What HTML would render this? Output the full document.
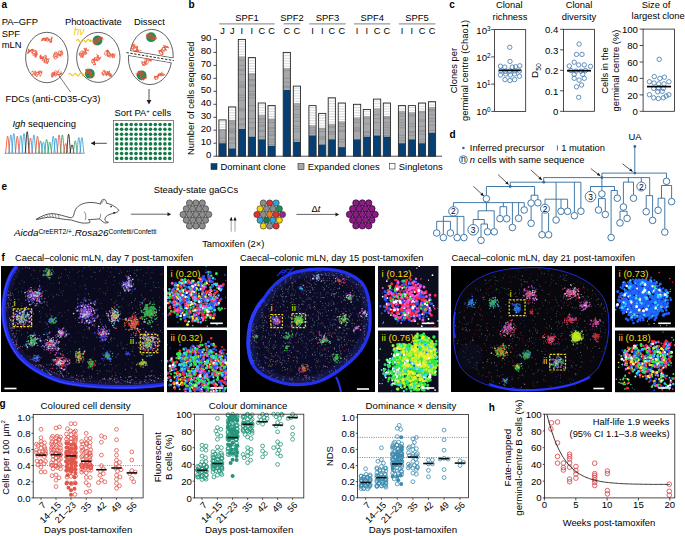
<!DOCTYPE html>
<html><head><meta charset="utf-8"><style>
html,body{margin:0;padding:0;background:#fff;}
svg{display:block;}
text{font-family:"Liberation Sans", sans-serif;}
</style></head><body>
<svg width="685" height="536" viewBox="0 0 685 536">
<text x="1.5" y="8" font-size="10" fill="#000" font-weight="bold">a</text>
<text x="1.7" y="25.2" font-size="9.4">PA–GFP</text>
<text x="1.7" y="36.6" font-size="9.4">SPF</text>
<text x="1.7" y="47.6" font-size="9.4">mLN</text>
<text x="64.9" y="25.4" font-size="9.4">Photoactivate</text>
<text x="134" y="25.4" font-size="9.4">Dissect</text>
<ellipse cx="46.8" cy="57.5" rx="21.2" ry="25.2" fill="none" stroke="#231f20" stroke-width="0.7"/>
<ellipse cx="98.3" cy="57.4" rx="21.7" ry="25" fill="none" stroke="#231f20" stroke-width="0.7"/>
<defs><clipPath id="cu"><polygon points="118,18 182,18 182,59.49 118,48.61"/></clipPath><clipPath id="cl"><polygon points="118,53.62 182,64.50 182,96 118,96"/></clipPath></defs>
<ellipse cx="151.6" cy="56.0" rx="21.6" ry="26.6" fill="none" stroke="#231f20" stroke-width="0.7" clip-path="url(#cu)"/>
<ellipse cx="150.0" cy="58.0" rx="21.6" ry="26.6" fill="none" stroke="#231f20" stroke-width="0.7" clip-path="url(#cl)"/>
<line x1="130.4" y1="50.7" x2="173.1" y2="58" stroke="#231f20" stroke-width="0.7"/>
<line x1="128.5" y1="55.4" x2="171.3" y2="62.7" stroke="#231f20" stroke-width="0.7"/>
<g transform="rotate(-9 47 40.3)" fill="none" stroke="#ea4a2c" stroke-width="0.65"><path d="M42.2 39.9 Q43.6 37 43.9 37.4 Q45.5 38 45.7 40.8 Q46.4 38.2 47.4 37.6 Q47.6 39.4 49.2 40.6 Q50.3 42.3 50.9 43.2 Q52 38.5 52.7 37.5"/><path d="M41.5 40.5 Q42.2 39.4 43.2 37.9 Q44.2 40.1 45 40.8 Q46 38 46.7 37.7 Q47.9 38 48.5 37.7 Q49.3 39.5 50.2 41.1 Q51 43.3 52 42.1"/><path d="M41.6 39.4 Q42.9 37.1 43.4 38.2 Q44.2 38 45.1 39 Q46.2 37.8 46.9 40 Q47.2 39.5 48.6 40.4 Q49.4 43.6 50.4 43.1 Q51.3 41.5 52.1 37.6"/><path d="M42.1 39.7 Q42.9 40.7 43.8 39.3 Q44 37.5 45.6 37.5 Q45.7 40.5 47.3 41.6 Q48.3 41 49.1 39.1 Q50.3 41.1 50.8 39.9 Q52.4 39 52.6 39.3"/></g>
<g transform="rotate(28 32.7 52.9)" fill="none" stroke="#ea4a2c" stroke-width="0.65"><path d="M27.1 51.2 Q27.3 51.9 28.8 54.6 Q30.3 51.7 30.6 52.2 Q31.5 53.9 32.3 52.6 Q33.8 52.9 34.1 55 Q34.7 55.2 35.8 52.3 Q36.1 52.8 37.6 55.9"/><path d="M27.2 51.9 Q28.2 51.4 28.9 52.8 Q29.7 50.7 30.7 49.7 Q32.3 52.3 32.4 53.3 Q33.5 53.9 34.2 53 Q35.7 52.6 35.9 50 Q37.3 52.2 37.7 55.3"/><path d="M27.3 51.4 Q27.5 50.9 29.1 53.8 Q29.4 51.8 30.8 51 Q30.9 49.1 32.6 50 Q33.3 48.3 34.3 50.3 Q35.4 51.4 36.1 55.3 Q36.7 52.8 37.8 51.3"/><path d="M27.1 54.2 Q27.9 55.1 28.8 56.1 Q29.1 52.5 30.6 50.2 Q32 49.4 32.3 51.4 Q33.9 50.7 34.1 49.8 Q35 48.3 35.8 50.6 Q37.5 53.3 37.6 53.1"/></g>
<g transform="rotate(39 44.5 58.7)" fill="none" stroke="#ea4a2c" stroke-width="0.65"><path d="M39.6 58.8 Q40.2 59 41.3 61.4 Q42.2 60.7 43.1 59 Q44.4 60.2 44.8 59.4 Q45.3 57.7 46.6 56.7 Q47 58.7 48.3 60.7 Q50 61.6 50.1 60.2"/><path d="M39.2 57.6 Q39.8 59.7 41 59.4 Q41.6 61.7 42.7 60.2 Q43 57.9 44.5 56 Q45.3 58.8 46.2 57.6 Q46.3 60.2 48 59.4 Q49.1 59.9 49.7 57.7"/><path d="M38.9 58.3 Q39.3 60.7 40.6 60.1 Q41.7 57.5 42.4 58.3 Q43.6 59.8 44.1 61.6 Q44.3 59.6 45.9 60.3 Q46 61.5 47.6 61.9 Q48.7 60.6 49.4 58.5"/><path d="M39.3 58.6 Q39.7 60.3 41.1 61.5 Q42.4 59.5 42.8 55.6 Q44.1 54.4 44.6 56.1 Q45 60.5 46.3 61.9 Q46.8 58.8 48.1 55.6 Q48.7 58.2 49.8 60.4"/></g>
<g transform="rotate(-34 57.9 54.5)" fill="none" stroke="#ea4a2c" stroke-width="0.65"><path d="M52.2 55.4 Q53.3 57.5 54 57.1 Q55.4 57.4 55.7 54.6 Q56 53.4 57.5 52.1 Q58.8 54.9 59.2 56.9 Q59.5 55.2 61 56.3 Q61.2 54 62.7 55.3"/><path d="M52.8 54.6 Q54.1 56 54.6 54.4 Q55 51.2 56.3 51.6 Q57.1 49.9 58.1 51.9 Q58.3 53.8 59.8 57.1 Q60.9 56.1 61.6 57.6 Q62.5 56.5 63.3 53.1"/><path d="M52.7 53.6 Q54.1 55.8 54.4 54.7 Q55.9 54.8 56.2 57.2 Q56.9 55.3 57.9 54.2 Q59.1 53.4 59.7 53.3 Q60.2 51.5 61.4 52.6 Q63 55 63.2 56.3"/><path d="M52.5 53.6 Q53.3 53.8 54.3 52.1 Q55.8 50.7 56 51.9 Q56.4 54.6 57.8 55.6 Q58.5 56.3 59.5 57.7 Q59.7 55.1 61.3 53.6 Q62.1 54.3 63 53.4"/></g>
<g transform="rotate(-1 36.9 73.8)" fill="none" stroke="#ea4a2c" stroke-width="0.65"><path d="M31.5 74.3 Q31.7 76 33.2 73.9 Q34.9 73.2 35 75.7 Q35.1 75.1 36.7 72.3 Q37 72 38.5 72.3 Q39.9 73.4 40.2 76.5 Q41.8 74.3 42 71.5"/><path d="M31.9 72.3 Q33 71.3 33.6 70.9 Q35.2 71.5 35.4 71 Q35.6 74.8 37.1 75.8 Q38.6 73.2 38.9 71 Q39.8 73.6 40.6 72.8 Q40.9 72.6 42.4 72.3"/><path d="M31.4 72.3 Q31.5 70.8 33.1 71.6 Q33.7 73.1 34.9 72.6 Q35.8 71.2 36.6 72.4 Q36.7 71.6 38.4 72.8 Q39.6 71.9 40.1 70.6 Q41 73 41.9 71.8"/><path d="M31.3 75 Q32.1 75.5 33 73.4 Q33.9 74 34.8 73.1 Q35.4 76.3 36.5 76.9 Q37.6 75.7 38.3 75.1 Q38.4 72.5 40 72.8 Q41.3 70.9 41.8 71"/></g>
<g transform="rotate(-30 56.2 73.8)" fill="none" stroke="#ea4a2c" stroke-width="0.65"><path d="M50.5 74.4 Q51.4 75.6 52.3 73 Q53.4 71.9 54 74.4 Q54.5 71.1 55.8 71.8 Q56.4 74.3 57.5 72.9 Q57.6 74.3 59.3 72.7 Q59.6 71.7 61 72"/><path d="M50.5 73 Q51 75 52.3 74.8 Q53.7 71.6 54 71.1 Q54.7 72 55.8 74.4 Q56 76.3 57.5 74.6 Q57.9 76.9 59.3 76.1 Q60.3 76.9 61 75.6"/><path d="M51.2 73.8 Q52.2 71.7 52.9 72.4 Q54.1 74.2 54.7 75.9 Q55.9 74.6 56.4 73.3 Q57.7 75.2 58.2 76.5 Q58.3 76.9 59.9 75.8 Q61.1 77.6 61.7 75.7"/><path d="M51.1 72.2 Q52.2 73.4 52.8 70.8 Q53.6 70.1 54.6 73 Q55.5 70.8 56.3 70.7 Q57.1 69.7 58.1 72.3 Q59.6 72.8 59.8 76.6 Q61.1 75.2 61.6 74"/></g>
<circle cx="97.5" cy="40.5" r="4.9" fill="#1e8c5a"/>
<circle cx="89.8" cy="73.7" r="4.9" fill="#1e8c5a"/>
<circle cx="151.1" cy="37.2" r="4.9" fill="#1e8c5a"/>
<circle cx="141.6" cy="75.3" r="4.9" fill="#1e8c5a"/>
<g transform="rotate(-41 97.7 40.3)" fill="none" stroke="#ea4a2c" stroke-width="0.65"><path d="M92.8 39.3 Q93.2 41.2 94.5 42 Q96 39.3 96.3 40 Q96.8 39.7 98 43 Q98.4 42.5 99.8 41.2 Q100.9 41 101.5 39.2 Q101.8 40.1 103.3 41.1"/><path d="M92.4 42.1 Q92.9 39.8 94.2 37.7 Q94.7 39.5 95.9 41.7 Q97.6 42 97.7 42 Q97.9 40.4 99.4 39.1 Q99.6 39 101.2 38.9 Q102.9 40.8 102.9 43.5"/><path d="M92.9 41.9 Q93.1 40.7 94.6 37.5 Q95.3 38.6 96.4 38.8 Q96.9 38.4 98.1 41.2 Q99 41.8 99.9 39.4 Q100.2 41.3 101.6 39.6 Q102.3 41.5 103.4 41.5"/><path d="M92.4 39.8 Q93 38.1 94.1 37.8 Q94.8 40.3 95.9 39.2 Q96 39.7 97.6 38.3 Q97.8 38.1 99.4 38.7 Q99.6 42.4 101.1 42.7 Q102.6 41.5 102.9 42"/></g>
<g transform="rotate(-44 83.7 52.6)" fill="none" stroke="#ea4a2c" stroke-width="0.65"><path d="M78.8 51.8 Q79.3 52.7 80.5 55.4 Q80.9 53.5 82.3 52.7 Q83.8 55.4 84 55.6 Q85.6 56.3 85.8 53.5 Q87 51.4 87.5 52.9 Q88.3 54.5 89.3 54.1"/><path d="M78.6 51.8 Q80.2 49.2 80.3 49.7 Q81 50.2 82.1 52.4 Q83.7 52.3 83.8 54.2 Q84.4 54.1 85.6 53.6 Q85.9 51.4 87.3 51.9 Q88.9 51.3 89.1 50.7"/><path d="M78.2 54.1 Q79 53.5 79.9 55.8 Q80.1 52.6 81.7 50.6 Q82.1 49.3 83.4 49.9 Q84.9 52.5 85.2 53.1 Q85.9 52.6 86.9 52 Q87.5 50.2 88.7 51.8"/><path d="M78.2 54.4 Q79.1 52.8 80 50.2 Q80.4 51.6 81.7 55 Q82.4 52.7 83.5 51 Q84.9 54.7 85.2 55.6 Q85.4 53.4 87 49.5 Q87.8 52.7 88.7 55.2"/></g>
<g transform="rotate(-50 95.9 59.6)" fill="none" stroke="#ea4a2c" stroke-width="0.65"><path d="M90.2 61.2 Q91.1 61.7 92 62.4 Q93.3 59.7 93.7 59.3 Q95.4 56.7 95.5 57.3 Q96.7 60.9 97.2 61.7 Q97.4 63 99 62.2 Q99.2 59.5 100.7 56.4"/><path d="M90.2 60.4 Q91.3 61.6 91.9 62.6 Q93.2 59.3 93.7 59.2 Q95.3 57.5 95.4 58.3 Q96.8 56.2 97.2 58 Q98.9 58.1 98.9 59.8 Q100.4 58.1 100.7 58.4"/><path d="M90.7 59.8 Q91.4 58.8 92.4 56.5 Q92.8 58.2 94.2 56.7 Q94.4 57.5 95.9 60.6 Q96.6 59.8 97.7 59.1 Q98.9 59.4 99.4 60.9 Q99.5 59.1 101.2 58.9"/><path d="M91 58 Q91.4 59.8 92.7 59.6 Q93.6 57.7 94.5 57.6 Q94.7 60.4 96.2 62.1 Q97.8 61.2 98 60.3 Q98.2 61.7 99.7 62.3 Q99.9 60.4 101.5 62.3"/></g>
<g transform="rotate(26 109.9 54.3)" fill="none" stroke="#ea4a2c" stroke-width="0.65"><path d="M104.3 52.6 Q105 53.6 106 51.4 Q107.3 56.1 107.8 56.8 Q108.4 55.7 109.5 57.1 Q110.8 55.2 111.3 57.1 Q112 55.7 113 55.4 Q113.4 52.3 114.8 53.2"/><path d="M104.4 53.7 Q104.7 57.4 106.2 57.3 Q106.8 56.1 107.9 52.4 Q108.7 52.6 109.7 56.4 Q110.4 56.9 111.4 54.1 Q112.1 54.8 113.2 52.3 Q113.9 53 114.9 51.2"/><path d="M104.9 52.6 Q105.1 53.6 106.7 51.3 Q107.9 53.6 108.4 52.7 Q108.9 54.8 110.2 53.3 Q110.7 55 111.9 55.1 Q112.4 52.1 113.7 53.1 Q115.2 55.1 115.4 56"/><path d="M105.1 52.5 Q105.9 54.4 106.8 52.6 Q107.5 53.9 108.6 57.3 Q109.5 57.3 110.3 53.8 Q111.7 54 112.1 52.2 Q113.4 54.7 113.8 56.4 Q114.4 54.2 115.6 53.2"/></g>
<g transform="rotate(50 88.9 73.6)" fill="none" stroke="#ea4a2c" stroke-width="0.65"><path d="M83.7 73.6 Q84.1 72.9 85.5 72.9 Q86.3 73.9 87.2 74.6 Q88 71.4 89 71.4 Q90.1 69.9 90.7 70.8 Q92.4 73.8 92.5 73.1 Q92.8 72.1 94.2 71.5"/><path d="M84 72.6 Q85.4 74.3 85.8 73.9 Q86.3 73.8 87.5 75.4 Q88 72.8 89.3 72.1 Q89.7 71.6 91 73.2 Q92.6 71.4 92.8 72.2 Q93.3 70.5 94.5 70.8"/><path d="M83.7 74.2 Q84.5 70.7 85.4 71 Q86.9 69.6 87.2 70.4 Q87.8 73.3 88.9 73.3 Q89.1 73 90.7 71.9 Q91.1 72.1 92.4 75.7 Q92.8 75.1 94.2 73.7"/><path d="M83.9 74.2 Q85 73.1 85.7 70.4 Q85.8 70.9 87.4 72.6 Q89.1 69.8 89.2 70.6 Q90.7 74.1 90.9 75.1 Q91.7 74.9 92.7 75.7 Q92.9 73.2 94.4 74.4"/></g>
<g transform="rotate(13 107.3 73.6)" fill="none" stroke="#ea4a2c" stroke-width="0.65"><path d="M102.1 72 Q102.8 71.7 103.8 71 Q104.1 71.4 105.6 74.5 Q106.3 73.8 107.3 74.9 Q108.9 72.9 109.1 72.3 Q109.7 72.9 110.8 74 Q112.5 74.5 112.6 76"/><path d="M101.7 74.5 Q101.8 74.7 103.5 71.7 Q104.9 72 105.2 73.1 Q106.1 73.2 107 76.1 Q108 73.8 108.7 70.4 Q109 73.8 110.5 76.3 Q111.4 73.1 112.2 72.8"/><path d="M101.8 73.7 Q102.1 75 103.6 76.4 Q105.2 74.8 105.3 75.6 Q106.9 75.3 107.1 71.2 Q107.2 74 108.8 73.5 Q110.4 73.7 110.6 72.9 Q110.9 75.4 112.3 75.7"/><path d="M101.8 73.2 Q103.2 73.3 103.5 75.9 Q104.2 73.9 105.3 71.8 Q105.5 71.3 107 72.8 Q108.5 72.1 108.8 75.1 Q110.1 72.7 110.5 74 Q110.8 75.3 112.3 75.8"/></g>
<g transform="rotate(20 151.1 36.8)" fill="none" stroke="#ea4a2c" stroke-width="0.65"><path d="M146.2 37.8 Q146.8 36.8 147.9 37.8 Q148.6 36.9 149.7 36.1 Q149.8 37.3 151.4 34.7 Q152.2 36.1 153.2 36.6 Q154.6 39 154.9 38.9 Q155.1 36.9 156.7 36.2"/><path d="M145.7 37.9 Q146.8 35.5 147.5 36.8 Q149 34.9 149.2 34.4 Q149.4 37.3 151 38.2 Q152.1 39.9 152.7 39.4 Q152.9 37 154.5 33.7 Q154.7 34.4 156.2 38.1"/><path d="M146.2 36 Q147.6 38.2 148 38.8 Q148.4 39.9 149.7 38.2 Q150.2 37.2 151.5 37.5 Q153 37.4 153.2 37.5 Q154.9 36.3 155 35.2 Q156 35.2 156.7 37.4"/><path d="M145.7 35.7 Q146.8 35 147.5 36.2 Q148.2 37.1 149.2 35.7 Q150.5 33.7 151 35.3 Q152.6 37 152.7 39.1 Q153.9 39.6 154.5 36.9 Q155.4 37.5 156.2 35.2"/></g>
<g transform="rotate(44 135.3 49.1)" fill="none" stroke="#ea4a2c" stroke-width="0.65"><path d="M130.3 48.2 Q131.3 49.7 132.1 52.3 Q132.9 50.3 133.8 50.8 Q134 52 135.6 50.7 Q136.7 51 137.3 47.5 Q138.5 47.8 139.1 49.7 Q139.2 46.4 140.8 45.9"/><path d="M130.2 48.8 Q131.7 47.5 131.9 49.2 Q133 46.3 133.7 47.3 Q134.3 45 135.4 45.9 Q135.8 47.4 137.2 48.2 Q137.6 49.4 138.9 49.7 Q139.2 51.1 140.7 48.9"/><path d="M129.8 47.8 Q130.9 48.6 131.5 46.5 Q132.3 47.8 133.3 50.9 Q134.4 48.7 135 45.9 Q136.2 46.8 136.8 48.1 Q138 49 138.5 51.9 Q138.7 52 140.3 51.7"/><path d="M130 48.1 Q131.3 45.2 131.7 46.2 Q133.3 46.4 133.5 49.4 Q134.5 48.3 135.2 47.1 Q136.6 47.3 137 50 Q137.5 47.1 138.7 47.9 Q140 50.6 140.5 51.6"/></g>
<g transform="rotate(-50 163.4 49.9)" fill="none" stroke="#ea4a2c" stroke-width="0.65"><path d="M158 49.7 Q158.2 51.7 159.8 52.6 Q161.4 49.2 161.5 47.8 Q161.8 50.9 163.3 50.8 Q164.9 50.8 165 52.7 Q166.1 50.5 166.8 47 Q168.3 50.9 168.5 51.1"/><path d="M157.9 51.5 Q158.2 52 159.7 52.5 Q161.2 51.5 161.4 47.8 Q161.8 49.5 163.2 48 Q163.9 48.3 164.9 47.9 Q166.4 50.2 166.7 49.1 Q168.1 51.2 168.4 53"/><path d="M158.1 50 Q158.2 50.2 159.9 46.7 Q161.4 48.6 161.6 48.2 Q162.6 48.9 163.4 49.2 Q163.5 46.9 165.1 47.8 Q165.5 51.1 166.9 50.7 Q167 49.5 168.6 51.2"/><path d="M158.3 48.2 Q158.4 49.1 160 47.1 Q160.4 51.2 161.8 51.6 Q162.9 52.4 163.5 50.1 Q164.8 50.4 165.3 51.6 Q165.7 48 167 48.3 Q168.6 51.6 168.8 52.8"/></g>
<g transform="rotate(-39 146.7 61.3)" fill="none" stroke="#ea4a2c" stroke-width="0.65"><path d="M141.8 61.8 Q142 59.2 143.5 59.9 Q143.9 60.7 145.3 63 Q145.4 60.9 147 60.8 Q148.2 59.8 148.8 59.9 Q150.4 60 150.5 60.1 Q151.6 60 152.3 63.6"/><path d="M141.4 61.1 Q142 62.9 143.1 63.1 Q143.5 63.8 144.9 61.5 Q146.2 58.8 146.6 58.6 Q147 59.4 148.4 58.1 Q148.4 61.2 150.1 64.4 Q151.5 61.6 151.9 61.2"/><path d="M141.4 60.7 Q141.9 63.9 143.2 63.5 Q143.6 62.5 144.9 59.9 Q145.2 61.1 146.7 61.3 Q148 60.7 148.4 58.6 Q149.5 60.3 150.2 63.2 Q150.9 63.5 151.9 60.7"/><path d="M141 62.8 Q141.4 59.5 142.8 58.2 Q143.7 60.6 144.5 63.9 Q145 63.7 146.3 63.8 Q147.6 63.7 148 61.5 Q148.7 61.2 149.8 62.3 Q151.2 61.3 151.5 59.1"/></g>
<g transform="rotate(44 141.5 75.3)" fill="none" stroke="#ea4a2c" stroke-width="0.65"><path d="M136.1 75.2 Q136.6 74.8 137.8 76.5 Q138.9 76.2 139.6 74.2 Q140.1 75.8 141.3 75.4 Q142.4 77.3 143.1 77.4 Q144.3 78.3 144.8 78.4 Q145.3 78.2 146.6 74.3"/><path d="M136 77 Q136.3 78.4 137.8 78.5 Q138.1 74.5 139.5 73.3 Q140.1 72.8 141.3 74 Q142.8 72.5 143 72.8 Q143.8 73.3 144.8 77.8 Q145.5 76.6 146.5 77.6"/><path d="M136.7 74.5 Q137.2 74.3 138.5 72.2 Q138.9 73.6 140.2 72.1 Q141.2 74.9 142 76.6 Q143.1 77.7 143.7 77.5 Q144.8 78 145.5 77.8 Q145.8 74.1 147.2 73.5"/><path d="M136.2 74.4 Q137.7 74.5 137.9 76.6 Q139.1 74.3 139.7 74.7 Q140.5 74.2 141.4 77.6 Q142.3 78.2 143.2 77.6 Q144.7 77 144.9 77.7 Q146.3 76.6 146.7 72.1"/></g>
<g transform="rotate(-37 159 75.3)" fill="none" stroke="#ea4a2c" stroke-width="0.65"><path d="M153.3 75.5 Q154.6 76 155 73.1 Q155.3 74.6 156.8 75.4 Q158 75.5 158.5 75.6 Q159.9 76 160.3 76.2 Q161.9 74.3 162 74.7 Q162.7 76.7 163.8 76.5"/><path d="M153.4 77.1 Q153.5 74.8 155.1 74.4 Q155.2 74.2 156.9 74.6 Q158.1 74.1 158.6 74.8 Q159.1 75.2 160.4 73.8 Q161.3 74.8 162.1 78.2 Q162.8 76.6 163.9 77.3"/><path d="M153.4 76.3 Q154.5 76.7 155.1 77.3 Q155.6 78.4 156.9 75.7 Q158 76.3 158.6 74.3 Q159.5 75 160.4 77.4 Q160.7 77.8 162.1 75.6 Q163.6 74.1 163.9 74.4"/><path d="M153.6 74.4 Q154 72.6 155.4 74.8 Q155.9 74.8 157.1 76.7 Q158 75.1 158.9 74 Q160 74.6 160.6 76.2 Q162.1 75.4 162.4 78.1 Q163.9 78.9 164.1 77.4"/></g>
<polygon points="130.63,51.21 172.94,58.40 171.06,62.19 128.70,54.99" fill="#fff"/>
<line x1="126.5" y1="52.6" x2="173.8" y2="60.6" stroke="#231f20" stroke-width="0.95" stroke-dasharray="2.4 1.5"/>
<text x="73.8" y="35.2" font-size="10" fill="#f5c800" font-style="italic" font-family=""Liberation Serif", serif">hν</text>
<path d="M76.5 40.8 Q77.8 38 79.1 40.8 Q80.4 43.6 81.7 40.8 Q83 38 84.3 40.8 Q85.6 43.6 86.9 40.8 Q88.2 38 89.5 40.8" fill="none" stroke="#f5c800" stroke-width="1.1"/>
<path d="M89.5 39 L92.5 40.8 L89.5 42.6 Z" fill="#f2c400"/>
<path d="M68.5 74.6 Q69.8 71.8 71.2 74.6 Q72.5 77.4 73.9 74.6 Q75.2 71.8 76.6 74.6 Q78 77.4 79.3 74.6 Q80.7 71.8 82 74.6" fill="none" stroke="#f5c800" stroke-width="1.1"/>
<path d="M82 72.8 L85 74.6 L82 76.4 Z" fill="#f2c400"/>
<line x1="58.5" y1="75" x2="70.5" y2="92" stroke="#231f20" stroke-width="0.6"/>
<text x="5.5" y="101.5" font-size="9.4">FDCs (anti-CD35-Cy3)</text>
<line x1="149" y1="89" x2="149" y2="101" stroke="#231f20" stroke-width="0.8"/>
<path d="M146.6 100 L149 104.5 L151.4 100 Z" fill="#231f20"/>
<text x="114.6" y="116" font-size="9.4">Sort PA<tspan font-size="6" dy="-3.5">+</tspan><tspan dy="3.5"> cells</tspan></text>
<rect x="113.6" y="120.4" width="60" height="42.2" fill="#fff" stroke="#555" stroke-width="0.7"/>
<circle cx="116.8" cy="124.5" r="1.8" fill="#137a45"/>
<circle cx="121.6" cy="124.5" r="1.8" fill="#137a45"/>
<circle cx="126.4" cy="124.5" r="1.8" fill="#137a45"/>
<circle cx="131.2" cy="124.5" r="1.8" fill="#137a45"/>
<circle cx="136" cy="124.5" r="1.8" fill="#137a45"/>
<circle cx="140.8" cy="124.5" r="1.8" fill="#137a45"/>
<circle cx="145.7" cy="124.5" r="1.8" fill="#137a45"/>
<circle cx="150.5" cy="124.5" r="1.8" fill="#137a45"/>
<circle cx="155.3" cy="124.5" r="1.8" fill="#137a45"/>
<circle cx="160.1" cy="124.5" r="1.8" fill="#137a45"/>
<circle cx="164.9" cy="124.5" r="1.8" fill="#137a45"/>
<circle cx="169.7" cy="124.5" r="1.8" fill="#137a45"/>
<circle cx="116.8" cy="129.3" r="1.8" fill="#137a45"/>
<circle cx="121.6" cy="129.3" r="1.8" fill="#137a45"/>
<circle cx="126.4" cy="129.3" r="1.8" fill="#137a45"/>
<circle cx="131.2" cy="129.3" r="1.8" fill="#137a45"/>
<circle cx="136" cy="129.3" r="1.8" fill="#137a45"/>
<circle cx="140.8" cy="129.3" r="1.8" fill="#137a45"/>
<circle cx="145.7" cy="129.3" r="1.8" fill="#137a45"/>
<circle cx="150.5" cy="129.3" r="1.8" fill="#137a45"/>
<circle cx="155.3" cy="129.3" r="1.8" fill="#137a45"/>
<circle cx="160.1" cy="129.3" r="1.8" fill="#137a45"/>
<circle cx="164.9" cy="129.3" r="1.8" fill="#137a45"/>
<circle cx="169.7" cy="129.3" r="1.8" fill="#137a45"/>
<circle cx="116.8" cy="134.2" r="1.8" fill="#137a45"/>
<circle cx="121.6" cy="134.2" r="1.8" fill="#137a45"/>
<circle cx="126.4" cy="134.2" r="1.8" fill="#137a45"/>
<circle cx="131.2" cy="134.2" r="1.8" fill="#137a45"/>
<circle cx="136" cy="134.2" r="1.8" fill="#137a45"/>
<circle cx="140.8" cy="134.2" r="1.8" fill="#137a45"/>
<circle cx="145.7" cy="134.2" r="1.8" fill="#137a45"/>
<circle cx="150.5" cy="134.2" r="1.8" fill="#137a45"/>
<circle cx="155.3" cy="134.2" r="1.8" fill="#137a45"/>
<circle cx="160.1" cy="134.2" r="1.8" fill="#137a45"/>
<circle cx="164.9" cy="134.2" r="1.8" fill="#137a45"/>
<circle cx="169.7" cy="134.2" r="1.8" fill="#137a45"/>
<circle cx="116.8" cy="139" r="1.8" fill="#137a45"/>
<circle cx="121.6" cy="139" r="1.8" fill="#137a45"/>
<circle cx="126.4" cy="139" r="1.8" fill="#137a45"/>
<circle cx="131.2" cy="139" r="1.8" fill="#137a45"/>
<circle cx="136" cy="139" r="1.8" fill="#137a45"/>
<circle cx="140.8" cy="139" r="1.8" fill="#137a45"/>
<circle cx="145.7" cy="139" r="1.8" fill="#137a45"/>
<circle cx="150.5" cy="139" r="1.8" fill="#137a45"/>
<circle cx="155.3" cy="139" r="1.8" fill="#137a45"/>
<circle cx="160.1" cy="139" r="1.8" fill="#137a45"/>
<circle cx="164.9" cy="139" r="1.8" fill="#137a45"/>
<circle cx="169.7" cy="139" r="1.8" fill="#137a45"/>
<circle cx="116.8" cy="143.9" r="1.8" fill="#137a45"/>
<circle cx="121.6" cy="143.9" r="1.8" fill="#137a45"/>
<circle cx="126.4" cy="143.9" r="1.8" fill="#137a45"/>
<circle cx="131.2" cy="143.9" r="1.8" fill="#137a45"/>
<circle cx="136" cy="143.9" r="1.8" fill="#137a45"/>
<circle cx="140.8" cy="143.9" r="1.8" fill="#137a45"/>
<circle cx="145.7" cy="143.9" r="1.8" fill="#137a45"/>
<circle cx="150.5" cy="143.9" r="1.8" fill="#137a45"/>
<circle cx="155.3" cy="143.9" r="1.8" fill="#137a45"/>
<circle cx="160.1" cy="143.9" r="1.8" fill="#137a45"/>
<circle cx="164.9" cy="143.9" r="1.8" fill="#137a45"/>
<circle cx="169.7" cy="143.9" r="1.8" fill="#137a45"/>
<circle cx="116.8" cy="148.7" r="1.8" fill="#137a45"/>
<circle cx="121.6" cy="148.7" r="1.8" fill="#137a45"/>
<circle cx="126.4" cy="148.7" r="1.8" fill="#137a45"/>
<circle cx="131.2" cy="148.7" r="1.8" fill="#137a45"/>
<circle cx="136" cy="148.7" r="1.8" fill="#137a45"/>
<circle cx="140.8" cy="148.7" r="1.8" fill="#137a45"/>
<circle cx="145.7" cy="148.7" r="1.8" fill="#137a45"/>
<circle cx="150.5" cy="148.7" r="1.8" fill="#137a45"/>
<circle cx="155.3" cy="148.7" r="1.8" fill="#137a45"/>
<circle cx="160.1" cy="148.7" r="1.8" fill="#137a45"/>
<circle cx="164.9" cy="148.7" r="1.8" fill="#137a45"/>
<circle cx="169.7" cy="148.7" r="1.8" fill="#137a45"/>
<circle cx="116.8" cy="153.5" r="1.8" fill="#137a45"/>
<circle cx="121.6" cy="153.5" r="1.8" fill="#137a45"/>
<circle cx="126.4" cy="153.5" r="1.8" fill="#137a45"/>
<circle cx="131.2" cy="153.5" r="1.8" fill="#137a45"/>
<circle cx="136" cy="153.5" r="1.8" fill="#137a45"/>
<circle cx="140.8" cy="153.5" r="1.8" fill="#137a45"/>
<circle cx="145.7" cy="153.5" r="1.8" fill="#137a45"/>
<circle cx="150.5" cy="153.5" r="1.8" fill="#137a45"/>
<circle cx="155.3" cy="153.5" r="1.8" fill="#137a45"/>
<circle cx="160.1" cy="153.5" r="1.8" fill="#137a45"/>
<circle cx="164.9" cy="153.5" r="1.8" fill="#137a45"/>
<circle cx="169.7" cy="153.5" r="1.8" fill="#137a45"/>
<circle cx="116.8" cy="158.4" r="1.8" fill="#137a45"/>
<circle cx="121.6" cy="158.4" r="1.8" fill="#137a45"/>
<circle cx="126.4" cy="158.4" r="1.8" fill="#137a45"/>
<circle cx="131.2" cy="158.4" r="1.8" fill="#137a45"/>
<circle cx="136" cy="158.4" r="1.8" fill="#137a45"/>
<circle cx="140.8" cy="158.4" r="1.8" fill="#137a45"/>
<circle cx="145.7" cy="158.4" r="1.8" fill="#137a45"/>
<circle cx="150.5" cy="158.4" r="1.8" fill="#137a45"/>
<circle cx="155.3" cy="158.4" r="1.8" fill="#137a45"/>
<circle cx="160.1" cy="158.4" r="1.8" fill="#137a45"/>
<circle cx="164.9" cy="158.4" r="1.8" fill="#137a45"/>
<circle cx="169.7" cy="158.4" r="1.8" fill="#137a45"/>
<line x1="106.8" y1="143.3" x2="94" y2="143.3" stroke="#231f20" stroke-width="0.8"/>
<path d="M95 141 L90.6 143.3 L95 145.6 Z" fill="#231f20"/>
<text x="12.4" y="126.6" font-size="9.4"><tspan font-style="italic">Igh</tspan> sequencing</text>
<path d="M5.4 153.3 C6.3 151.3 6.7 136.2 7.6 136.2 C8.5 136.2 8.9 151.3 9.8 153.3" fill="none" stroke="#e8472e" stroke-width="0.8"/>
<path d="M8.6 153.3 C9.5 151.3 9.9 134.9 10.8 134.9 C11.7 134.9 12.1 151.3 13 153.3" fill="none" stroke="#2a9ad6" stroke-width="0.8"/>
<path d="M11.6 153.3 C12.5 151.3 12.9 133.5 13.8 133.5 C14.7 133.5 15.1 151.3 16 153.3" fill="none" stroke="#2a9ad6" stroke-width="0.8"/>
<path d="M15.1 153.3 C16 151.3 16.4 136.2 17.3 136.2 C18.2 136.2 18.6 151.3 19.5 153.3" fill="none" stroke="#e8472e" stroke-width="0.8"/>
<path d="M18.6 153.3 C19.5 151.3 19.9 135.5 20.8 135.5 C21.7 135.5 22.1 151.3 23 153.3" fill="none" stroke="#2a9ad6" stroke-width="0.8"/>
<path d="M21.8 153.3 C22.7 151.3 23.1 133.5 24 133.5 C24.9 133.5 25.3 151.3 26.2 153.3" fill="none" stroke="#2a9ad6" stroke-width="0.8"/>
<path d="M25 153.3 C25.9 151.3 26.3 131.6 27.2 131.6 C28.1 131.6 28.5 151.3 29.4 153.3" fill="none" stroke="#111" stroke-width="0.8"/>
<path d="M28.3 153.3 C29.2 151.3 29.6 138.1 30.5 138.1 C31.4 138.1 31.8 151.3 32.7 153.3" fill="none" stroke="#e8472e" stroke-width="0.8"/>
<path d="M31.7 153.3 C32.6 151.3 33 134.9 33.9 134.9 C34.8 134.9 35.2 151.3 36.1 153.3" fill="none" stroke="#2a9ad6" stroke-width="0.8"/>
<path d="M35.3 153.3 C36.2 151.3 36.6 136.2 37.5 136.2 C38.4 136.2 38.8 151.3 39.7 153.3" fill="none" stroke="#e8472e" stroke-width="0.8"/>
<path d="M38.3 153.3 C39.2 151.3 39.6 140.8 40.5 140.8 C41.4 140.8 41.8 151.3 42.7 153.3" fill="none" stroke="#1a9a5a" stroke-width="0.8"/>
<path d="M41.2 153.3 C42.1 151.3 42.5 142.1 43.4 142.1 C44.3 142.1 44.7 151.3 45.6 153.3" fill="none" stroke="#2a9ad6" stroke-width="0.8"/>
<path d="M44.4 153.3 C45.3 151.3 45.7 139.5 46.6 139.5 C47.5 139.5 47.9 151.3 48.8 153.3" fill="none" stroke="#1a9a5a" stroke-width="0.8"/>
<path d="M47.5 153.3 C48.4 151.3 48.8 142.1 49.7 142.1 C50.6 142.1 51 151.3 51.9 153.3" fill="none" stroke="#1a9a5a" stroke-width="0.8"/>
<path d="M51 153.3 C51.9 151.3 52.3 136.2 53.2 136.2 C54.1 136.2 54.5 151.3 55.4 153.3" fill="none" stroke="#2a9ad6" stroke-width="0.8"/>
<path d="M53.6 153.3 C54.5 151.3 54.9 138.1 55.8 138.1 C56.7 138.1 57.1 151.3 58 153.3" fill="none" stroke="#2a9ad6" stroke-width="0.8"/>
<path d="M56.9 153.3 C57.8 151.3 58.2 134.9 59.1 134.9 C60 134.9 60.4 151.3 61.3 153.3" fill="none" stroke="#e8472e" stroke-width="0.8"/>
<path d="M60.2 153.3 C61.1 151.3 61.5 134.9 62.4 134.9 C63.3 134.9 63.7 151.3 64.6 153.3" fill="none" stroke="#1a9a5a" stroke-width="0.8"/>
<path d="M63.5 153.3 C64.4 151.3 64.8 143.4 65.7 143.4 C66.6 143.4 67 151.3 67.9 153.3" fill="none" stroke="#e8472e" stroke-width="0.8"/>
<path d="M66.4 153.3 C67.3 151.3 67.7 134.2 68.6 134.2 C69.5 134.2 69.9 151.3 70.8 153.3" fill="none" stroke="#111" stroke-width="0.8"/>
<path d="M69.8 153.3 C70.7 151.3 71.1 144.7 72 144.7 C72.9 144.7 73.3 151.3 74.2 153.3" fill="none" stroke="#111" stroke-width="0.8"/>
<path d="M73 153.3 C73.9 151.3 74.3 140.8 75.2 140.8 C76.1 140.8 76.5 151.3 77.4 153.3" fill="none" stroke="#1a9a5a" stroke-width="0.8"/>
<path d="M76.6 153.3 C77.5 151.3 77.9 137.5 78.8 137.5 C79.7 137.5 80.1 151.3 81 153.3" fill="none" stroke="#2a9ad6" stroke-width="0.8"/>
<path d="M79.7 153.3 C80.6 151.3 81 137.5 81.9 137.5 C82.8 137.5 83.2 151.3 84.1 153.3" fill="none" stroke="#2a9ad6" stroke-width="0.8"/>
<line x1="4.5" y1="153.3" x2="84.5" y2="153.3" stroke="#e8472e" stroke-width="0.7"/>
<text x="188.6" y="7.8" font-size="10" fill="#000" font-weight="bold">b</text>
<line x1="216.4" y1="39" x2="216.4" y2="156.2" stroke="#231f20" stroke-width="0.8"/>
<line x1="216" y1="156.2" x2="442" y2="156.2" stroke="#231f20" stroke-width="0.8"/>
<line x1="213.4" y1="156.2" x2="216.4" y2="156.2" stroke="#231f20" stroke-width="0.8"/>
<text x="211.4" y="158.1" font-size="9.6" text-anchor="end">0</text>
<line x1="213.4" y1="143.2" x2="216.4" y2="143.2" stroke="#231f20" stroke-width="0.8"/>
<text x="211.4" y="145.1" font-size="9.6" text-anchor="end">10</text>
<line x1="213.4" y1="130.2" x2="216.4" y2="130.2" stroke="#231f20" stroke-width="0.8"/>
<text x="211.4" y="132.2" font-size="9.6" text-anchor="end">20</text>
<line x1="213.4" y1="117.3" x2="216.4" y2="117.3" stroke="#231f20" stroke-width="0.8"/>
<text x="211.4" y="119.2" font-size="9.6" text-anchor="end">30</text>
<line x1="213.4" y1="104.3" x2="216.4" y2="104.3" stroke="#231f20" stroke-width="0.8"/>
<text x="211.4" y="106.2" font-size="9.6" text-anchor="end">40</text>
<line x1="213.4" y1="91.3" x2="216.4" y2="91.3" stroke="#231f20" stroke-width="0.8"/>
<text x="211.4" y="93.2" font-size="9.6" text-anchor="end">50</text>
<line x1="213.4" y1="78.3" x2="216.4" y2="78.3" stroke="#231f20" stroke-width="0.8"/>
<text x="211.4" y="80.2" font-size="9.6" text-anchor="end">60</text>
<line x1="213.4" y1="65.4" x2="216.4" y2="65.4" stroke="#231f20" stroke-width="0.8"/>
<text x="211.4" y="67.3" font-size="9.6" text-anchor="end">70</text>
<line x1="213.4" y1="52.4" x2="216.4" y2="52.4" stroke="#231f20" stroke-width="0.8"/>
<text x="211.4" y="54.3" font-size="9.6" text-anchor="end">80</text>
<line x1="213.4" y1="39.4" x2="216.4" y2="39.4" stroke="#231f20" stroke-width="0.8"/>
<text x="211.4" y="41.3" font-size="9.6" text-anchor="end">90</text>
<text x="193.8" y="98.2" font-size="9.4" text-anchor="middle" transform="rotate(-90 193.8 98.2)">Number of cells sequenced</text>
<rect x="218.9" y="127.7" width="7.2" height="1.3" fill="#ffffff"/>
<rect x="218.9" y="126.4" width="7.2" height="1.3" fill="#dcdcdd"/>
<rect x="218.9" y="125.1" width="7.2" height="1.3" fill="#ffffff"/>
<rect x="218.9" y="123.8" width="7.2" height="1.3" fill="#dcdcdd"/>
<rect x="218.9" y="122.5" width="7.2" height="1.3" fill="#ffffff"/>
<rect x="218.9" y="121.2" width="7.2" height="1.3" fill="#dcdcdd"/>
<rect x="218.9" y="119.9" width="7.2" height="1.3" fill="#ffffff"/>
<rect x="218.9" y="129" width="7.2" height="14.3" fill="#a7a8ab"/>
<line x1="218.9" y1="141.9" x2="226.1" y2="141.9" stroke="#838488" stroke-width="0.6"/>
<line x1="218.9" y1="138" x2="226.1" y2="138" stroke="#838488" stroke-width="0.6"/>
<line x1="218.9" y1="130.2" x2="226.1" y2="130.2" stroke="#838488" stroke-width="0.6"/>
<rect x="218.9" y="143.2" width="7.2" height="13" fill="#053f74"/>
<rect x="218.9" y="119.9" width="7.2" height="36.3" fill="none" stroke="#2b2b2b" stroke-width="0.9"/>
<rect x="228.6" y="118.6" width="7.2" height="1.3" fill="#ffffff"/>
<rect x="228.6" y="117.3" width="7.2" height="1.3" fill="#dcdcdd"/>
<rect x="228.6" y="116" width="7.2" height="1.3" fill="#ffffff"/>
<rect x="228.6" y="114.7" width="7.2" height="1.3" fill="#dcdcdd"/>
<rect x="228.6" y="113.4" width="7.2" height="1.3" fill="#ffffff"/>
<rect x="228.6" y="112.1" width="7.2" height="1.3" fill="#dcdcdd"/>
<rect x="228.6" y="110.8" width="7.2" height="1.3" fill="#ffffff"/>
<rect x="228.6" y="109.5" width="7.2" height="1.3" fill="#dcdcdd"/>
<rect x="228.6" y="108.2" width="7.2" height="1.3" fill="#ffffff"/>
<rect x="228.6" y="106.9" width="7.2" height="1.3" fill="#dcdcdd"/>
<rect x="228.6" y="119.9" width="7.2" height="28.5" fill="#a7a8ab"/>
<line x1="228.6" y1="143.2" x2="235.8" y2="143.2" stroke="#838488" stroke-width="0.6"/>
<line x1="228.6" y1="139.3" x2="235.8" y2="139.3" stroke="#838488" stroke-width="0.6"/>
<line x1="228.6" y1="138" x2="235.8" y2="138" stroke="#838488" stroke-width="0.6"/>
<line x1="228.6" y1="132.8" x2="235.8" y2="132.8" stroke="#838488" stroke-width="0.6"/>
<line x1="228.6" y1="131.5" x2="235.8" y2="131.5" stroke="#838488" stroke-width="0.6"/>
<line x1="228.6" y1="130.2" x2="235.8" y2="130.2" stroke="#838488" stroke-width="0.6"/>
<line x1="228.6" y1="129" x2="235.8" y2="129" stroke="#838488" stroke-width="0.6"/>
<line x1="228.6" y1="123.8" x2="235.8" y2="123.8" stroke="#838488" stroke-width="0.6"/>
<line x1="228.6" y1="121.2" x2="235.8" y2="121.2" stroke="#838488" stroke-width="0.6"/>
<rect x="228.6" y="148.4" width="7.2" height="7.8" fill="#053f74"/>
<rect x="228.6" y="106.9" width="7.2" height="49.3" fill="none" stroke="#2b2b2b" stroke-width="0.9"/>
<rect x="238.3" y="55" width="7.2" height="1.3" fill="#ffffff"/>
<rect x="238.3" y="53.7" width="7.2" height="1.3" fill="#dcdcdd"/>
<rect x="238.3" y="52.4" width="7.2" height="1.3" fill="#ffffff"/>
<rect x="238.3" y="51.1" width="7.2" height="1.3" fill="#dcdcdd"/>
<rect x="238.3" y="49.8" width="7.2" height="1.3" fill="#ffffff"/>
<rect x="238.3" y="48.5" width="7.2" height="1.3" fill="#dcdcdd"/>
<rect x="238.3" y="47.2" width="7.2" height="1.3" fill="#ffffff"/>
<rect x="238.3" y="45.9" width="7.2" height="1.3" fill="#dcdcdd"/>
<rect x="238.3" y="44.6" width="7.2" height="1.3" fill="#ffffff"/>
<rect x="238.3" y="43.3" width="7.2" height="1.3" fill="#dcdcdd"/>
<rect x="238.3" y="42" width="7.2" height="1.3" fill="#ffffff"/>
<rect x="238.3" y="40.7" width="7.2" height="1.3" fill="#dcdcdd"/>
<rect x="238.3" y="39.4" width="7.2" height="1.3" fill="#ffffff"/>
<rect x="238.3" y="56.3" width="7.2" height="72.7" fill="#a7a8ab"/>
<line x1="238.3" y1="125.1" x2="245.5" y2="125.1" stroke="#838488" stroke-width="0.6"/>
<line x1="238.3" y1="123.8" x2="245.5" y2="123.8" stroke="#838488" stroke-width="0.6"/>
<line x1="238.3" y1="119.9" x2="245.5" y2="119.9" stroke="#838488" stroke-width="0.6"/>
<line x1="238.3" y1="118.6" x2="245.5" y2="118.6" stroke="#838488" stroke-width="0.6"/>
<line x1="238.3" y1="110.8" x2="245.5" y2="110.8" stroke="#838488" stroke-width="0.6"/>
<line x1="238.3" y1="109.5" x2="245.5" y2="109.5" stroke="#838488" stroke-width="0.6"/>
<line x1="238.3" y1="108.2" x2="245.5" y2="108.2" stroke="#838488" stroke-width="0.6"/>
<line x1="238.3" y1="100.4" x2="245.5" y2="100.4" stroke="#838488" stroke-width="0.6"/>
<line x1="238.3" y1="97.8" x2="245.5" y2="97.8" stroke="#838488" stroke-width="0.6"/>
<line x1="238.3" y1="95.2" x2="245.5" y2="95.2" stroke="#838488" stroke-width="0.6"/>
<line x1="238.3" y1="87.4" x2="245.5" y2="87.4" stroke="#838488" stroke-width="0.6"/>
<line x1="238.3" y1="86.1" x2="245.5" y2="86.1" stroke="#838488" stroke-width="0.6"/>
<line x1="238.3" y1="84.8" x2="245.5" y2="84.8" stroke="#838488" stroke-width="0.6"/>
<line x1="238.3" y1="82.2" x2="245.5" y2="82.2" stroke="#838488" stroke-width="0.6"/>
<line x1="238.3" y1="74.5" x2="245.5" y2="74.5" stroke="#838488" stroke-width="0.6"/>
<line x1="238.3" y1="70.6" x2="245.5" y2="70.6" stroke="#838488" stroke-width="0.6"/>
<line x1="238.3" y1="69.3" x2="245.5" y2="69.3" stroke="#838488" stroke-width="0.6"/>
<line x1="238.3" y1="65.4" x2="245.5" y2="65.4" stroke="#838488" stroke-width="0.6"/>
<line x1="238.3" y1="60.2" x2="245.5" y2="60.2" stroke="#838488" stroke-width="0.6"/>
<rect x="238.3" y="129" width="7.2" height="27.2" fill="#053f74"/>
<rect x="238.3" y="39.4" width="7.2" height="116.8" fill="none" stroke="#2b2b2b" stroke-width="0.9"/>
<rect x="248.3" y="71.9" width="7.2" height="1.3" fill="#ffffff"/>
<rect x="248.3" y="70.6" width="7.2" height="1.3" fill="#dcdcdd"/>
<rect x="248.3" y="69.3" width="7.2" height="1.3" fill="#ffffff"/>
<rect x="248.3" y="68" width="7.2" height="1.3" fill="#dcdcdd"/>
<rect x="248.3" y="66.7" width="7.2" height="1.3" fill="#ffffff"/>
<rect x="248.3" y="65.4" width="7.2" height="1.3" fill="#dcdcdd"/>
<rect x="248.3" y="64.1" width="7.2" height="1.3" fill="#ffffff"/>
<rect x="248.3" y="62.8" width="7.2" height="1.3" fill="#dcdcdd"/>
<rect x="248.3" y="61.5" width="7.2" height="1.3" fill="#ffffff"/>
<rect x="248.3" y="60.2" width="7.2" height="1.3" fill="#dcdcdd"/>
<rect x="248.3" y="58.9" width="7.2" height="1.3" fill="#ffffff"/>
<rect x="248.3" y="57.6" width="7.2" height="1.3" fill="#dcdcdd"/>
<rect x="248.3" y="73.2" width="7.2" height="63.6" fill="#a7a8ab"/>
<line x1="248.3" y1="129" x2="255.5" y2="129" stroke="#838488" stroke-width="0.6"/>
<line x1="248.3" y1="127.7" x2="255.5" y2="127.7" stroke="#838488" stroke-width="0.6"/>
<line x1="248.3" y1="122.5" x2="255.5" y2="122.5" stroke="#838488" stroke-width="0.6"/>
<line x1="248.3" y1="118.6" x2="255.5" y2="118.6" stroke="#838488" stroke-width="0.6"/>
<line x1="248.3" y1="110.8" x2="255.5" y2="110.8" stroke="#838488" stroke-width="0.6"/>
<line x1="248.3" y1="105.6" x2="255.5" y2="105.6" stroke="#838488" stroke-width="0.6"/>
<line x1="248.3" y1="97.8" x2="255.5" y2="97.8" stroke="#838488" stroke-width="0.6"/>
<line x1="248.3" y1="95.2" x2="255.5" y2="95.2" stroke="#838488" stroke-width="0.6"/>
<line x1="248.3" y1="93.9" x2="255.5" y2="93.9" stroke="#838488" stroke-width="0.6"/>
<line x1="248.3" y1="91.3" x2="255.5" y2="91.3" stroke="#838488" stroke-width="0.6"/>
<line x1="248.3" y1="86.1" x2="255.5" y2="86.1" stroke="#838488" stroke-width="0.6"/>
<line x1="248.3" y1="84.8" x2="255.5" y2="84.8" stroke="#838488" stroke-width="0.6"/>
<line x1="248.3" y1="80.9" x2="255.5" y2="80.9" stroke="#838488" stroke-width="0.6"/>
<line x1="248.3" y1="79.6" x2="255.5" y2="79.6" stroke="#838488" stroke-width="0.6"/>
<line x1="248.3" y1="74.5" x2="255.5" y2="74.5" stroke="#838488" stroke-width="0.6"/>
<rect x="248.3" y="136.7" width="7.2" height="19.5" fill="#053f74"/>
<rect x="248.3" y="57.6" width="7.2" height="98.6" fill="none" stroke="#2b2b2b" stroke-width="0.9"/>
<rect x="258.2" y="113.4" width="7.2" height="1.3" fill="#ffffff"/>
<rect x="258.2" y="112.1" width="7.2" height="1.3" fill="#dcdcdd"/>
<rect x="258.2" y="110.8" width="7.2" height="1.3" fill="#ffffff"/>
<rect x="258.2" y="109.5" width="7.2" height="1.3" fill="#dcdcdd"/>
<rect x="258.2" y="108.2" width="7.2" height="1.3" fill="#ffffff"/>
<rect x="258.2" y="106.9" width="7.2" height="1.3" fill="#dcdcdd"/>
<rect x="258.2" y="105.6" width="7.2" height="1.3" fill="#ffffff"/>
<rect x="258.2" y="104.3" width="7.2" height="1.3" fill="#dcdcdd"/>
<rect x="258.2" y="103" width="7.2" height="1.3" fill="#ffffff"/>
<rect x="258.2" y="114.7" width="7.2" height="24.7" fill="#a7a8ab"/>
<line x1="258.2" y1="136.7" x2="265.4" y2="136.7" stroke="#838488" stroke-width="0.6"/>
<line x1="258.2" y1="131.5" x2="265.4" y2="131.5" stroke="#838488" stroke-width="0.6"/>
<line x1="258.2" y1="130.2" x2="265.4" y2="130.2" stroke="#838488" stroke-width="0.6"/>
<line x1="258.2" y1="126.4" x2="265.4" y2="126.4" stroke="#838488" stroke-width="0.6"/>
<line x1="258.2" y1="125.1" x2="265.4" y2="125.1" stroke="#838488" stroke-width="0.6"/>
<line x1="258.2" y1="122.5" x2="265.4" y2="122.5" stroke="#838488" stroke-width="0.6"/>
<line x1="258.2" y1="119.9" x2="265.4" y2="119.9" stroke="#838488" stroke-width="0.6"/>
<line x1="258.2" y1="118.6" x2="265.4" y2="118.6" stroke="#838488" stroke-width="0.6"/>
<rect x="258.2" y="139.3" width="7.2" height="16.9" fill="#053f74"/>
<rect x="258.2" y="103" width="7.2" height="53.2" fill="none" stroke="#2b2b2b" stroke-width="0.9"/>
<rect x="268" y="117.3" width="7.2" height="1.3" fill="#ffffff"/>
<rect x="268" y="116" width="7.2" height="1.3" fill="#dcdcdd"/>
<rect x="268" y="114.7" width="7.2" height="1.3" fill="#ffffff"/>
<rect x="268" y="113.4" width="7.2" height="1.3" fill="#dcdcdd"/>
<rect x="268" y="112.1" width="7.2" height="1.3" fill="#ffffff"/>
<rect x="268" y="110.8" width="7.2" height="1.3" fill="#dcdcdd"/>
<rect x="268" y="109.5" width="7.2" height="1.3" fill="#ffffff"/>
<rect x="268" y="108.2" width="7.2" height="1.3" fill="#dcdcdd"/>
<rect x="268" y="106.9" width="7.2" height="1.3" fill="#ffffff"/>
<rect x="268" y="105.6" width="7.2" height="1.3" fill="#dcdcdd"/>
<rect x="268" y="118.6" width="7.2" height="27.2" fill="#a7a8ab"/>
<line x1="268" y1="144.5" x2="275.2" y2="144.5" stroke="#838488" stroke-width="0.6"/>
<line x1="268" y1="141.9" x2="275.2" y2="141.9" stroke="#838488" stroke-width="0.6"/>
<line x1="268" y1="139.3" x2="275.2" y2="139.3" stroke="#838488" stroke-width="0.6"/>
<line x1="268" y1="135.4" x2="275.2" y2="135.4" stroke="#838488" stroke-width="0.6"/>
<line x1="268" y1="134.1" x2="275.2" y2="134.1" stroke="#838488" stroke-width="0.6"/>
<line x1="268" y1="131.5" x2="275.2" y2="131.5" stroke="#838488" stroke-width="0.6"/>
<line x1="268" y1="129" x2="275.2" y2="129" stroke="#838488" stroke-width="0.6"/>
<line x1="268" y1="127.7" x2="275.2" y2="127.7" stroke="#838488" stroke-width="0.6"/>
<line x1="268" y1="122.5" x2="275.2" y2="122.5" stroke="#838488" stroke-width="0.6"/>
<line x1="268" y1="119.9" x2="275.2" y2="119.9" stroke="#838488" stroke-width="0.6"/>
<rect x="268" y="145.8" width="7.2" height="10.4" fill="#053f74"/>
<rect x="268" y="105.6" width="7.2" height="50.6" fill="none" stroke="#2b2b2b" stroke-width="0.9"/>
<rect x="283.2" y="66.7" width="7.2" height="1.3" fill="#ffffff"/>
<rect x="283.2" y="65.4" width="7.2" height="1.3" fill="#dcdcdd"/>
<rect x="283.2" y="64.1" width="7.2" height="1.3" fill="#ffffff"/>
<rect x="283.2" y="62.8" width="7.2" height="1.3" fill="#dcdcdd"/>
<rect x="283.2" y="61.5" width="7.2" height="1.3" fill="#ffffff"/>
<rect x="283.2" y="60.2" width="7.2" height="1.3" fill="#dcdcdd"/>
<rect x="283.2" y="58.9" width="7.2" height="1.3" fill="#ffffff"/>
<rect x="283.2" y="57.6" width="7.2" height="1.3" fill="#dcdcdd"/>
<rect x="283.2" y="56.3" width="7.2" height="1.3" fill="#ffffff"/>
<rect x="283.2" y="55" width="7.2" height="1.3" fill="#dcdcdd"/>
<rect x="283.2" y="53.7" width="7.2" height="1.3" fill="#ffffff"/>
<rect x="283.2" y="52.4" width="7.2" height="1.3" fill="#dcdcdd"/>
<rect x="283.2" y="68" width="7.2" height="22.1" fill="#a7a8ab"/>
<line x1="283.2" y1="87.4" x2="290.4" y2="87.4" stroke="#838488" stroke-width="0.6"/>
<line x1="283.2" y1="86.1" x2="290.4" y2="86.1" stroke="#838488" stroke-width="0.6"/>
<line x1="283.2" y1="82.2" x2="290.4" y2="82.2" stroke="#838488" stroke-width="0.6"/>
<line x1="283.2" y1="78.3" x2="290.4" y2="78.3" stroke="#838488" stroke-width="0.6"/>
<line x1="283.2" y1="70.6" x2="290.4" y2="70.6" stroke="#838488" stroke-width="0.6"/>
<rect x="283.2" y="90" width="7.2" height="66.2" fill="#053f74"/>
<rect x="283.2" y="52.4" width="7.2" height="103.8" fill="none" stroke="#2b2b2b" stroke-width="0.9"/>
<rect x="293.3" y="101.7" width="7.2" height="1.3" fill="#ffffff"/>
<rect x="293.3" y="100.4" width="7.2" height="1.3" fill="#dcdcdd"/>
<rect x="293.3" y="99.1" width="7.2" height="1.3" fill="#ffffff"/>
<rect x="293.3" y="97.8" width="7.2" height="1.3" fill="#dcdcdd"/>
<rect x="293.3" y="96.5" width="7.2" height="1.3" fill="#ffffff"/>
<rect x="293.3" y="95.2" width="7.2" height="1.3" fill="#dcdcdd"/>
<rect x="293.3" y="93.9" width="7.2" height="1.3" fill="#ffffff"/>
<rect x="293.3" y="92.6" width="7.2" height="1.3" fill="#dcdcdd"/>
<rect x="293.3" y="91.3" width="7.2" height="1.3" fill="#ffffff"/>
<rect x="293.3" y="90" width="7.2" height="1.3" fill="#dcdcdd"/>
<rect x="293.3" y="88.7" width="7.2" height="1.3" fill="#ffffff"/>
<rect x="293.3" y="87.4" width="7.2" height="1.3" fill="#dcdcdd"/>
<rect x="293.3" y="86.1" width="7.2" height="1.3" fill="#ffffff"/>
<rect x="293.3" y="103" width="7.2" height="38.9" fill="#a7a8ab"/>
<line x1="293.3" y1="140.6" x2="300.5" y2="140.6" stroke="#838488" stroke-width="0.6"/>
<line x1="293.3" y1="139.3" x2="300.5" y2="139.3" stroke="#838488" stroke-width="0.6"/>
<line x1="293.3" y1="131.5" x2="300.5" y2="131.5" stroke="#838488" stroke-width="0.6"/>
<line x1="293.3" y1="129" x2="300.5" y2="129" stroke="#838488" stroke-width="0.6"/>
<line x1="293.3" y1="126.4" x2="300.5" y2="126.4" stroke="#838488" stroke-width="0.6"/>
<line x1="293.3" y1="121.2" x2="300.5" y2="121.2" stroke="#838488" stroke-width="0.6"/>
<line x1="293.3" y1="117.3" x2="300.5" y2="117.3" stroke="#838488" stroke-width="0.6"/>
<line x1="293.3" y1="114.7" x2="300.5" y2="114.7" stroke="#838488" stroke-width="0.6"/>
<line x1="293.3" y1="109.5" x2="300.5" y2="109.5" stroke="#838488" stroke-width="0.6"/>
<line x1="293.3" y1="106.9" x2="300.5" y2="106.9" stroke="#838488" stroke-width="0.6"/>
<rect x="293.3" y="141.9" width="7.2" height="14.3" fill="#053f74"/>
<rect x="293.3" y="86.1" width="7.2" height="70.1" fill="none" stroke="#2b2b2b" stroke-width="0.9"/>
<rect x="308.9" y="123.8" width="7.2" height="1.3" fill="#ffffff"/>
<rect x="308.9" y="122.5" width="7.2" height="1.3" fill="#dcdcdd"/>
<rect x="308.9" y="121.2" width="7.2" height="1.3" fill="#ffffff"/>
<rect x="308.9" y="119.9" width="7.2" height="1.3" fill="#dcdcdd"/>
<rect x="308.9" y="118.6" width="7.2" height="1.3" fill="#ffffff"/>
<rect x="308.9" y="117.3" width="7.2" height="1.3" fill="#dcdcdd"/>
<rect x="308.9" y="116" width="7.2" height="1.3" fill="#ffffff"/>
<rect x="308.9" y="114.7" width="7.2" height="1.3" fill="#dcdcdd"/>
<rect x="308.9" y="113.4" width="7.2" height="1.3" fill="#ffffff"/>
<rect x="308.9" y="112.1" width="7.2" height="1.3" fill="#dcdcdd"/>
<rect x="308.9" y="110.8" width="7.2" height="1.3" fill="#ffffff"/>
<rect x="308.9" y="109.5" width="7.2" height="1.3" fill="#dcdcdd"/>
<rect x="308.9" y="108.2" width="7.2" height="1.3" fill="#ffffff"/>
<rect x="308.9" y="106.9" width="7.2" height="1.3" fill="#dcdcdd"/>
<rect x="308.9" y="105.6" width="7.2" height="1.3" fill="#ffffff"/>
<rect x="308.9" y="125.1" width="7.2" height="10.4" fill="#a7a8ab"/>
<line x1="308.9" y1="132.8" x2="316.1" y2="132.8" stroke="#838488" stroke-width="0.6"/>
<line x1="308.9" y1="130.2" x2="316.1" y2="130.2" stroke="#838488" stroke-width="0.6"/>
<line x1="308.9" y1="127.7" x2="316.1" y2="127.7" stroke="#838488" stroke-width="0.6"/>
<rect x="308.9" y="135.4" width="7.2" height="20.8" fill="#053f74"/>
<rect x="308.9" y="105.6" width="7.2" height="50.6" fill="none" stroke="#2b2b2b" stroke-width="0.9"/>
<rect x="318.6" y="126.4" width="7.2" height="1.3" fill="#ffffff"/>
<rect x="318.6" y="125.1" width="7.2" height="1.3" fill="#dcdcdd"/>
<rect x="318.6" y="123.8" width="7.2" height="1.3" fill="#ffffff"/>
<rect x="318.6" y="122.5" width="7.2" height="1.3" fill="#dcdcdd"/>
<rect x="318.6" y="121.2" width="7.2" height="1.3" fill="#ffffff"/>
<rect x="318.6" y="119.9" width="7.2" height="1.3" fill="#dcdcdd"/>
<rect x="318.6" y="118.6" width="7.2" height="1.3" fill="#ffffff"/>
<rect x="318.6" y="117.3" width="7.2" height="1.3" fill="#dcdcdd"/>
<rect x="318.6" y="116" width="7.2" height="1.3" fill="#ffffff"/>
<rect x="318.6" y="114.7" width="7.2" height="1.3" fill="#dcdcdd"/>
<rect x="318.6" y="113.4" width="7.2" height="1.3" fill="#ffffff"/>
<rect x="318.6" y="127.7" width="7.2" height="16.9" fill="#a7a8ab"/>
<line x1="318.6" y1="139.3" x2="325.8" y2="139.3" stroke="#838488" stroke-width="0.6"/>
<line x1="318.6" y1="138" x2="325.8" y2="138" stroke="#838488" stroke-width="0.6"/>
<line x1="318.6" y1="136.7" x2="325.8" y2="136.7" stroke="#838488" stroke-width="0.6"/>
<line x1="318.6" y1="131.5" x2="325.8" y2="131.5" stroke="#838488" stroke-width="0.6"/>
<line x1="318.6" y1="129" x2="325.8" y2="129" stroke="#838488" stroke-width="0.6"/>
<rect x="318.6" y="144.5" width="7.2" height="11.7" fill="#053f74"/>
<rect x="318.6" y="113.4" width="7.2" height="42.8" fill="none" stroke="#2b2b2b" stroke-width="0.9"/>
<rect x="328.2" y="122.5" width="7.2" height="1.3" fill="#ffffff"/>
<rect x="328.2" y="121.2" width="7.2" height="1.3" fill="#dcdcdd"/>
<rect x="328.2" y="119.9" width="7.2" height="1.3" fill="#ffffff"/>
<rect x="328.2" y="118.6" width="7.2" height="1.3" fill="#dcdcdd"/>
<rect x="328.2" y="117.3" width="7.2" height="1.3" fill="#ffffff"/>
<rect x="328.2" y="116" width="7.2" height="1.3" fill="#dcdcdd"/>
<rect x="328.2" y="114.7" width="7.2" height="1.3" fill="#ffffff"/>
<rect x="328.2" y="113.4" width="7.2" height="1.3" fill="#dcdcdd"/>
<rect x="328.2" y="112.1" width="7.2" height="1.3" fill="#ffffff"/>
<rect x="328.2" y="110.8" width="7.2" height="1.3" fill="#dcdcdd"/>
<rect x="328.2" y="109.5" width="7.2" height="1.3" fill="#ffffff"/>
<rect x="328.2" y="108.2" width="7.2" height="1.3" fill="#dcdcdd"/>
<rect x="328.2" y="106.9" width="7.2" height="1.3" fill="#ffffff"/>
<rect x="328.2" y="105.6" width="7.2" height="1.3" fill="#dcdcdd"/>
<rect x="328.2" y="104.3" width="7.2" height="1.3" fill="#ffffff"/>
<rect x="328.2" y="103" width="7.2" height="1.3" fill="#dcdcdd"/>
<rect x="328.2" y="101.7" width="7.2" height="1.3" fill="#ffffff"/>
<rect x="328.2" y="100.4" width="7.2" height="1.3" fill="#dcdcdd"/>
<rect x="328.2" y="99.1" width="7.2" height="1.3" fill="#ffffff"/>
<rect x="328.2" y="97.8" width="7.2" height="1.3" fill="#dcdcdd"/>
<rect x="328.2" y="123.8" width="7.2" height="15.6" fill="#a7a8ab"/>
<line x1="328.2" y1="134.1" x2="335.4" y2="134.1" stroke="#838488" stroke-width="0.6"/>
<line x1="328.2" y1="132.8" x2="335.4" y2="132.8" stroke="#838488" stroke-width="0.6"/>
<line x1="328.2" y1="131.5" x2="335.4" y2="131.5" stroke="#838488" stroke-width="0.6"/>
<line x1="328.2" y1="127.7" x2="335.4" y2="127.7" stroke="#838488" stroke-width="0.6"/>
<line x1="328.2" y1="126.4" x2="335.4" y2="126.4" stroke="#838488" stroke-width="0.6"/>
<rect x="328.2" y="139.3" width="7.2" height="16.9" fill="#053f74"/>
<rect x="328.2" y="97.8" width="7.2" height="58.4" fill="none" stroke="#2b2b2b" stroke-width="0.9"/>
<rect x="338.2" y="119.9" width="7.2" height="1.3" fill="#ffffff"/>
<rect x="338.2" y="118.6" width="7.2" height="1.3" fill="#dcdcdd"/>
<rect x="338.2" y="117.3" width="7.2" height="1.3" fill="#ffffff"/>
<rect x="338.2" y="116" width="7.2" height="1.3" fill="#dcdcdd"/>
<rect x="338.2" y="114.7" width="7.2" height="1.3" fill="#ffffff"/>
<rect x="338.2" y="113.4" width="7.2" height="1.3" fill="#dcdcdd"/>
<rect x="338.2" y="112.1" width="7.2" height="1.3" fill="#ffffff"/>
<rect x="338.2" y="110.8" width="7.2" height="1.3" fill="#dcdcdd"/>
<rect x="338.2" y="109.5" width="7.2" height="1.3" fill="#ffffff"/>
<rect x="338.2" y="108.2" width="7.2" height="1.3" fill="#dcdcdd"/>
<rect x="338.2" y="106.9" width="7.2" height="1.3" fill="#ffffff"/>
<rect x="338.2" y="105.6" width="7.2" height="1.3" fill="#dcdcdd"/>
<rect x="338.2" y="104.3" width="7.2" height="1.3" fill="#ffffff"/>
<rect x="338.2" y="103" width="7.2" height="1.3" fill="#dcdcdd"/>
<rect x="338.2" y="121.2" width="7.2" height="25.9" fill="#a7a8ab"/>
<line x1="338.2" y1="141.9" x2="345.4" y2="141.9" stroke="#838488" stroke-width="0.6"/>
<line x1="338.2" y1="139.3" x2="345.4" y2="139.3" stroke="#838488" stroke-width="0.6"/>
<line x1="338.2" y1="131.5" x2="345.4" y2="131.5" stroke="#838488" stroke-width="0.6"/>
<line x1="338.2" y1="130.2" x2="345.4" y2="130.2" stroke="#838488" stroke-width="0.6"/>
<line x1="338.2" y1="126.4" x2="345.4" y2="126.4" stroke="#838488" stroke-width="0.6"/>
<line x1="338.2" y1="123.8" x2="345.4" y2="123.8" stroke="#838488" stroke-width="0.6"/>
<rect x="338.2" y="147.1" width="7.2" height="9.1" fill="#053f74"/>
<rect x="338.2" y="103" width="7.2" height="53.2" fill="none" stroke="#2b2b2b" stroke-width="0.9"/>
<rect x="353.5" y="116" width="7.2" height="1.3" fill="#ffffff"/>
<rect x="353.5" y="114.7" width="7.2" height="1.3" fill="#dcdcdd"/>
<rect x="353.5" y="113.4" width="7.2" height="1.3" fill="#ffffff"/>
<rect x="353.5" y="112.1" width="7.2" height="1.3" fill="#dcdcdd"/>
<rect x="353.5" y="110.8" width="7.2" height="1.3" fill="#ffffff"/>
<rect x="353.5" y="109.5" width="7.2" height="1.3" fill="#dcdcdd"/>
<rect x="353.5" y="108.2" width="7.2" height="1.3" fill="#ffffff"/>
<rect x="353.5" y="106.9" width="7.2" height="1.3" fill="#dcdcdd"/>
<rect x="353.5" y="105.6" width="7.2" height="1.3" fill="#ffffff"/>
<rect x="353.5" y="104.3" width="7.2" height="1.3" fill="#dcdcdd"/>
<rect x="353.5" y="117.3" width="7.2" height="22.1" fill="#a7a8ab"/>
<line x1="353.5" y1="131.5" x2="360.7" y2="131.5" stroke="#838488" stroke-width="0.6"/>
<line x1="353.5" y1="130.2" x2="360.7" y2="130.2" stroke="#838488" stroke-width="0.6"/>
<line x1="353.5" y1="129" x2="360.7" y2="129" stroke="#838488" stroke-width="0.6"/>
<line x1="353.5" y1="127.7" x2="360.7" y2="127.7" stroke="#838488" stroke-width="0.6"/>
<line x1="353.5" y1="122.5" x2="360.7" y2="122.5" stroke="#838488" stroke-width="0.6"/>
<line x1="353.5" y1="119.9" x2="360.7" y2="119.9" stroke="#838488" stroke-width="0.6"/>
<rect x="353.5" y="139.3" width="7.2" height="16.9" fill="#053f74"/>
<rect x="353.5" y="104.3" width="7.2" height="51.9" fill="none" stroke="#2b2b2b" stroke-width="0.9"/>
<rect x="363.3" y="114.7" width="7.2" height="1.3" fill="#ffffff"/>
<rect x="363.3" y="113.4" width="7.2" height="1.3" fill="#dcdcdd"/>
<rect x="363.3" y="112.1" width="7.2" height="1.3" fill="#ffffff"/>
<rect x="363.3" y="110.8" width="7.2" height="1.3" fill="#dcdcdd"/>
<rect x="363.3" y="109.5" width="7.2" height="1.3" fill="#ffffff"/>
<rect x="363.3" y="116" width="7.2" height="20.8" fill="#a7a8ab"/>
<line x1="363.3" y1="135.4" x2="370.5" y2="135.4" stroke="#838488" stroke-width="0.6"/>
<line x1="363.3" y1="132.8" x2="370.5" y2="132.8" stroke="#838488" stroke-width="0.6"/>
<line x1="363.3" y1="131.5" x2="370.5" y2="131.5" stroke="#838488" stroke-width="0.6"/>
<line x1="363.3" y1="123.8" x2="370.5" y2="123.8" stroke="#838488" stroke-width="0.6"/>
<line x1="363.3" y1="118.6" x2="370.5" y2="118.6" stroke="#838488" stroke-width="0.6"/>
<rect x="363.3" y="136.7" width="7.2" height="19.5" fill="#053f74"/>
<rect x="363.3" y="109.5" width="7.2" height="46.7" fill="none" stroke="#2b2b2b" stroke-width="0.9"/>
<rect x="373.5" y="106.9" width="7.2" height="1.3" fill="#ffffff"/>
<rect x="373.5" y="105.6" width="7.2" height="1.3" fill="#dcdcdd"/>
<rect x="373.5" y="104.3" width="7.2" height="1.3" fill="#ffffff"/>
<rect x="373.5" y="103" width="7.2" height="1.3" fill="#dcdcdd"/>
<rect x="373.5" y="101.7" width="7.2" height="1.3" fill="#ffffff"/>
<rect x="373.5" y="100.4" width="7.2" height="1.3" fill="#dcdcdd"/>
<rect x="373.5" y="99.1" width="7.2" height="1.3" fill="#ffffff"/>
<rect x="373.5" y="108.2" width="7.2" height="27.2" fill="#a7a8ab"/>
<line x1="373.5" y1="132.8" x2="380.7" y2="132.8" stroke="#838488" stroke-width="0.6"/>
<line x1="373.5" y1="130.2" x2="380.7" y2="130.2" stroke="#838488" stroke-width="0.6"/>
<line x1="373.5" y1="122.5" x2="380.7" y2="122.5" stroke="#838488" stroke-width="0.6"/>
<line x1="373.5" y1="118.6" x2="380.7" y2="118.6" stroke="#838488" stroke-width="0.6"/>
<line x1="373.5" y1="114.7" x2="380.7" y2="114.7" stroke="#838488" stroke-width="0.6"/>
<rect x="373.5" y="135.4" width="7.2" height="20.8" fill="#053f74"/>
<rect x="373.5" y="99.1" width="7.2" height="57.1" fill="none" stroke="#2b2b2b" stroke-width="0.9"/>
<rect x="383.3" y="114.7" width="7.2" height="1.3" fill="#ffffff"/>
<rect x="383.3" y="113.4" width="7.2" height="1.3" fill="#dcdcdd"/>
<rect x="383.3" y="112.1" width="7.2" height="1.3" fill="#ffffff"/>
<rect x="383.3" y="110.8" width="7.2" height="1.3" fill="#dcdcdd"/>
<rect x="383.3" y="109.5" width="7.2" height="1.3" fill="#ffffff"/>
<rect x="383.3" y="108.2" width="7.2" height="1.3" fill="#dcdcdd"/>
<rect x="383.3" y="106.9" width="7.2" height="1.3" fill="#ffffff"/>
<rect x="383.3" y="105.6" width="7.2" height="1.3" fill="#dcdcdd"/>
<rect x="383.3" y="104.3" width="7.2" height="1.3" fill="#ffffff"/>
<rect x="383.3" y="103" width="7.2" height="1.3" fill="#dcdcdd"/>
<rect x="383.3" y="116" width="7.2" height="20.8" fill="#a7a8ab"/>
<line x1="383.3" y1="135.4" x2="390.5" y2="135.4" stroke="#838488" stroke-width="0.6"/>
<line x1="383.3" y1="132.8" x2="390.5" y2="132.8" stroke="#838488" stroke-width="0.6"/>
<line x1="383.3" y1="130.2" x2="390.5" y2="130.2" stroke="#838488" stroke-width="0.6"/>
<line x1="383.3" y1="127.7" x2="390.5" y2="127.7" stroke="#838488" stroke-width="0.6"/>
<line x1="383.3" y1="125.1" x2="390.5" y2="125.1" stroke="#838488" stroke-width="0.6"/>
<line x1="383.3" y1="122.5" x2="390.5" y2="122.5" stroke="#838488" stroke-width="0.6"/>
<line x1="383.3" y1="118.6" x2="390.5" y2="118.6" stroke="#838488" stroke-width="0.6"/>
<line x1="383.3" y1="117.3" x2="390.5" y2="117.3" stroke="#838488" stroke-width="0.6"/>
<rect x="383.3" y="136.7" width="7.2" height="19.5" fill="#053f74"/>
<rect x="383.3" y="103" width="7.2" height="53.2" fill="none" stroke="#2b2b2b" stroke-width="0.9"/>
<rect x="398.4" y="109.5" width="7.2" height="1.3" fill="#ffffff"/>
<rect x="398.4" y="108.2" width="7.2" height="1.3" fill="#dcdcdd"/>
<rect x="398.4" y="106.9" width="7.2" height="1.3" fill="#ffffff"/>
<rect x="398.4" y="105.6" width="7.2" height="1.3" fill="#dcdcdd"/>
<rect x="398.4" y="110.8" width="7.2" height="32.4" fill="#a7a8ab"/>
<line x1="398.4" y1="140.6" x2="405.6" y2="140.6" stroke="#838488" stroke-width="0.6"/>
<line x1="398.4" y1="138" x2="405.6" y2="138" stroke="#838488" stroke-width="0.6"/>
<line x1="398.4" y1="135.4" x2="405.6" y2="135.4" stroke="#838488" stroke-width="0.6"/>
<line x1="398.4" y1="127.7" x2="405.6" y2="127.7" stroke="#838488" stroke-width="0.6"/>
<line x1="398.4" y1="125.1" x2="405.6" y2="125.1" stroke="#838488" stroke-width="0.6"/>
<line x1="398.4" y1="122.5" x2="405.6" y2="122.5" stroke="#838488" stroke-width="0.6"/>
<line x1="398.4" y1="119.9" x2="405.6" y2="119.9" stroke="#838488" stroke-width="0.6"/>
<line x1="398.4" y1="116" x2="405.6" y2="116" stroke="#838488" stroke-width="0.6"/>
<line x1="398.4" y1="113.4" x2="405.6" y2="113.4" stroke="#838488" stroke-width="0.6"/>
<rect x="398.4" y="143.2" width="7.2" height="13" fill="#053f74"/>
<rect x="398.4" y="105.6" width="7.2" height="50.6" fill="none" stroke="#2b2b2b" stroke-width="0.9"/>
<rect x="408.3" y="110.8" width="7.2" height="1.3" fill="#ffffff"/>
<rect x="408.3" y="109.5" width="7.2" height="1.3" fill="#dcdcdd"/>
<rect x="408.3" y="108.2" width="7.2" height="1.3" fill="#ffffff"/>
<rect x="408.3" y="106.9" width="7.2" height="1.3" fill="#dcdcdd"/>
<rect x="408.3" y="105.6" width="7.2" height="1.3" fill="#ffffff"/>
<rect x="408.3" y="112.1" width="7.2" height="27.2" fill="#a7a8ab"/>
<line x1="408.3" y1="135.4" x2="415.5" y2="135.4" stroke="#838488" stroke-width="0.6"/>
<line x1="408.3" y1="132.8" x2="415.5" y2="132.8" stroke="#838488" stroke-width="0.6"/>
<line x1="408.3" y1="131.5" x2="415.5" y2="131.5" stroke="#838488" stroke-width="0.6"/>
<line x1="408.3" y1="126.4" x2="415.5" y2="126.4" stroke="#838488" stroke-width="0.6"/>
<line x1="408.3" y1="123.8" x2="415.5" y2="123.8" stroke="#838488" stroke-width="0.6"/>
<line x1="408.3" y1="116" x2="415.5" y2="116" stroke="#838488" stroke-width="0.6"/>
<line x1="408.3" y1="114.7" x2="415.5" y2="114.7" stroke="#838488" stroke-width="0.6"/>
<rect x="408.3" y="139.3" width="7.2" height="16.9" fill="#053f74"/>
<rect x="408.3" y="105.6" width="7.2" height="50.6" fill="none" stroke="#2b2b2b" stroke-width="0.9"/>
<rect x="418.4" y="109.5" width="7.2" height="1.3" fill="#ffffff"/>
<rect x="418.4" y="108.2" width="7.2" height="1.3" fill="#dcdcdd"/>
<rect x="418.4" y="106.9" width="7.2" height="1.3" fill="#ffffff"/>
<rect x="418.4" y="105.6" width="7.2" height="1.3" fill="#dcdcdd"/>
<rect x="418.4" y="104.3" width="7.2" height="1.3" fill="#ffffff"/>
<rect x="418.4" y="103" width="7.2" height="1.3" fill="#dcdcdd"/>
<rect x="418.4" y="110.8" width="7.2" height="32.4" fill="#a7a8ab"/>
<line x1="418.4" y1="141.9" x2="425.6" y2="141.9" stroke="#838488" stroke-width="0.6"/>
<line x1="418.4" y1="139.3" x2="425.6" y2="139.3" stroke="#838488" stroke-width="0.6"/>
<line x1="418.4" y1="134.1" x2="425.6" y2="134.1" stroke="#838488" stroke-width="0.6"/>
<line x1="418.4" y1="131.5" x2="425.6" y2="131.5" stroke="#838488" stroke-width="0.6"/>
<line x1="418.4" y1="130.2" x2="425.6" y2="130.2" stroke="#838488" stroke-width="0.6"/>
<line x1="418.4" y1="126.4" x2="425.6" y2="126.4" stroke="#838488" stroke-width="0.6"/>
<line x1="418.4" y1="121.2" x2="425.6" y2="121.2" stroke="#838488" stroke-width="0.6"/>
<line x1="418.4" y1="119.9" x2="425.6" y2="119.9" stroke="#838488" stroke-width="0.6"/>
<line x1="418.4" y1="112.1" x2="425.6" y2="112.1" stroke="#838488" stroke-width="0.6"/>
<rect x="418.4" y="143.2" width="7.2" height="13" fill="#053f74"/>
<rect x="418.4" y="103" width="7.2" height="53.2" fill="none" stroke="#2b2b2b" stroke-width="0.9"/>
<rect x="428.4" y="105.6" width="7.2" height="1.3" fill="#ffffff"/>
<rect x="428.4" y="104.3" width="7.2" height="1.3" fill="#dcdcdd"/>
<rect x="428.4" y="103" width="7.2" height="1.3" fill="#ffffff"/>
<rect x="428.4" y="101.7" width="7.2" height="1.3" fill="#dcdcdd"/>
<rect x="428.4" y="106.9" width="7.2" height="26" fill="#a7a8ab"/>
<line x1="428.4" y1="130.2" x2="435.6" y2="130.2" stroke="#838488" stroke-width="0.6"/>
<line x1="428.4" y1="125.1" x2="435.6" y2="125.1" stroke="#838488" stroke-width="0.6"/>
<line x1="428.4" y1="121.2" x2="435.6" y2="121.2" stroke="#838488" stroke-width="0.6"/>
<line x1="428.4" y1="118.6" x2="435.6" y2="118.6" stroke="#838488" stroke-width="0.6"/>
<line x1="428.4" y1="114.7" x2="435.6" y2="114.7" stroke="#838488" stroke-width="0.6"/>
<line x1="428.4" y1="110.8" x2="435.6" y2="110.8" stroke="#838488" stroke-width="0.6"/>
<line x1="428.4" y1="109.5" x2="435.6" y2="109.5" stroke="#838488" stroke-width="0.6"/>
<rect x="428.4" y="132.8" width="7.2" height="23.4" fill="#053f74"/>
<rect x="428.4" y="101.7" width="7.2" height="54.5" fill="none" stroke="#2b2b2b" stroke-width="0.9"/>
<line x1="219.2" y1="23.8" x2="274.6" y2="23.8" stroke="#9a9a9a" stroke-width="1.3"/>
<text x="246.9" y="21.3" font-size="9.4" text-anchor="middle">SPF1</text>
<text x="222.5" y="33.6" font-size="9.2" text-anchor="middle">J</text>
<text x="232.2" y="33.6" font-size="9.2" text-anchor="middle">J</text>
<text x="241.9" y="33.6" font-size="9.2" text-anchor="middle">I</text>
<text x="251.9" y="33.6" font-size="9.2" text-anchor="middle">I</text>
<text x="261.8" y="33.6" font-size="9.2" text-anchor="middle">C</text>
<text x="271.6" y="33.6" font-size="9.2" text-anchor="middle">C</text>
<line x1="283.6" y1="23.8" x2="300.4" y2="23.8" stroke="#9a9a9a" stroke-width="1.3"/>
<text x="292" y="21.3" font-size="9.4" text-anchor="middle">SPF2</text>
<text x="286.8" y="33.6" font-size="9.2" text-anchor="middle">C</text>
<text x="296.9" y="33.6" font-size="9.2" text-anchor="middle">C</text>
<line x1="309.2" y1="23.8" x2="345.6" y2="23.8" stroke="#9a9a9a" stroke-width="1.3"/>
<text x="327.4" y="21.3" font-size="9.4" text-anchor="middle">SPF3</text>
<text x="312.5" y="33.6" font-size="9.2" text-anchor="middle">I</text>
<text x="322.2" y="33.6" font-size="9.2" text-anchor="middle">I</text>
<text x="331.8" y="33.6" font-size="9.2" text-anchor="middle">C</text>
<text x="341.8" y="33.6" font-size="9.2" text-anchor="middle">C</text>
<line x1="354" y1="23.8" x2="390.4" y2="23.8" stroke="#9a9a9a" stroke-width="1.3"/>
<text x="372.2" y="21.3" font-size="9.4" text-anchor="middle">SPF4</text>
<text x="357.1" y="33.6" font-size="9.2" text-anchor="middle">I</text>
<text x="366.9" y="33.6" font-size="9.2" text-anchor="middle">I</text>
<text x="377.1" y="33.6" font-size="9.2" text-anchor="middle">C</text>
<text x="386.9" y="33.6" font-size="9.2" text-anchor="middle">C</text>
<line x1="398.8" y1="23.8" x2="435.4" y2="23.8" stroke="#9a9a9a" stroke-width="1.3"/>
<text x="417.1" y="21.3" font-size="9.4" text-anchor="middle">SPF5</text>
<text x="402" y="33.6" font-size="9.2" text-anchor="middle">I</text>
<text x="411.9" y="33.6" font-size="9.2" text-anchor="middle">I</text>
<text x="422" y="33.6" font-size="9.2" text-anchor="middle">C</text>
<text x="432" y="33.6" font-size="9.2" text-anchor="middle">C</text>
<rect x="211" y="163.6" width="6" height="6" fill="#053f74" stroke="#2b2b2b" stroke-width="0.6"/>
<text x="220.6" y="170.3" font-size="9.4">Dominant clone</text>
<rect x="298" y="163.6" width="6" height="6" fill="#a7a8ab" stroke="#2b2b2b" stroke-width="0.6"/>
<text x="307.8" y="170.3" font-size="9.4">Expanded clones</text>
<rect x="389.6" y="163.6" width="5.4" height="5.4" fill="#fff" stroke="#2b2b2b" stroke-width="0.6"/>
<text x="398.8" y="170.3" font-size="9.4">Singletons</text>
<text x="449.2" y="8" font-size="10" fill="#000" font-weight="bold">c</text>
<rect x="494.6" y="29.6" width="31.1" height="81.8" fill="none" stroke="#231f20" stroke-width="0.8"/>
<line x1="491.2" y1="111.4" x2="494.6" y2="111.4" stroke="#231f20" stroke-width="0.8"/>
<text x="487" y="115.4" font-size="9.6" text-anchor="end">10</text>
<text x="487.1" y="112.4" font-size="6.4">0</text>
<line x1="491.2" y1="84.1" x2="494.6" y2="84.1" stroke="#231f20" stroke-width="0.8"/>
<text x="487" y="88.1" font-size="9.6" text-anchor="end">10</text>
<text x="487.1" y="85.1" font-size="6.4">1</text>
<line x1="491.2" y1="56.9" x2="494.6" y2="56.9" stroke="#231f20" stroke-width="0.8"/>
<text x="487" y="60.9" font-size="9.6" text-anchor="end">10</text>
<text x="487.1" y="57.9" font-size="6.4">2</text>
<line x1="491.2" y1="29.6" x2="494.6" y2="29.6" stroke="#231f20" stroke-width="0.8"/>
<text x="487" y="33.6" font-size="9.6" text-anchor="end">10</text>
<text x="487.1" y="30.6" font-size="6.4">3</text>
<text x="509.2" y="7.6" font-size="9.4" text-anchor="middle">Clonal</text>
<text x="510" y="19.5" font-size="9.4" text-anchor="middle">richness</text>
<text x="456.9" y="70.5" font-size="9.4" text-anchor="middle" transform="rotate(-90 456.9 70.5)">Clones per</text>
<text x="468.3" y="70.5" font-size="9.4" text-anchor="middle" transform="rotate(-90 468.3 70.5)">germinal centre (Chao1)</text>
<circle cx="510" cy="61.4" r="2.2" fill="none" stroke="#3b76ad" stroke-width="0.8"/>
<circle cx="500.4" cy="66.2" r="2.2" fill="none" stroke="#3b76ad" stroke-width="0.8"/>
<circle cx="504.8" cy="67.1" r="2.2" fill="none" stroke="#3b76ad" stroke-width="0.8"/>
<circle cx="512.3" cy="67.1" r="2.2" fill="none" stroke="#3b76ad" stroke-width="0.8"/>
<circle cx="515.6" cy="66.8" r="2.2" fill="none" stroke="#3b76ad" stroke-width="0.8"/>
<circle cx="519.8" cy="65.8" r="2.2" fill="none" stroke="#3b76ad" stroke-width="0.8"/>
<circle cx="500.7" cy="70.8" r="2.2" fill="none" stroke="#3b76ad" stroke-width="0.8"/>
<circle cx="505.3" cy="71.4" r="2.2" fill="none" stroke="#3b76ad" stroke-width="0.8"/>
<circle cx="509.6" cy="71" r="2.2" fill="none" stroke="#3b76ad" stroke-width="0.8"/>
<circle cx="514.6" cy="71" r="2.2" fill="none" stroke="#3b76ad" stroke-width="0.8"/>
<circle cx="519.5" cy="71" r="2.2" fill="none" stroke="#3b76ad" stroke-width="0.8"/>
<circle cx="500.4" cy="75" r="2.2" fill="none" stroke="#3b76ad" stroke-width="0.8"/>
<circle cx="505.7" cy="74" r="2.2" fill="none" stroke="#3b76ad" stroke-width="0.8"/>
<circle cx="510.3" cy="75" r="2.2" fill="none" stroke="#3b76ad" stroke-width="0.8"/>
<circle cx="514.6" cy="74" r="2.2" fill="none" stroke="#3b76ad" stroke-width="0.8"/>
<circle cx="519.5" cy="76.3" r="2.2" fill="none" stroke="#3b76ad" stroke-width="0.8"/>
<circle cx="505" cy="79.6" r="2.2" fill="none" stroke="#3b76ad" stroke-width="0.8"/>
<circle cx="510" cy="80.5" r="2.2" fill="none" stroke="#3b76ad" stroke-width="0.8"/>
<circle cx="514.6" cy="79.6" r="2.2" fill="none" stroke="#3b76ad" stroke-width="0.8"/>
<circle cx="509.8" cy="47.3" r="2.2" fill="none" stroke="#3b76ad" stroke-width="0.8"/>
<line x1="498.9" y1="70.4" x2="520.8" y2="70.4" stroke="#000" stroke-width="1.7"/>
<rect x="563.5" y="29.3" width="30.9" height="82" fill="none" stroke="#231f20" stroke-width="0.8"/>
<line x1="560.1" y1="111.3" x2="563.5" y2="111.3" stroke="#231f20" stroke-width="0.8"/>
<text x="558.3" y="115" font-size="9.6" text-anchor="end">0</text>
<line x1="560.1" y1="90.8" x2="563.5" y2="90.8" stroke="#231f20" stroke-width="0.8"/>
<text x="558.3" y="94.5" font-size="9.6" text-anchor="end">0.1</text>
<line x1="560.1" y1="70.3" x2="563.5" y2="70.3" stroke="#231f20" stroke-width="0.8"/>
<text x="558.3" y="74" font-size="9.6" text-anchor="end">0.2</text>
<line x1="560.1" y1="49.8" x2="563.5" y2="49.8" stroke="#231f20" stroke-width="0.8"/>
<text x="558.3" y="53.5" font-size="9.6" text-anchor="end">0.3</text>
<line x1="560.1" y1="29.3" x2="563.5" y2="29.3" stroke="#231f20" stroke-width="0.8"/>
<text x="558.3" y="33" font-size="9.6" text-anchor="end">0.4</text>
<text x="579" y="7.6" font-size="9.4" text-anchor="middle">Clonal</text>
<text x="579" y="19.5" font-size="9.4" text-anchor="middle">diversity</text>
<text x="538.2" y="70.6" font-size="9.8" text-anchor="middle" transform="rotate(-90 538.2 70.6)">D<tspan font-size="6.8" dy="2.4">50</tspan></text>
<circle cx="579.1" cy="44.1" r="2.2" fill="none" stroke="#3b76ad" stroke-width="0.8"/>
<circle cx="576.5" cy="54.4" r="2.2" fill="none" stroke="#3b76ad" stroke-width="0.8"/>
<circle cx="582" cy="54.4" r="2.2" fill="none" stroke="#3b76ad" stroke-width="0.8"/>
<circle cx="574.2" cy="62.2" r="2.2" fill="none" stroke="#3b76ad" stroke-width="0.8"/>
<circle cx="569.3" cy="66" r="2.2" fill="none" stroke="#3b76ad" stroke-width="0.8"/>
<circle cx="578.7" cy="64.9" r="2.2" fill="none" stroke="#3b76ad" stroke-width="0.8"/>
<circle cx="584.3" cy="64.9" r="2.2" fill="none" stroke="#3b76ad" stroke-width="0.8"/>
<circle cx="590.5" cy="66.4" r="2.2" fill="none" stroke="#3b76ad" stroke-width="0.8"/>
<circle cx="570.9" cy="70.5" r="2.2" fill="none" stroke="#3b76ad" stroke-width="0.8"/>
<circle cx="576" cy="71.1" r="2.2" fill="none" stroke="#3b76ad" stroke-width="0.8"/>
<circle cx="580.9" cy="71.1" r="2.2" fill="none" stroke="#3b76ad" stroke-width="0.8"/>
<circle cx="585.5" cy="70.5" r="2.2" fill="none" stroke="#3b76ad" stroke-width="0.8"/>
<circle cx="574.2" cy="74.3" r="2.2" fill="none" stroke="#3b76ad" stroke-width="0.8"/>
<circle cx="582.7" cy="74.3" r="2.2" fill="none" stroke="#3b76ad" stroke-width="0.8"/>
<circle cx="574.2" cy="78.3" r="2.2" fill="none" stroke="#3b76ad" stroke-width="0.8"/>
<circle cx="579.1" cy="80.1" r="2.2" fill="none" stroke="#3b76ad" stroke-width="0.8"/>
<circle cx="584.3" cy="78.3" r="2.2" fill="none" stroke="#3b76ad" stroke-width="0.8"/>
<circle cx="581.6" cy="85" r="2.2" fill="none" stroke="#3b76ad" stroke-width="0.8"/>
<circle cx="576.5" cy="86.8" r="2.2" fill="none" stroke="#3b76ad" stroke-width="0.8"/>
<circle cx="578.7" cy="97.3" r="2.2" fill="none" stroke="#3b76ad" stroke-width="0.8"/>
<line x1="567" y1="70.7" x2="591" y2="70.7" stroke="#000" stroke-width="1.7"/>
<rect x="643.1" y="29.1" width="31.4" height="82.2" fill="none" stroke="#231f20" stroke-width="0.8"/>
<line x1="639.7" y1="111.3" x2="643.1" y2="111.3" stroke="#231f20" stroke-width="0.8"/>
<text x="637.9" y="115" font-size="9.6" text-anchor="end">0</text>
<line x1="639.7" y1="94.9" x2="643.1" y2="94.9" stroke="#231f20" stroke-width="0.8"/>
<text x="637.9" y="98.6" font-size="9.6" text-anchor="end">20</text>
<line x1="639.7" y1="78.4" x2="643.1" y2="78.4" stroke="#231f20" stroke-width="0.8"/>
<text x="637.9" y="82.1" font-size="9.6" text-anchor="end">40</text>
<line x1="639.7" y1="62" x2="643.1" y2="62" stroke="#231f20" stroke-width="0.8"/>
<text x="637.9" y="65.7" font-size="9.6" text-anchor="end">60</text>
<line x1="639.7" y1="45.5" x2="643.1" y2="45.5" stroke="#231f20" stroke-width="0.8"/>
<text x="637.9" y="49.2" font-size="9.6" text-anchor="end">80</text>
<line x1="639.7" y1="29.1" x2="643.1" y2="29.1" stroke="#231f20" stroke-width="0.8"/>
<text x="637.9" y="32.8" font-size="9.6" text-anchor="end">100</text>
<text x="656" y="7.6" font-size="9.4" text-anchor="middle">Size of</text>
<text x="658.2" y="19.3" font-size="9.4" text-anchor="middle">largest clone</text>
<text x="607.6" y="70.5" font-size="9.4" text-anchor="middle" transform="rotate(-90 607.6 70.5)">Cells in the</text>
<text x="619.2" y="70.5" font-size="9.4" text-anchor="middle" transform="rotate(-90 619.2 70.5)">germinal centre (%)</text>
<circle cx="659.2" cy="59.3" r="2.2" fill="none" stroke="#3b76ad" stroke-width="0.8"/>
<circle cx="654.3" cy="76.6" r="2.2" fill="none" stroke="#3b76ad" stroke-width="0.8"/>
<circle cx="659.9" cy="78.4" r="2.2" fill="none" stroke="#3b76ad" stroke-width="0.8"/>
<circle cx="664.4" cy="77.2" r="2.2" fill="none" stroke="#3b76ad" stroke-width="0.8"/>
<circle cx="649.4" cy="81.7" r="2.2" fill="none" stroke="#3b76ad" stroke-width="0.8"/>
<circle cx="654" cy="83" r="2.2" fill="none" stroke="#3b76ad" stroke-width="0.8"/>
<circle cx="658.8" cy="83.9" r="2.2" fill="none" stroke="#3b76ad" stroke-width="0.8"/>
<circle cx="664" cy="83.9" r="2.2" fill="none" stroke="#3b76ad" stroke-width="0.8"/>
<circle cx="668.9" cy="81.7" r="2.2" fill="none" stroke="#3b76ad" stroke-width="0.8"/>
<circle cx="653.7" cy="88.4" r="2.2" fill="none" stroke="#3b76ad" stroke-width="0.8"/>
<circle cx="658.4" cy="88" r="2.2" fill="none" stroke="#3b76ad" stroke-width="0.8"/>
<circle cx="663.3" cy="88.4" r="2.2" fill="none" stroke="#3b76ad" stroke-width="0.8"/>
<circle cx="657.7" cy="91.8" r="2.2" fill="none" stroke="#3b76ad" stroke-width="0.8"/>
<circle cx="662.2" cy="91.3" r="2.2" fill="none" stroke="#3b76ad" stroke-width="0.8"/>
<circle cx="649.4" cy="94.7" r="2.2" fill="none" stroke="#3b76ad" stroke-width="0.8"/>
<circle cx="668.9" cy="94.7" r="2.2" fill="none" stroke="#3b76ad" stroke-width="0.8"/>
<circle cx="653.7" cy="97.8" r="2.2" fill="none" stroke="#3b76ad" stroke-width="0.8"/>
<circle cx="658.4" cy="98.5" r="2.2" fill="none" stroke="#3b76ad" stroke-width="0.8"/>
<circle cx="663.3" cy="97.8" r="2.2" fill="none" stroke="#3b76ad" stroke-width="0.8"/>
<circle cx="666.2" cy="96" r="2.2" fill="none" stroke="#3b76ad" stroke-width="0.8"/>
<line x1="647" y1="86.6" x2="671" y2="86.6" stroke="#000" stroke-width="1.7"/>
<text x="449.6" y="137.8" font-size="10" fill="#000" font-weight="bold">d</text>
<circle cx="463.4" cy="148" r="1.3" fill="#2f6b9f"/>
<text x="469.8" y="150.8" font-size="9.4">Inferred precursor</text>
<line x1="557.4" y1="145.3" x2="557.4" y2="150.5" stroke="#2f6b9f" stroke-width="0.9"/>
<text x="561.2" y="150.8" font-size="9.4">1 mutation</text>
<circle cx="463.4" cy="159.7" r="4" fill="#fff" stroke="#2f6b9f" stroke-width="0.9"/>
<text x="463.4" y="162.2" font-size="8.6" text-anchor="middle">n</text>
<text x="469.8" y="162.6" font-size="9.4"><tspan font-style="italic">n</tspan> cells with same sequence</text>
<text x="635" y="139.8" font-size="9.4" text-anchor="middle">UA</text>
<line x1="634.8" y1="146.5" x2="634.8" y2="173.1" stroke="#2f6b9f" stroke-width="0.9"/>
<circle cx="634.8" cy="146.5" r="1.4" fill="#2f6b9f"/>
<line x1="601.9" y1="173.1" x2="666.5" y2="173.1" stroke="#2f6b9f" stroke-width="0.9"/>
<circle cx="634.8" cy="173.1" r="1.4" fill="#2f6b9f"/>
<line x1="666.5" y1="173.1" x2="666.5" y2="178" stroke="#2f6b9f" stroke-width="0.9"/>
<circle cx="666.5" cy="181.3" r="3.3" fill="#fff" stroke="#2f6b9f" stroke-width="0.9"/>
<line x1="666.5" y1="184.6" x2="666.5" y2="185.5" stroke="#2f6b9f" stroke-width="0.9"/>
<line x1="661.5" y1="185.5" x2="671.6" y2="185.5" stroke="#2f6b9f" stroke-width="0.9"/>
<line x1="671.6" y1="185.5" x2="671.6" y2="198.3" stroke="#2f6b9f" stroke-width="0.9"/>
<circle cx="671.6" cy="201.6" r="3.3" fill="#fff" stroke="#2f6b9f" stroke-width="0.9"/>
<line x1="661.5" y1="185.5" x2="661.5" y2="198.2" stroke="#2f6b9f" stroke-width="0.9"/>
<line x1="658.1" y1="198.2" x2="664.8" y2="198.2" stroke="#2f6b9f" stroke-width="0.9"/>
<line x1="658.1" y1="198.2" x2="658.1" y2="207" stroke="#2f6b9f" stroke-width="0.9"/>
<circle cx="658.1" cy="210.3" r="3.3" fill="#fff" stroke="#2f6b9f" stroke-width="0.9"/>
<line x1="664.8" y1="198.2" x2="664.8" y2="228.8" stroke="#2f6b9f" stroke-width="0.9"/>
<circle cx="664.8" cy="232.1" r="3.3" fill="#fff" stroke="#2f6b9f" stroke-width="0.9"/>
<line x1="601.9" y1="173.1" x2="601.9" y2="177.6" stroke="#2f6b9f" stroke-width="0.9"/>
<circle cx="601.9" cy="177.6" r="1.4" fill="#2f6b9f"/>
<line x1="543.7" y1="177.6" x2="649.7" y2="177.6" stroke="#2f6b9f" stroke-width="0.9"/>
<line x1="601.9" y1="177.6" x2="601.9" y2="186.5" stroke="#2f6b9f" stroke-width="0.9"/>
<line x1="590.5" y1="186.5" x2="614.5" y2="186.5" stroke="#2f6b9f" stroke-width="0.9"/>
<line x1="590.5" y1="186.5" x2="590.5" y2="191" stroke="#2f6b9f" stroke-width="0.9"/>
<circle cx="590.5" cy="196.6" r="5.3" fill="#fff" stroke="#2f6b9f" stroke-width="0.9"/>
<text x="590.5" y="199.6" font-size="8.4" text-anchor="middle">3</text>
<line x1="601.9" y1="186.5" x2="601.9" y2="190.6" stroke="#2f6b9f" stroke-width="0.9"/>
<circle cx="601.9" cy="193.9" r="3.3" fill="#fff" stroke="#2f6b9f" stroke-width="0.9"/>
<line x1="601.9" y1="197.2" x2="601.9" y2="198.6" stroke="#2f6b9f" stroke-width="0.9"/>
<line x1="598.5" y1="198.6" x2="605.3" y2="198.6" stroke="#2f6b9f" stroke-width="0.9"/>
<line x1="598.5" y1="198.6" x2="598.5" y2="206.7" stroke="#2f6b9f" stroke-width="0.9"/>
<circle cx="598.5" cy="210" r="3.3" fill="#fff" stroke="#2f6b9f" stroke-width="0.9"/>
<line x1="605.3" y1="198.6" x2="605.3" y2="211.2" stroke="#2f6b9f" stroke-width="0.9"/>
<circle cx="605.3" cy="214.5" r="3.3" fill="#fff" stroke="#2f6b9f" stroke-width="0.9"/>
<line x1="614.5" y1="186.5" x2="614.5" y2="190.5" stroke="#2f6b9f" stroke-width="0.9"/>
<line x1="611.1" y1="190.5" x2="617.3" y2="190.5" stroke="#2f6b9f" stroke-width="0.9"/>
<line x1="611.1" y1="190.5" x2="611.1" y2="234.2" stroke="#2f6b9f" stroke-width="0.9"/>
<circle cx="611.1" cy="237.5" r="3.3" fill="#fff" stroke="#2f6b9f" stroke-width="0.9"/>
<line x1="617.3" y1="190.5" x2="617.3" y2="194.9" stroke="#2f6b9f" stroke-width="0.9"/>
<circle cx="617.3" cy="198.2" r="3.3" fill="#fff" stroke="#2f6b9f" stroke-width="0.9"/>
<line x1="628.4" y1="177.6" x2="628.4" y2="182.1" stroke="#2f6b9f" stroke-width="0.9"/>
<line x1="623.4" y1="182.1" x2="633.5" y2="182.1" stroke="#2f6b9f" stroke-width="0.9"/>
<line x1="623.4" y1="182.1" x2="623.4" y2="203.7" stroke="#2f6b9f" stroke-width="0.9"/>
<circle cx="623.4" cy="207" r="3.3" fill="#fff" stroke="#2f6b9f" stroke-width="0.9"/>
<line x1="623.4" y1="210.3" x2="623.4" y2="211.2" stroke="#2f6b9f" stroke-width="0.9"/>
<line x1="620" y1="211.2" x2="627.1" y2="211.2" stroke="#2f6b9f" stroke-width="0.9"/>
<line x1="620" y1="211.2" x2="620" y2="219.6" stroke="#2f6b9f" stroke-width="0.9"/>
<circle cx="620" cy="222.9" r="3.3" fill="#fff" stroke="#2f6b9f" stroke-width="0.9"/>
<line x1="627.1" y1="211.2" x2="627.1" y2="215.1" stroke="#2f6b9f" stroke-width="0.9"/>
<circle cx="627.1" cy="218.4" r="3.3" fill="#fff" stroke="#2f6b9f" stroke-width="0.9"/>
<line x1="633.5" y1="182.1" x2="633.5" y2="194.9" stroke="#2f6b9f" stroke-width="0.9"/>
<circle cx="633.5" cy="198.2" r="3.3" fill="#fff" stroke="#2f6b9f" stroke-width="0.9"/>
<line x1="641.3" y1="177.6" x2="641.3" y2="182" stroke="#2f6b9f" stroke-width="0.9"/>
<circle cx="641.3" cy="186.5" r="4.5" fill="#fff" stroke="#2f6b9f" stroke-width="0.9"/>
<text x="641.3" y="189.5" font-size="8.4" text-anchor="middle">2</text>
<line x1="649.7" y1="177.6" x2="649.7" y2="195.6" stroke="#2f6b9f" stroke-width="0.9"/>
<line x1="646.2" y1="195.6" x2="652.6" y2="195.6" stroke="#2f6b9f" stroke-width="0.9"/>
<line x1="646.2" y1="195.6" x2="646.2" y2="208.4" stroke="#2f6b9f" stroke-width="0.9"/>
<circle cx="646.2" cy="211.7" r="3.3" fill="#fff" stroke="#2f6b9f" stroke-width="0.9"/>
<line x1="652.6" y1="195.6" x2="652.6" y2="217.1" stroke="#2f6b9f" stroke-width="0.9"/>
<circle cx="652.6" cy="220.4" r="3.3" fill="#fff" stroke="#2f6b9f" stroke-width="0.9"/>
<line x1="543.7" y1="177.6" x2="543.7" y2="182.2" stroke="#2f6b9f" stroke-width="0.9"/>
<circle cx="543.7" cy="182.2" r="1.4" fill="#2f6b9f"/>
<line x1="510.2" y1="182.2" x2="580.9" y2="182.2" stroke="#2f6b9f" stroke-width="0.9"/>
<line x1="556.1" y1="182.2" x2="556.1" y2="199.2" stroke="#2f6b9f" stroke-width="0.9"/>
<line x1="545" y1="199.2" x2="567.6" y2="199.2" stroke="#2f6b9f" stroke-width="0.9"/>
<line x1="545" y1="199.2" x2="545" y2="204.2" stroke="#2f6b9f" stroke-width="0.9"/>
<circle cx="545" cy="208.7" r="4.5" fill="#fff" stroke="#2f6b9f" stroke-width="0.9"/>
<text x="545" y="211.7" font-size="8.4" text-anchor="middle">2</text>
<line x1="542" y1="213" x2="542" y2="231.5" stroke="#2f6b9f" stroke-width="0.9"/>
<line x1="548.6" y1="213" x2="548.6" y2="231.5" stroke="#2f6b9f" stroke-width="0.9"/>
<circle cx="542" cy="234.8" r="3.3" fill="#fff" stroke="#2f6b9f" stroke-width="0.9"/>
<circle cx="548.6" cy="234.8" r="3.3" fill="#fff" stroke="#2f6b9f" stroke-width="0.9"/>
<line x1="556.1" y1="199.2" x2="556.1" y2="216.7" stroke="#2f6b9f" stroke-width="0.9"/>
<circle cx="556.1" cy="220" r="3.3" fill="#fff" stroke="#2f6b9f" stroke-width="0.9"/>
<line x1="561" y1="199.2" x2="561" y2="208" stroke="#2f6b9f" stroke-width="0.9"/>
<circle cx="561" cy="211.3" r="3.3" fill="#fff" stroke="#2f6b9f" stroke-width="0.9"/>
<line x1="567.6" y1="199.2" x2="567.6" y2="208" stroke="#2f6b9f" stroke-width="0.9"/>
<circle cx="567.6" cy="211.3" r="3.3" fill="#fff" stroke="#2f6b9f" stroke-width="0.9"/>
<line x1="574.4" y1="182.2" x2="574.4" y2="212.4" stroke="#2f6b9f" stroke-width="0.9"/>
<circle cx="574.4" cy="215.7" r="3.3" fill="#fff" stroke="#2f6b9f" stroke-width="0.9"/>
<line x1="580.9" y1="182.2" x2="580.9" y2="207.9" stroke="#2f6b9f" stroke-width="0.9"/>
<circle cx="580.9" cy="211.2" r="3.3" fill="#fff" stroke="#2f6b9f" stroke-width="0.9"/>
<line x1="510.2" y1="182.2" x2="510.2" y2="186.5" stroke="#2f6b9f" stroke-width="0.9"/>
<circle cx="510.2" cy="186.5" r="1.4" fill="#2f6b9f"/>
<line x1="486.4" y1="186.5" x2="534.6" y2="186.5" stroke="#2f6b9f" stroke-width="0.9"/>
<line x1="534.6" y1="186.5" x2="534.6" y2="195.2" stroke="#2f6b9f" stroke-width="0.9"/>
<line x1="531.1" y1="195.2" x2="537.9" y2="195.2" stroke="#2f6b9f" stroke-width="0.9"/>
<line x1="531.1" y1="195.2" x2="531.1" y2="199.8" stroke="#2f6b9f" stroke-width="0.9"/>
<circle cx="531.1" cy="203.1" r="3.3" fill="#fff" stroke="#2f6b9f" stroke-width="0.9"/>
<line x1="537.9" y1="195.2" x2="537.9" y2="199.5" stroke="#2f6b9f" stroke-width="0.9"/>
<circle cx="537.9" cy="202.8" r="3.3" fill="#fff" stroke="#2f6b9f" stroke-width="0.9"/>
<line x1="531.1" y1="206.4" x2="531.1" y2="220" stroke="#2f6b9f" stroke-width="0.9"/>
<circle cx="531.1" cy="223.3" r="3.3" fill="#fff" stroke="#2f6b9f" stroke-width="0.9"/>
<line x1="486.4" y1="186.5" x2="486.4" y2="195.4" stroke="#2f6b9f" stroke-width="0.9"/>
<circle cx="486.4" cy="198.7" r="3.3" fill="#fff" stroke="#2f6b9f" stroke-width="0.9"/>
<line x1="486.4" y1="202" x2="486.4" y2="202.6" stroke="#2f6b9f" stroke-width="0.9"/>
<line x1="453.4" y1="202.6" x2="524.2" y2="202.6" stroke="#2f6b9f" stroke-width="0.9"/>
<line x1="453.4" y1="202.6" x2="453.4" y2="206.7" stroke="#2f6b9f" stroke-width="0.9"/>
<circle cx="453.4" cy="211.4" r="4.7" fill="#fff" stroke="#2f6b9f" stroke-width="0.9"/>
<text x="453.4" y="214.4" font-size="8.4" text-anchor="middle">2</text>
<line x1="443.4" y1="216.4" x2="463.9" y2="216.4" stroke="#2f6b9f" stroke-width="0.9"/>
<line x1="453.4" y1="216.1" x2="453.4" y2="216.4" stroke="#2f6b9f" stroke-width="0.9"/>
<line x1="443.4" y1="216.4" x2="443.4" y2="234.3" stroke="#2f6b9f" stroke-width="0.9"/>
<circle cx="443.4" cy="237.6" r="3.3" fill="#fff" stroke="#2f6b9f" stroke-width="0.9"/>
<line x1="436.7" y1="221.3" x2="450.4" y2="221.3" stroke="#2f6b9f" stroke-width="0.9"/>
<line x1="436.7" y1="221.3" x2="436.7" y2="229.7" stroke="#2f6b9f" stroke-width="0.9"/>
<circle cx="436.7" cy="233" r="3.3" fill="#fff" stroke="#2f6b9f" stroke-width="0.9"/>
<line x1="450.4" y1="221.3" x2="450.4" y2="229.7" stroke="#2f6b9f" stroke-width="0.9"/>
<circle cx="450.4" cy="233" r="3.3" fill="#fff" stroke="#2f6b9f" stroke-width="0.9"/>
<line x1="457.2" y1="216.4" x2="457.2" y2="234.3" stroke="#2f6b9f" stroke-width="0.9"/>
<circle cx="457.2" cy="237.6" r="3.3" fill="#fff" stroke="#2f6b9f" stroke-width="0.9"/>
<line x1="463.9" y1="216.4" x2="463.9" y2="234.3" stroke="#2f6b9f" stroke-width="0.9"/>
<circle cx="463.9" cy="237.6" r="3.3" fill="#fff" stroke="#2f6b9f" stroke-width="0.9"/>
<line x1="486.4" y1="202.6" x2="486.4" y2="210.8" stroke="#2f6b9f" stroke-width="0.9"/>
<line x1="478.1" y1="210.8" x2="494.2" y2="210.8" stroke="#2f6b9f" stroke-width="0.9"/>
<line x1="478.1" y1="210.8" x2="478.1" y2="219.5" stroke="#2f6b9f" stroke-width="0.9"/>
<line x1="473.2" y1="219.5" x2="484.3" y2="219.5" stroke="#2f6b9f" stroke-width="0.9"/>
<line x1="473.2" y1="219.5" x2="473.2" y2="224.3" stroke="#2f6b9f" stroke-width="0.9"/>
<circle cx="473.2" cy="229.8" r="5.3" fill="#fff" stroke="#2f6b9f" stroke-width="0.9"/>
<text x="473.2" y="232.8" font-size="8.4" text-anchor="middle">3</text>
<line x1="484.3" y1="219.5" x2="484.3" y2="224" stroke="#2f6b9f" stroke-width="0.9"/>
<line x1="481" y1="224" x2="487.5" y2="224" stroke="#2f6b9f" stroke-width="0.9"/>
<line x1="481" y1="224" x2="481" y2="237" stroke="#2f6b9f" stroke-width="0.9"/>
<circle cx="481" cy="240.3" r="3.3" fill="#fff" stroke="#2f6b9f" stroke-width="0.9"/>
<line x1="487.5" y1="224" x2="487.5" y2="228.5" stroke="#2f6b9f" stroke-width="0.9"/>
<circle cx="487.5" cy="231.8" r="3.3" fill="#fff" stroke="#2f6b9f" stroke-width="0.9"/>
<line x1="494.2" y1="210.8" x2="494.2" y2="228.5" stroke="#2f6b9f" stroke-width="0.9"/>
<circle cx="494.2" cy="231.8" r="3.3" fill="#fff" stroke="#2f6b9f" stroke-width="0.9"/>
<line x1="503.3" y1="202.6" x2="503.3" y2="206.7" stroke="#2f6b9f" stroke-width="0.9"/>
<line x1="500" y1="206.7" x2="506.7" y2="206.7" stroke="#2f6b9f" stroke-width="0.9"/>
<line x1="500" y1="206.7" x2="500" y2="215.4" stroke="#2f6b9f" stroke-width="0.9"/>
<circle cx="500" cy="218.7" r="3.3" fill="#fff" stroke="#2f6b9f" stroke-width="0.9"/>
<line x1="506.7" y1="206.7" x2="506.7" y2="215.4" stroke="#2f6b9f" stroke-width="0.9"/>
<circle cx="506.7" cy="218.7" r="3.3" fill="#fff" stroke="#2f6b9f" stroke-width="0.9"/>
<line x1="512.4" y1="202.6" x2="512.4" y2="224.2" stroke="#2f6b9f" stroke-width="0.9"/>
<circle cx="512.4" cy="227.5" r="3.3" fill="#fff" stroke="#2f6b9f" stroke-width="0.9"/>
<line x1="518.6" y1="202.6" x2="518.6" y2="215" stroke="#2f6b9f" stroke-width="0.9"/>
<circle cx="518.6" cy="218.3" r="3.3" fill="#fff" stroke="#2f6b9f" stroke-width="0.9"/>
<line x1="524.2" y1="202.6" x2="524.2" y2="206.7" stroke="#2f6b9f" stroke-width="0.9"/>
<circle cx="524.2" cy="210" r="3.3" fill="#fff" stroke="#2f6b9f" stroke-width="0.9"/>
<line x1="622.5" y1="163.8" x2="632.6" y2="171.6" stroke="#111" stroke-width="0.7"/>
<path d="M632.6 171.6 L629.2 170.8 L631 168.5 Z" fill="#111"/>
<line x1="590.8" y1="168.6" x2="600.3" y2="175.9" stroke="#111" stroke-width="0.7"/>
<path d="M600.3 175.9 L596.8 175.1 L598.7 172.8 Z" fill="#111"/>
<line x1="530.8" y1="169.9" x2="541.9" y2="179.9" stroke="#111" stroke-width="0.7"/>
<path d="M541.9 179.9 L538.5 178.9 L540.5 176.6 Z" fill="#111"/>
<line x1="498.1" y1="174.6" x2="508.6" y2="184.5" stroke="#111" stroke-width="0.7"/>
<path d="M508.6 184.5 L505.2 183.4 L507.3 181.2 Z" fill="#111"/>
<line x1="473.5" y1="186.5" x2="483.8" y2="195.9" stroke="#111" stroke-width="0.7"/>
<path d="M483.8 195.9 L480.4 194.9 L482.4 192.6 Z" fill="#111"/>
<text x="1.5" y="190.3" font-size="10" fill="#000" font-weight="bold">e</text>
<path d="M36.2 219.2 C42 216 47 213.5 52 213.6 C58 213.8 65 216.5 70 217.6 C72.5 218 73.5 217 74.4 212.4 C75.5 208 79 204.5 85.5 203 C90 202 96 202.5 100.7 204.1 C100.5 201.5 101.8 199.5 103.5 199.4 C105.5 199.4 106.6 201 106.3 203.2 C109 203.8 111.5 204.5 113.2 205.6 C115.5 207 117.5 208.5 118.8 210.3 C118.5 211.5 116.5 212.5 114.6 213.1 C111.5 213.8 109 214.4 107.7 215.4 C105.5 216.5 104.6 218.5 105 220.5 C105.6 221.5 107.5 221.8 108.4 222.3 C107 223.3 104.5 223.2 103.2 222 C101.5 220.6 100.5 219.6 99.3 218.9 C95 219.4 91 219.5 88.5 219.6 C89.5 220.5 90.5 221.5 89.8 222.6 C87 223.3 82 223.4 79 222.3 C76 221.6 73.5 220.6 71.6 220.1 C65 219.5 58 218.5 52.2 217.2 C46 216.8 40 219 36.2 219.6 Z" fill="#fff" stroke="#231f20" stroke-width="0.75"/>
<path d="M84.2 211.5 C86 214 86.4 217.5 85.2 220 M100.5 213.8 C100.8 216 100.3 217.8 99.3 218.9 M101.8 203.6 C102 201.5 103 200.6 104.2 200.8" fill="none" stroke="#231f20" stroke-width="0.5"/>
<path d="M39 217.6 L40.5 219 M41.5 216.6 L43 218.3 M44 215.6 L45.5 217.6 M46.5 214.8 L48 217.1 M49 214.2 L50.5 216.9 M52 213.9 L53 216.9 M55 214.2 L56 217.3 M58.5 214.6 L59 217.8" fill="none" stroke="#231f20" stroke-width="0.45"/>
<circle cx="111.1" cy="206.6" r="0.8" fill="#000"/>
<ellipse cx="114.1" cy="212.7" rx="1.0" ry="0.7" fill="#000"/>
<text x="14" y="236.2" font-size="9.8"><tspan font-style="italic">Aicda</tspan><tspan font-size="6.7" dy="-2.2">CreERT2/+</tspan><tspan dy="2.2" font-style="italic">.Rosa26</tspan><tspan font-size="6.7" dy="-2.2">Confetti/Confetti</tspan></text>
<line x1="130.9" y1="214.2" x2="168" y2="214.2" stroke="#231f20" stroke-width="0.7"/>
<path d="M167.5 212.2 L171.2 214.2 L167.5 216.2 Z" fill="#231f20"/>
<text x="195.9" y="192.8" font-size="9.4" text-anchor="middle">Steady-state gaGCs</text>
<circle cx="189.5" cy="203" r="3.1" fill="#8d8d8d" stroke="#333" stroke-width="0.65"/>
<circle cx="195.9" cy="203" r="3.1" fill="#8d8d8d" stroke="#333" stroke-width="0.65"/>
<circle cx="202.3" cy="203" r="3.1" fill="#8d8d8d" stroke="#333" stroke-width="0.65"/>
<circle cx="186.3" cy="208.8" r="3.1" fill="#8d8d8d" stroke="#333" stroke-width="0.65"/>
<circle cx="192.7" cy="208.8" r="3.1" fill="#8d8d8d" stroke="#333" stroke-width="0.65"/>
<circle cx="199.1" cy="208.8" r="3.1" fill="#8d8d8d" stroke="#333" stroke-width="0.65"/>
<circle cx="205.5" cy="208.8" r="3.1" fill="#8d8d8d" stroke="#333" stroke-width="0.65"/>
<circle cx="183.1" cy="214.5" r="3.1" fill="#8d8d8d" stroke="#333" stroke-width="0.65"/>
<circle cx="189.5" cy="214.5" r="3.1" fill="#8d8d8d" stroke="#333" stroke-width="0.65"/>
<circle cx="195.9" cy="214.5" r="3.1" fill="#8d8d8d" stroke="#333" stroke-width="0.65"/>
<circle cx="202.3" cy="214.5" r="3.1" fill="#8d8d8d" stroke="#333" stroke-width="0.65"/>
<circle cx="208.7" cy="214.5" r="3.1" fill="#8d8d8d" stroke="#333" stroke-width="0.65"/>
<circle cx="186.3" cy="220.2" r="3.1" fill="#8d8d8d" stroke="#333" stroke-width="0.65"/>
<circle cx="192.7" cy="220.2" r="3.1" fill="#8d8d8d" stroke="#333" stroke-width="0.65"/>
<circle cx="199.1" cy="220.2" r="3.1" fill="#8d8d8d" stroke="#333" stroke-width="0.65"/>
<circle cx="205.5" cy="220.2" r="3.1" fill="#8d8d8d" stroke="#333" stroke-width="0.65"/>
<circle cx="189.5" cy="226" r="3.1" fill="#8d8d8d" stroke="#333" stroke-width="0.65"/>
<circle cx="195.9" cy="226" r="3.1" fill="#8d8d8d" stroke="#333" stroke-width="0.65"/>
<circle cx="202.3" cy="226" r="3.1" fill="#8d8d8d" stroke="#333" stroke-width="0.65"/>
<line x1="231.2" y1="231.7" x2="231.2" y2="219.5" stroke="#8a8a8a" stroke-width="0.8"/>
<path d="M229.6 220.5 L231.2 216.8 L232.8 220.5 Z" fill="#111"/>
<line x1="235" y1="231.7" x2="235" y2="219.5" stroke="#8a8a8a" stroke-width="0.8"/>
<path d="M233.4 220.5 L235 216.8 L236.6 220.5 Z" fill="#111"/>
<text x="233.3" y="246.6" font-size="9.4" text-anchor="middle">Tamoxifen (2×)</text>
<circle cx="263.3" cy="203" r="3.1" fill="#8d8d8d" stroke="#333" stroke-width="0.65"/>
<circle cx="269.7" cy="203" r="3.1" fill="#e53030" stroke="#333" stroke-width="0.65"/>
<circle cx="276.1" cy="203" r="3.1" fill="#29a8e0" stroke="#333" stroke-width="0.65"/>
<circle cx="260.1" cy="208.8" r="3.1" fill="#f5d400" stroke="#333" stroke-width="0.65"/>
<circle cx="266.5" cy="208.8" r="3.1" fill="#8d8d8d" stroke="#333" stroke-width="0.65"/>
<circle cx="272.9" cy="208.8" r="3.1" fill="#8d8d8d" stroke="#333" stroke-width="0.65"/>
<circle cx="279.3" cy="208.8" r="3.1" fill="#17944b" stroke="#333" stroke-width="0.65"/>
<circle cx="256.9" cy="214.5" r="3.1" fill="#e53030" stroke="#333" stroke-width="0.65"/>
<circle cx="263.3" cy="214.5" r="3.1" fill="#8d8d8d" stroke="#333" stroke-width="0.65"/>
<circle cx="269.7" cy="214.5" r="3.1" fill="#f07f12" stroke="#333" stroke-width="0.65"/>
<circle cx="276.1" cy="214.5" r="3.1" fill="#e53030" stroke="#333" stroke-width="0.65"/>
<circle cx="282.5" cy="214.5" r="3.1" fill="#8e2b8e" stroke="#333" stroke-width="0.65"/>
<circle cx="260.1" cy="220.2" r="3.1" fill="#29a8e0" stroke="#333" stroke-width="0.65"/>
<circle cx="266.5" cy="220.2" r="3.1" fill="#167a4a" stroke="#333" stroke-width="0.65"/>
<circle cx="272.9" cy="220.2" r="3.1" fill="#29a8e0" stroke="#333" stroke-width="0.65"/>
<circle cx="279.3" cy="220.2" r="3.1" fill="#f5d400" stroke="#333" stroke-width="0.65"/>
<circle cx="263.3" cy="226" r="3.1" fill="#f5d400" stroke="#333" stroke-width="0.65"/>
<circle cx="269.7" cy="226" r="3.1" fill="#8d8d8d" stroke="#333" stroke-width="0.65"/>
<circle cx="276.1" cy="226" r="3.1" fill="#e53030" stroke="#333" stroke-width="0.65"/>
<line x1="296.4" y1="214.4" x2="336" y2="214.4" stroke="#231f20" stroke-width="0.7"/>
<path d="M335.5 212.4 L339.2 214.4 L335.5 216.4 Z" fill="#231f20"/>
<text x="316" y="212" font-size="9.4" text-anchor="middle" font-family=""Liberation Serif", serif">Δ<tspan font-style="italic">t</tspan></text>
<circle cx="355.9" cy="203" r="3.2" fill="#8c1a87" stroke="#1a0518" stroke-width="0.65"/>
<circle cx="362.3" cy="203" r="3.2" fill="#8c1a87" stroke="#1a0518" stroke-width="0.65"/>
<circle cx="368.7" cy="203" r="3.2" fill="#8c1a87" stroke="#1a0518" stroke-width="0.65"/>
<circle cx="352.7" cy="208.7" r="3.2" fill="#8c1a87" stroke="#1a0518" stroke-width="0.65"/>
<circle cx="359.1" cy="208.7" r="3.2" fill="#8c1a87" stroke="#1a0518" stroke-width="0.65"/>
<circle cx="365.5" cy="208.7" r="3.2" fill="#8c1a87" stroke="#1a0518" stroke-width="0.65"/>
<circle cx="371.9" cy="208.7" r="3.2" fill="#8c1a87" stroke="#1a0518" stroke-width="0.65"/>
<circle cx="349.5" cy="214.4" r="3.2" fill="#8c1a87" stroke="#1a0518" stroke-width="0.65"/>
<circle cx="355.9" cy="214.4" r="3.2" fill="#8c1a87" stroke="#1a0518" stroke-width="0.65"/>
<circle cx="362.3" cy="214.4" r="3.2" fill="#8c1a87" stroke="#1a0518" stroke-width="0.65"/>
<circle cx="368.7" cy="214.4" r="3.2" fill="#8c1a87" stroke="#1a0518" stroke-width="0.65"/>
<circle cx="375.1" cy="214.4" r="3.2" fill="#8c1a87" stroke="#1a0518" stroke-width="0.65"/>
<circle cx="352.7" cy="220.1" r="3.2" fill="#8c1a87" stroke="#1a0518" stroke-width="0.65"/>
<circle cx="359.1" cy="220.1" r="3.2" fill="#8c1a87" stroke="#1a0518" stroke-width="0.65"/>
<circle cx="365.5" cy="220.1" r="3.2" fill="#8c1a87" stroke="#1a0518" stroke-width="0.65"/>
<circle cx="371.9" cy="220.1" r="3.2" fill="#8c1a87" stroke="#1a0518" stroke-width="0.65"/>
<circle cx="355.9" cy="225.8" r="3.2" fill="#8c1a87" stroke="#1a0518" stroke-width="0.65"/>
<circle cx="362.3" cy="225.8" r="3.2" fill="#8c1a87" stroke="#1a0518" stroke-width="0.65"/>
<circle cx="368.7" cy="225.8" r="3.2" fill="#8c1a87" stroke="#1a0518" stroke-width="0.65"/>
<text x="1.6" y="261" font-size="10" fill="#000" font-weight="bold">f</text>
<text x="15" y="260.8" font-size="9.4">Caecal–colonic mLN, day 7 post-tamoxifen</text>
<text x="240" y="260.8" font-size="9.4">Caecal–colonic mLN, day 15 post-tamoxifen</text>
<text x="451.5" y="260.8" font-size="9.4">Caecal–colonic mLN, day 21 post-tamoxifen</text>
<defs><filter id="bl" x="-5%" y="-5%" width="110%" height="110%"><feGaussianBlur stdDeviation="0.45"/></filter><filter id="bl4" x="-5%" y="-5%" width="110%" height="110%"><feGaussianBlur stdDeviation="0.55"/></filter><filter id="bl3" x="-5%" y="-5%" width="110%" height="110%"><feGaussianBlur stdDeviation="0.6"/></filter><filter id="bl2" x="-20%" y="-20%" width="140%" height="140%"><feGaussianBlur stdDeviation="1.2"/></filter></defs>
<rect x="1" y="266" width="163" height="126" fill="#000"/>
<defs><clipPath id="ci1"><rect x="1" y="266" width="163" height="126"/></clipPath><clipPath id="ci2"><rect x="240" y="266" width="135" height="126"/></clipPath><clipPath id="ci3"><rect x="451" y="266" width="161" height="126"/></clipPath></defs>
<g clip-path="url(#ci1)"><path d="M17 266 C9 275 4 290 3.5 310 C3.5 328 8 342 19 356 C28 366 42 375 60 381 C80 386 110 387.5 135 387 C150 386.5 160 385.5 166 384 L166 266 Z" fill="#0a0a1e"/>
<defs><clipPath id="cin1"><path d="M17 266 C9 275 4 290 3.5 310 C3.5 328 8 342 19 356 C28 366 42 375 60 381 C80 386 110 387.5 135 387 C150 386.5 160 385.5 166 384 L166 266 Z"/></clipPath></defs>
<g clip-path="url(#cin1)"><path d="M17 266 C9 275 4 290 3.5 310 C3.5 328 8 342 19 356 C28 366 42 375 60 381 C80 386 110 387.5 135 387 C150 386.5 160 385.5 166 384" fill="none" stroke="#5040b0" stroke-width="12" opacity="0.18" filter="url(#bl2)"/></g>
<g opacity="0.55"><path d="M52.7 266.8h0m84.7 3.5h0m-27 1.8h0m-7.1-4.2h0m-3.8 3.4h0m-30.2 .9h0m-4-2.8h0m-11.8 2h0m-13.6-.7h0m-17.5-2.1h0m8.8 6.2h0m17.1 2.1h0m12.5 .6h0m21.9-1.4h0m8.9 .7h0m59.2 1.1h0m2.9 4.4h0m-15.1-2.3h0m-114.5 2h0m21.7 8.6h0m17.2 .4h0m36.9-2.7h0m51.2 2.1h0m-9.5 4.7h0m-22.7 .4h0m-13.3-2.2h0m-46.8 2h0m-2.5-.8h0m-2.6 1.8h0m-32.4-4.8h0m-2.8 7.9h0m13.8 3.6h0m79-3.4h0m4.9 1.5h0m6.3-1.8h0m12.3 1.3h0m10.5-2.1h0m8.7 3.4h0m-14.1 3h0m-92.6 .8h0m-.8-1.5h0m-14.9-.1h0m-.1 8.1h0m18.9-2.3h0m7.6 5.1h0m10.2-4.7h0m17.9 .5h0m34.1 1h0m.1 2.9h0m16 0h0m26.5-.9h0m-77.6 2h0m-23.2 .4h0m-14.8 0h0m-31.6 8.1h0m30-1.8h0m112 2.4h0m-13.9 3.8h0m-5.9-.2h0m-78.6 3.9h0m-31.6 .1h0m-8.2-1.7h0m-9.3-3.2h0m29 7.9h0m24.6-2.3h0m3.6 .6h0m15.9 3.4h0m22.5-2.2h0m.3 1.9h0m25.4-2.3h0m-4.4 9.8h0m-6-1.5h0m-71.8-1.1h0m-21.4 7.2h0m25.9 1.3h0m69.2-1.5h0m11.4 7h0m-15.8-2h0m-1.4 1.1h0m-10.9-.2h0m-30.6-2.5h0m-5.2-.5h0m-8.1-.4h0m-21.2 6.2h0m74.9-.4h0m-56.4 13.6h0m24.3 1h0m13.2-1h0m10 .1h0m58.6 8.1h0m-53.3-2.9h0m-28.5 8.9h0m6.2-3.5h0m44.2 1.9h0m5.5-.3h0m7.1 .2h0m1.5-.6h0" stroke="#d8d8e8" stroke-width="0.8" stroke-linecap="round" fill="none"/><path d="M152.4 266.3h0m-73.3 5h0m-28.7-.1h0m-5.6-2.6h0m-32.9 6.4h0m101.9 2.2h0m48.3-4.2h0m-111.4 10.2h0m-26.5-.5h0m-2.4-1.9h0m.7 7.2h0m84.9-.1h0m25.1 3.6h0m-.3 .1h0m-6.7 1.4h0m-62.8 .4h0m-23.4 2.3h0m84.4 2.2h0m6 5.8h0m-11.1 14.3h0m-19 1.1h0m-4.2-3.1h0m-78 7.6h0m137.5 5.7h0m-123.3 .4h0m10.1 7h0m102.1 7.4h0m-58.3 5.9h0m17.1-3.7h0m2.1-.9h0m45.9 11.5h0m-1-.3h0m-98.4-3.9h0m-12.5 2.2h0m89.7 4.4h0m-40.2 9.3h0m13 14.2h0m21.1 4.1h0m2.8-5.2h0" stroke="#4048f0" stroke-width="1.0" stroke-linecap="round" fill="none"/><path d="M129.6 271.4h0m-34.2 1.3h0m-46.8-2.7h0m-5.8 1h0m52.7 8h0m13.5-2.6h0m53.7-2.2h0m-109.4 9.5h0m109.8 5h0m-133.8 12.8h0m36.4-.4h0m48 1.4h0m45.7-5.1h0m-57.2 11.1h0m-80.2-5.1h0m39.1 9.6h0m67.9-.1h0m28.1 6.8h0m-116.3 2.2h0m55.1 1.3h0m37.8 3.6h0m-63.4 .3h0m-41.5 1.5h0m63.3 4.4h0m15.8 8.4h0m-4.8-.2h0m-55.6 1.7h0m-25.1 7.6h0m7.2-4.1h0m53.6 .2h0m16.6-.6h0m-70.5 10.1h0m63.2 12.3h0m-18.7-4.8h0m-15.4 7.7h0" stroke="#d8303a" stroke-width="1.0" stroke-linecap="round" fill="none"/><path d="M152 272.4h0m-10.9-2.9h0m-4.5 .3h0m-2 .6h0m-23.2-3h0m-3.3 .4h0m-59.1-.6h0m-15.5 11.3h0m4-.2h0m30.9-.3h0m57.4-2.3h0m35.1-1h0m-2.3 8h0m-29.9-2.3h0m-23.2 2.9h0m-87 8.6h0m-5.2 3h0m.8 7.2h0m39-4.2h0m89.7-.5h0m10.1 .7h0m-15.1 10.8h0m-55.9-2.7h0m-39.2 1.6h0m-20.4 .6h0m-1.2-2.9h0m-6.4-1.5h0m-8.3 6.1h0m43.7 3.6h0m9-1.2h0m22.9-1.7h0m56.5 3h0m11.5-.3h0m-30.3 5.1h0m-22.6-2.4h0m-73.4 5.7h0m64.9 2.2h0m5.6 1.9h0m68 6.6h0m-74.2-4.4h0m-25.5 2.2h0m-6.5-2.6h0m-21.3 4.5h0m-21.1 1.1h0m25.8 2.3h0m47.6 2.1h0m44.1-2.6h0m9.7 6.4h0m-91.4-1.5h0m-5.5 .1h0m21.6 4.8h0m86.5 3.3h0m.1-2.3h0m1.8 2.4h0m-47.2 8.1h0m-65.7 1.8h0m10.9 1.9h0m25.8-3.1h0m4.8 5.6h0m49.8 .1h0m-32 .7h0m-19.1 2.8h0m-13.6-2h0m-8.1 3.2h0m1.9 5.9h0m54.2-.5h0m-1.1 5.9h0m22.2 4.7h0" stroke="#d8d8e8" stroke-width="0.6" stroke-linecap="round" fill="none"/><path d="M72.2 269.6h0m-59.2 14.1h0m62.1 6.4h0m45.4 5.5h0m-17.6 19.9h0m-36.1 4.2h0m-48.2-3.7h0m93.5 5.9h0m-14.7 7.9h0m46.5 3.4h0m-118.3 11h0m135.6 6h0m-9.3 5.4h0m-3.5-.7h0m3.6 9.3h0" stroke="#3cc050" stroke-width="0.6" stroke-linecap="round" fill="none"/><path d="M107.1 271.2h0m-10.6-3.3h0m-49.9 3.7h0m-28.1-.7h0m123.4 9.9h0m-35.9-.4h0m12.1 12.2h0m-32.3 1.1h0m-37.4 2.8h0m100.2 4h0m-47.2 3.1h0m-46.5 3.3h0m9.8 5.4h0m75.3 4.3h0m-21.6 3.4h0m-1.8 .8h0m-101.4-2h0m7.8 7.7h0m52.3-.6h0m87.6-1.9h0m-68.9 4.3h0m15.2 22.1h0m48.4-1.9h0m-6.4 6.1h0m-38.6 1.7h0m-76.7-4.7h0m-7.9 4.5h0m97.3 7.7h0m-21.1 1.4h0m-47.7 2.5h0m20.6 6.8h0m34.4-2.5h0m40.6 2.8h0m-7 .5h0m-47.9 2.8h0m20.5 4.5h0m25.1 1.5h0" stroke="#d058c8" stroke-width="0.6" stroke-linecap="round" fill="none"/><path d="M89.1 266.3h0m5 5.9h0m-60.2-2h0m-4.5-1.9h0m-3.7-.7h0m32.9 10.4h0m56-1h0m4.5-3.4h0m15.7-.1h0m1.6 2.2h0m29.1 8.7h0m-20.2-.6h0m-86-1.1h0m-.1 .4h0m25.7 2.1h0m.9 3.7h0m41.5-1.5h0m28.5 .1h0m8.4 3.1h0m-43.8 2.4h0m-31.9 1.1h0m-45.9-.9h0m-15.5-.2h0m-1.3 2.7h0m10.7 4.5h0m10.6 1.9h0m84.5 .3h0m3.7-3.7h0m4.7 3.5h0m-7.4 6.2h0m-17.7 .2h0m-3.3-.9h0m-22.5-1.4h0m-82.9 1.5h0m17.1 4.2h0m16.1-.6h0m58.2-2.3h0m66.7 3.3h0m-151 4.1h0m9.9 10.3h0m25.1 .2h0m52.2-4.7h0m35-.4h0m24.8 8.8h0m-126.3 2.9h0m62.9 3.7h0m56.8-1.2h0m.9 1.5h0m-44.1 1.8h0m-7.6 1.5h0m-48.1 1.6h0m-7.7 6.3h0m8.9-1.9h0m47.3 1.7h0m14-2.9h0m25.3 9.3h0m-10.3-3.4h0m-110.8 3.9h0m73.7 5h0m66.2 .3h0m-29.7 7.5h0m-20.6-3.8h0m-6.7 .5h0m-47.8 3.6h0m-15-2.4h0m9.7 8.4h0m11.4-4.5h0m35.1 3.6h0m2.1-2.6h0m25.7-1.7h0m10.4 0h0m.3 2.2h0m15.7-.9h0m-21 6.1h0m-15.1-1.4h0m-7.9 4.5h0m-5.5-.9h0m32.6 6.2h0" stroke="#d8d8e8" stroke-width="1.0" stroke-linecap="round" fill="none"/><path d="M82.8 271.3h0m-47 .5h0m51.2 7.1h0m41.3-1.9h0m-85.6 10h0m4.5 3.9h0m24.1-5.1h0m14.8 2.5h0m35.5-2.7h0m43.2 3.2h0m-47.5 7.5h0m-20.8 5.9h0m46 2.2h0m-7.2 2.5h0m-29.7 4.9h0m47.6 9.1h0m-57.7 5.8h0m61.6-5.2h0m-23.9 11.3h0m11.4 3.5h0m-53.4 13.8h0m15.5 .3h0m35.9-4.8h0m-2.3 16.7h0m-51.7 4.3h0m-30.9 2.2h0m-11.2-.2h0m66.5 .7h0m51.3 3.8h0" stroke="#4048f0" stroke-width="0.8" stroke-linecap="round" fill="none"/><path d="M74.4 283.1h0m-58.5 6.1h0m112.9 1.7h0m28.5 26.8h0m-56.8 2h0m-1.6 7h0m-14.2 2.8h0m-38.4 3.2h0m-24.8 2h0m92.7 3.8h0m-5.8 4.1h0m-70.8 3h0m85.6 2.4h0m.1 .5h0m-87.4 7h0m-18.3-2h0m92 17.7h0m41.6 .4h0" stroke="#40b8e0" stroke-width="1.0" stroke-linecap="round" fill="none"/><path d="M114.8 280.8h0m-100.3-1.3h0m65.6 6.8h0m-19.5 5.9h0m-48.7 3.1h0m30.3 2.5h0m-7.9 5.9h0m44.6 10.7h0m-71.6 7.6h0m137.7-.1h0m13.8 5.9h0m-87.1 9.4h0m-13.9 2.7h0m-2 .6h0m-27.9-.5h0m8.6 17.5h0m53.3 10.9h0m30.2 5.2h0" stroke="#40b8e0" stroke-width="0.6" stroke-linecap="round" fill="none"/><path d="M121.4 272.6h0m-20.9-2.7h0m42.8 5.9h0m-103.9 5h0m-10.4 8.2h0m30.4 .2h0m44.3 3.7h0m-14.1 3.8h0m-27.3-1.4h0m-19.8 .2h0m34.9 4.4h0m44.4 6.5h0m-42.1 1.6h0m-33.5 6.1h0m-5.7 3.2h0m-16.6 8.9h0m116.5 16.5h0m-70.8-2.5h0m-43.4 9.5h0m94.8-4.6h0m-53.6 8.4h0m13.9 7.4h0m61.3 1.1h0m23 .6h0m-103.8 1.4h0m103.6 16.6h0m-53.9-4.3h0m-11.2 6.3h0m5.2 .6h0" stroke="#d058c8" stroke-width="0.8" stroke-linecap="round" fill="none"/><path d="M127.4 271.3h0m-42.9-3.6h0m-57 .1h0m39.9 7.7h0m30.1 23.9h0m22.4 7.4h0m-5.5-3.7h0m-76 2.8h0m115.1 4.7h0m-1.5 6.3h0m-15 12.3h0m-22 48.3h0m-48.7-2.2h0m15.3 7.4h0" stroke="#3cc050" stroke-width="1.0" stroke-linecap="round" fill="none"/><path d="M148.1 272.1h0m-14.3 .6h0m-13.7-3h0m-40.9 1.3h0m-62.4 5.7h0m43.4-.3h0m9.6 .2h0m42.1-1.3h0m35.4 8h0m-20.4 1h0m-19.8 6h0m24.5-5.2h0m34 2.1h0m-114 7.2h0m-29.7-1h0m77.8 10h0m-86 7.4h0m26.2 2.4h0m71.1-1.8h0m8.3 0h0m41.8 7.2h0m-3.1-2h0m-22.4 .5h0m-58.2 3.3h0m-24.3-4.5h0m-1.2 4.2h0m-21.8 .2h0m5.8 6.4h0m58.4 .1h0m64.1-2.2h0m4.7 2.3h0m-20.8 1.3h0m-54.5 .9h0m-9.1 3.8h0m50.7 10.3h0m-66.6 1.5h0m-5.1 1.6h0m3.4 2.1h0m80.9-.9h0m-88 7.2h0m58.5 13.3h0m-3.4-3.8h0m-75.6 1.6h0" stroke="#d8303a" stroke-width="0.8" stroke-linecap="round" fill="none"/><path d="M153.8 270h0m-32.9 1.3h0m-15.7 9.6h0m-91 8.5h0m10.8 .5h0m73.8 .7h0m-42.3 5.4h0m5.1 9.9h0m-7.5 4h0m32.9 2.8h0m35.9-2.8h0m42.8 7.8h0m-18.3 7.4h0m-3.2 5.6h0m-42.2-2.6h0m-79.7 .5h0m5.1 9.1h0m37.6 11.8h0m1-3.9h0m-26 10.6h0m52.5 2.3h0m26.2 6.5h0m-51 7.5h0m93.3 .9h0m-26.8 2.2h0m-45.1-.3h0m27.7 9.5h0" stroke="#d8303a" stroke-width="0.6" stroke-linecap="round" fill="none"/><path d="M161.8 267.1h0m-30.4 2.8h0m-40.4-.2h0m-.9-.3h0m-6.7-1.2h0m-1 1.7h0m-3.9 6.8h0m48.5-1.4h0m-79.6 9.9h0m86-.1h0m-27.8 10.4h0m-87.4-.4h0m141.1 6.3h0m-75.8 3.4h0m-42.4 9.1h0m56.5-4.1h0m-39.9 15.4h0m31.5 1.4h0m4.7-3.6h0m12.3 6.9h0m-96.7 4.5h0m144.4-.1h0m-71.1 6.1h0m-23.1 8.6h0m82.2-.1h0m-79.5 12.2h0m44.2 3.6h0m-40.8 2.8h0m63.7 6.2h0m25.8-2h0m7.5 2.4h0m-39.3 2h0" stroke="#4048f0" stroke-width="0.6" stroke-linecap="round" fill="none"/><path d="M25.4 267.1h0m23.2 6.1h0m.7 4.6h0m4.8-4.8h0m92.1 0h0m-126.6 10.5h0m58.6 11.4h0m-67.1 5.1h0m34.3-1.6h0m61 13.5h0m49.5 1.5h0m-44.7 27.6h0m-83.8 3.1h0m-13.7 1.8h0m80.8 3.7h0m31.6-.9h0m-27.7 15.3h0m-49.3 1.4h0m115.3 6.3h0m-50.6 8.2h0m-9.2-.7h0m-6.2 3.9h0m47-.7h0" stroke="#d058c8" stroke-width="1.0" stroke-linecap="round" fill="none"/><path d="M77.4 272.6h0m-61.7 .1h0m115.7 4.6h0m-12 6.2h0m-53.4 1h0m-30.8 3.5h0m94.1 2.5h0m15.8-4h0m13.8 1h0m-121.4 9.6h0m46.9 .5h0m44.4 7.8h0m-39.2 3.4h0m-4.2 .1h0m-61.5 2.6h0m5.9-2.4h0m68 7.3h0m-78.6 6.3h0m20.2-.9h0m6.4 6.8h0m-3.8 14.2h0m-28.9-1.9h0m81.4 6.9h0m36.6 19.5h0m-21.1 12.4h0m30.6 4.3h0" stroke="#3cc050" stroke-width="0.8" stroke-linecap="round" fill="none"/><path d="M148.3 267.8h0m-31.9 .8h0m-54.9 5.2h0m52.2 11.1h0m-19.7 3.3h0m59.7-2.4h0m-64.6 28.5h0m6.7-5.2h0m-7.5 9.8h0m21 12.8h0m-91.6 6.3h0m15.3-1.2h0m107.6-1.9h0m-65.3 7.3h0m-22.1-2.7h0m-6.4 5.2h0m11.6 .8h0m74.2 3.8h0m.6-2.3h0m-29.9 13.7h0m12.5 5.4h0m14.3 16.8h0" stroke="#40b8e0" stroke-width="0.8" stroke-linecap="round" fill="none"/></g>
<g opacity="0.7"><path d="M9.3 299.5h0m4.1 3.1h0m.2-5.2h0m-5.4 10.6h0m4.9 4h0m.5 3.6h0m-2.5 1.6h0m-1.5 .3h0m4.1 5.3h0m-3.4 5.7h0m2.7 5.3h0m2.7 6.6h0m-1.8 3.9h0m19.8 11.6h0m-.4-.8h0m-2.6 1.7h0m20.3 7.2h0m-1.4 .3h0m-12.9 0h0m-4.3 .3h0m9 5h0m12.8 3.2h0m3.1 1.4h0m93.6 1.8h0m-21.1 4.9h0m-12.6-2.5h0m-39.4 .7h0m-8.4-.5h0m-17.8-2.5h0m66.7 5h0m17.5 .7h0" stroke="#d058c8" stroke-width="0.7" stroke-linecap="round" fill="none"/><path d="M10.4 293.1h0m-2.4 1.8h0m.4 2.7h0m5.4 8.5h0m-5.4-.9h0m-.5-1.5h0m1.7 14.9h0m1.7 3.1h0m1.6 3.7h0m3.7 16.7h0m-.2 2h0m-2.7-1.4h0m1.2 5.5h0m7.6-1.5h0m3.9-1.2h0m7.6 14.9h0m3-2.8h0m14.5 6.7h0m-4.7 .5h0m-14 2.7h0m16.6 6.2h0m2.1-1.9h0m4.7 1.8h0m4.8-.5h0m94.4 4.7h0m-1.5 2.7h0m-4-3.9h0m-1-1.1h0m-18 5.3h0m-.7-4.3h0m-18.5 2.3h0m-1.9-.7h0m-26.5 .8h0m-2.4 1.3h0m-4.2-4.6h0m-3.7 1.6h0m67.1 5.8h0" stroke="#d8d8e8" stroke-width="0.9" stroke-linecap="round" fill="none"/><path d="M8.6 302.9h0m151.7 75.8h0m-34.4 2.2h0m-22.7-1.3h0m-16.4-1.2h0m-9.5 3h0m67.5 .1h0" stroke="#3cc050" stroke-width="0.7" stroke-linecap="round" fill="none"/><path d="M7.8 302.9h0m1.6-5h0m73.2 80.4h0m-23.7-2.3h0m50.6 6.9h0" stroke="#d8303a" stroke-width="0.7" stroke-linecap="round" fill="none"/><path d="M11.7 307h0m4.5 26.1h0m-.2 8.1h0m20.8 18.2h0m1 1.1h0m21.3 16.7h0" stroke="#d8303a" stroke-width="0.9" stroke-linecap="round" fill="none"/><path d="M10.4 295.3h0m.5 4.9h0m-.4 3.6h0m-1.4 3.3h0m5.9 6.3h0m-2.8 2.5h0m-2.5 7.6h0m2.5 1.4h0m0-1.1h0m4.7 6.7h0m-2.1-3.2h0m-2.9 3.2h0m-.7-2.3h0m1.7 5.6h0m3.3 .1h0m11.7 9.8h0m-7.4 2.7h0m16.1 10.4h0m-14.5-.6h0m-1.2 .3h0m12 3.3h0m5.5 6h0m-1.7 4.3h0m10.6 1.3h0m6.8 1.1h0m3.6-1.1h0m1.5 3.5h0m1-1.8h0m97.7 4.9h0m-4.1-1.9h0m-18 1.3h0m-2.8 2.5h0m-4.1-3.2h0m-1.4 3h0m-27.5 .9h0m-8.1-3.2h0m-.6-1.3h0m-1.3 2.3h0m-6.2 .3h0m-1.5-3h0m-1.1 .3h0m-9.4 1.5h0m-18.5-1.1h0m29.8 4.9h0m33.5 1.5h0m13.9 0h0m14.2-1.3h0" stroke="#d8d8e8" stroke-width="0.7" stroke-linecap="round" fill="none"/><path d="M8 295.8h0m2.7 11.8h0m.8 1.4h0m2.4 5.6h0m-2.3 5.6h0m-.1-3.4h0m12.3 28h0m24 28.1h0m6.7 .5h0m64.2 7.5h0" stroke="#4048f0" stroke-width="0.9" stroke-linecap="round" fill="none"/><path d="M11 295.2h0m-2.3-4h0m0 3.9h0m-.7-.1h0m3.4 25h0m3.6 24.6h0m-1 .3h0m36.9 23.6h0m-1.5 6h0m114.3 6h0m-31.9-1.1h0m-6-1.8h0m-4.8 1.7h0m-31.6-2.5h0m-11 3.9h0m6.1 .3h0m32.7 .3h0m10.8 1.2h0" stroke="#d058c8" stroke-width="1.1" stroke-linecap="round" fill="none"/><path d="M12.6 293.4h0m1.8 44h0m2.4 2.4h0m-2.9 6.5h0m2.4 .3h0m5.2 10.2h0m1.9 3.4h0m7.4-.8h0m9.3 5.2h0m76.9 13.8h0m-53.9-2.7h0m57.9 7.5h0" stroke="#d8303a" stroke-width="1.1" stroke-linecap="round" fill="none"/><path d="M9.6 294.7h0m4.6 23.9h0m-4.7 7h0m3 9.4h0m4.7 5.1h0m-5.5 4.3h0m.1 .7h0m3.5 .9h0m18.2 13.9h0m3.3-.4h0m5.3 5.6h0m-2.8-.4h0m-.9 3.3h0m28.4 3.7h0m93.5 3.8h0m-5.9 .3h0m-18.4 1.6h0m-15.1 .1h0m-42.1-1.2h0m-3 2.6h0m4.7 3h0m34-.5h0m1.3 1.2h0m2.8-.8h0" stroke="#d058c8" stroke-width="0.9" stroke-linecap="round" fill="none"/><path d="M12.3 306.4h0m1.8 21.8h0m-1.8-.3h0m2.7 8.3h0m1.8 8.6h0m-3.8-2.6h0m-.9-2.6h0m1.2 6.8h0m.2-.3h0m4.1 2.5h0m1.3-1h0m7.7-1.7h0m7.7 9.9h0m-14.8-.2h0m-.9-.3h0m5.9 4.2h0m12.8 1.2h0m6.4 6.1h0m-3.3-1.1h0m-4.5 0h0m6.6 4.4h0m5.9 2.6h0m1.3-2.4h0m.7 4.1h0m10.1-2.8h0m2.1 3.4h0m6.2-1.5h0m89.5 4.9h0m-6.9 2.1h0m-.2-5h0m-1.2 3.8h0m-3.9-2.3h0m-.1-.4h0m0 3.4h0m-17-2.9h0m-8.4-.1h0m-6 2.3h0m-4.4-.4h0m-.3-.1h0m-5.7-.4h0m-27.3 1.1h0m-13.6-2.7h0m8.6 4.9h0m1.6-.1h0m54 .2h0m2.4 .5h0m11-.8h0m13.9-.3h0" stroke="#d8d8e8" stroke-width="1.1" stroke-linecap="round" fill="none"/><path d="M11.2 311.9h0m1.7 2.9h0m-2.2 9.9h0m3 2.5h0m-1.8 2.7h0m-.3 1.2h0m.8 8.8h0m36.4 28.2h0m-10.1 2.3h0m23.2 2.3h0m102.3 6.3h0m-10.5 1.6h0m-4.1-4.5h0m-9.9 3.8h0m-67-.2h0m37 2h0m5.8-.4h0m4 1h0" stroke="#4048f0" stroke-width="0.7" stroke-linecap="round" fill="none"/><path d="M14.7 335.6h0m17.8 22.2h0m2.5 .2h0m10.7 10.2h0m98.9 11.7h0m-28.3-.1h0m-45-3.7h0" stroke="#4048f0" stroke-width="1.1" stroke-linecap="round" fill="none"/><path d="M13.4 342.5h0m17.6 16.6h0m81.5 21.6h0" stroke="#3cc050" stroke-width="0.9" stroke-linecap="round" fill="none"/><path d="M46.1 370.4h0m77.1 9.9h0m-18.1-.7h0m20 1.6h0" stroke="#3cc050" stroke-width="1.1" stroke-linecap="round" fill="none"/></g>
<g filter="url(#bl4)" opacity="0.9"><path d="M43.8 275h0m1.1-.3h0m2.6 .8h0m.4-.6h0m.8 .1h0m1.8-.1h0m79.2 2.9h0m.3 6.1h0m-.2 0h0m-.3 .7h0m-.1-2.7h0m-.5 2.3h0m-.1 .3h0m-.2 .1h0m-.3-.6h0m-.2-.1h0m-.6-1.8h0m-.4 .9h0m0 1h0m-.3-1.9h0m-1 .6h0m-1.2-.2h0m-84.2 6.8h0m84.5-3h0m2.2 3.8h0m.4-3.3h0m.1-.7h0m.3-.4h0m.2-.1h0m1.6-.5h0m0 1.8h0m.6 2.7h0m4.8-.9h0m-98.1 4.5h0m-.8 2.1h0m-.6 .3h0m-.3-.1h0m-.7-1.9h0m-.2-.1h0m-.9-.2h0m-.4 3.6h0m-.1-1.4h0m-2-.1h0m-5.4 4.8h0m2.1-1.3h0m.9 2.6h0m2.4-1.4h0m8 .2h0m38.7-1.3h0m6.3 .8h0m7.3 7.8h0m-.6 1.3h0m-2.4-2.2h0m-.1 .4h0m0 .8h0m-2.6-.5h0m-4.3 1.1h0m-.7-2.8h0m-1.9 .5h0m-36.9-3h0m-24.6 11.6h0m2.1-2h0m1.1 1.1h0m1.2-2.5h0m0 1h0m1.1 1.3h0m54.2-2.7h0m1.2-.3h0m3.6 2.5h0m.6 1.4h0m1.4-1.8h0m1.2 .9h0m0-.4h0m.3-3.3h0m.1 .6h0m.4 4.3h0m0-1.9h0m.2-.4h0m0-.4h0m0 .4h0m.1-.5h0m0-.6h0m.1 1.6h0m.1-.8h0m.9-1h0m1.2 .8h0m.3-.1h0m.1-2.8h0m1.1 5.3h0m1-1.9h0m.8 1h0m4.5-3.3h0m-2.9 7.6h0m-.3 .7h0m-2.2-3.3h0m-.8 .3h0m-4.4 3.1h0m-.2-2.8h0m-.2 2.1h0m-1-2.1h0m-.1 .3h0m-.4 .3h0m-.2 .3h0m-2.4 .3h0m-1.3 .8h0m-24 2.9h0m-3.9-.2h0m0-.5h0m0-3.6h0m-.4 1.9h0m-.3-.1h0m-.9 2h0m-1.1 0h0m-21.6 .1h0m-3.6-3.7h0m-.3 .2h0m-1.3 .5h0m-.5-.6h0m-1 1.3h0m-.5 .3h0m-1.5 1.7h0m-5 2.7h0m3.8 1.3h0m4.9-2.6h0m24.7 2.5h0m4.9-3h0m.4 .2h0m1.4 2.1h0m33.4-1.3h0m1.8 1.2h0m1.4-.9h0m.9 .4h0m14.2 3.8h0m.4 4.7h0m-.5 .2h0m-1.7 1.1h0m-.1-1.1h0m-2.5 1.3h0m-.6-.1h0m-1.9-.1h0m-3.9 0h0m-31-.9h0m-1.1 .3h0m-3.9-2.9h0m-18.6 9.4h0m7-4h0m1.8-1.1h0m7.3 4.1h0m5.4-3.2h0m.2-.7h0m0-.2h0m.2-.1h0m3.9 .7h0m2.9 0h0m31.4 3.4h0m.7-.4h0m1-3.4h0m.2 4.9h0m.7-5h0m.2-.2h0m.1 .8h0m0-.6h0m.1 1.8h0m1.1 2.3h0m1.8 1.3h0m.5-5.6h0m39 3h0m1.9-2h0m11.1 4h0m.6 2.4h0m-6.9 2.4h0m-3-3.2h0m-1.2 5h0m-.1-2.1h0m-2.1-2.7h0m-1.4 1h0m-.9-1.5h0m-2.1 2.6h0m-85.7 1.6h0m-.6-.6h0m-4.1 .8h0m-.1 .5h0m-.1-.3h0m-.1-.2h0m-.1 0h0m-.4-2h0m-.1 1.8h0m-.1-2.3h0m-.3-.8h0m0-.7h0m-.3 4.3h0m-.3 .3h0m-1.5-1.8h0m-15.2-2.4h0m-1.2 .1h0m-6.1 5.1h0m16.3 1.1h0m2.5-.2h0m7.2-.8h0m4 3.8h0m92.2-3.8h0m.1-.1h0m2.8 3.3h0m1-.1h0m-21.8 5.7h0m-1.3-1.2h0m-.3 .6h0m-.4-.1h0m-1.5 0h0m-16.8 .5h0m-1 1.6h0m-.1-.2h0m0 .6h0m-.3-.6h0m-.1-.1h0m-.2 .2h0m0-3.3h0m-70.1 4.2h0m-.6-.5h0m-1.9-.3h0m-1.1 2.4h0m1.8-.1h0m.4 2.9h0m.1-3h0m.5-.6h0m2.1 3.5h0m.3-3.7h0m21 5.7h0m42-4.2h0m7.6 .8h0m.6 1.5h0m-44.1 3.1h0m-7.2 .6h0m-1.9 .8h0m-3.5-.3h0" stroke="#4048f0" stroke-width="1.7" stroke-linecap="round" fill="none"/><path d="M126.9 276.8h0m6.7 7.1h0m-2-.8h0m-.4-2.7h0m-1.4 4.2h0m-.8-.5h0m-.2 .6h0m-.2-.9h0m-2.5 .9h0m-2.5-1.9h0m-.2 1.5h0m-94.6 6.3h0m9.7-1.7h0m1.2-2.4h0m87.4 1.3h0m.7-2h0m.2 3.5h0m.1-2.3h0m.1-1.3h0m.6-.5h0m.9 4.5h0m1.7-3h0m0-1.4h0m-94.3 10.8h0m-.5 .5h0m-.8-2.5h0m-.4 2.1h0m-.6 0h0m0-1.1h0m-1.2 .4h0m-1.2-3h0m-2.7 2h0m-2.5-3h0m1.1 5.9h0m.9 3.8h0m3-1.3h0m.2-1.6h0m5.7 3h0m55.3 7.3h0m-1-.6h0m-3.9-3.7h0m-1.5 1.8h0m-1.5-1.4h0m-1.5 .9h0m-5.6 4.5h0m2.3 3.7h0m.6-3.4h0m1.8 1.9h0m1.6 2.1h0m.3-5.1h0m.1 4.5h0m.1 1.1h0m.1-2.4h0m.5-2.5h0m.1 1.6h0m0 3.4h0m.2-2.2h0m.2 .5h0m.2-.8h0m2.3-1.2h0m0-1.2h0m.8 1.7h0m2-2.3h0m17.8 2h0m.4-.8h0m2.9 3.3h0m.1 .9h0m.2-3.3h0m19.1 6.5h0m-1.2 .1h0m-16.3 .8h0m-.6-2.5h0m-.3 .9h0m-.2-.2h0m0-.9h0m-.3 .7h0m-3.5 3.2h0m-1-2h0m-11.4-.7h0m-4.4 1h0m-1-2.9h0m-2.8 .8h0m-1.1 .1h0m-3.1 .6h0m-2 2.8h0m-1.2-3h0m-51.3-.1h0m-7.4 1h0m-.2-.2h0m0 .3h0m-.1 .2h0m-.4-2.6h0m-1.3 4.4h0m-4-4.2h0m1.8 8.1h0m4.9 1.3h0m4.2 0h0m60.6-2h0m4.7-1.8h0m10.3 5.7h0m28.8-6h0m.4 3.7h0m.9 .2h0m3.4-3.3h0m-3.4 11.3h0m-7.7-3.5h0m-19.8 1.7h0m-3 1.4h0m-3.4 .2h0m-.9-4.2h0m-35.2 4.4h0m-1.6-.2h0m-.3-.8h0m-3.8 2.7h0m3.5-1.3h0m0 1.8h0m.5-1.9h0m.3-.2h0m1.2 .3h0m1.9 2.5h0m36.6 .8h0m1.1 0h0m.1-2.1h0m.1-1.1h0m0-.2h0m0 3.5h0m.6-3.6h0m1.8 2.7h0m37.8 .7h0m.7 2.4h0m3-.3h0m.5-.7h0m.4-3h0m.1 2.5h0m0-4.2h0m4.1 5.2h0m.6-.6h0m0-.9h0m-2.3 5.4h0m-.1 2.2h0m-.2-3.9h0m-1.3 2.3h0m-.7-.2h0m-.2-.4h0m-.5-1.5h0m-8.3 2.5h0m-33.8-3.2h0m-51.8 2.3h0m-1.1 1.4h0m-.6-1.1h0m-.7 2.1h0m-.3-.1h0m0-4.8h0m-.8 4.4h0m-.3-1.5h0m-.1 1.1h0m-.4-.8h0m-.9-.6h0m-1.5 1.7h0m-.7 .2h0m.7 5.3h0m1.7 .3h0m2.2 .5h0m2.3-4.2h0m6.5 2.3h0m88.4-1.6h0m0 2.6h0m2.5-3.5h0m-96.3 14.1h0m2.6-2.8h0m.7 0h0m1.1 5.4h0m.1-5h0m.2 3.2h0m.6-1.9h0m.2 3.4h0m.8 0h0m.2-.2h0m1.7 .2h0m0-.9h0m.5 .5h0m1-2.2h0m.2-2.8h0m.7 3.8h0m2.8 3.8h0m-3.9-.1h0m-1.4 4.1h0m-2.1-4.5h0m-.6-1h0m-.9 2.3h0m-1.9-1.2h0" stroke="#d058c8" stroke-width="1.4" stroke-linecap="round" fill="none"/><path d="M131.6 281.5h0m-2 3.1h0m-.9-1.7h0m-.1 1.9h0m-2.3-3.5h0m-88.3 8.2h0m83.9-2.7h0m4.9 .1h0m1.3 2.5h0m.4 2.1h0m-85.7-.1h0m-3.7 3.5h0m-1.5 2h0m-1.5-1.8h0m-.1 .5h0m-.9 .1h0m-.1-1.3h0m-.2-2.3h0m-.3 3.4h0m-1 .4h0m-.6-2.3h0m-.3-1.2h0m-.2 .8h0m-.9 1.4h0m-1.8-2.6h0m-.3 5.7h0m.3-.2h0m1.3 1.8h0m.8-1.3h0m1.1 2.6h0m.1-3.4h0m1.2 1.8h0m1-1.5h0m3.4-.2h0m1 .6h0m.5 3.7h0m4.3-2.8h0m45.7 10h0m-1.4-4.2h0m-.2 3.5h0m-3.3-2.7h0m-1.5 3.1h0m-.1-.7h0m-7.7 .8h0m4 2.8h0m.2-.7h0m1.2 .3h0m.7 3.5h0m.6-4.1h0m1.5 2.6h0m.5 1h0m.2-2h0m.1-1.7h0m.2 2.3h0m0 .3h0m.9-.2h0m.2-.3h0m0-.1h0m.1 .6h0m.2 .1h0m.2-1.1h0m1.2 1.7h0m0 .5h0m25.6-4.7h0m.3 4.1h0m.6-2.5h0m1.5 4h0m14.2 2.4h0m-5.3 2.2h0m-8.6-4.3h0m-.2 5h0m-1.1-1.4h0m-.8-2.6h0m-.1 .1h0m0-1.2h0m-1.7 2.8h0m-16.4 .4h0m-4-2.7h0m-.8 2.2h0m-4.4-.7h0m-1.6 1.1h0m-3.2-1.2h0m-55.4 3.6h0m-2.5-5.6h0m-.4 2h0m-1 .1h0m-.1 3.2h0m-.6-3.1h0m-.2-1.4h0m-2 2.7h0m-3.5 3.8h0m5 .5h0m1.3-1.7h0m59.9 .2h0m.2 .6h0m12 3h0m17-1.5h0m3.5-2h0m18.6 3.1h0m.7-.2h0m0 1h0m1.2-1.7h0m-4.9 5.2h0m-24.2-1.1h0m-7.7 3.4h0m-.8-.6h0m-32.8 2.2h0m-2.7 0h0m-1.8-1h0m-1.7-.4h0m-7.5 7.4h0m3.9-3.1h0m1.6-1.1h0m4-1.6h0m.2 .1h0m.2 1.9h0m.2-2h0m.2 4.8h0m0-1.7h0m.1-2.5h0m1.2 1.3h0m.2-1.4h0m2.8 3.3h0m31.4-3.5h0m2.9 .1h0m2.3 .4h0m.1-.8h0m2.1 .3h0m.8 .9h0m.6 2.3h0m1.4 .3h0m.4-2.5h0m3.2 3.6h0m25.7-2.9h0m5.2 1.8h0m1 1h0m10 4.6h0m-1.7 2.2h0m-1.8-.2h0m-.9-3.3h0m-.1 .4h0m-1.8 2.1h0m-.5-2.2h0m-4.8 2.9h0m-1.4-2.1h0m-82-.4h0m-.8-2.2h0m-2.6 4.2h0m-1.4-2.2h0m-1.4 2.5h0m-.4-3h0m-.4 2.9h0m0-.7h0m-.1 .6h0m0-.7h0m-.1 1.3h0m-1.6-.5h0m-.6-1.3h0m-.6 0h0m-1.4-3.2h0m-.4 3.3h0m-.8-3.2h0m1.1 10h0m1.1-2.6h0m.9-1.8h0m2.2-.2h0m.4 4.2h0m.5-1.8h0m95.9-1.2h0m4 1.7h0m3.1 .5h0m-97.7 9.7h0m2.1 1.2h0m.6 .7h0m.2 2.4h0m.1-.9h0m.4 .7h0m.1 .1h0m1.4 .1h0m.3-1.2h0m.6-3.4h0m1.1 4.8h0m0-2.7h0m3.8 1.9h0m1.5 1h0m.7-.7h0m-1.3 1.9h0m-6.5-.5h0m-3.1 2.6h0m-1-.8h0m-1.3-.7h0m-1.2-.7h0" stroke="#d058c8" stroke-width="1.1" stroke-linecap="round" fill="none"/><path d="M36.8 294.7h0m-8.6 4.4h0m6.9-.4h0m1.6-.6h0m.8 .4h0m.9-.4h0m109.6 9.9h0m-7.4-3.2h0m-126.8 7.5h0m98.6-.8h0m1.2 1.9h0m4.8 .1h0m2.3-.1h0m11.9 1.5h0m17.2-2.6h0m-10.3 6.2h0m-3.3 .3h0m-2.3 1.2h0m-.6 .7h0m-.1-2h0m-.4-3h0m-.3 4.5h0m-.6 .4h0m-1.5-.9h0m-.2 1.1h0m-16.1-4.2h0m-3.1-1h0m-86.9 .1h0m-1.9 2h0m0 2.6h0m-.2-4.8h0m-2.2 .9h0m90.3 4.9h0m2.9-.2h0m11.1 5.5h0m5.4-.7h0m.2-.3h0m.7 1.3h0m1-4.8h0m.7 4.7h0m.3-2.7h0m.1 .4h0m.2-2.5h0m.8 1.5h0m.1 0h0m.6-.3h0m.1-1.9h0m.5 2.2h0m.2-2.4h0m.5 2.2h0m.2 2.1h0m.6-2h0m.5-1.6h0m4.8 1.9h0m-5 4.7h0m-1.1 1.3h0m0-1.8h0m-1.2-.2h0m-1.3-.5h0m-1.6 0h0m-21.9 3.9h0m-7.5 .8h0m-1.8 .4h0m-.4 .4h0m4.5 3.3h0m.5-1.6h0m1.2 1.4h0m.1-1.6h0m1.4-.9h0m42.6 3.5h0m1 .3h0m3.5 1.6h0m.6-1.9h0m3.5 7.1h0m-9.1-.9h0m-.4-3.2h0m-.8 3.7h0m-.3-.2h0m-.1 .3h0m-1.6-1.5h0m-1.3 .3h0m-.3-1.9h0m-93.4 3.8h0m-.3-.3h0m-2.3 .1h0m4.9 5.7h0m84.6-2.4h0m1 .3h0m4.9 3.2h0m8.3-2.8h0m-72 8.1h0m-.7-1.8h0m-.6 2.2h0m-.2-1.3h0m-.2 .7h0m-.4-2.2h0m-.3-1.1h0m-1.2 2.8h0m-22.3 7.2h0m2.5-.5h0m.9 0h0m.8-2.8h0m.3 2.3h0m0 1.3h0m.1-1.4h0m.3-.5h0m.6 .8h0m1.6 0h0m.5-4.4h0m1.7 2.1h0m4.5-.8h0m8.1-1.2h0m2.3 .5h0m2.5 1.1h0m.2-2.1h0m1.3 4.3h0m.9-3h0m6 3.6h0m2.2 .7h0m1.4-1.3h0m-1.7 2.3h0m-.8-.3h0m-.6 1.1h0m-1.3-.9h0m-10.8-.5h0m-18.7 .2h0m-1.5 .9h0" stroke="#d8303a" stroke-width="1.1" stroke-linecap="round" fill="none"/><path d="M39 292.3h0m-3.4 1.3h0m-.5 3h0m-.1 .1h0m4.2 4.1h0m103 2h0m11.1 4h0m-36.6 5.5h0m30.8 .6h0m1.2 .1h0m1.3-.7h0m1.7-1.5h0m.2 3.5h0m1.2 .7h0m1-1.9h0m-37.3 4.2h0m-2.2 .8h0m-.3 2h0m-.9-3.6h0m-1.6 .9h0m-2.5 2.6h0m-53.5-2.1h0m-1.7 1.4h0m-1.7 1.5h0m-29.9-1.8h0m-.3-1.4h0m-.2-2.2h0m-.7 1.8h0m-1.2 1h0m-3.1 1.4h0m3.5 1.7h0m1.9-.1h0m1.6 3.1h0m5.3 1.6h0m84.9-2.5h0m4.3-2.2h0m29.1 2h0m-117.3 12.2h0m4.7-.3h0m.3 2.5h0m0 1.3h0m4.8 1.8h0m-3.5 2.5h0m-2-1.5h0m-.1-2h0m-1.1 2h0m-.8-.7h0m-.2 .3h0m-1.1 2.9h0m-1.6-.4h0m79.3 11.6h0m-.9 .2h0m-.2-1.4h0m-.5 .1h0m-.1 .9h0m-.2 1.4h0m-.8-.1h0m-.3-3.5h0m-.4 2.4h0m-68.8 2.4h0m.6 .9h0m71.8-.2h0m1.3 .2h0" stroke="#40b8e0" stroke-width="1.7" stroke-linecap="round" fill="none"/><path d="M43.6 274.2h0m5.2-.8h0m0 1.4h0m2.1-1.7h0m76.8 5.8h0m.8-1.7h0m2.2 7.1h0m-.3-4h0m-1.5 4.6h0m-.2-.9h0m0 .6h0m-.7-.1h0m-.9-1h0m-.1-2h0m-4.4 0h0m-82.7 6.6h0m85.6 1.1h0m1.2-2.7h0m1.8 4.4h0m1-4.7h0m.6-1.1h0m.4 .2h0m.7 1.4h0m1.6-1.3h0m-94.6 10.9h0m-1.8-2.9h0m-.1 .7h0m-.9 1.9h0m-.6-.2h0m-.5 .3h0m-4.1-1h0m-.9 1.1h0m-.2-1h0m-.4-1.2h0m-.4-.3h0m3 5h0m2.7-1.3h0m.6 3h0m3-3.2h0m.7 .9h0m.2-.7h0m1.4 5.6h0m43.3 0h0m1.6-4.9h0m1.2 1.6h0m2.9 0h0m5.7 3h0m-4 5h0m-3.7-2.7h0m-.2 .3h0m-1.6 .8h0m-7.2-2.8h0m-42.9 2.5h0m-18.4 8.2h0m.7 .9h0m62.5-1.1h0m2.7 .1h0m.4-4.5h0m.1 3h0m.7-.9h0m.1 1h0m1.2-2.6h0m.1 1.2h0m.2 .6h0m.3-1.4h0m.1 2.5h0m.4-2h0m.1 1.7h0m.1 .5h0m.2-.7h0m0 2.6h0m.1-5.2h0m.6-.7h0m.2 3.2h0m3.8 2h0m2.5-3.3h0m.4-.1h0m-5.8 6.9h0m-5-2.2h0m-.1 .1h0m-.2 3h0m-1.4-2.2h0m-28.7 2.3h0m-1.7-2.9h0m-1.5 5.1h0m-.7-1.1h0m-24.5 .8h0m-.2-2.8h0m-.3 .3h0m-.8 1.6h0m-.1-.5h0m-.9-.6h0m-.8 2h0m-.5-4.7h0m-2.3-.1h0m.5 5.2h0m2.2 5h0m4.3-2.2h0m1.7-2.6h0m3.7 1.1h0m21.3-1.3h0m.1 .1h0m49.4 3.2h0m51.4 8.1h0m-43.8-2.6h0m-2 .8h0m-2.9 2.1h0m-.4-3.3h0m-1.1 3h0m-.1 .1h0m-.3 .3h0m-.1-1.6h0m-2-.2h0m-11-1.3h0m-27.3 3.1h0m-1.2 0h0m-11.8 5.8h0m8-4.2h0m4.6 0h0m36.5-.7h0m1.7 4.1h0m1.5-4.5h0m.5 1.3h0m.2 1.8h0m.4-2.8h0m1.6 2.8h0m.7-1.3h0m.2-1.1h0m2.4-.3h0m.8-.2h0m36.6 1.1h0m4.6 3.4h0m5.3-4.3h0m-1.9 11.1h0m-3.2-2.7h0m-1 2.2h0m-.1-1.3h0m-.1 0h0m-.3 .1h0m-.1-.2h0m-.3 .2h0m-6.5 .9h0m-34.8-4.8h0m-3 .4h0m-.6-.2h0m-2.6 1.6h0m-44.5 3.8h0m-1.8-4.3h0m-.9 3.4h0m-.1 .5h0m-.8-3.3h0m0 2.1h0m-.5-2h0m-.4 3h0m-.1-.6h0m-.3-.2h0m0 .7h0m-.3-.3h0m-5.6-.4h0m-10.1-.9h0m-2.5 .7h0m-6.4 .5h0m18.8 3.9h0m1.7-.4h0m2.9-1.6h0m2.8 1.7h0m94.7 0h0m3.1 2.1h0m5.9-1.8h0m-6.9 7.9h0m-.1-2.6h0m-1.5-.3h0m-5.6 0h0m-13.6 .4h0m-.9 1h0m-.4-.7h0m-.6-1.5h0m-.6 2.4h0m-15.2-2.7h0m-1.4 3.6h0m-.7 .1h0m-.2 .5h0m-.6-2h0m-.6 1.8h0m-4.3-1.6h0m-43.9-1h0m-24.7 4.5h0m.8 1.6h0m.1 1.9h0m1-2.9h0m2-.1h0m21.1-.1h0m1.4 4.7h0m2.1-.2h0m41.5-3.4h0m2.6-1.6h0m.5 1.7h0m1-.9h0m.8-.9h0m1.6 4.1h0m.5-2.1h0m-53.4 4h0" stroke="#4048f0" stroke-width="1.4" stroke-linecap="round" fill="none"/><path d="M38.3 292.7h0m-1.9 2.8h0m-.3-3.4h0m-3 10.2h0m111.8 6.3h0m-27.9-3.7h0m-96.7 7.7h0m2.8 2.3h0m1.2-2.4h0m1.6-2.9h0m0 5.4h0m86.3-4.9h0m2.1 4.7h0m.3-4.3h0m1.4 3.8h0m.5-5h0m1.7 2.7h0m26.3-2.6h0m4.4 2.7h0m1.1-.7h0m.1 3.1h0m-.8 6.1h0m-4-4.4h0m-25.4 2.7h0m-5 1.2h0m-.3-4h0m-.3 2.6h0m-1.4-2.7h0m-.4 .7h0m-5.2-.9h0m-54.4 4.8h0m-1.5 .2h0m-24.6-4.6h0m-3.5 3.6h0m-.5-1.9h0m-.1-1.4h0m-.5 1.4h0m-.2-2.8h0m-.2 2.7h0m-4-.2h0m-.5-.1h0m4.8 4.4h0m27.2-.5h0m2.8-.3h0m59 0h0m1.5 4.3h0m1.8-2.7h0m-82.8 14.7h0m2.5 1.2h0m.6 3.5h0m-.1 1.3h0m-.9-2.6h0m-.5-.3h0m-.4 .8h0m-.1-.1h0m0 .6h0m-.1 .7h0m-.7-2.7h0m-.2 1.6h0m-.1 .6h0m-4.7-.6h0m-.7 3.1h0m6.7 .7h0m79.6 8.3h0m-3.9 2.4h0m-.2-.5h0m-.4 .4h0m-.8-2.5h0m-.4 1.1h0m-71.9 4.1h0m2.8-1.2h0m69.4 .4h0" stroke="#40b8e0" stroke-width="1.4" stroke-linecap="round" fill="none"/><path d="M127.9 278.9h0m2.6-3.4h0m-.4 4.6h0m-.5 .1h0m-.5 2.8h0m-.6 1.6h0m-89.1 5.6h0m1.5 2.6h0m-2.7 1.9h0m-1.3 .8h0m-.8-.5h0m-.6-3.5h0m-1 2.2h0m-.2-1.8h0m-2.5 4h0m-1-3.9h0m-2.5 3.5h0m-.5 .9h0m11.5 2.9h0m4.8 2.6h0m74.7 5.1h0m-37.2-1.2h0m-.7 3.9h0m1.4 4.6h0m.9-1h0m1.5 .5h0m.6 1.2h0m.3-3.9h0m.8 1.2h0m.2-2.7h0m.1 1.7h0m.8 2.4h0m.9-.5h0m.5-4h0m5.7 2.8h0m18.1 2.8h0m1-2.8h0m4.2-1.8h0m25.7-.4h0m2.7 2h0m1.9-.5h0m1.9 .9h0m.1 2.1h0m.2-2.8h0m1.6 2.2h0m2.4-2.4h0m-3.6 4.3h0m-.1 1.6h0m-1.7 3.5h0m-30.4-5.6h0m-2.1 1.5h0m-1-1h0m-1.4 1.2h0m0-.6h0m-.6 .4h0m-5-1.4h0m-.2 .9h0m-20.1-.9h0m-1.9 1.2h0m-.8 .7h0m-3 .4h0m-.1 0h0m-54.4-1.9h0m-4.2-.5h0m-1 1.6h0m-.1 1.1h0m-.4-.2h0m0 .2h0m-.1 .7h0m-.1-1h0m-.8 1.8h0m-1.3-2.7h0m-2.4 .9h0m-4.9 6.3h0m.1-2.7h0m4.6 2.1h0m2.3-1.9h0m1.1 1.1h0m58.2 .2h0m15.6-1.4h0m37 .4h0m1.7 3.1h0m.1-.9h0m.6 1h0m.6 1.9h0m1.8-2.2h0m1.2-1.6h0m.5-1.5h0m2.1 8h0m-8.2-2.1h0m-16.6 .9h0m-7.9 2.7h0m-.8 .8h0m-2.4-3h0m-.7 4.1h0m-.2-1h0m-.2-2.5h0m-.1 1.9h0m-37-.2h0m-4.8-.6h0m-1.5 1.9h0m-.2-2h0m-38.1-2.6h0m17.2 11h0m12.7-.2h0m8.3-.9h0m2-3.1h0m.4-.4h0m2.6 2.6h0m35.2-1.9h0m1-.1h0m.1-.9h0m2.3-.6h0m.6 .2h0m40 2.6h0m.2-2h0m.3 1.7h0m2 .3h0m.7 1.8h0m.9-1h0m6.7 .8h0m.2 6.6h0m-1.9-2.6h0m-1.6 2.6h0m-1.9-.3h0m-.7-3.9h0m-.1 3.1h0m-.2 .8h0m-1-1.9h0m-.9 .7h0m-.2-.4h0m-.6 1.9h0m-7-1.5h0m-85.5-2.8h0m-.6 4.7h0m-.1-3.5h0m-1.7 2.4h0m-.3 1h0m-.1-.7h0m-3.5-1.1h0m-11.6-3.5h0m-1 3.1h0m-1-1.1h0m-.1 .3h0m-.2-2h0m-.3 1.7h0m0 .1h0m-2.4 1.2h0m-.7 1.5h0m1.1 1.8h0m1.5 .1h0m11.8 3.9h0m.5-3h0m5.3 1.4h0m.9-3.1h0m.6 .1h0m.1 1.1h0m.2-.4h0m3.2 .5h0m2.2 1.9h0m83.1-3h0m6.7 2.6h0m.5-2h0m2.1-.8h0m1.5 1.7h0m.1 .7h0m-1.2 7.7h0m-8.3-1.2h0m-61.2 .7h0m-19.9-.8h0m-1.6 7.6h0m.4-3h0m.8 3.5h0m1 .3h0m1.5-5h0m1.3 4.1h0m3.5 0h0m13.5-2.2h0m.3-.9h0m-21.5 5.4h0m-.7 1.4h0" stroke="#d8d8e8" stroke-width="1.1" stroke-linecap="round" fill="none"/><path d="M128.4 276.9h0m.5 .5h0m.7 4.6h0m-.7 1.8h0m-.2-1h0m-.1-1.4h0m-2.4 2.2h0m-94.8 6.5h0m7.1 .9h0m84-5.7h0m1 2.3h0m4.6 1h0m.6-3.2h0m2.2 .1h0m-90.1 8.4h0m-2.7 2h0m-.4 .2h0m-1-1.7h0m-.3 1h0m-1.4 .5h0m-.1-.2h0m-.1-1.2h0m-.3 .3h0m-.9 1.1h0m-1.6-1.8h0m-.2-2.8h0m-.9 3.7h0m-3 .4h0m1.1 6h0m.4-3.7h0m4.7 1.5h0m3.9 1.1h0m47.7 .7h0m9.5 .4h0m-13.7 7.5h0m-45.6-3.5h0m-13.1 6.7h0m1.1 1.2h0m3.6-.7h0m4.4-1.7h0m50.9 3.4h0m.4-.5h0m.3-3.4h0m1.9 0h0m1 3.3h0m.6-2.2h0m.2 1.3h0m.3 .9h0m.6-.7h0m.1-.1h0m1.5 .2h0m.4-.4h0m.4-3h0m.9 1h0m1.5 3.9h0m1.9-1.4h0m16-.5h0m3.3 .6h0m.4 .3h0m2.8 0h0m.2-3.6h0m.4 5.8h0m-1.4 1.4h0m-.5 .9h0m-1.4-.1h0m-.4-1h0m-.2-.8h0m-1.3 2.7h0m-23.4 1.2h0m-3.8-4.4h0m-2.6 .5h0m-2.3 .6h0m-58.3 .9h0m0 .3h0m-.1-.6h0m-.3-.9h0m-.8 3.5h0m-1-1.8h0m-3-1.5h0m-2.8-.6h0m6.6 7.9h0m2.3 1.1h0m7.3-3.5h0m51.2 .7h0m10.9 2.8h0m38.9-2.3h0m1.8 2.2h0m1.3 .7h0m.6-.9h0m-31.5 7.9h0m-.4-1.6h0m-.4 1.7h0m-.1-3.4h0m-2.9 3.2h0m-10.7-4.7h0m-25.6 .1h0m-.9 .8h0m-.7 2.4h0m0 1.2h0m-.3 .4h0m-.1-.1h0m-.2-.2h0m-.3-1.7h0m-1.9 1.6h0m-9.5-.1h0m10.2 2.8h0m.1-.7h0m.1 1.1h0m1.3-.4h0m.5-1.9h0m.3 0h0m.3 1.2h0m1-1.4h0m36.1 .2h0m2.2 .8h0m1.1-.7h0m.3 .9h0m.5-1h0m31.6 2.1h0m9.9 2.8h0m7.6-1.1h0m3.2 4.6h0m-.7 1.7h0m-5.2-3.7h0m-.3 .7h0m-.6 2.9h0m-.6 .1h0m-.1-.8h0m-1.1-2.7h0m-.8 .5h0m-41.5-.6h0m-2.8 .2h0m-46 .8h0m-4.3 2h0m-.6 .6h0m-.1 .3h0m-.1 .4h0m-.1 .1h0m0-.8h0m-.4 1.4h0m-.3-1.1h0m-2.4 .7h0m-1.2-1.2h0m-4 2.4h0m5.1 1.9h0m1.9-1.7h0m1.1 2.6h0m.9-2.2h0m.7-.8h0m2.7 2.9h0m1.9 1.9h0m.6 .2h0m85.4-2.7h0m.7 .9h0m1.8-1.7h0m2.4 4.1h0m1.2-4.6h0m1.7-.9h0m1.8 4.7h0m-96.3 2.7h0m-1.1 2h0m-2.1 4.8h0m.4 1.4h0m2.3 .1h0m1.4 .1h0m0-1.4h0m1.8 .2h0m1.5 .6h0m.1 1.7h0m.2-4.1h0m.4 3.4h0m.3-3.7h0m.1 5h0m.2-1.4h0m.4-.5h0m1.8 .3h0m1.8-2.5h0m1.4 1.8h0m2.2-.4h0m0 3.1h0m-4.2 2.7h0m-3.6-2.2h0m-.4 1.8h0m-.1-2h0m-1.3-.3h0m-.1 .7h0m-.4 1.1h0m-.3 .2h0m5.9 3.8h0" stroke="#d058c8" stroke-width="1.7" stroke-linecap="round" fill="none"/><path d="M52.2 269.6h0m-2 1.5h0m-1.2 1.3h0m-.3 .2h0m-4.6 .1h0m4.4 1h0m1.6 .5h0m78.9 .7h0m1.9 9.5h0m-2.1 .1h0m-.1 0h0m0-2.5h0m0 2.6h0m-.1 0h0m-.5-1.7h0m-.1 1.4h0m-6-.9h0m-72.6-4.1h0m-15.5 10.1h0m92-3h0m1.3 .7h0m.2 .3h0m.4 .9h0m4.5 1.6h0m2.4-.3h0m-3.5 4h0m-93.3 1.5h0m-.7-1.9h0m0 2.3h0m-1.1-3.5h0m0 1.2h0m-.4 2.1h0m-.1 .9h0m-.7-2.2h0m-.1 1.7h0m-.4-1.1h0m-.6 .4h0m-1.2 1.5h0m-.5-5.2h0m-1.7 1.8h0m-1.7-.7h0m3 9.2h0m.7-4.3h0m.7 3.4h0m.4-1.8h0m1.2-1h0m3.1 2.4h0m1.9-2.3h0m53.3 3.7h0m2.7 1.9h0m-5 2.5h0m-4.7 1h0m-.4-2.1h0m-1.6 3.5h0m-2.9-4.4h0m-3.6 2.3h0m-36.8-3h0m-6 .4h0m-14.6 11.2h0m6.9-1.9h0m53.7 1.8h0m1-2.7h0m1.2-.8h0m1.1 .5h0m.2 .8h0m.2 .2h0m.5-.1h0m.2-.4h0m.4-1.4h0m.5 1.8h0m.9-1h0m.1 .3h0m0-2.5h0m.3 2.4h0m0-1.1h0m1.6 2.7h0m.2-1.9h0m5.8 5.3h0m-.2 1.5h0m-2.6 1.1h0m-2.2-3.7h0m-1 1.2h0m-1.2-1h0m-.1 .3h0m-2.7 2.1h0m-.2-3.1h0m-.9 2.2h0m-3.6-.4h0m-4.7 1.3h0m-23.7 1.3h0m-26.1-3h0m-2.3 2.2h0m-.7-1.9h0m-1.9 2.8h0m-.4-1.1h0m-1.2-3.1h0m-2.2 .1h0m3.6 7.7h0m3.6-2h0m27.4 2.2h0m34.5-2h0m.4 1.4h0m.3 3.1h0m.4-3.7h0m3.2-.3h0m1-1h0m.7-.1h0m10.3 5.4h0m47.7 5.7h0m-42.1-1.7h0m-.4 .1h0m0 .6h0m-.8-.5h0m-1.4-.7h0m-1.1 1.2h0m-1 .8h0m-.2-2.2h0m-.2 3.1h0m-1.4-4.6h0m-3.1 2.1h0m-38.2-.8h0m-32.7 8.4h0m9.6 .7h0m12-1.8h0m11.9-3.7h0m.2 .3h0m1.2-.2h0m2.9 2.9h0m29.7-2.2h0m6.8 2.3h0m0 .3h0m.8-1.2h0m1-2.3h0m0 3h0m.3-1.7h0m.1-.8h0m.4-.5h0m.8 5.5h0m.1-5.3h0m.3 5.3h0m.1-1.8h0m.1-2.2h0m2.4-.8h0m31.5 2.9h0m12.7-.9h0m-3.1 6.9h0m-.1 .1h0m-.4-1h0m-.4-.1h0m-.6 1.8h0m-4-.5h0m-1.2 .7h0m-41-3.5h0m-45.4 3.5h0m-3-.5h0m-.4-2.6h0m-.1 1.8h0m-1.7 .6h0m0 1.4h0m-.3 .4h0m-.3 0h0m-.7-2.8h0m-.4 1.3h0m-4.3-3.3h0m-.2 1.3h0m-11.2-1h0m-1.1 .9h0m-.7 4.5h0m15 .1h0m3-.3h0m1.1 .3h0m.5 1.6h0m.3-2.1h0m.2 1.7h0m2.8-2h0m2.4 2.9h0m1.6 .4h0m87.1 0h0m5.1-1.3h0m.1 2.7h0m-1 3.5h0m-21.8-.8h0m-.4 1.2h0m-.3 .8h0m-.2 .7h0m-17.3 .4h0m0 0h0m-.1 1.4h0m-.6-1h0m-1.3-.1h0m-.1-1.1h0m-2.5 2h0m0 0h0m-52.7-5.6h0m-17.9 4.5h0m-2.4 3.8h0m.9-.6h0m2.6-.6h0m.1-1h0m.1 1.2h0m.2 0h0m.3 1.6h0m1.3-1.1h0m1.4 .6h0m17.7 0h0m.8 2.4h0m.5-3h0m8.5 .1h0m37.8-1.7h0m-38.1 10.4h0m-6.8-3.5h0m-.3-.7h0m-.2 .6h0m-2 4h0" stroke="#4048f0" stroke-width="1.1" stroke-linecap="round" fill="none"/><path d="M30.5 290.1h0m11.3 5.6h0m-8.6-.6h0m81.4 11.7h0m-97.3 4.8h0m6.7-1h0m87.8-.2h0m2.2 3.6h0m1.2 .6h0m18.6-1.3h0m14.1-1.5h0m5.1 3.8h0m-3 1.6h0m-12.2 2.5h0m-1.4-2h0m-1.2 .9h0m0-3.1h0m-.6 2h0m-.4 1.9h0m-1.1 .7h0m-1 .4h0m-.1-3.9h0m-.3 3.9h0m-2.2-2h0m-.6 .2h0m-13.5 2h0m-.9-1.8h0m-.4 .4h0m0-3.2h0m-.4-1h0m-.6 5.6h0m-.6-.7h0m-.9-4h0m-88.3 1h0m-.4 .6h0m-.4 .1h0m0-.3h0m-.8-.5h0m-2.2 6.1h0m9.5-.4h0m95.9 1.3h0m3.7 .7h0m1.1-.3h0m.5 .8h0m1.3-1.6h0m.3 2.1h0m.5-1h0m0 .5h0m.5 .3h0m0 1.1h0m.4 .5h0m0-2.9h0m.2-.6h0m0-1.5h0m0 3.8h0m.1-2.3h0m.1 1.9h0m0-.6h0m.1 1.7h0m.2-1.9h0m.3 2.3h0m.2-1.8h0m.4 1.8h0m.1-3h0m.1 1.1h0m.3-.8h0m0-2.7h0m2.2 2.3h0m1.1 .5h0m.2-2.2h0m-.1 8.5h0m-3.9-2h0m-32.8 4.3h0m-.9-3.5h0m-.3 3.6h0m41.5 5.1h0m6.5-.8h0m10 3.4h0m-7.7 .3h0m-.6 0h0m-1-.3h0m-1.4 1.5h0m-.5-.6h0m-.5 1.5h0m-.6-1.6h0m-93.8 3.2h0m-1.5-2.3h0m-.3 1.7h0m-1-4.9h0m-1 3.1h0m2.8 3h0m92.1 4.2h0m1.6 0h0m.2 1h0m10.5 .8h0m-72.1 1.3h0m-.5 1.6h0m-3.6 1.3h0m-.7-.7h0m-.9 .4h0m-15.1 0h0m-5.1 5.4h0m.8 2.2h0m.3-4.5h0m1 4.5h0m1-5.4h0m1.1 5.5h0m17.7-3.3h0m3.5 .2h0m6.6 3.2h0m1.5-.9h0m.1-.2h0m2.2 1h0m1.1 2.3h0m-1-.5h0m-1.4 1.4h0m-.9-1.9h0m-1.1-.5h0m-26.6 1.1h0m-.9 .3h0m-.4 1.3h0m-1-2.5h0m-9 4.4h0" stroke="#d8303a" stroke-width="1.7" stroke-linecap="round" fill="none"/><path d="M128.7 281.1h0m0 3.6h0m-97.7 2.9h0m93 1.4h0m1.9-3.4h0m.7 2.3h0m2.1 2.8h0m1.4-4.1h0m-89.1 10h0m-1.6-3.4h0m0 1.7h0m-1.5-1.2h0m-1.1-1.6h0m-.8 .3h0m-.5 3.2h0m-.3 0h0m-2-2.5h0m-2.2 1h0m-1.1-2.6h0m.4 5.8h0m3.1 1.5h0m3.3 1.9h0m.6-1.7h0m2.5 2.7h0m112.3 6.9h0m-57.4-3.8h0m-4.5 1.8h0m-2.6-.4h0m-10.3 .9h0m-40.3-3.3h0m-10.6 3.4h0m-11.2 7.2h0m4.2-1.1h0m4.3-2.1h0m56.9 3h0m.3-.9h0m.9-2.2h0m1.3 2.8h0m0 .3h0m.6-2h0m0-.1h0m.3 2h0m.8-.8h0m.3-2.2h0m.3 1.9h0m.1-.9h0m.5 .7h0m.1-.8h0m.1 .6h0m0-.2h0m.7 2.4h0m.4-3h0m.5 1.6h0m1.2-2h0m2.4 0h0m15.4 2.1h0m1.5 .6h0m4.3-1.1h0m.4-2.4h0m.2 2.5h0m.5 .8h0m1.5 1h0m.6-3.5h0m1.9 1.1h0m1.2 1.9h0m22.6-2.5h0m3.6 1.8h0m1.9-4.4h0m1.1 3.5h0m1.9-.8h0m-5.4 7.8h0m-26.9 .4h0m-1.3-4.4h0m-1.7 4.7h0m-.3-5h0m-.5 2.1h0m-2-2.3h0m-24.1 1.4h0m-.5-.6h0m0 4.3h0m-.8 .1h0m-.6-2.6h0m-3.2-1.6h0m-2.4-.2h0m-50.2 1.6h0m-1.8-.8h0m-2.5 .3h0m0-.7h0m-1.3 3.3h0m-.6-1.6h0m-1.3-.7h0m-.5 .2h0m-2.7-1.5h0m-1.6-1h0m-7.3 4.8h0m4.7 5.5h0m4.4-3.2h0m3.8 .4h0m2.3-.6h0m59 1h0m28.3 2.6h0m20.4-3.8h0m2.5 .1h0m-32.8 10.8h0m-.6-.5h0m-40.3-.1h0m-1.6-.6h0m-29.9 6.5h0m1.2-2.8h0m1.4 .3h0m1.4 3.1h0m2.7-.3h0m6.6-4h0m3.9 2.5h0m5.2 .9h0m6.3-4.8h0m.3 0h0m1 3.7h0m1.3-3.3h0m41 1h0m2.6-1.4h0m1 1.3h0m36.1 4.1h0m.5-3.4h0m3.4 3.4h0m.6-3.4h0m.9 2.4h0m3.7-1h0m5.6-1h0m-4.5 5.1h0m0 0h0m-1 1h0m-.2 .6h0m-.9 2.1h0m-.3-.6h0m-1.5-3.5h0m-.7 4.7h0m-.2-1.2h0m-.5-1.6h0m-.5-1.9h0m0 3.3h0m-.3 .2h0m-1 .7h0m-.5-3.2h0m-9 1.8h0m-78.1 .2h0m-1.5-1.2h0m-1.3 1.2h0m-.7 .3h0m-.2 1.5h0m-1.4-3.8h0m-2 .2h0m-.6 2.7h0m-1 .7h0m-2-4.3h0m-10.8-1h0m-1.8 3.9h0m-.4 1.4h0m-.5-.4h0m-1.1-3.5h0m0 .1h0m13.1 4.3h0m2.4 3.2h0m.8-.3h0m1-1.8h0m3.7-.8h0m4.3 2.4h0m.4 1.3h0m82.8-2.3h0m.4-.3h0m.4 2.5h0m1.4-3.8h0m.4 .9h0m1.6-.7h0m1.8-.4h0m.9 1.7h0m0-.4h0m-68.4 7.6h0m-1.6-1.3h0m-2.7 1.2h0m-18.7 8.3h0m.8-.3h0m.9-.5h0m.4 .5h0m.9-2.4h0m.6 .9h0m.9 1.7h0m2.3-.4h0m-2.4 1.5h0m-.2 .6h0m-.8 .4h0m-.4-.9h0m-1.6 .7h0m-1.1-.8h0" stroke="#d8d8e8" stroke-width="1.4" stroke-linecap="round" fill="none"/><path d="M39.6 285.2h0m-3.2 9h0m-1 1.6h0m-.2-.2h0m-.4-.4h0m-2.5-1.5h0m-.7 2.7h0m-6.2 .3h0m16.4 2.1h0m104.8 6.7h0m-34.7 3.1h0m-92.7 3.1h0m4.1-.7h0m1.1 3.1h0m.6-4.7h0m4.3 5h0m86.2-.3h0m30.2-1.5h0m.8-.7h0m.2-2.2h0m1.5 4.5h0m1.1-1.7h0m.7-.5h0m.4-2.5h0m.4 3.9h0m.4-1h0m-33.6 6.5h0m-1.8-2.5h0m-.1 .3h0m-1.4 .6h0m-.3-1.3h0m-.1 1h0m0-1h0m-.2 4.2h0m-1.8-3.3h0m-1.7-.6h0m-56.5 3.6h0m-27.7-4.3h0m-2.8 .2h0m-.6 1.8h0m-5.6-1h0m-4.9 .2h0m8.3 6.4h0m28.5-1.6h0m2.6-.1h0m1-.1h0m.2-.3h0m.6 .1h0m58.9 .2h0m1.9 3.2h0m-82.7 14.3h0m.5-.9h0m2.4-2.9h0m1.4 4.5h0m-.8 .9h0m-.1 1h0m-1.1-.7h0m-.3 1.2h0m-.6-.8h0m-.1 2.7h0m-.4-2.2h0m77.5 14.2h0m-1.4-.1h0m-.4 .2h0m-.1-.3h0m-.7-3.9h0m-.3 4.4h0m-3.2-.8h0m-65.5 .1h0m-2.3 5.9h0m0-3.2h0m71.2-.2h0m.4-.4h0m.5 1.3h0" stroke="#40b8e0" stroke-width="1.1" stroke-linecap="round" fill="none"/><path d="M128.8 278.4h0m4 .9h0m-4.7 3.7h0m-3.1 1h0m-1.3 .8h0m1.2 5.9h0m1.6-3.6h0m1.7-2.1h0m.8 .4h0m2.8 .9h0m-94.4 9.6h0m-.2-3.4h0m-.4 3.7h0m-1.7-.5h0m-1.2-.6h0m0 .4h0m-2.5 .6h0m-6.4-3.5h0m65.9 10.5h0m-6 4.6h0m-.4-.6h0m-2.5-.9h0m-52.1-1.6h0m-5.4 4.1h0m-8 2.4h0m3.3 2.3h0m2.8-1.5h0m2-1.5h0m2.8 4.2h0m.2-.4h0m.1 .6h0m1 .1h0m1.7-3.3h0m43.2 1.9h0m3.6-2.9h0m6.3 3.9h0m.8-.8h0m.6-2.2h0m.6-2.1h0m.1 5.4h0m0-1.1h0m0-2.2h0m.1 .9h0m.2 .4h0m.5 1.4h0m.1-.9h0m0 .4h0m.1-.9h0m0 1h0m0-1.8h0m.6 .8h0m1.3-.3h0m.6 1.7h0m4.7-3.8h0m20.9 1.6h0m.6-.3h0m31.9 1.2h0m.4-1.4h0m3.5-1.1h0m.1 2.4h0m.8 1.1h0m.3 .4h0m3.9-2.2h0m-21.3 7.9h0m-6 .2h0m-2.9-1.7h0m-.1 1.3h0m-8-3.1h0m-1.6 1.4h0m-.3-.5h0m-1-2.3h0m-.1 2.3h0m0-.5h0m-.5-1.1h0m-.1 1h0m0-1.1h0m-.1 .1h0m-.2 .3h0m-.5-.2h0m-.4 4.3h0m-1.2-1.6h0m-17.3 1.5h0m-10.5-4.9h0m-.3 1.1h0m-54.6 2h0m-3.2 1.7h0m-3.5-3.5h0m-.7 2h0m0-.3h0m-.1-1.2h0m-.2-.7h0m-.2 .9h0m-3 1.4h0m-.4-2.2h0m-.6 .1h0m-.5 2.3h0m-.4-2.3h0m6.7 5.2h0m8.5 2.4h0m54.9-3.1h0m2.9 1.2h0m9.4 3.9h0m13.1-4.7h0m32.3 .3h0m1.7 10h0m-8.5-3.2h0m-33.5 2.6h0m-45.1 0h0m-.3 .7h0m0-.4h0m-25.5 4.6h0m25.1-.2h0m2.8-2.6h0m.8-.4h0m4.7 1.8h0m35 .1h0m2.3-1.8h0m5.1 .5h0m31.7 3.9h0m3.4 .9h0m1.5-3.2h0m3.1 2.4h0m1.5-.3h0m1.7 .3h0m1.2 1.2h0m.4-.8h0m1 4.1h0m-4.3 1.2h0m-.9-3.5h0m-.2 3.4h0m-.3 .5h0m-.3-.8h0m-.2-1h0m-.7 .7h0m-.8-3h0m-.3 4.6h0m-.1 .5h0m-.6-.7h0m-1.8-1h0m-1.3-.2h0m-83.5-1h0m-5.8 3.1h0m-1.1-2.3h0m-.6-2.1h0m-.2-.2h0m-.5 4h0m-.1-.1h0m-.1-.6h0m-.5 .9h0m-.2-3.3h0m-.2 2.8h0m-9-3.3h0m-7.3 .8h0m-.6-.3h0m-.1 .1h0m-.2-.4h0m-.8-.5h0m-.3 2.5h0m-.3-2.2h0m-1.7 3.3h0m-1.9 3.1h0m21-.7h0m4 2.1h0m102.9-3h0m-70.9 5.8h0m-8.4 4.3h0m-20.9 4h0m3.6 1.9h0m.7-.1h0m.9 1h0m.3-1.8h0m0 1.8h0m.8-1.3h0m.7 .9h0m1.7 .8h0m1.1-1.9h0m12.8-3.5h0m.8 2.8h0m-15.3 2.9h0m-1.6 .2h0m-.4 4.9h0m-2.5-5.1h0m-2.3 .9h0m7.5 5.7h0" stroke="#d8d8e8" stroke-width="1.7" stroke-linecap="round" fill="none"/><path d="M39.7 296h0m-4.6-3.1h0m.6 5.6h0m1.3 2.4h0m106.8-.1h0m1.1-1.3h0m.5 7.7h0m-31.7 7.4h0m35.5-1.8h0m.3 .3h0m-.7 2.7h0m-7 3.1h0m-6.4-3h0m-.1 .3h0m-3 1.4h0m-9.4 1.9h0m-8-3h0m-.9 0h0m-.1-.2h0m-91.4 2.4h0m-.2-.9h0m-.3 .2h0m0-.1h0m-7.5 1h0m5.5 4.7h0m4.7 .4h0m.5-2.5h0m80.4 3.6h0m7.8-3.5h0m15.1 2.1h0m.5-.6h0m.4 .3h0m1.8-.3h0m.9 .1h0m.1 .5h0m.1 1.4h0m.2-4h0m.6 2.1h0m.2 .9h0m.1-1.7h0m.1 2h0m.2-1h0m.4-2.3h0m0 2.3h0m.2-.8h0m.4 3.7h0m0-3.8h0m.7 .9h0m.5 .3h0m2.4-2.6h0m.9 8.9h0m-9.9-.3h0m-13-1.5h0m-9.6 2.8h0m-2.6 1.5h0m-5.6 2h0m37.7-1.1h0m13.3 3.7h0m2.1-2.6h0m7.8 5.7h0m-5.8 2.4h0m-2.2 .3h0m-.9 .9h0m-.7 .4h0m-1.2-.9h0m-.3-.2h0m-.2 .1h0m-1.8-.2h0m-.1-1.8h0m-91.4 1.9h0m-2.6 0h0m-.6 0h0m-1.1 .2h0m-1.3 .2h0m-2-4h0m-1.7 3.9h0m1.7 2.4h0m3.7-.7h0m2.7 3.1h0m89.4-1.7h0m7-.6h0m6.7 .7h0m.1 3.5h0m-75.9 4.8h0m-1 1.4h0m-.2-5h0m-.6 .9h0m0 3.7h0m-.1-.9h0m-.5 1.4h0m0-2.7h0m-.3 .2h0m-.7-.7h0m-1 2.8h0m-14.4-1.7h0m-11.8-1.3h0m6.6 7.7h0m0 1.3h0m1.7-3.2h0m2.3 2.8h0m.3 .4h0m.3 .3h0m.5-4.1h0m.8 4.2h0m1.3-1.3h0m1.2-2.7h0m1 1.3h0m2.1 1.9h0m10.4-3.4h0m.2-1.2h0m1.3 .2h0m.1 2.9h0m9-.6h0m.7 2.6h0m2.5 3.7h0m-.1 1h0m-.8-2.8h0m0-.4h0m-.2-.1h0m-.3 0h0m-.1 2.2h0m-.2 1.6h0m-.9-1.7h0m-.5 1.3h0m-1-3.1h0m-.4 3.9h0m-25.7-2.9h0m-2.7 3.2h0" stroke="#d8303a" stroke-width="1.4" stroke-linecap="round" fill="none"/><path d="M51.8 272.6h0m-2-1.6h0m-.1-1.4h0m-1.9-.7h0m-4 2.1h0m.2 3.9h0m3.4-.9h0m.8 3.8h0m0-3.9h0m0 .8h0m.2-.2h0m.1 .3h0m0-1.1h0m.9 .3h0m.5 .9h0m1.5-1.1h0m99.2 28.1h0m9 5.4h0m-5.5-.4h0m-.2-2.7h0m-.2 4.5h0m-1.3-4.2h0m-.6 2.2h0m-.5-.2h0m-1.8-2.8h0m-2.1 1.7h0m-.1 3.2h0m-.6-1h0m-.1 1h0m-2-1.3h0m-126.9 3.9h0m8.8-1.6h0m114.6 .8h0m2 2.3h0m1.1-.5h0m.4 2.7h0m.5 0h0m.1-.8h0m.4-2.8h0m.4 .2h0m0-1.8h0m1.2 .6h0m.1 .5h0m.2 3.9h0m.1-1.6h0m.3-2.4h0m.2 1.4h0m0 .2h0m.2-1.7h0m.2 1.6h0m.2-.2h0m0-3h0m.2 2.4h0m.1 1.7h0m.1-.2h0m0-.4h0m0 1.4h0m.2-1.4h0m0-.2h0m0 .2h0m0 0h0m0-.6h0m.1 .1h0m0-.3h0m.3 1.8h0m0-3.5h0m.6 4.4h0m.1-3.1h0m.1 1.7h0m0-.1h0m.8-2.1h0m.2-1h0m.1 2.4h0m.4-.1h0m.7 1.9h0m.1-2.6h0m1.1 .7h0m.4-2.9h0m2 .7h0m2.9 .3h0m-2.7 8h0m-1-3h0m0 4h0m-1.2-3.1h0m-1.7-.8h0m-.8 2.1h0m-.1 .9h0m-.3 1.9h0m0-2.5h0m-2-2.3h0m-.3 5.5h0m-1.2-5.4h0m-.5 .3h0m-4.9 3.4h0m-88.1-.5h0m-1.1 2.1h0m-1.3 0h0m-.7-1.2h0m-27.2-1.5h0m-.9 .2h0m-.4-.5h0m-.4 .3h0m-.1-.5h0m27.7 4.6h0m0 0h0m.5 .1h0m2.8 .1h0m1.9-.3h0m93.5 2h0m-1.9 13.8h0m.9 .5h0m7.7 5.2h0m-5.1 .7h0m-1.8-1.5h0m0 .9h0m-.2-2.2h0m-.5 1.7h0m-.6-2.6h0m-.6 3.3h0m-.7-1.5h0m-3 2.1h0m-108.3-5.2h0m-1.3 1.3h0m-.6 1.6h0m-.3-.6h0m-1.9-.1h0m0-1.4h0m.9 4.9h0m6.4 .4h0m108.6 1.9h0m.8-1h0m.7 2.5h0m.3-2.8h0m-39.6 10.4h0m-1.6-.1h0m-26.9-2.6h0m-1.1 1.4h0m-.1-2.7h0m0 3.3h0m-.1-.1h0m-.1 0h0m-.3-.3h0m-.1 0h0m-.1-3.1h0m-2 9.7h0m3.1-4.5h0m.5 .5h0m3.1-.9h0m4.9 4.7h0m.5 .5h0m1.2-.8h0m.4 .9h0m5.9-1.2h0m46.1 1.3h0m.6-.7h0m4.6 3.5h0m-1.9 .3h0m-1.1-1.7h0m-.6 .6h0m-.1-.4h0m-.2 .1h0m-2 1.7h0m-48.8-1.6h0m0 1.4h0m-.6 .3h0m-.8-2.3h0m-.1 .1h0m-1.5 1.1h0m-.7-1.4h0m3.7 5.7h0" stroke="#3cc050" stroke-width="1.4" stroke-linecap="round" fill="none"/><path d="M48.8 272.7h0m-.6-2.5h0m-1.8-1.4h0m-.8 2.1h0m-2.5 4.4h0m3.2-.2h0m.7 .5h0m.4-.7h0m.5-1.8h0m.1 .9h0m.3-.5h0m.2 .3h0m0 0h0m.6 .3h0m.7 3.6h0m1.6-3.3h0m.3-.2h0m103.5 34.5h0m-2.3-.6h0m-1.2-.8h0m-1.3 .7h0m-.2 .2h0m-2.9-1.2h0m-.6-2.2h0m-.4 1.4h0m0 2.5h0m-.2 0h0m-.5-3.7h0m-.7 2.9h0m-119.8-.1h0m116.7 3.2h0m2.9 3.8h0m.3-1h0m.8-4.5h0m.1 4.2h0m.3 1.2h0m.1-1.4h0m.1-.1h0m.1 .6h0m.3-.1h0m.2-3.2h0m1.5 0h0m.1 1.9h0m.3-.8h0m0 2.4h0m.2-1.1h0m.1-.8h0m.1 .4h0m0 .1h0m.2-.4h0m.1-1.2h0m.1 3.3h0m.1-1.6h0m0 1.9h0m.1-.7h0m.2-2.5h0m0 1.7h0m.3 .6h0m.1-3h0m0 .4h0m.2 1.3h0m1.5 1.9h0m.6 .5h0m.1-.1h0m.3-4.8h0m1.1 3h0m.2-.5h0m.6 0h0m.8 2.7h0m-3.2 .1h0m-2.4 .7h0m-.8-.7h0m-3.1 3.4h0m-2.2-1.9h0m-1.7 1.6h0m-.7-1.4h0m-89.1 2.7h0m-.5 .7h0m-.2-.8h0m-.9-.9h0m-1.1 .4h0m-28.8-1.6h0m-1.5 2.7h0m32.8 1.4h0m2.4 1.2h0m1.5-1.4h0m89 .5h0m4.2 .4h0m.7 .4h0m1.3 4h0m1-4.9h0m-122 15.5h0m113.4 1.2h0m5.4 .4h0m1.3 3.2h0m-2 1.6h0m0-.3h0m-113.5-2.8h0m-.9 1.4h0m-.1-2h0m-1.3 2.3h0m0-.9h0m-.7 .1h0m-3 2.1h0m-.8-2.4h0m123.1 4.7h0m-4.5 10.4h0m-38.7-.5h0m-1.3 .3h0m-1.2 .4h0m-23.7-2.4h0m-3.2 1.7h0m-2.1-2.1h0m-.4-2.1h0m1.9 6.1h0m.3 .3h0m4.3-.9h0m7.7 2.4h0m.4 1.8h0m1.4 .5h0m.1-.4h0m47.6 1.2h0m1.5-.7h0m1-.1h0m1 .6h0m2.4 1.4h0m-2.9 .9h0m-.4-.9h0m-.4 .5h0m-.7-.6h0m-49.3-.4h0m0 .7h0m-.8 0h0m-.8 2.5h0m0-2.6h0m0 0h0m0 .6h0" stroke="#3cc050" stroke-width="1.7" stroke-linecap="round" fill="none"/><path d="M49.1 270.9h0m-1.8 1.7h0m1.1 1.4h0m64.5 39.3h0m1.9 1.5h0m1.1 .5h0m-1.7 1.2h0m-.1 .5h0m0-.8h0m-91.3 1.3h0m-1.2 3.2h0m-.5-2.4h0m106.7 2.8h0m3.1 4.6h0m1-2.2h0m1.5-.1h0m-1.2 5.9h0m-18.2-1.7h0m30 9.9h0m5.3 6.7h0m-.9-4.4h0m-1.3 2.7h0m-67.5 6.4h0m64-.6h0m6.9-.7h0m8.4-2.3h0m-78.7 10.6h0m-1.8 .6h0m-2.5 .5h0m.8 2.9h0m3.9-1.5h0m60 4.6h0m3.4-1.6h0m2.3 2.2h0m-2.9 .1h0m-.3 .3h0m-.2 .4h0m-.3-.3h0m-.2 .2h0m-.4-1h0m-.2 .6h0m-5 .8h0" stroke="#d8d040" stroke-width="1.4" stroke-linecap="round" fill="none"/><path d="M49.8 273.1h0m0-.1h0m62.6 35.6h0m0 6.3h0m4.7-.5h0m.4 5.9h0m-2.1-.6h0m-.8-1.9h0m-.8-1.7h0m0-1h0m-.7 3.2h0m-1.3 1.2h0m-.5-3.6h0m-92 4.6h0m-1.1-4h0m106.3 6.3h0m.5 2.8h0m6.4 .4h0m5.4-3.7h0m-2.4 6.5h0m-3.2 .7h0m13.8 8.8h0m5.4 3.1h0m-3.4 1.8h0m-2.3 2h0m2.9 2.2h0m.9 2.5h0m5.2-1.5h0m-2.4 7h0m-72.1-.2h0m62.7 7.6h0m.9-2.4h0m1.4 1.1h0m1.8 .1h0m-.2 3.5h0m-2.7 2h0m-.1-3.2h0m0 .8h0m-.3-.6h0m-.9-.4h0m-.5 .7h0m-1 1.7h0" stroke="#d8d040" stroke-width="1.1" stroke-linecap="round" fill="none"/><path d="M52.1 269.9h0m-3.2 2.6h0m-.5 0h0m-1.2-.5h0m-.5-2.2h0m-1.6 .9h0m1.7 2.6h0m1.7 .4h0m.1 .2h0m.2-.5h0m.2 .6h0m.3-.9h0m0 1.6h0m2.8-.1h0m97.7 28.4h0m5.4 5.7h0m-.6-4.5h0m-.3 3.7h0m-.7-.1h0m-.8 .9h0m-2.5-4.8h0m-.3 2.7h0m-.6 1.2h0m-1.2-.4h0m-.1-2.8h0m-.7 .1h0m-.4 3.2h0m-.3-2.6h0m-.4 3.6h0m-4.1-5.3h0m-1.7 4.3h0m-117 6.4h0m10-.4h0m110.5-1.1h0m.7 1.1h0m.8 .8h0m1-1.4h0m.6-1.4h0m.3 2.4h0m.3-.4h0m.1-3.9h0m.1 4.9h0m.4-1.4h0m1-1.9h0m.1 2h0m0-.7h0m.5 2h0m.5-4.3h0m.2-.5h0m.6 4.6h0m0-2.1h0m.2-.9h0m1-.9h0m.1 3.1h0m.2-1.5h0m1.3-3.4h0m.3 3.2h0m1.5 .9h0m-1.3 6h0m-3-4h0m-1.5 1h0m-.3 .8h0m-.2-.2h0m-.4-1.2h0m-2.2 .2h0m0 2.5h0m-1-2.7h0m-.6-.2h0m-.5-.1h0m-92.1 5.3h0m-3.3-.8h0m-20.7-4.3h0m-2.1 3.3h0m-4-1.6h0m-.9 .8h0m-3.5 3h0m5.7 1.1h0m26.3 .9h0m.1-.5h0m1.5 .2h0m.5-1.4h0m.8 2h0m97.1 .7h0m-122 12.5h0m4.5 2.6h0m.9-2.5h0m1 2.4h0m3-.1h0m111 5h0m-.3-.8h0m-2 .2h0m-.4 0h0m-.5 1.2h0m-.5-2h0m-110.7 .6h0m-.6 .9h0m-.5-1.5h0m0 2.5h0m-.2-3.3h0m-.2 .2h0m-.2-.7h0m-.5-.3h0m-3.4-.3h0m-.4 2.3h0m50.5 6.4h0m62.3-.3h0m11.6 5.8h0m-3.9-2h0m-5.7 1.9h0m-30.3 1.7h0m-5-2.6h0m0 2.3h0m-2.9-1.3h0m-25.7 1.4h0m-.6 0h0m.1 1h0m.8 1.4h0m9 4.2h0m20-5.3h0m29.3 5.6h0m3.7-1.5h0m2.1 3.3h0m-.3-.3h0m-.2 2.7h0m-.3-3.1h0m-.5-.4h0m-1.3 .3h0m-49.7 1h0m-2.7 1.7h0" stroke="#3cc050" stroke-width="1.1" stroke-linecap="round" fill="none"/><path d="M48.4 271.9h0m-.2 2.7h0m-28.4 35.7h0m3.2 4h0m91-.4h0m22.8 5.7h0m-5.8 .8h0m-12.4-5.1h0m-1.7 .6h0m-95.3 1.6h0m-.5 1.7h0m-3.9 .3h0m12.1 2.1h0m104.4 2h0m17.9 13.2h0m4.3 1h0m3.7 3.5h0m-6.1-2h0m-3.1 .7h0m-.9 3.3h0m-.4 .1h0m-2.7 2.2h0m3 .6h0m6.8 4.8h0m-72.9 2.5h0m-3.6-1.6h0m-1 4.7h0m-.1 .1h0m-.3-4.2h0m.2 5.2h0m.7 4.3h0m63.4-2.4h0m1.1 3.4h0m.6-.8h0m1.6 .6h0m-3.6 1.3h0m-.2-.1h0m-.9-.1h0m-1.8 0h0" stroke="#d8d040" stroke-width="1.7" stroke-linecap="round" fill="none"/><path d="M81.1 302.4h0m9-2.5h0m-5.4 8.8h0m-2.2-3.1h0m-1.8 9.2h0m1.8-.9h0m2.4-3.6h0m.2 3.2h0m.2-1.9h0m.2-1.6h0m.3 2.4h0m.3-3.3h0m2.1 1.6h0m-2.8 6.9h0m-5.4-.5h0" stroke="#9050e0" stroke-width="1.4" stroke-linecap="round" fill="none"/><path d="M93.4 303.5h0m-10.8 1.5h0m-.3 5.2h0m1.2 2.1h0m1.5-.1h0m.4-.4h0m3-.8h0m.4 1.6h0m1.7 .7h0m7.3 2h0m-.4 1.2h0m-9.6 .9h0m-2-.7h0m-3.6 3.1h0m-3.3-2h0m11.5 3.2h0" stroke="#9050e0" stroke-width="1.7" stroke-linecap="round" fill="none"/><path d="M89.2 306.5h0m-.9 .4h0m-4.7-2.7h0m-.7 8h0m2.7 .8h0m1.6 .2h0m11.3 2.8h0m-12.3 .7h0m-.6 .3h0" stroke="#9050e0" stroke-width="1.1" stroke-linecap="round" fill="none"/><path d="M135.3 318.6h0m-8.8 3.6h0m2.5 .4h0m2 4.4h0m.1-5.4h0m2.3 1.9h0m.1-1.9h0m0 1.6h0m1 .7h0m1.1-1.8h0m.1 2h0m.4-.3h0m.6-.6h0m.3-.4h0m-.6 8.9h0m-.5 1.9h0" stroke="#e07830" stroke-width="1.1" stroke-linecap="round" fill="none"/><path d="M140.5 318.1h0m-7.8-1.2h0m-6.2 3.2h0m6.4 4.7h0m.4-2.8h0m3.1 1.4h0m3 8.7h0m-.1-.3h0m-1.6-1.9h0m-3-2h0m-.7-.3h0m-2.3 .1h0m-2.8 2.3h0" stroke="#e07830" stroke-width="1.7" stroke-linecap="round" fill="none"/><path d="M135.5 312.4h0m-4.1 12.9h0m.4-2.4h0m1.6 2.9h0m.1-2.4h0m.2 1h0m1.2 1h0m.6 1.3h0m.9-1.9h0" stroke="#e07830" stroke-width="1.4" stroke-linecap="round" fill="none"/></g>
<path d="M17 266 C9 275 4 290 3.5 310 C3.5 328 8 342 19 356 C28 366 42 375 60 381 C80 386 110 387.5 135 387 C150 386.5 160 385.5 166 384" fill="none" stroke="#1f2de6" stroke-width="4.2" stroke-linejoin="round"/>
<path d="M17 266 C9 275 4 290 3.5 310 C3.5 328 8 342 19 356 C28 366 42 375 60 381 C80 386 110 387.5 135 387 C150 386.5 160 385.5 166 384" fill="none" stroke="#3a48ff" stroke-width="1.4" stroke-linejoin="round" transform="translate(-0.8,0.6)"/>
</g>
<rect x="13.3" y="308.9" width="18.3" height="17.7" fill="none" stroke="#f2d21a" stroke-width="1.2" stroke-dasharray="2.2 1.3"/>
<rect x="140.3" y="334.4" width="17.5" height="18.2" fill="none" stroke="#f2d21a" stroke-width="1.2" stroke-dasharray="2.2 1.3"/>
<text x="13.6" y="306" font-size="9.6" fill="#f7de00">i</text>
<text x="129.8" y="344" font-size="9.6" fill="#f7de00">ii</text>
<rect x="4.4" y="387.7" width="12.1" height="1.6" fill="#fff"/>
<rect x="240" y="266" width="135" height="126" fill="#000"/>
<g clip-path="url(#ci2)"><path d="M318 269.2 C336 268.5 352 273 362 283 C370 293 370.5 310 370 325 C369.5 338 362 352 349 362.5 C338 372 325 381 311 383.5 C300 385 292 385 286.5 383.8 C270 380 257 374 252.5 364 C247 352 247.5 338 250 325 C253 313 257 306 263.5 299 C270 288 278 280 290 274 C299 270.5 309 269.5 318 269.2 Z" fill="#0b0b27"/>
<defs><clipPath id="cin2"><path d="M318 269.2 C336 268.5 352 273 362 283 C370 293 370.5 310 370 325 C369.5 338 362 352 349 362.5 C338 372 325 381 311 383.5 C300 385 292 385 286.5 383.8 C270 380 257 374 252.5 364 C247 352 247.5 338 250 325 C253 313 257 306 263.5 299 C270 288 278 280 290 274 C299 270.5 309 269.5 318 269.2 Z"/></clipPath></defs>
<g clip-path="url(#cin2)"><path d="M318 269.2 C336 268.5 352 273 362 283 C370 293 370.5 310 370 325 C369.5 338 362 352 349 362.5 C338 372 325 381 311 383.5 C300 385 292 385 286.5 383.8 C270 380 257 374 252.5 364 C247 352 247.5 338 250 325 C253 313 257 306 263.5 299 C270 288 278 280 290 274 C299 270.5 309 269.5 318 269.2 Z" fill="none" stroke="#3a40c0" stroke-width="14" opacity="0.22" filter="url(#bl2)"/></g>
<g opacity="0.6"><path d="M320.1 270.9h0m-29.5 7.4h0m22.9-2.7h0m1.2 1h0m10.8-2.8h0m.8 1.3h0m7.1 .1h0m2.8-1.7h0m5 1h0m7.6 2.8h0m7.3 7.4h0m-10.6-2.5h0m-7.7-3.1h0m-3.7 3.8h0m-7.1-2.3h0m-3.8-.2h0m-7.4 4h0m-5.4-4.4h0m-.5 3.4h0m-17.1-.4h0m-.7-.5h0m-7-2.4h0m-5.5 1.6h0m-7.2 8.7h0m9-1.1h0m23.8 .9h0m4.8-3.6h0m1.4-1.6h0m.7 2.5h0m12.2 1.5h0m13.7-.4h0m1.4-.2h0m3-2.6h0m10 4.6h0m12.6-.3h0m-5.5 6.5h0m-2.8-.2h0m-17.9 0h0m-2.3-3.7h0m-.9 1h0m-1.2 .4h0m-.3 2h0m-.1-2h0m-.4-.2h0m-2.3 .9h0m-20.9-2.4h0m-1-.2h0m-2.7 2.3h0m-14.6 .5h0m-9.1 1.8h0m-.6-5.5h0m-5.2 4.8h0m-2.6-2.1h0m-1.5 3.7h0m10.6 4.3h0m19.5-.5h0m6.6-3.3h0m4.3 4.2h0m6.9-4.7h0m1.8-.2h0m1.3 .2h0m19.9 2.3h0m.6-.6h0m5.2-.4h0m2.1-1.1h0m11.1-.2h0m.7 4.6h0m.7-4.3h0m4.7 4.6h0m-35.3 1.8h0m-19.5 2.1h0m-5.4-2.1h0m-6.7-.6h0m-2.1 4.9h0m-1.7-1.6h0m-2.7 1.8h0m-8-1.4h0m-4.6-2.8h0m-14.4 4.2h0m-2.7-3.5h0m-4.1 9.5h0m39-.7h0m1 0h0m6.3 .8h0m9.5-3.3h0m2.9 2.1h0m8-3.1h0m2.8-.2h0m14.6 1h0m4.9 2.2h0m11.8 3.6h0m-17.6 1.2h0m-1.1 1.3h0m-1.6-3.5h0m-3 2.3h0m-12.4-3h0m-8.6 1.5h0m-12.1-1.3h0m-2.3 2h0m-9.6-2.3h0m-24.7 3h0m-3.9-1.7h0m-1.1 3.6h0m-11.9-1.4h0m-.1 7.6h0m19.1-1.8h0m1.5 .9h0m40.4-.7h0m.7-2.9h0m10.4 4.3h0m7.4-1.3h0m1.8-1.2h0m5.3-1.9h0m6.6-.7h0m.6 1.1h0m8 1.3h0m8.8 2.6h0m5.6-5.1h0m-.1 6.3h0m-4.2 3.8h0m-.6-2.7h0m-8.4 .5h0m-11.7 1.1h0m-7.8 .1h0m-10.9-2.8h0m-5.9 3.9h0m-7.5 .5h0m-20.1-.4h0m-.4-4.3h0m-2.7 5.5h0m-3 .2h0m-6.2-.2h0m-16.2-4.4h0m-10.5 2.1h0m-2.8 6h0m4.8-1.4h0m3.2 .5h0m5.1 .7h0m2.5 1.1h0m5.1 1.1h0m4.9-2.7h0m6-.1h0m3.6 2.3h0m11.3-4h0m3 1.1h0m1.4 4h0m1.3-4.9h0m13.3 4.5h0m1-1.1h0m3-3.9h0m15.6-.4h0m7.8 .1h0m4.1 .7h0m17.4 4.8h0m.3-3.9h0m-20 4.5h0m-5.8 1h0m-13.6 4.3h0m-4.1-3h0m-2.1 .8h0m-29.7-.4h0m-14-.6h0m-12.1 .9h0m-6.3 .3h0m-2.3-2.7h0m-3.8 .7h0m22.6 8h0m.7-3.7h0m1 2.4h0m7.1-1.5h0m7.7 4.8h0m3.5-3.4h0m14.3 2.4h0m16.6-.8h0m10.2 .1h0m21.4 4.6h0m-14.9 0h0m-.6-1.8h0m-.6 4.2h0m-2.2-1.3h0m-.9-3.3h0m-6.7 4.8h0m-4.8-2h0m-10 .8h0m-.3-2.9h0m-2.4 2.2h0m-.2 .5h0m-6.4-2.4h0m-14.3 .2h0m-3.5 2.6h0m-11.5-2.6h0m-2.8 4.2h0m-1.8-.9h0m-.8-2.4h0m-13.8 0h0m-7.2-1.5h0m21.6 7.4h0m1.3 2h0m2.5 .2h0m2-.9h0m5.4-.5h0m1.9 .8h0m3.5-2.6h0m5.1 2.3h0m.5-3.5h0m2.7-.1h0m.5 4.3h0m.5-3.2h0m29.3 .5h0m7.1-1.2h0m10.4 .9h0m.2 .5h0m2.1 2.3h0m6.2-2.8h0m-10.7 8.4h0m-8.1-.3h0m-6.6 .6h0m-1.8-.5h0m-.7 0h0m-18.3 .2h0m-6.8 1.5h0m-17.8-5.1h0m-.5 1.7h0m-9.4-.2h0m-3 .2h0m-6.2 5.6h0m5.1 .6h0m41.4-.9h0m19.8 1.5h0m4 .6h0m2.3-2.3h0m-21.8 10.4h0m-1-3h0m-3.2-.5h0m-1 1.4h0m-2.8-.5h0m-13.7 .3h0m-1.1 1.5h0m-8 .6h0m-13-3.8h0m25.2 7.8h0" stroke="#d8d8e8" stroke-width="1.0" stroke-linecap="round" fill="none"/><path d="M322.1 280.5h0m-2.6-1.4h0m-25.7 .4h0m57.3 5.9h0m-55.7 7.2h0m-6.8 1h0m52.4 5.4h0m-3.1 4.4h0m-54.7 12.5h0m-30.6 10.9h0m35-1.2h0m3.3-.6h0m37.7 7.6h0m-10.6-1h0m-11.9-2.4h0m1.9 4.9h0m8.1 2.8h0m-35.5 11.2h0m39.5 1.7h0m6.6 .7h0m21.5-1.8h0m-4 2.6h0m-4.2 4.9h0m-59.9-4.2h0m-20.5 8.9h0m17.2-.1h0m74.2-3h0m-15.6 5.5h0m-44.5 5.4h0m-3.2 4.9h0m13.9-4.6h0" stroke="#d8303a" stroke-width="0.8" stroke-linecap="round" fill="none"/><path d="M320.3 273.9h0m26.5 1.6h0m-59.7 3.8h0m76.1 11.8h0m-77.8 5.3h0m-1.6 14.9h0m14.6-1h0m3.9 3.3h0m50-1.1h0m-34.8 7.9h0m-1.2-5.3h0m-10.7 4.3h0m-46.8 7.3h0m23.6 6.1h0m-30 4.9h0m38.5 5h0m-9.8 7.9h0m1.1-5.4h0m1.4 .5h0m11.6 4.7h0m58.8 3.8h0m-93.3 .9h0m-4.1 4.9h0m45.8-2.9h0m22.5 3.8h0m10.9-3.9h0m-70.7 11.9h0m37.9 .5h0m19.1 6.1h0m-1.8 1.5h0m-11-.6h0m-21.2-.5h0" stroke="#4048f0" stroke-width="0.8" stroke-linecap="round" fill="none"/><path d="M317.4 270.6h0m32.4 9.6h0m-3.8-.8h0m-8.4 .2h0m-32.6 1.2h0m-31 5.3h0m1.7 4.2h0m58.6-.9h0m18-2.4h0m-7.1 7.1h0m-36.7 1.6h0m-33.8 5h0m30.1 0h0m57 3.8h0m-16.8 .7h0m-63.7-1.5h0m24.5 10.3h0m-8.9 3.7h0m-45.1 4h0m108.1 9.2h0m-20.8-3h0m-29.4 2.2h0m-32.4-2.3h0m-12.1 2.6h0m56.9 10.4h0m-20 3h0m9.8 5h0m3.3 6.2h0m-40.9-.8h0m-5.1-1.4h0m12.2 9.4h0m52.7 1.2h0m-50.1 3.9h0m33.9 6.1h0m-1.8 4h0" stroke="#d8303a" stroke-width="0.6" stroke-linecap="round" fill="none"/><path d="M325 270.8h0m19.9 24.2h0m-45.2 .9h0m-8.6-1.6h0m37.6 8.6h0m2.6-1.5h0m12.1-1.7h0m-75.8 4.8h0m49.3 12h0m-33.8-1.1h0m-19.2 .3h0m-4.4 10h0m4.7-.3h0m39.1 6.3h0m-45-3.6h0m55.2 10.4h0m14.1-2.9h0m-55.4 12.3h0m8.6 .5h0m53.7 .6h0m-6.7 7.4h0m-10.3-4.6h0m-52.5 10.6h0m51.2-.1h0m17.2-3.7h0m-9.6 8h0m-50.2 3.6h0m14.5 1.6h0m39.9 5.3h0m-8.7 .1h0m-1.7 .7h0m-25.6 1.7h0m-8.3-3.1h0m-6.1 3.9h0m13.2 2.7h0" stroke="#d058c8" stroke-width="0.6" stroke-linecap="round" fill="none"/><path d="M332.6 271.8h0m-33 5.4h0m2.6-4.1h0m4.3 4h0m14.9-2.5h0m7.8-1.4h0m.6 5.2h0m3.9-.2h0m.6-2.7h0m11.9 .6h0m2.1 .6h0m2.1-.1h0m-18.5 4.2h0m-7 2.8h0m-.1-1.3h0m-.8-1.7h0m-23.1 3.6h0m-5.2-3h0m-9.8 .6h0m-7.2 2.4h0m1.6 1.6h0m8.4 3.3h0m.8-2.7h0m3.7 3.3h0m13.9-2.4h0m5.8 2.4h0m15.9-2.5h0m2 2.4h0m30.7-4.2h0m-7.3 6.7h0m-8 1.2h0m-2.6-1.5h0m-15.5 1h0m-7.4 0h0m-5.8 .3h0m-11.1 .6h0m-17.4 2.8h0m-2.5-3.4h0m-1.4 .9h0m-1.7 .9h0m-16.6 7h0m8.3-1.6h0m4.7 2.2h0m5.5-2.6h0m1.3 1.3h0m6.8 1.5h0m.7-4.1h0m.4 3.4h0m2-2.5h0m12.9-.2h0m10.2-2.1h0m3.4 4.3h0m13 1.2h0m12.1-2.2h0m11.8-.7h0m9.5 .6h0m.8-2.5h0m-12.6 10h0m-7.6-4.4h0m-19.2 2.2h0m-2.9 1.7h0m-.1-4.1h0m-2.3 2.5h0m-12.8 1.7h0m0 1h0m-.2-2.5h0m-6.8-1.3h0m-4.4-.1h0m-2.4 2.3h0m-15.8 .1h0m-13.6-2.9h0m-6.8 2.3h0m-1.1 .4h0m2.9 5.7h0m7.9-.7h0m5.7-1.5h0m10.8 .6h0m26.7 3.4h0m13.1-2.3h0m33.1 8h0m-.5-3.1h0m-.4-1.7h0m-8.3 .4h0m-11 1.3h0m-4.5 2.8h0m-.4-3.4h0m-15.2 2.5h0m-6.3 1.3h0m-4.2-4.4h0m-14.1 0h0m-.3 1.6h0m-5.4-1.1h0m-15.1 1.4h0m-10.3 .1h0m-.7-1.7h0m-9.2 8.4h0m3.4 2.1h0m6.3-.4h0m.3-.6h0m3-3.7h0m5.4 4.9h0m.6-4.8h0m2 4h0m21.9 .6h0m5.2-4.9h0m3.3 3.9h0m6.8 1.4h0m11.3-3.7h0m7.9 1.6h0m4.5 0h0m2.6 2.1h0m1.6-4.3h0m12.5 .8h0m.3-.3h0m2.1 8.7h0m-6.4-3.1h0m-1.5 0h0m-1.6 1.6h0m-.9-2.7h0m-5.1 .2h0m-19 4.9h0m-22.8-.3h0m-13.1-2.1h0m-4.7 .6h0m-2.1-2.6h0m-6.1 2.6h0m-7.5-.5h0m-11.7 .6h0m-1.7-1.8h0m18.6 4h0m5.8 1.4h0m9.4 3.2h0m1.4 .6h0m2.8-4.9h0m4.4 1h0m0 .1h0m2.9 .2h0m17.8-1.8h0m3.3 6h0m1.5-1.4h0m3.8-2.7h0m.5 3.3h0m3.4-4.6h0m6 2.8h0m.4 .7h0m5.9 1h0m2-1.3h0m1.2 1.2h0m.6 .1h0m2.4-1.1h0m9.9-4h0m2 9.4h0m-2.5-1.8h0m-3 .4h0m-6.1 3.8h0m-3.2 0h0m-2.3-5.4h0m-1.6 .2h0m-26.4 .6h0m-12.7 1h0m-7.6 2h0m-2-.2h0m-25.3 1.2h0m-7.5-2.8h0m-1.4-.4h0m-3.2 2.6h0m2.7 3.5h0m15.3-2.1h0m48.1 3.8h0m10.6-1h0m6.2 .1h0m5.3-.1h0m.2-2.5h0m2.6 1.5h0m11.9-1.2h0m4.2 5.2h0m3.4-4.6h0m-8.4 10.6h0m-1.7-1.7h0m-5.3 1.5h0m-13.9 .2h0m-4.1-5.4h0m-5.8 3.5h0m-.6 1.1h0m-.6-1.1h0m-1.7-1.3h0m-22.5-2.5h0m-21.4 4h0m-10.9 1.7h0m-13.6-4.5h0m.9 10h0m4.7-4.3h0m8.5-1h0m.8 .7h0m4.4 4.1h0m9.5 .7h0m8-1.5h0m.8-2.5h0m16.7-.8h0m11.3 3h0m.9 1.3h0m11.3 .5h0m4.4-2.8h0m1.5 2.1h0m4.7 .8h0m-5.1 3.9h0m-10.9-1h0m-8.1 .2h0m-4.4 1.6h0m-5.9-2.9h0m-19-.8h0m-1.8 3.8h0m-1.7 .2h0m-14.3-1.4h0m-3.2-3h0m-1.7 5.1h0m-2.2-.9h0m-1.2-.2h0m-1.7-2.6h0m-4.3-1.4h0m17.2 7.6h0m14.3-1.3h0m1.8-.5h0m9.4 5.3h0m4-2.8h0m7.1-2.2h0m22.2 4.6h0m1.6-3.1h0m7.1-.8h0m-13.8 7.7h0m-15.3 1.9h0m-3.1-1.5h0m-1.7-2.5h0m-5.6-.3h0m-1.4 2.3h0m-8.3 1.4h0m-6.4-.1h0m-7.3-.1h0m-4.3-3.2h0m30.3 7.9h0" stroke="#d8d8e8" stroke-width="0.8" stroke-linecap="round" fill="none"/><path d="M316.3 272.3h0m12.3 2.8h0m4.1 9.3h0m-54.6 1.8h0m22.8 1.4h0m26.7 9.2h0m-1-3.7h0m-8.8-.4h0m-11.2 2.8h0m25.9 5.3h0m16.7-2.6h0m-22.4 6.9h0m-11.1 2.6h0m53.6 9.2h0m-4.9 .2h0m-47.9 3.4h0m-55.8 5.5h0m.3-1.2h0m34.9-1.9h0m31.5 3.5h0m33.6-2.2h0m-22.4 3.9h0m-25.7 1.6h0m-.5-2.6h0m-50 5.4h0m5.4 5.9h0m79.6 3.9h0m-71.7 .1h0m-9.5 5.6h0m64.6-1h0m-10.7 5.2h0m-40.7 8.8h0m37.7 1.2h0m-13.5 3.3h0m-.1-.7h0m-12.9 5.1h0" stroke="#3cc050" stroke-width="0.6" stroke-linecap="round" fill="none"/><path d="M304.8 272.9h0m-17.7 3.1h0m23.1 1.8h0m2.6-3.3h0m6.8 3.9h0m17.9-1.5h0m4.7-1.8h0m5.8 1.5h0m7.8 1.8h0m2.7 6.2h0m-2.1-.5h0m-3.4-1.7h0m-6.2 2.5h0m-.4-5.5h0m-6.7 5.1h0m-10-.3h0m-.2-3.6h0m-13 .9h0m-2.2 1.5h0m-5.7-.2h0m-4-3.6h0m-12.8 4.9h0m-6.1-1.2h0m-5.4 0h0m7.5 6.4h0m20.7 1.2h0m2-.1h0m2.1-1.6h0m.6 .6h0m1.1-1.7h0m9.1 0h0m.8 1.8h0m2.2-3.1h0m8.5 .8h0m21.2 .7h0m2.3 3.1h0m2.1 3.4h0m-5.9 1.1h0m-16.1-2.7h0m-5.5-1.6h0m-.5 2.8h0m-.9 1.5h0m-.4-1.7h0m-27.4-2.6h0m-16.1 .2h0m-5 5.2h0m-7.5-4.9h0m-5.3 1.1h0m17 8.7h0m6.5 .6h0m7.3-3.8h0m1.5 1.9h0m2.7 1.7h0m3-4.5h0m3.3 2.2h0m3.6 2.2h0m19.4-4.8h0m7.5 5.6h0m0-1.1h0m17-.8h0m-22.7 8.1h0m-.1-.5h0m-2.1-4.8h0m-11.3-.1h0m-6.6 .7h0m-1.3 2.3h0m-1 1.1h0m-6-.9h0m-8-1.7h0m-8.3 2h0m-11.1-.6h0m-17.5 6.1h0m35.5-.1h0m1.6-.3h0m18.7 .8h0m.6-2.9h0m.8 2.9h0m5-3.3h0m6.5 .9h0m4.3-.3h0m2.7 1.5h0m24.1 2.9h0m5.5 4.7h0m-.3 .3h0m-2.7-.4h0m-24.6-.2h0m-4.2 1.8h0m-.3-.9h0m-3.1-.6h0m-20-.3h0m-2.5-1.1h0m-11.8-.7h0m-1.4-1.3h0m-31.9 2.1h0m-2.8 2.2h0m-1.1-3h0m1.3 5.6h0m1.7 .1h0m2.7-.2h0m10.7 1.7h0m.4 .6h0m10 2.1h0m5.6-.7h0m1.5 .5h0m1.2-4.1h0m11.4-.5h0m10.4 .9h0m1.9 1h0m1.4-1.2h0m11.3 2.9h0m19.9 .1h0m11.1 .2h0m1.1 .7h0m1.6-2.3h0m-2.5 8.4h0m-10.4-3.1h0m-47.4-2.7h0m-29.3 2.7h0m-1.5 3.1h0m-3-5.1h0m-4.8-.2h0m-1.2 2.8h0m-4.8-2.9h0m-4.7 1h0m-.1 .5h0m-.9-1.5h0m-1.8 4.3h0m-4.3-1.2h0m.7 6.4h0m2.5-.8h0m3.3 2.4h0m.4-3.2h0m8.8 1.2h0m3.7-1.4h0m13.9-2h0m2.8 3.3h0m15.6-1.9h0m.2 2.8h0m2.6-1.1h0m3.2 2.4h0m4.5 .1h0m1.5-4.6h0m8.2 1.2h0m3.8 3.6h0m3.4-3.7h0m.1-1.5h0m.8 1.3h0m1.6 .1h0m5.5 .9h0m.2 .4h0m20.9 3.4h0m-.3 2.3h0m-9-2h0m-1.7 4.4h0m-.4-.7h0m-2.6-3.7h0m-2.5 1.9h0m-2.4-2.1h0m-9.1 1.5h0m-3.4 .4h0m-15.1 1.5h0m-5.2 .4h0m-3.6-2.6h0m-19 .3h0m-14.6-.9h0m-7.1-1.5h0m-4.1 8.3h0m1.7 1.2h0m5.3-1.1h0m1.4-.9h0m.7 3.6h0m.4-2.6h0m1.5 1.1h0m24.1-.7h0m20.5-2.2h0m6.4 .6h0m4.3 3.6h0m1.2-1.2h0m19.5-3.5h0m3.7 4.1h0m11.5-2h0m-11.6 3.8h0m-7.4 3.4h0m-5 0h0m-10.4 1.9h0m-5.5-.6h0m-19.6-2.8h0m-2.1-1.7h0m-20.3 5.4h0m-.2-1.4h0m-14-1h0m-4.6 6.7h0m20.5-3.6h0m.4 1.6h0m.4 3.3h0m2.7-5.2h0m13.5 5.8h0m17.8-3.6h0m4 .6h0m12.5 .9h0m6 2.1h0m3-1.5h0m4.9 1.6h0m-3.7 3h0m-25 1.6h0m-8.1-2h0m-5.4-1.9h0m-.7 .9h0m-3.2 4h0m-11.3 .1h0m-16.3-2.6h0m-14.8 2.9h0m28.4 1h0m12.1 3.6h0m22.1 1.3h0m2.4-3.9h0m.2 3.8h0m5.5 1.4h0m-9 2.4h0m-4.3-.9h0m-1.5 2.6h0m-5.4-5.3h0m-.6 5.6h0m-2-4.8h0m-1 3.4h0m-.7 .7h0m-13.4-2h0m-11.9-.4h0m-7.6 .4h0m-.2-.5h0m11.8 4h0m12.2 .8h0m17.6 .6h0" stroke="#d8d8e8" stroke-width="0.6" stroke-linecap="round" fill="none"/><path d="M317.2 271.6h0m-14.8 .6h0m29.9 3.5h0m-36.4 7.2h0m-20.6 5.6h0m20.2 2.3h0m38.2-1.5h0m-7 2.6h0m-52.4-.4h0m-4.2 .3h0m84.6 10.3h0m-76.9 5.7h0m5.5 3.3h0m81.6 3.6h0m-86.3 9.5h0m19.4-.3h0m18.2 7h0m-65.1-1.9h0m20.2 6.1h0m59.5-1.2h0m5.6 10.9h0m-41.4-2.5h0m11.6 5.6h0m.6-2.5h0m43 5.1h0m-34.8 4.9h0m-18.5-4h0m-7.2 3.9h0m-32.9 5.6h0m7.5-.2h0m43.8 .5h0m22.4-2.1h0m14.2 2.8h0m-72 8.4h0m37.3 .7h0m.2 1.2h0m-38.9 3.4h0" stroke="#4048f0" stroke-width="1.0" stroke-linecap="round" fill="none"/><path d="M318.5 271.3h0m-27.7 5.7h0m2.1 9.3h0m46.5 1.5h0m13.5 .5h0m-83.6 4.9h0m83.5 11.7h0m-30.3 7.9h0m39.5 7.6h0m-110.6 8.8h0m36.2 13.4h0m-18.1 17.5h0m1.1-.2h0m52.3 7.8h0m-3.7-1.2h0m-10.6 1.7h0m-26 2.3h0" stroke="#d8d040" stroke-width="0.6" stroke-linecap="round" fill="none"/><path d="M324.9 275.2h0m2.2 3.7h0m-19.9 3.7h0m-12.5-1.5h0m56.6 5h0m-45 5.3h0m43.9 6.4h0m-86.8 16h0m88 1.1h0m-73.1 2.9h0m7 8.7h0m44.7 5.9h0m-11.6 .1h0m9.4 .9h0m-10.3 10.1h0m-42.5 3.3h0m29.1 .2h0m1.6 0h0m16.3-2h0m17 1.5h0m7.7 3.4h0m8.2-2.3h0m-15.2 8.6h0m-32.9-.7h0m13.4 5.8h0m4.5 5h0m-1.7 3.8h0m8.8 3.3h0" stroke="#d058c8" stroke-width="0.8" stroke-linecap="round" fill="none"/><path d="M340.4 271.6h0m-25.7 3.8h0m14.3 .4h0m14.4 20.1h0m-61.9 .3h0m4.2 .8h0m10.4 1.7h0m18.8 10.5h0m22.1 0h0m30.4 7.5h0m-15.1 3.3h0m-9.2 .4h0m-74.6-4.5h0m41.5 16.3h0m-57.6 4.1h0m43.5-.3h0m36.9-2.8h0m-20 6.6h0m-3.5 1h0m-19.2-.9h0m44.4 8.3h0m-64.1 17.9h0m-6.8 1.4h0m36.3 4.1h0m-7.3 12.5h0" stroke="#d8d040" stroke-width="1.0" stroke-linecap="round" fill="none"/><path d="M286.6 277.3h0m4.6-.6h0m27 .1h0m17.4 2h0m-28.7 2.4h0m-21.1 8.5h0m.2-.7h0m38 1.4h0m30 4h0m-.3 1h0m-59.3-.4h0m14.4 4.6h0m2.1-1.7h0m46.1 .8h0m-25.2 7h0m-3-1.8h0m-36.9 .4h0m-7.8 1.8h0m-22.2 3.5h0m36-.1h0m71.2 .1h0m-7.1 6.9h0m-33.8 2.5h0m-9.6 .4h0m-30.1-1.7h0m26.1 7.4h0m25.1 1.4h0m13.8 2.4h0m-56.2 .5h0m-43.4 .5h0m27 7.9h0m8.2-.9h0m63.6 4.4h0m-.8 3.6h0m-13.2-4.6h0m-40.3 2.2h0m-25.5 3.9h0m20.2-.3h0m66.7 4.8h0m-107.4 3.8h0m2.2 5.8h0m21.6 2.5h0m-6.8 9.8h0m12.8 6.7h0" stroke="#3cc050" stroke-width="1.0" stroke-linecap="round" fill="none"/><path d="M310.9 271h0m-25 7.7h0m46.2-4.4h0m-18 5.2h0m-21.7 6.1h0m28.4 9.2h0m-19.1-2.7h0m-.2 12.4h0m5.1 5.2h0m35.1 2h0m-6.2 7.8h0m-61.7 4.2h0m17-.4h0m3.3 2.4h0m-41.6 7.6h0m37.6 5.4h0m8.8-.3h0m20.9 .3h0m1.7-2.2h0m25.1-3.1h0m-76.9 8.5h0m13.4 9.8h0m-.8 1.3h0m-28.9 7.6h0m13.8-2.2h0m79.2 1.3h0m-50.7 7.1h0m-22.7 7.9h0m19.1 5.6h0m-15.6-2.5h0" stroke="#d058c8" stroke-width="1.0" stroke-linecap="round" fill="none"/><path d="M317.3 272.6h0m-34.9 7.5h0m24 11.7h0m-38 8.5h0m61.8 3.7h0m-24.6 8.4h0m43.6 3.4h0m7 11.5h0m-27.2-.1h0m-.8 3.4h0m-60.2 12.5h0m81.7 10.4h0m-61.9-1.3h0m52 16.6h0" stroke="#40b8e0" stroke-width="0.8" stroke-linecap="round" fill="none"/><path d="M309.9 270.1h0m50.9 13.4h0m-68.5-.4h0m20.8 13.3h0m-22.2-.6h0m-20.6 14.7h0m87 10h0m-35.1-4.5h0m-25.2 2.8h0m-24-1.1h0m88.3 6.5h0m-32.7 5.5h0m-3.3 4.2h0m-3.9 9.4h0m-52.6 7.6h0m77.6 9.1h0m-42.9 6.4h0m-8.7 10.1h0m-10.8 .5h0" stroke="#d8d040" stroke-width="0.8" stroke-linecap="round" fill="none"/><path d="M315 277.4h0m16.4 6.3h0m-27 3.9h0m1.9-.7h0m41.9 .2h0m12.3-.4h0m-34.8 7.8h0m-33.7-.8h0m31.7 3.6h0m20.5 2.3h0m12.9 .8h0m-21.7 8.4h0m-17 6.2h0m6.3-5.5h0m20.1 .3h0m4.6 1.2h0m0-1.1h0m8.7 4.4h0m-9.3 .8h0m-85.3 7.8h0m32.2 .8h0m21.9 2.2h0m22.3 6.2h0m-5.3 .2h0m-8.8-4.1h0m-14.5 1.2h0m-21.4 1.5h0m-27.9 7.3h0m11.8-3.5h0m45-.3h0m-22.2 8.3h0m-19.8 2.6h0m45.5 4.7h0m22 .5h0m2.6 5.6h0m-56.6 .5h0m-23.3 5.9h0m3-2.2h0m26.4 .4h0m38-3.4h0m6.7 4.2h0m-68.4 3.3h0m25.4 15.3h0m-29.3-2.4h0m28.8 6.6h0" stroke="#d8303a" stroke-width="1.0" stroke-linecap="round" fill="none"/><path d="M282.7 278.6h0m53.2-.2h0m.1 2.9h0m-2.9 1h0m-44 5.2h0m3.3 .6h0m5.7-.4h0m-10 4.1h0m-14.8 4.5h0m84.6 2.9h0m8.2 5.5h0m-22.7 4h0m-67.3-2.5h0m25.9 6.1h0m33.3-.2h0m21.6 1.7h0m12.4 4.7h0m-5.2-.3h0m-78.4 .3h0m-1.3-1.8h0m-23.9 .2h0m28.7 9.7h0m33.8-1.1h0m6.9-3h0m36.1 2.9h0m-33.6 2.7h0m-10.2 10.1h0m15.9-5.2h0m6.9 8.4h0m-39 1.7h0m-4.3-2.6h0m-38.5 2.6h0m24.4 3.3h0m24.4 1.7h0m-9.2 7.1h0m-45.4-.2h0m-5.8 .3h0m38.7 11.4h0m-14.9-1.6h0m16.5 5.7h0m25.7 .5h0" stroke="#3cc050" stroke-width="0.8" stroke-linecap="round" fill="none"/><path d="M317.5 274.6h0m-.8 6h0m-23.5 .3h0m-9.6 7.4h0m22.1 1.5h0m-4.5 2.1h0m-26.1 3.5h0m-5.5-3.6h0m16.4 8.5h0m-7.4 3.1h0m-11.8-.3h0m5.3 6.1h0m31.9 .7h0m45.3 5.3h0m-15.5 5.6h0m-15.3-1.4h0m-6.7-1.3h0m-36.1 .9h0m-16.7 .8h0m13 5.9h0m46-1.5h0m12.4-1.9h0m17.3 8.7h0m-42.8 6h0m14.7 1.1h0m25.7-4h0m-41.7 9h0m-12.7 .1h0m-2 7.6h0m39.8-.5h0m30-2.2h0m-78 4.6h0m21.2 13.4h0m-25.4 7.4h0m34.5-2.8h0m15.2-.5h0" stroke="#4048f0" stroke-width="0.6" stroke-linecap="round" fill="none"/><path d="M277.4 288.4h0m45.2-1.5h0m18.5 10.5h0m11.2 1.5h0m-6.9 9.1h0m-72.5-3.9h0m-16.9 8.2h0m65.7-3.3h0m9.4 11.1h0m-54.1 4.8h0m79.8 .3h0m8.3 3.4h0m-39.6 3.5h0m-69 15.4h0m7.8-1.3h0m4 11.7h0m48.1 .7h0" stroke="#40b8e0" stroke-width="0.6" stroke-linecap="round" fill="none"/><path d="M282.4 287.9h0m44.3-2h0m-32.4 9.3h0m5.5 2.3h0m54.1 11.4h0m-4.7 20h0m-13.7 .5h0m-43.7 1.2h0m-.2-2.7h0m23.2 8.3h0m47.2 8.3h0m-22.6 5.8h0m-7.7 4.9h0m-22.6 22.4h0" stroke="#40b8e0" stroke-width="1.0" stroke-linecap="round" fill="none"/></g>
<ellipse cx="298.6" cy="320.4" rx="4.6" ry="4.2" fill="#58e040" opacity="0.75" filter="url(#bl4)"/>
<ellipse cx="276.3" cy="320.8" rx="3.6" ry="3.8" fill="#c060c0" opacity="0.5" filter="url(#bl4)"/>
<g filter="url(#bl4)" opacity="0.9"><path d="M316.3 278.4h0m1.7-1.1h0m5.4 1.2h0m-23.6 8.7h0m1.2 1.1h0m0 .3h0m1.3 1h0m.2 .1h0m-26 30.5h0m-.1 .4h0m-.9 .3h0m-.3-1.9h0m-2.5-2.5h0m-1.5 8.6h0" stroke="#4048f0" stroke-width="1.7" stroke-linecap="round" fill="none"/><path d="M344.1 282.9h0m-5.5-1.4h0m-1.1-1.6h0m12.2 18.5h0m-70.7 21.8h0m-3.4-.5h0m-.2 7.1h0m.2-3.2h0m2.4-1.8h0m1.5 1h0m44.8 16.1h0m1.8 1.8h0m-1.8 .9h0m-6.5 1.3h0m-18.3 25h0m2.8 1.8h0m.3 .1h0m.2 .2h0m.6 1.8h0m.5-2.4h0m2.3 6.5h0" stroke="#d8303a" stroke-width="1.7" stroke-linecap="round" fill="none"/><path d="M336.6 277.4h0m7.7 3.1h0m-3.5 1.1h0m-.9 2.6h0m-.5-4.7h0m12.2 15.8h0m-7 2.5h0m3.3 1.9h0m2-1.6h0m-69.1 18.7h0m-.8 3.2h0m-2.5-.3h0m-.2 .4h0m-.7-3h0m0 2.7h0m-.4 1.1h0m0-.7h0m-1 .9h0m.9-.1h0m.3 1.9h0m1.7-.6h0m46.7 17.7h0m-1 .5h0m-4-.9h0m-14.7 29.3h0m0-1.8h0m-2.1 1.1h0m-3.3 .2h0m3.1 1.6h0m.7-.4h0" stroke="#d8303a" stroke-width="1.1" stroke-linecap="round" fill="none"/><path d="M337.9 278.9h0m5.5 3.2h0m-3.5 1.8h0m13.3 12.8h0m-3.3-.4h0m13.2 16.7h0m.9 1.7h0m.2-3.7h0m-87.9 9.7h0m0 .1h0m-.5-.5h0m-.3-2.4h0m-2.1 4.7h0m1.2-1.4h0m1.7 0h0m.6 .9h0m3.8-1h0m78.1 7.6h0m-.9-1.3h0m-.1 1.2h0m-1.1-.1h0m-36.2 11.1h0m-17.7 27.9h0m-.5 1.3h0m-.9 3.2h0" stroke="#d058c8" stroke-width="1.1" stroke-linecap="round" fill="none"/><path d="M343.8 278.8h0m-4.2 2.7h0m20.2 31.4h0m.2-.3h0m2-1.5h0m.7 2.4h0m1.4 0h0m.8-2h0m.5 1.8h0m-4.6 2.5h0m-83 4.9h0m-.8-1.7h0m-.6 0h0m-.1 1.8h0m0 0h0m-.2 .1h0m-2.1-1.6h0m-.7-4h0m2.3 8.4h0m1.2-2.4h0m1 2.4h0m1.7-1.8h0m76.6 5.1h0m4.5 2.8h0m-3-1.7h0m-.4-1h0m-.7 1.5h0m-.6-.4h0m-.9 1.1h0m-35 6h0m4.5 3.7h0m-1.6 2.2h0m-3.4-1.3h0m-20.6 30.1h0m3.9-.6h0m1.1 .8h0m.3-1.1h0m.9 1.6h0" stroke="#d058c8" stroke-width="1.7" stroke-linecap="round" fill="none"/><path d="M342.6 279.1h0m-2.8 1.7h0m-.1-.3h0m-.1 .9h0m-.9-.1h0m11.8 13.1h0m-.2-1.7h0m.1 4.6h0m0 2.5h0m.4-.8h0m13.5 13.5h0m.5-.8h0m.5-1h0m2.6 1.5h0m-87.9 4.5h0m-3.6 4.1h0m-.1 0h0m-.1 .2h0m.4 .3h0m.6-.2h0m1.6 0h0m79.3 5.6h0m-1 1.6h0m-.2-.1h0m-1.9-.5h0m-30.2 12.2h0m-.1 .5h0m-21.4 29.2h0" stroke="#d058c8" stroke-width="1.4" stroke-linecap="round" fill="none"/><path d="M321.9 274.7h0m13.6 3.8h0m4.3 1.5h0m-1.5 .2h0m-17.1 1.2h0m-3-1h0m34 15.6h0m-3.2-1.6h0m-2.5 1.7h0m2.6 2.7h0m.3-1.5h0m.1 .6h0m.7 0h0m11.2 18.7h0m-15.2 2.1h0m-.9-.2h0m-1.7 1.8h0m-2.9-3.8h0m-1.7 3.2h0m-1.5-2.8h0m-36.9 1.1h0m-2.2 2.6h0m-1.1-1h0m-21.1 1.2h0m-1.2-1.9h0m-2.6 0h0m25 4h0m1.4-1.6h0m48.1 1h0m9.7 5.7h0m-33.3 10.3h0m.6-1.2h0m2.7 2.5h0m-.3 .2h0m-.5 .6h0m-1.5-.3h0m-3.4 .9h0m16.1 13.9h0m-1.6 3.6h0m1.2-.6h0" stroke="#d8d8e8" stroke-width="1.1" stroke-linecap="round" fill="none"/><path d="M315.9 277h0m1.6-.1h0m1.1 1h0m-17.8 11.5h0m.3-.8h0m.1-.2h0m.1-.4h0m.2 .5h0m.1-.1h0m1 1h0m-26.7 30.2h0m-.2-3.8h0m.3 5.5h0m.9 2h0" stroke="#4048f0" stroke-width="1.1" stroke-linecap="round" fill="none"/><path d="M341.7 282.5h0m-.6-1.9h0m-.5 .8h0m-.7-1.2h0m-.6-.7h0m-.8 .8h0m13.3 15.7h0m-2.2 2.7h0m.2-.7h0m-72.2 19.6h0m-1.4 2.2h0m.2 1.7h0m27.6 46h0m-4.4 5.2h0m2.4-2.9h0m.5 1.8h0m1.7-1.8h0m.6 1.1h0" stroke="#d8303a" stroke-width="1.4" stroke-linecap="round" fill="none"/><path d="M312.8 278.7h0m4.1-1h0m.2-2.4h0m0 3.6h0m1.1-2.3h0m31.9 19.1h0m-2.7-.3h0m.8 2.5h0m.4 .7h0m1.4-.9h0m.6-.2h0m-4.7 17.3h0m18.3-2.3h0m.7-.5h0m1.9 2.2h0m-.6 1.7h0m-20.6 2.1h0m-1.1-.9h0m-42.9-.7h0m-2.8 4.2h0m-.3-2.2h0m-2-1.7h0m-18.9 3.1h0m-1.1-3.4h0m-.2 4.4h0m-1.9-1.3h0m25.5 2.3h0m53.8 8.9h0m-13.8-3.2h0m-15.8 9.3h0m3.3 3.7h0m-3.3-.4h0m-1.2 .1h0m-.1 2h0m14.4 15.7h0" stroke="#d8d8e8" stroke-width="1.7" stroke-linecap="round" fill="none"/><path d="M313.6 278.2h0m3.1-1.6h0m.3 .4h0m1.7-2.2h0m16.9 6.3h0m14.3 15.7h0m-3.5 .7h0m3.9 0h0m11.7 11.2h0m1.9 3.7h0m.3 .1h0m.2-.3h0m-19 6h0m-48 1.2h0m-20.2 1.2h0m2.5 1.5h0m16.7-.6h0m2.1 .1h0m0-.5h0m.4 5.5h0m60-.3h0m-34.5 9h0m2.4 3.7h0m3.4 4h0m-.4-1.5h0m-5.9-1.5h0m0 1h0m0-1.5h0m-.7 1.5h0m-.3 1.6h0m14.1 14.1h0m-.5 .7h0" stroke="#d8d8e8" stroke-width="1.4" stroke-linecap="round" fill="none"/><path d="M316.2 276.5h0m1.1-.1h0m1.3 2.2h0m-19.2 10.2h0m1.3-1.2h0m.4 .7h0m.3-1.3h0m.6 2.9h0m.4-.5h0m-25.7 31.1h0m-1.1-4.7h0m-.5 1.8h0m-.1 1h0m16.5 18.4h0" stroke="#4048f0" stroke-width="1.4" stroke-linecap="round" fill="none"/><path d="M317.8 277.3h0m.6 .2h0m30.8 18.2h0m.8 2.7h0m1.1 3.8h0m.2-.7h0m-8.2 12h0m.5 .1h0m4.4 5.8h0m-2.4-2.3h0m-.9 2.3h0m0-1h0m-.9 1.9h0m-.5 .3h0m-.5-2.1h0m-.8-.1h0m-2.2 .1h0m-37.2-2.5h0m-1.4 1.2h0m-.1 2h0m-1.1-.7h0m-1.6 2.1h0m0-.1h0m-.3 0h0m-1.5-3.2h0m-.6 3.6h0m-.8-.6h0m2.3 1.5h0m.2-.2h0m.2 3.2h0m2.4-.2h0m3.7-2.5h0m40.1-.3h0m1.5 3.7h0m-59.1 7.2h0m-32.1 5h0m1.8-2.4h0m.3 1.2h0m.9 .3h0m26.2 .2h0m3.2 .7h0m.6 .9h0m.1 0h0m.3-1.9h0m.7-2.9h0m.8 1.9h0m3.2-1h0m35.3 6h0m-1.8-1h0m-1.8 .3h0m-1.2 .3h0m-.1 .3h0m-1.5 2.2h0m-.7-.8h0m-34.7 5.5h0m0 0h0m.5-1.2h0m49.7 10.4h0m-.1-2.2h0m-2.5-.5h0m-.7 .7h0m1.1 4.4h0m1.5-1.4h0m.1 .7h0m1.1 1h0m.3 2.7h0m4-3.9h0" stroke="#3cc050" stroke-width="1.7" stroke-linecap="round" fill="none"/><path d="M318.8 277.1h0m.9 1.8h0m29.6 19.4h0m1.2-.8h0m.9 1.8h0m-2 17.4h0m-1.6 2.1h0m-3.6 1.3h0m-.7-.6h0m0-3.5h0m-.4 4.4h0m-.1 0h0m-.4-.3h0m-.4-.1h0m-39-.4h0m-4-4.1h0m-.2 2.5h0m-1-.4h0m0 2.3h0m-.1 1h0m-1.1-.8h0m0-1.5h0m-.5-.7h0m-1.3 .7h0m.1 2.8h0m.6-.3h0m1.1 .8h0m1.3-.6h0m1.2 4.3h0m1.5-4.5h0m.8 .8h0m4.7-.3h0m35.7 .4h0m3.8-.8h0m.2 3.3h0m.2-.6h0m-90.5 12.5h0m.3 .4h0m.4 .3h0m.8-.7h0m27.4 .7h0m1.4-1.4h0m.1 0h0m.6-2.4h0m.4 3.7h0m.7-.4h0m.3 .5h0m0 .1h0m.7-2.6h0m.2 2.5h0m1.9-1.2h0m35.2 1.4h0m.2 3.2h0m-.7-1.2h0m-3.6 1.5h0m-.4-.5h0m-36.3 3h0m-.7 7.2h0m1-3.4h0m.2 1.2h0m.5 .3h0m.2-.9h0m.4-1.7h0m.4 2.3h0m.7-2.1h0m1.1 0h0m48.2 9.4h0m-.1-.8h0m-.1 .4h0m-.2-.2h0m-.6-.1h0m-.8 1.7h0m-1.1 4.1h0m.8-3.1h0m.2 3.1h0m.7-3.2h0m.2-.2h0m.9 .2h0m1-.3h0m0 .7h0m2.2 .3h0" stroke="#3cc050" stroke-width="1.4" stroke-linecap="round" fill="none"/><path d="M317.5 277.1h0m2-.1h0m2.1 3.4h0m28.9 16.4h0m-.9 1.3h0m-48.5 16.5h0m39.8 0h0m8.3 6.3h0m-5.4-1.1h0m-.9-.4h0m-.5-1.6h0m-.1 .4h0m-.3 1.1h0m-.8 0h0m-4.4-2h0m-31.8-.8h0m-2.9 3.2h0m-.6 1h0m-3-.6h0m0-.8h0m0 1.4h0m-.1-.1h0m-.1-1.9h0m-.5 1.8h0m0-2.3h0m-.1 1.3h0m-.3 .9h0m-.1-1.3h0m-.1 1.2h0m-.8-.5h0m-.3-1.5h0m-.3 1h0m-1.9-.6h0m-3.2-.9h0m-.3-.3h0m4.8 4.7h0m1-.3h0m.2 3.2h0m.9-3.7h0m.6-.3h0m.4 2.6h0m.5-.9h0m.1-1.7h0m.2 .8h0m5.6-.5h0m36.1 1.9h0m3.1-1.4h0m-90.4 14.7h0m1.9-.3h0m.7 .4h0m.1-1.4h0m29.3 3.3h0m1.3-1.8h0m.2 .3h0m.1-.5h0m.1-.5h0m.8 .9h0m0-.3h0m1.4-1.2h0m3.1-2.1h0m.2 3.7h0m30.7 1.1h0m5.3 4h0m-2-1.6h0m-.8 1.2h0m-.5-1.1h0m-1.1-.3h0m-.9-.1h0m-1.5 3.9h0m-38.6 2h0m2.7 4.5h0m.3-3.6h0m.9 3h0m.1-2.1h0m50.8 6.4h0m-1 2.2h0m-1.5 3h0m.4-1.9h0m.3 1.4h0m.1-1.5h0m0-.4h0m1.1 2.1h0m1 1.2h0" stroke="#3cc050" stroke-width="1.1" stroke-linecap="round" fill="none"/><path d="M345.5 319.6h0m-.8-4.1h0m-5.3 1.1h0m-40.6 3.9h0m-1.2-.4h0m-.9 2.1h0m0 .1h0m.1-.2h0m.1 2.1h0m5.2-1.8h0m38-1.4h0m1.4 2.4h0m.2-1.2h0" stroke="#d8d040" stroke-width="1.7" stroke-linecap="round" fill="none"/><path d="M341.5 318.8h0m-40 2h0m0-5.5h0m-.9 3.3h0m-1.4 1.6h0m-.5 .1h0m-.8 .5h0m-.5-.6h0m-1.7-1.4h0m-2.1 3h0" stroke="#d8d040" stroke-width="1.1" stroke-linecap="round" fill="none"/><path d="M344.9 315.9h0m-.9 3.5h0m0 1h0m-43.1-.4h0m-2.9 .8h0m-3.3-4.7h0m5.3 5.7h0m47.5 .8h0" stroke="#d8d040" stroke-width="1.4" stroke-linecap="round" fill="none"/><path d="M307.6 366.3h0m-2.8 2.1h0m-.9-1.3h0m-1.2 .5h0m-.8-1.9h0" stroke="#e07830" stroke-width="1.7" stroke-linecap="round" fill="none"/><path d="M307.1 364.7h0m-4.1 3.8h0m1.9 2h0m2.6-1.2h0" stroke="#e07830" stroke-width="1.4" stroke-linecap="round" fill="none"/><path d="M306 368h0m-4-1.2h0m4 3.9h0" stroke="#e07830" stroke-width="1.1" stroke-linecap="round" fill="none"/><path d="M300.2 288.4h0m.9 .4h0m.7-.4h0" stroke="#40b8e0" stroke-width="1.4" stroke-linecap="round" fill="none"/><path d="M302.1 288.6h0m1.3-3.3h0" stroke="#40b8e0" stroke-width="1.7" stroke-linecap="round" fill="none"/><path d="M300.9 286.9h0" stroke="#40b8e0" stroke-width="1.1" stroke-linecap="round" fill="none"/></g>
<path d="M318 269.2 C336 268.5 352 273 362 283 C370 293 370.5 310 370 325 C369.5 338 362 352 349 362.5 C338 372 325 381 311 383.5 C300 385 292 385 286.5 383.8 C270 380 257 374 252.5 364 C247 352 247.5 338 250 325 C253 313 257 306 263.5 299 C270 288 278 280 290 274 C299 270.5 309 269.5 318 269.2 Z" fill="none" stroke="#2232ee" stroke-width="3.2"/>
<path d="M252.5 364 C247 352 247.5 338 250 325 C253 313 257 306 263.5 299" fill="none" stroke="#2a3aff" stroke-width="3.8"/>
<path d="M336 377 C339 382 340 387 341 392" fill="none" stroke="#2232ee" stroke-width="2.2"/>
<path d="M277 276 L281 272 L284 273 L287 269 L291 270 L294 267.5 M282 275 L285 271.5 L289 272.5 L292 269.5 M279 273.5 L283 270 L286 270.5" fill="none" stroke="#2433ff" stroke-width="1.1" opacity="0.85"/>
</g>
<rect x="270.8" y="314.5" width="11.6" height="13.1" fill="none" stroke="#f2d21a" stroke-width="1.2" stroke-dasharray="2.2 1.3"/>
<rect x="291.9" y="313.7" width="13.6" height="13.9" fill="none" stroke="#f2d21a" stroke-width="1.2" stroke-dasharray="2.2 1.3"/>
<text x="270.6" y="311.4" font-size="9.6" fill="#f7de00">i</text>
<text x="291.6" y="311.4" font-size="9.6" fill="#f7de00">ii</text>
<rect x="356.9" y="388.2" width="12.1" height="1.6" fill="#fff"/>
<rect x="451" y="266" width="161" height="126" fill="#000"/>
<g clip-path="url(#ci3)"><path d="M531.5 267.6 C560 267 590 277 603 297 C612 312 611 345 598 368 C585 385 555 391 522 390.5 C495 390 470 382 460 366 C452 352 452.5 325 455 310 C458 292 470 281 488 274 C502 269 516 267.8 531.5 267.6 Z" fill="#07070d"/>
<ellipse cx="470" cy="356" rx="12" ry="14" fill="#141a50" opacity="0.22" filter="url(#bl2)"/>
<g opacity="0.6"><path d="M521.7 268.6h0m15.9 5.3h0m3.4 1.3h0m37.6 6.1h0m-20-1h0m-19.3 4h0m-6.3 0h0m-9.7 1h0m55.4 11h0m-31.3-2.8h0m-63 2.9h0m-2.3-1.9h0m11 7.2h0m40.7-1.8h0m-48.3 4.1h0m17.6 6.1h0m70.7-1h0m26.2 11.3h0m-25.8-4.4h0m-7.8 1.4h0m-101 3.4h0m-1.1 3.5h0m60.7 .1h0m72.9 3.5h0m-33.1 3.7h0m-78.3 6.2h0m66.2-.7h0m16.8 2.9h0m-12.9 4.3h0m-69.6-5.1h0m43.9 9.7h0m13.1-.8h0m14.4 .2h0m16.7 1.2h0m.2-4h0m-1.3 10.1h0m-104.6 4.3h0m54.1 2.2h0m-37.6 6h0m-11.7-3.2h0m82.4 15.6h0m-2.8-3.6h0m-30.1-.1h0" stroke="#4048f0" stroke-width="0.6" stroke-linecap="round" fill="none"/><path d="M541.3 271.9h0m-15.4-2.1h0m-6 2.1h0m31.4 10.3h0m-.4 2.6h0m-52.5-3h0m-9.4 6.8h0m17 .8h0m15.2-2.9h0m20.2 3.3h0m50.7 5.3h0m-27.2-.7h0m-14.5-1.9h0m-14.3 4h0m-7.5-1.5h0m-1.3 3.8h0m39.4 4h0m-5.3 4.6h0m-18.3-1.8h0m-10.5 2.6h0m-37.3-1.1h0m-14.7 1.9h0m72.5 1.3h0m34.9 6h0m-7.7 2.4h0m-1.1-.6h0m-64.7-1.7h0m-12.7 .3h0m-19.5-1.4h0m-19.9 8.2h0m13.9 2.4h0m25.2 .3h0m45.2-2.5h0m29.5 1.2h0m-46.8 5.8h0m-41.7-.1h0m84.4 3.5h0m9.8 3.4h0m-53.7 4.2h0m-3.3 2.2h0m-14-3.8h0m-36.9 .9h0m-3.6 0h0m-3.5 6.9h0m19.7 2.4h0m3.6-5.3h0m6.9 .1h0m36.5 3.1h0m29.7 1.7h0m23.6-3.4h0m14.9 5h0m-48.7 4.4h0m-36.9-4.6h0m-36.6 .9h0m74.4 9.5h0m13.6 6.2h0m-3.2-3.8h0m-38.7-.6h0m-11.4 .9h0m-38.4 1.3h0m14 8.1h0m46-.6h0m14.3-1h0m9-2.3h0m3.6 1.1h0m8.8 7.9h0m-37.9 3.6h0m22 .4h0" stroke="#d8303a" stroke-width="0.8" stroke-linecap="round" fill="none"/><path d="M503.7 277.2h0m11.9-.9h0m57.3 11.7h0m23 6.4h0m-65.8-1.5h0m-38 6.9h0m71.1 3h0m2.5-3.1h0m-42.9 10.5h0m57.3 3.2h0m-59 4.5h0m36.8 11h0m-64.4-1.4h0m-21 10.3h0m63.9-4.3h0m-2.4 9.5h0m-2.4-1.9h0m-4.6-.7h0m-3.9 1h0m-30.8 7.2h0m79.6 .6h0m4.4-.3h0m15.3 2.8h0m-45.4-.6h0m-82.5 .1h0m107.4 16h0m-20.7-3.8h0m-77.4 4.2h0m83.6 9h0m-45 3h0m-.4 6.3h0" stroke="#4048f0" stroke-width="1.0" stroke-linecap="round" fill="none"/><path d="M495.1 277.2h0m78.8 6.4h0m-7.8-3.2h0m-33.3 .6h0m-8.5 .6h0m-2.7 2.5h0m-.6-4.1h0m-12.2 8.6h0m31.3-2.1h0m52.3 4.1h0m-28.2 5.4h0m-15.3-1.5h0m-33 2.1h0m-.3-3.7h0m-1.3 8.6h0m15.7 1.4h0m15.2-2.8h0m43-3.1h0m8.7 2.9h0m-38.1 5.8h0m-24.4-2.3h0m-28.6 1.1h0m-25.9 9.6h0m20.5-2.4h0m7.8 1.3h0m97.3-1.8h0m-61.2 8.2h0m-9.5-2.7h0m-22.2 3.1h0m43.5 2.4h0m2.4-.7h0m.6 1.7h0m3.2-.3h0m38.4 8.9h0m-14.6-1.5h0m-34.6-1.7h0m-64.1 1.7h0m-20.2 .7h0m-.7-1.5h0m-11.6 5.2h0m30.4 .9h0m16.4 1.3h0m11 1.9h0m2-1.9h0m14.9 2h0m26.1-2.3h0m19.2 2h0m17.4-2.4h0m15.5 5.6h0m-27 1.4h0m-27.4 .7h0m-9.6-.2h0m-71-3.4h0m-15.5 3.1h0m24.4 6.9h0m10.5-2.8h0m19.6-.8h0m55.8 .4h0m19.9 1.1h0m-115.4 9.2h0m34.8 .2h0m86.4-.5h0m-12.4 9.8h0m-31.1-1.2h0m-13.7-1.7h0m-47.1 8.3h0m49.3-2.5h0m3.9 1.2h0m9.9 1.3h0m23.9 2h0m-53.1 1h0m-4.7 2.8h0m-5.8 .9h0m-14.7-3.1h0m-4.6 5.9h0" stroke="#d8d8e8" stroke-width="0.8" stroke-linecap="round" fill="none"/><path d="M517.2 270.1h0m-4.3 7h0m16.5 1.2h0m51.7 5.1h0m-27.5-2.7h0m-56.6 7.8h0m1.4 1.1h0m23-4.5h0m39.7 .4h0m22.4-.1h0m3.8 3.7h0m-26.7 6.9h0m-78.4 1.2h0m13 .6h0m61.2 2.8h0m-29.7 3.6h0m-6.3 2.4h0m-33.5 6.5h0m38.6-3.9h0m21.4 3.8h0m0-3.1h0m17.8 3.5h0m15.9 .5h0m-36.6 5h0m-44.3 3.5h0m73.1 4.3h0m24 1.4h0m-24 3.9h0m-3.3-3.7h0m-40.2 1.9h0m-24.1-1.5h0m-25.1 .9h0m-4.1 .5h0m45.1 4.7h0m49.8-.2h0m8.3 2.8h0m18.5 3.2h0m-12.9 4h0m-35.6-3.4h0m-13.4-1.9h0m-16.3 .9h0m73 8.2h0m-78.3 7.6h0m-49.1-3.4h0m24.3 6.6h0m12.5 1.2h0m71.4 1.5h0m7.6-4.1h0m1.9 4.3h0m-61.3 2.1h0m9.7 5.6h0m-30.5 5.6h0m22.7 8.1h0m36.4-1.3h0m.6-.2h0m2.5 1.2h0" stroke="#3cc050" stroke-width="0.6" stroke-linecap="round" fill="none"/><path d="M560.6 276.2h0m-26.2 11.9h0m50.7 10.9h0m-45.3 9.7h0m16.5 4.9h0m-97 8.1h0m21.5 4.6h0m104.2 1.4h0m-22.2 31.6h0m-66.4 6.1h0m36.9 8.1h0m21.3-4.1h0" stroke="#40b8e0" stroke-width="1.0" stroke-linecap="round" fill="none"/><path d="M493 276h0m52.5 6.3h0m-11.6 .4h0m-10.5-3h0m-37.3 3.9h0m-10.7 5.5h0m97.1-.8h0m8.9 8.6h0m-81.6-4.1h0m-27.9 1.2h0m-1.2 5.7h0m56.3 .2h0m6.3-.9h0m71.3 8.6h0m-49.6-.8h0m-22-.5h0m-22.4-2.6h0m-30.9 2.2h0m35.9 8.8h0m13.6-3.7h0m28.1 .4h0m-5.7 8.1h0m-18.5 .9h0m24.2 5.6h0m10.1-2.3h0m16.9-2.4h0m16.2 6.9h0m-22-.6h0m-23.9 6.2h0m7 1.8h0m-21.5 3.8h0m-10.4 1.8h0m74.7 7.5h0m-68.7 10.7h0m7.4 2.1h0m17.3-.3h0m6-.9h0m-9 3.9h0m-28.9 2.6h0m-5.8-1.3h0m-45.7 2.7h0m38.1 1.5h0m6.8 5.3h0m-14.2 2.6h0m-8.1-.9h0m5.1 6.6h0m65.8-1h0" stroke="#3cc050" stroke-width="0.8" stroke-linecap="round" fill="none"/><path d="M564.7 280.3h0m-67.7 .2h0m-6.3-.6h0m5.9 10.1h0m7.6-1.4h0m70.1 3h0m-39 4h0m-11.5-3.6h0m-35 3h0m-16.6 1.4h0m114.9 4.4h0m-66.2 4.5h0m-3.5 1.3h0m-57.8 6.1h0m39.7-2.8h0m10.7 .1h0m19.8 3.1h0m42.1 2.1h0m-70.8 2.1h0m-35 7h0m95.1 2.3h0m15.3-.3h0m14.9-4.4h0m-55.7 8.8h0m-42.5 4.8h0m38.5 2h0m18.9-1.8h0m36.4-.8h0m7-.1h0m-83.2 8.7h0m-20 3.9h0m33.6 2.6h0m1.1-4.5h0m28.3 3.3h0m11.3 .4h0m12.1-1.6h0m-24.9 7.1h0m-28.4-3.6h0m-6.8 4.5h0m-40.1 7.1h0m-.1 .4h0m20.3 7.5h0m63.4 7.1h0m-68.9-.7h0m-9-1.3h0m51.3 10.4h0m-13.8 2.8h0" stroke="#3cc050" stroke-width="1.0" stroke-linecap="round" fill="none"/><path d="M509.2 276.8h0m34.8-3h0m19.5 5.2h0m.1-4.7h0m-53.2 7.6h0m-14.7-1.1h0m-.3 3.2h0m-17.8 6.4h0m24.4-3h0m6 1.5h0m54.5 .1h0m24.9 7.2h0m-24-2.1h0m-44-1.9h0m-2.4 4.5h0m-32.5 0h0m-12.7-.5h0m89.4 4.7h0m8.8 1.4h0m6.1-3.6h0m19.5 7.5h0m-11.2-1.7h0m-3.7-1.2h0m-11.8 1.7h0m-1.3 .7h0m-6.2 2.2h0m-32.5-3.3h0m-38.7-.1h0m-25.6 6.4h0m11.5 1.1h0m4.9-2h0m79.1 4.4h0m-79.5 1.3h0m-8.6 4.1h0m-3.4 3.4h0m42 .5h0m5.7 2.8h0m19-2.4h0m66.3 1.3h0m-9.1 3.7h0m-45.3-.3h0m-11.7 .2h0m-29-1.3h0m-19.8 .4h0m-7.7 2h0m-16.4-1.9h0m11.8 6h0m5.2 2.6h0m8 .3h0m34.9 1.5h0m38.1-2.2h0m36.6 2.7h0m-53.8 2.3h0m-10.8 2h0m-70.8 1.2h0m16.2 1.4h0m2.9 2.2h0m31.4 .4h0m69.2 6.9h0m-3.8-2.4h0m-100.3-1.6h0m71.7 6.8h0m17.5-.5h0m24 3.1h0m-37.5 6.5h0m-16.7-3.8h0m-31.9 0h0m28.6 11.2h0m5.8-4.6h0m6.1 10.6h0m-40.4 4.9h0m45.2 .1h0m1.4 .6h0" stroke="#d8303a" stroke-width="1.0" stroke-linecap="round" fill="none"/><path d="M518.5 278.7h0m29.7-4.5h0m3.8 1.9h0m10.3 3.3h0m-85.2 8.6h0m13.9-1.5h0m1.4 5.8h0m55.2 9.6h0m16.1 3.7h0m-63.6 1.2h0m-2.7-2.1h0m-26.7 2.3h0m47.7 4h0m49.9 6.9h0m-17.9-.6h0m-34.6-1.3h0m46.6 9.1h0m25.1-1.2h0m-12.9 3.4h0m-76.1 2.9h0m-33.3 8.2h0m97.5 1.8h0m-50.4 1.2h0m-41.6 1.3h0m55.2 13.1h0m-27.8 7.2h0m3.3-3.2h0m7.5 1.7h0m3.6-1.4h0m12.4 2h0m-30 3.6h0m27.3 7.6h0m36.7 1.7h0m9.8-3.8h0m-56.8 5.5h0" stroke="#d058c8" stroke-width="0.6" stroke-linecap="round" fill="none"/><path d="M551.7 279h0m12.3-2.9h0m-44.7 17.6h0m56 14.3h0m-23.4 .1h0m-80.1 14.1h0m48.4 1.2h0m-.7 15h0m28.6-2.8h0m-46 31.5h0m5.8 14h0" stroke="#40b8e0" stroke-width="0.8" stroke-linecap="round" fill="none"/><path d="M566.2 275.1h0m-10.1 8.5h0m-19.1-3.6h0m-9.9 2h0m-41.7-1.8h0m-4.8 9.8h0m56.4-.8h0m46.8-1.9h0m-50.3 7.9h0m-6.7-.1h0m-17.8-.2h0m-25.8 2.6h0m.7 2.1h0m61.5 .8h0m36.1 1.9h0m8.6 .3h0m8.4-3.7h0m5.3 9.8h0m-2.6-4h0m-3.1-.3h0m-25.5 2.9h0m-11.2 .7h0m-86.8 6.3h0m63.1-1.1h0m43.7-2.7h0m-54.8 5.7h0m-32.2 .1h0m-30.4 .9h0m-8.4 8.5h0m49.4 .1h0m6.2-.1h0m.1-4.7h0m3.7 4.4h0m34.4 .7h0m17.2-1.4h0m10.6-1.7h0m7.7-2h0m8.2 2.3h0m4.1 .8h0m6.1-1.4h0m-20.6 7.8h0m-9.8-1.5h0m-66.5 .8h0m-36.7 .3h0m-6.8-.7h0m18.8 4.6h0m19.3 1h0m16.3 2.4h0m44.8-3.9h0m28.4 6.1h0m-9.4 3.4h0m-21.9 1h0m-6.4-4.8h0m-36.7 5.7h0m-43.6-4.8h0m-6.5 4.2h0m38.6 5h0m33.1 1.1h0m61.6-2.1h0m-18.6 4.1h0m-35.7 2.1h0m-3.1-3h0m-59 11.2h0m4.1-1h0m.7-1.9h0m6.9 2.8h0m55.5-4.9h0m26 7.6h0m-4.4 .3h0m-80.2-2.5h0m-8.4 4.7h0m92.1 5.8h0m-75.9 9.7h0m5.7 1.9h0m19.4-.7h0m12.8-2.4h0m-15.9 5.2h0m-8.1 .4h0" stroke="#d8d8e8" stroke-width="1.0" stroke-linecap="round" fill="none"/><path d="M504.1 274.7h0m55 2.9h0m-72.5 11.8h0m9 1.2h0m29.2 .1h0m2.6-2.4h0m22.3-2.4h0m15.4 .8h0m1.4 2.6h0m15.9-.8h0m2.4 .3h0m3.2 2h0m-46 5h0m-63.6-4.4h0m15.1 11.3h0m58.8-2.9h0m19 3.1h0m.5 5.1h0m-.1-4.2h0m-28.4 2.1h0m-83.3 5.9h0m58.1-1.8h0m6.5 2.4h0m12.9 1.4h0m18.8 2.2h0m-73.5 .1h0m-15.3 7.9h0m18.9 2.8h0m12.8-.9h0m69.6-.3h0m35 .5h0m-50.4 3.3h0m-44.7-2.3h0m-11.7 5.2h0m-33.2-4.2h0m40 7.5h0m14.7-1.7h0m3.8 1.8h0m62.5 4.1h0m-29.5 3.8h0m-63.9-2.4h0m-6.8 2.9h0m-1.4-3.9h0m-9.5-.8h0m12 6.4h0m59.4 3.3h0m6.8-4h0m41.4 2.2h0m-50.6 6.1h0m-72.6 8.3h0m19.8 .7h0m80.9-2.1h0m9 7.3h0m-4.2 .8h0m-2.6-5.1h0m-1.2 2.7h0m-67-2.1h0m59.4 10.6h0m14.8-3.9h0m-46.8 13.5h0" stroke="#d8303a" stroke-width="0.6" stroke-linecap="round" fill="none"/><path d="M531.2 274.1h0m6.9 1.9h0m-37.1 4.2h0m28.6 11.2h0m-7 .4h0m-7.4 10.1h0m14.2 7h0m77.1 11.1h0m-38.3-1.7h0m-44.7 2.4h0m-65.7 6.3h0m9.2-3h0m57.3 2.5h0m47-.9h0m-68.7 3.4h0m-1.5 6.5h0m57.7-.6h0m17.5 2.9h0m-66.8 1.6h0m-46.7 5.8h0m47.1 5.5h0m16.4 .3h0m8.9-5.2h0m-64.8 7.9h0m-7.3-2.5h0m53.5 6.3h0m53 2.9h0m-93.3 5.4h0m79.1 5.8h0m6.7-1.3h0" stroke="#4048f0" stroke-width="0.8" stroke-linecap="round" fill="none"/><path d="M548.5 270.7h0m-26.2 4.7h0m19.1-2.2h0m3 .4h0m20.4 4.6h0m-39.1 3.7h0m-36.6-1h0m7.1 8.1h0m23.4 .6h0m15.8 .2h0m37.8-.8h0m1.5 1.3h0m9.9 2.2h0m-54.4 .5h0m-15.6 1h0m-28.5-1h0m-17.9 6.2h0m15.5-1.4h0m39.7 2h0m26.1 2.6h0m6.2-2.8h0m11.4 .4h0m22.3-.1h0m10.7 6.4h0m-23.3 1.4h0m-67.6-.9h0m-8 1.4h0m-10 3.7h0m34.5 1.6h0m12.6-.1h0m63.6 .7h0m-23.6 6.1h0m-22-4h0m-74.5 3.5h0m-4.5 5.3h0m1.6-.1h0m8.1-1.4h0m114.8-2h0m4.1 8.2h0m-.9 2.9h0m-14.8-2.9h0m-19.4 1.9h0m-3.4-4.4h0m-21.4 .4h0m-8.5 3h0m-.5 2.1h0m-3.2-5h0m-31.2 2.6h0m-37.4 .3h0m38.1 2.5h0m26.3 5.3h0m36.3 .5h0m29.7-2.5h0m-137.4 4.2h0m36.2 5.8h0m34.7 5.2h0m-2.8 2.4h0m-1.6-.4h0m-22.9-1h0m-32.6 9.6h0m35.3-2.4h0m41.3-1.7h0m15.2 3.9h0m20.7-.1h0m-39.1 1.2h0m-66.7 6h0m27 5.5h0m22.6-3.3h0m18.1 8.6h0m-35.8-1.2h0m-16.6 1.5h0" stroke="#d8d8e8" stroke-width="0.6" stroke-linecap="round" fill="none"/><path d="M539.5 269.1h0m-17.3 7.3h0m34.9 26h0m44.5 1h0m-85.3 5.6h0m-44 9.2h0m57.5 13.1h0m-9 1.3h0m-55.2-5.1h0m23.8 7.1h0m111.7 2.2h0m-46.5 7.9h0m-68.1-4.7h0m42.2 6.4h0m66.4 .1h0m-101.5 8h0m19.4 7.6h0m-34.1 11.8h0m66.2 1.6h0m-42.4 5.1h0m-16.4-4h0" stroke="#d058c8" stroke-width="1.0" stroke-linecap="round" fill="none"/><path d="M503.2 278.5h0m48.6-3.7h0m-26.9 6.7h0m17.9 9h0m-35.6 3.4h0m-5 4.8h0m39.8 4h0m13.7-5.7h0m22.6 4.2h0m11.6 1.8h0m1.5-4.3h0m-113 8.9h0m35.1 2h0m21.9-.2h0m-70.7 9.4h0m129.8 11.3h0m-57.2 2.4h0m-33.8-.1h0m28.9 1.4h0m15.4 1.4h0m-50.6 9.9h0m28.9-.1h0m79.5 1.9h0m-141.6 10.1h0m3.9 2.6h0m77.9-.6h0m26.6 8h0m-94.4 3.5h0m59.4 1.2h0m36 8.5h0m-4.4-1.2h0m-8.5-3.9h0m-40.6 .6h0m5.3 8.5h0" stroke="#d058c8" stroke-width="0.8" stroke-linecap="round" fill="none"/><path d="M518.5 298.3h0m46.2 4.7h0m9.7 5.1h0m26.2 22h0m-49.2-2.2h0m-66.8 15.6h0m11.3 5.2h0m79.9 26.4h0" stroke="#40b8e0" stroke-width="0.6" stroke-linecap="round" fill="none"/></g>
<g filter="url(#bl4)" opacity="0.9"><path d="M534.7 294.5h0m-.5 1h0m-1.8-.7h0m-1.7-.2h0m-.6-.6h0m-.5-1.3h0m-1.3 3.5h0m-58.8 4.9h0m.5 1.5h0m.2-.9h0m.5 1.2h0m1.8-3h0m.5 2.5h0m18.4 .3h0m1.9-.3h0m.6-.1h0m1.5-2.9h0m.7 1.6h0m38.8-3h0m-16.5 10.1h0m-1.1-.2h0m-.2-.4h0m0 .2h0m-1.8 1.2h0m0-.8h0m-.4-3.7h0m-20.9-1h0m-2.5 .7h0m-20.7-1h0m-.7 .6h0m-2 1.9h0m48.2 5.8h0m1.7-1h0m1.6 0h0m.5-.7h0m-11.7 17h0m2.6-3.3h0m-1.2 5.4h0m-2.5 2.6h0m-.9-2.5h0m51.7 24.9h0m-31 .1h0m-.3 1.8h0m-.4-.7h0m-.4-.4h0m-6.5 0h0m4.3 3.1h0m32.8 5.1h0m4.9-3.9h0m.4 2.6h0m-5.3 4.7h0m-51.8 14.7h0m1.5 .2h0m.4 1.7h0" stroke="#4048f0" stroke-width="1.7" stroke-linecap="round" fill="none"/><path d="M470 301.5h0m.3 1.1h0m.4 0h0m1.8-3.6h0m.1 2.5h0m47.4 6h0m-.2 .9h0m-.2-.4h0m-.6-3.1h0m-1.1 3.6h0m-1-.8h0m0 0h0m-.1 0h0m-.4-1.2h0m-.2 .2h0m-.2 1.6h0m-.3-.6h0m-1.8-2.5h0m-39.2 2.2h0m-2.6-4h0m-1.4 .9h0m44.3 5.1h0m.9 .2h0m1.1 .5h0m1 1.9h0m0-2.5h0m.1 .2h0m1.2-.7h0" stroke="#2a6af0" stroke-width="1.4" stroke-linecap="round" fill="none"/><path d="M523.6 289.1h0m1.9 1.7h0m5.8 3.8h0m-.9-.4h0m-.3 .1h0m-.3-1.4h0m-.2 2.1h0m-59 8h0m.9-1.1h0m.1 .3h0m17.9-3.5h0m4.4 3.8h0m28.5-4.9h0m-4.6 6.1h0m-.9 4.2h0m-.1 .1h0m-.4-.3h0m-.3 .3h0m-1.3-1h0m-17.3-2.9h0m-5.2 .6h0m-21.3-1h0m-.3-.5h0m-.5 1.4h0m-.5 1.9h0m-1.2-3.1h0m44.5 6.2h0m-7.5 13.5h0m5.2 4.1h0m-5.7 .1h0m-2.3 1.6h0m26.3 24.1h0m-1.4 1.9h0m-1.4-2.2h0m25.7 7.6h0m1.7-2h0m2.9 3.4h0m1.2 .3h0m0 .1h0m.2-1.3h0m.1 .9h0m1.2 .6h0m.1 .1h0m2.7 2.9h0m-.3-1.8h0m-.9 3.2h0m-56.2 14h0m-2.2-2.2h0m-.6 3.1h0m3.5 .3h0m1.3 1.2h0" stroke="#4048f0" stroke-width="1.1" stroke-linecap="round" fill="none"/><path d="M465.2 302.9h0m5.7-3.4h0m1.6 1.7h0m3 1.6h0m1.1-2.7h0m43.9 7.9h0m-.8-.4h0m-1.3 1.2h0m-.5-1.1h0m-.1-4.1h0m-.7 4.6h0m0-1.8h0m-.1 2.5h0m-.1-1.3h0m-.4-3.8h0m-.4 2.3h0m0 1.6h0m-45.4-4h0m-.6 .9h0m44.8 4.8h0m1.5 1.8h0m1.5 1.5h0m1-.6h0m.6-2h0" stroke="#2a6af0" stroke-width="1.1" stroke-linecap="round" fill="none"/><path d="M470.6 302.7h0m.1 .3h0m0-2.3h0m.3 .1h0m.8 .4h0m.3 1.4h0m.6 .1h0m47.1 1.7h0m-.8 3.5h0m-.9-.8h0m-.6-.6h0m0 .1h0m-.1 2.2h0m0-.5h0m0-.6h0m-.1-.1h0m0 .5h0m-.1-1.1h0m-.2 .7h0m0-.2h0m-.1 1.1h0m-.2-.5h0m0-1.1h0m-.1 1.8h0m-.2-2.9h0m-.7-.3h0m-.1 1.9h0m-.1 .6h0m-.3-2.9h0m-.2 2.6h0m-2.6-3.9h0m-40.9 2h0m-.6-1.6h0m-2.5 .1h0m46.8 4.8h0m.4-.2h0m.8 1.2h0m.2-.9h0m.8 1.2h0m.9-.8h0" stroke="#2a6af0" stroke-width="1.7" stroke-linecap="round" fill="none"/><path d="M470.1 302.5h0m1.3-.1h0m.8-2.2h0m17.6 2.6h0m2.6-.7h0m.5-.9h0m.2-3.4h0m1.1 3h0m0 1.2h0m1.1-4.4h0m22.8 10.5h0m-3.2 .4h0m-16.5-2.3h0m-.8-1.8h0m-4.3 2h0m-1.1-1h0m-1.7 1.1h0m-16.6-2.1h0m-.3 .2h0m-2.2-1.3h0m44.8 9.1h0m13.9 39.9h0m-.4 2.3h0m-1.5 .6h0m-.5 1h0m-.1-.8h0m-1-.1h0m27.9 7.2h0m2.1-1.7h0m.2 1.2h0m2.4-1.2h0m.1-.3h0m.3-.4h0m1.9 1.6h0m-6.3 4h0m-1.9-1.4h0" stroke="#40b8e0" stroke-width="1.7" stroke-linecap="round" fill="none"/><path d="M534.1 287.9h0m-3.4 6.6h0m-.1-1h0m-2.6 2.2h0m-55.6 .8h0m-3.3 4.7h0m.2 1.6h0m1.1 .2h0m.3-.4h0m.2-.6h0m1.2 .4h0m.1-.4h0m.8 .6h0m19.9 0h0m1.9-2.7h0m23.3 4.4h0m-.2 3h0m-.9 .4h0m0 0h0m-.1-4.1h0m0 4.1h0m-.1-.2h0m-.8-.6h0m-3.1-1.9h0m-16.1-1.8h0m-2.4 1.4h0m-.7-1.1h0m-.1 2.3h0m-1.5-.5h0m-2.9 .1h0m-16.9-2.1h0m-.6 2.2h0m0-.4h0m-.5-1.9h0m-.5 0h0m0 0h0m-3.4 4.4h0m-2.4-3.6h0m49.7 5.4h0m.5-.2h0m4.2 2h0m-13.5 13.1h0m2.9-.6h0m2.4 6.5h0m0-2.8h0m-.6 2.8h0m-.6-1.7h0m-.8-.5h0m-5.3 3.5h0m23.2 23.6h0m0 .1h0m5 2.3h0m23.4 2.7h0m2.6 .8h0m.8-2.1h0m1 1h0m-53.6 18.7h0m-3 .3h0m1.1 2.5h0m.9-.1h0m.2 .7h0" stroke="#4048f0" stroke-width="1.4" stroke-linecap="round" fill="none"/><path d="M489.9 299.2h0m1.1-.1h0m.3 1.4h0m.7 1.7h0m.1-.2h0m.6 .7h0m0 .1h0m.2 0h0m.1-.8h0m.1 .8h0m23.6 4.2h0m-.3-2.5h0m-20.9 .7h0m-.4 1.3h0m-1-3.1h0m-3.5 .3h0m-.3 1.8h0m-.7 3h0m-16.8-1.6h0m-3.2-3h0m-.8 .6h0m45.8 5.8h0m15.5 43.3h0m-.9 .8h0m-.5-1.7h0m-1.4 .4h0m-1.1 2.5h0m-.2 .4h0m0 .2h0m-.1-1.4h0m-.3 1h0m-.3 1.1h0m-.4-4.9h0m-.3 3h0m3 3.8h0m23.6 .5h0m5.8 3.7h0m.4-1h0m6.6 1h0" stroke="#40b8e0" stroke-width="1.1" stroke-linecap="round" fill="none"/><path d="M468.8 302.3h0m2.8 .5h0m.4-.1h0m3.4-.1h0m16.9-1.8h0m.5 1.2h0m2.6-4.6h0m-1.8 10.6h0m-2.5-4.2h0m24.1 6.8h0m14.6 45.4h0m-1.7-2.3h0m-1.4-1.8h0m-1.5 3.9h0m-1.2 .1h0m-.9-3.1h0m27.6 6.3h0m4.5 2.6h0m.7-.7h0m.9 1.9h0m.3-1.9h0m.2 2h0m1-.6h0m4.9-1.4h0m-5.5 6.5h0m-.8-2.2h0m-1.4-.9h0m-.7 3.3h0m-1.8-2.7h0" stroke="#40b8e0" stroke-width="1.4" stroke-linecap="round" fill="none"/><path d="M568.9 290h0m4.5 .8h0m.5-.4h0m.6-.2h0m3.5 4.1h0m-2.4 .7h0m-2.2-.8h0m-1.1-3.1h0m-.1 1.5h0m-.3 .3h0m0 .7h0m-.1-.5h0m-1.9 3h0m-.6-2.1h0m-.4-2h0m-3.7 1.8h0m-30-2.5h0m-.7 1.2h0m-2.3 1.1h0m-.8 .2h0m-.9 .8h0m-.2-.3h0m-.1 .1h0m-.3 .1h0m-.3 .2h0m-.4 .9h0m-1.3-1.9h0m-.7 3.2h0m-.1-3.9h0m.1 5.1h0m2.3-.1h0m3.7 .3h0m3.6 1.1h0m42.6-1.7h0m6.9 7.9h0m-1.7-.4h0m-79.4 22.2h0m38.9 10.1h0m8.5 3.3h0m-.3-1.4h0m-.4 2.1h0m-1.1-1.7h0m-.8 2.7h0m6.7 18.2h0m.9 1.7h0m.1-.9h0m3.1-2.3h0m-4.2 4.6h0m-4.8 .6h0m-1.7 .6h0" stroke="#d8d8e8" stroke-width="1.7" stroke-linecap="round" fill="none"/><path d="M563 289h0m3.7 1.6h0m7.5-.6h0m4.5 6.3h0m-.5-4.9h0m-5 1.6h0m-.7 .8h0m-.6-1.7h0m0 1.1h0m-.8-.5h0m-2.4 3.8h0m-5.1-.4h0m-30.1-.6h0m-1.6-1.1h0m-.2-.4h0m-.1-.7h0m-.1-.2h0m-.6 1.2h0m0 1.4h0m-2.2 .2h0m-.6-3.5h0m.8 8.2h0m.8-2.3h0m3.4-.4h0m40-.6h0m-42 15.3h0m.3 .8h0m.1-.9h0m.1-.5h0m.5-2.2h0m62.4 10.1h0m-17.9 .2h0m-4.5 0h0m-1.2-2h0m-1.2 2.1h0m-.3-2.9h0m-.4-.7h0m-2.1 4.1h0m-.1-2.1h0m-56.6 1.9h0m-3.1 4h0m1.6 2.3h0m.6-.8h0m1.5-3.1h0m.3 2.5h0m53.6-2.9h0m1.8-.8h0m.3-.6h0m4.1 1.2h0m.7-.4h0m.2-.9h0m.7 2h0m20.6 1.4h0m2.6-1.5h0m.2-1.1h0m2.2 .5h0m-82.2 6.5h0m-1.4 3.2h0m-4.6-4.6h0m-.5 1.6h0m-.1 2.4h0m-.1-2h0m-.3-1h0m-.2 0h0m-.2-.1h0m-.4 3.7h0m-.1-4.4h0m-2.6 5h0m-2.6-2.5h0m7.1 3.5h0m34.7 .8h0m3.8 3.7h0m2-.9h0m.5 1.4h0m.1 .3h0m.2-5.1h0m1.6 2.9h0m.8-2.1h0m.1 3.2h0m39.4-1.8h0m.2 1.2h0m.3-.6h0m.1-2.7h0m.7 1.9h0m.1 1.8h0m1-2.8h0m.3 1.8h0m.1 0h0m0 .2h0m.3 .2h0m1-1.4h0m.7 2.7h0m.7-3.3h0m.5-.6h0m.1 1.8h0m-1 5.6h0m-1.9-.3h0m-37.7-2.4h0m-4.1 .7h0m-1.2-.1h0m-.2 1.3h0m-.6-1.3h0m-1.1 3.5h0m-.3 1.3h0m-.5-5h0m-1.1 .8h0m-.9-1h0m-.5 .8h0m-.2 .8h0m-1.2 1.7h0m-1.3-1.5h0" stroke="#d8303a" stroke-width="1.4" stroke-linecap="round" fill="none"/><path d="M532.2 287.8h0m36.3 1.5h0m12.7 5.2h0m-3.5-.7h0m-2 2.1h0m-2.2-4.3h0m-.2 .3h0m-.4 1.3h0m-.7-1h0m-1-.5h0m-1 2.4h0m-.8-.1h0m-.7-2h0m-.7 .7h0m-.6 1h0m-33.8 1.1h0m-2.8 1h0m-.3-.4h0m-.2-1.1h0m0-2.8h0m-.1 2.8h0m-1.1 .6h0m-.5 .3h0m-.2-2.6h0m-1.3 3.1h0m8.3 1.5h0m52 5.1h0m-2.5 2.8h0m-.7-1.2h0m-79.2 21.8h0m2.1 .9h0m5.8 6h0m-3.2-4.7h0m-5.5 4h0m-3.8-.5h0m7.1 2.8h0m6.4 .6h0m36.3 4.2h0m1.7-1.5h0m-1.5 2.2h0m-.3 0h0m8.3 16.1h0m-.5 1.1h0m-2.6 5.6h0m.3-1.4h0m.8 1.5h0m.2 .3h0m.1-4.9h0m.7 3.9h0m.1 .1h0m0 .2h0m.1-.8h0m0 1h0m.4-.3h0m.4-.2h0m.9-1h0m0-.2h0m3.6 1.5h0m1.1 4.5h0m-5.8-3.3h0m-.3 1.1h0m-1.5-.5h0m-1-.5h0m-.2 2h0m-.2-1.5h0" stroke="#d8d8e8" stroke-width="1.1" stroke-linecap="round" fill="none"/><path d="M567.7 290.5h0m2.9 0h0m.4 .2h0m.3-5.2h0m7.2 3.4h0m4.5 7.8h0m-4.3-2.2h0m-5.2-2.4h0m-.5 1.1h0m-.9-1.2h0m-.4 .7h0m-.1 .3h0m-.6-.2h0m-.2-.6h0m-.2 .9h0m-.1 1.1h0m-.1-1.7h0m-.2-.6h0m-.3 2.9h0m-.4-3.4h0m-.3 1.3h0m-.1 1.4h0m-.3-.1h0m-.2-.8h0m-1.4-1.4h0m-.8 1.4h0m-32.9-.4h0m-2.1 1.5h0m-.2 .5h0m-.1 .7h0m-.3-.5h0m-.1-1h0m-.1 .3h0m0 .1h0m-.3 .5h0m-.7-3.6h0m0 3.9h0m-2.3-4.1h0m-.7 2.9h0m-2.7 1.1h0m-.7 .5h0m10.9 3.6h0m33.8 .1h0m.8-.2h0m16.6 3.6h0m3.9 3.9h0m-1-.8h0m-1.4-2.5h0m-.7 2.8h0m-.1-1.2h0m0-1h0m-.2 1.7h0m-.4-.1h0m-.5-.1h0m-.1-1.1h0m-.1 4.6h0m-.3-4.1h0m-.8 .5h0m-.1 .9h0m-.2-.2h0m-1.9-.3h0m-.4 .5h0m-9.6 12.5h0m-.2 1.4h0m-.7-2.5h0m-.7 1.6h0m-.4 .4h0m-.4 .4h0m-4.4 .4h0m-52.8-.2h0m-3 5.1h0m1.5 .9h0m57.1-3.6h0m4.3-.5h0m18.5 2.2h0m5.7-1.7h0m.3 1.8h0m.4-2h0m.3 .1h0m0 .6h0m.6-1h0m.2 .6h0m-83.6 6.9h0m-3.3 1h0m0 1.5h0m-1.4-4h0m-.9-.6h0m-.2 .2h0m-.2 .5h0m-.8-.4h0m-3.2 3.1h0m-.4-3.6h0m-.7 5.3h0m46.5 5.2h0m2.5 4.3h0m-1-2.9h0m-3.8 .3h0m6.1 20.4h0m4.2 2.1h0m.3-1h0m.2-1.3h0m5.3 3.7h0" stroke="#d058c8" stroke-width="1.4" stroke-linecap="round" fill="none"/><path d="M534.5 291h0m32.4-.2h0m11.2-.6h0m.3 4.9h0m-5.8-1.5h0m-.2-1.4h0m-1.2 .8h0m-.6 .8h0m-1.4-1.4h0m-1.8-.6h0m-31.2 3.9h0m-3.6-.6h0m-1-1.1h0m-.4-1.4h0m-.1 2.7h0m-.2-.6h0m-2.4-.2h0m-.2-1.4h0m-1.4-.8h0m.4 4.8h0m.9 5.9h0m2.4 8.4h0m.3 1.9h0m.6-.8h0m.2-.4h0m.3 0h0m.7-.8h0m0 2.5h0m36.8 .3h0m25.9 4.1h0m-19.4 1h0m-3.5-1h0m-.4 2.3h0m-.1-1.7h0m-1.1 .9h0m-.1 .5h0m-.3-.5h0m-.3 .3h0m-.2-2.2h0m-1 2.8h0m-.2-4.1h0m-.1 4.1h0m-.7-3.7h0m-3.2 2.1h0m-51 4.8h0m57.4-1.7h0m24.2 2h0m.7-1.7h0m-82.2 8h0m-1.3-1.1h0m-2.9-1.9h0m-1 .7h0m-.2 .2h0m-.4 .2h0m-.3 3.8h0m-.2-1.7h0m0 1.1h0m-.5-.1h0m-1.5-3.6h0m-3.7 2.4h0m-1.7 3.5h0m5.2 2h0m2.6-2.3h0m3.5 1.2h0m31.1 2.4h0m.7-1.3h0m5.6 2.2h0m.9-.1h0m2.3 1h0m.3-.5h0m.3-1.1h0m1.5-.2h0m.9-1h0m39.8 .3h0m.2-3h0m.5 4.3h0m0-1.7h0m.4 .8h0m0-.2h0m.1-2.1h0m.1 .9h0m0-.1h0m.2 1.1h0m.1-.4h0m.3 .4h0m.9-2h0m.6 2.4h0m-1.4 4.6h0m-1-1.8h0m-.2 .1h0m-.1-.7h0m-42.2 1.2h0m-.9-1.2h0m-.4 1.2h0m-.1 .1h0m-1.8-1.2h0m-.4 .5h0m-.5 1.9h0m-.4 .8h0m-1.1-3.1h0" stroke="#d8303a" stroke-width="1.7" stroke-linecap="round" fill="none"/><path d="M526 290.2h0m1.8 .7h0m4.7-.6h0m.9 .5h0m34.4-1.9h0m2.3 0h0m3.6 .7h0m1.7 2.9h0m-.2-.8h0m-1.5 2.1h0m0-1.4h0m-.5 .2h0m-.8 1.1h0m-.3 .7h0m0-1.3h0m-.3-.4h0m-.4 .5h0m0 .3h0m-.6 .1h0m-.8-2.2h0m-.3 .5h0m-1.4 2.6h0m-34-1.3h0m-3.4 .9h0m0 1.6h0m-.4-1.3h0m-.2-1.3h0m-.1 1.7h0m-.5-1.4h0m-1.1 .1h0m-.4 .1h0m-2.8 8.6h0m7.1 .4h0m.3-2.5h0m30.5-2h0m2.8-1.1h0m10.8 .7h0m3 4.7h0m3.6-.4h0m1.4-1.2h0m1.2 .8h0m.4 .5h0m3 .1h0m1.8 4.1h0m-2.2-.6h0m-1.8 1.1h0m-1.3-.4h0m-.3-2.7h0m-.1 .9h0m-.1 .4h0m-.6 .4h0m-.1 .1h0m-.5 .8h0m-.3-1.6h0m-.1 1.1h0m-1.1-.8h0m-1-.5h0m-1.8 1.6h0m-.1 2.2h0m11.7 12.3h0m-16.4-1.7h0m-.5 0h0m-4.4 .8h0m-.5-1.5h0m-.2 1.4h0m-2.1 .3h0m-57.3 5.7h0m59.5-4.5h0m23.4 .2h0m2.4 3.4h0m0-2.4h0m.5-.6h0m.7 1.3h0m0 0h0m1.2-1.4h0m.8-.2h0m.3 2.2h0m-84.1 4.7h0m-2.7 .3h0m-.7-.2h0m-1.2-.3h0m-.1 2.3h0m-.3-2.5h0m-1.2 .8h0m-.8 2.4h0m-2.9 .6h0m45.6 5.7h0m1 1.1h0m.2-1.9h0m.4 3.7h0m-2.4-.6h0m-.5 .6h0m-.4 2.9h0m10.3 10.6h0m-4.5 9.2h0m5.1-.6h0m.6 .6h0" stroke="#d058c8" stroke-width="1.1" stroke-linecap="round" fill="none"/><path d="M524.4 290.3h0m.3-1.2h0m3.9-2.2h0m3.1-.9h0m.8 5h0m35.7-.7h0m2.5 .5h0m4.5-3.3h0m.3 1.1h0m1.6 1.2h0m-1.2 1.9h0m-.9 4.4h0m-.3-4.3h0m-.3 1.4h0m-.2 2.8h0m-.3-2.2h0m-.9 .2h0m-1.6-2h0m0 1.1h0m-.2-.3h0m-.2 .8h0m0-1h0m-1.2 3.5h0m-2.4-.5h0m-.8-3.6h0m-30.9-.6h0m-1.3 3.1h0m-2.3-.7h0m-1.3-.3h0m-.3 .4h0m-.1 .6h0m-.1-2.4h0m-.2 1.6h0m-.4 .3h0m0 1.4h0m-.2-1.4h0m-.3-2.6h0m-.1 5.2h0m-3.2-2.4h0m-1.8 1.6h0m5.4 1.5h0m.4 1.3h0m4.6 1.5h0m1.2-1.6h0m36.1-.9h0m13.6 5h0m1.5-.4h0m3 2.4h0m-2.9 2.2h0m-.8 .6h0m-.4-2.2h0m-.1 .8h0m-.3-2.2h0m-.1 4.9h0m-.2-4.8h0m-.3 1.6h0m0-.2h0m0-.6h0m-.1 .8h0m-.1-.3h0m-.2-.4h0m-1.8 1.6h0m-.2 .8h0m-.9-1.1h0m-12.1 8.7h0m13.6-4.7h0m.7-1.1h0m16.5 11.8h0m-.3-1h0m-4.4 0h0m-4.5 .6h0m-15-2.6h0m-1 2.2h0m-1.8 .2h0m-.4-1.1h0m-1.9 .3h0m-66.6 7.4h0m.8 .2h0m.4 0h0m2.3-4.8h0m.5 4.4h0m.7-1.9h0m.2-.2h0m.5 1.4h0m83.2 .3h0m.7-2.2h0m1.4-1.4h0m.4-.8h0m.3 .3h0m.1 .3h0m0 0h0m.1 0h0m.1 1.2h0m.2-2.5h0m0 1.1h0m.2 4.1h0m.8-4.6h0m.3 .4h0m.6 1.9h0m-86.2 4.7h0m-.1-.6h0m-.5-.4h0m-1.5 .4h0m-.7 1h0m-.3-1.4h0m-.3 .6h0m0 .4h0m-.2-.3h0m-1 1.9h0m-1-.7h0m-.8-.3h0m-.7-1.4h0m43.4 8.9h0m3.5 1.8h0m-.2 .8h0m-.4-.2h0m-.2 0h0m-.1 0h0m7.4 16h0m-5.3 4.1h0m1.8 2.1h0m2.8 .8h0m2-1.6h0m1.7 4.6h0m-.5 2h0m-3.6 .3h0" stroke="#d058c8" stroke-width="1.7" stroke-linecap="round" fill="none"/><path d="M570.7 284.7h0m-37.9 5.7h0m32.1-2.3h0m9.6 .2h0m4.2 3.2h0m-3.3 .4h0m-.6 1.9h0m-1.5-1.3h0m-.2 1.9h0m-1.1-.2h0m-.5-.7h0m-.3 .3h0m-.2 0h0m-.8 .3h0m-.1-2.5h0m-.5 .5h0m-2.2-1h0m-.9 4.6h0m-1.6-1.9h0m-32.1 1.5h0m-.3-2.9h0m-2.3 1.8h0m-.6 0h0m40.6 4.5h0m16 6.9h0m-.1-.3h0m-.2 .3h0m-.9-.2h0m-.4 .1h0m-4.5-.4h0m-74 17.8h0m4.8 1.3h0m2.7 3.1h0m-2.8 .8h0m-2 .3h0m-4.1 1.8h0m-.6 5h0m2.9-1.9h0m3.6 2.7h0m39.4 2.9h0m1 0h0m2-.1h0m2.1 20.8h0m1.4 .5h0m1 1.5h0m.2 .6h0m0-.3h0m1.4-2.3h0m-.4 7.3h0m-.7-1.9h0m-.1-1.8h0m-4.2 5h0" stroke="#d8d8e8" stroke-width="1.4" stroke-linecap="round" fill="none"/><path d="M569.7 291h0m6.2-2.1h0m-1 7.9h0m-1.9-2.8h0m-.4 0h0m-.2 .9h0m-.3-2.6h0m-.8 1.5h0m-.1-1.6h0m-.9 1h0m-.2 .4h0m-.3-.7h0m-1.6 2.6h0m-.1-1.6h0m-36.7 1.5h0m-1.1-.8h0m-1.3-.4h0m-.2 .6h0m-3.5 3.2h0m1 1.9h0m49.4 .1h0m2.7-1.8h0m-47.1 14.1h0m.1 .2h0m64.4 7h0m-.8 .7h0m-1.3 .1h0m-18.1-1h0m-1.7 1.2h0m-1-1.6h0m-1.9 1.1h0m-.2 .9h0m-.4-1.2h0m0-2.3h0m0 2.4h0m-.2 .3h0m-.3-.3h0m-1-2.3h0m-.8 2.5h0m-1.9 .1h0m-2 .6h0m-55.3 3.6h0m55.3-2.3h0m3.1 .2h0m.4 2.2h0m2.9-2h0m2.8 .1h0m20 1.7h0m2.6-2h0m-85.6 7.6h0m-.2-.2h0m-.4-1.1h0m-.4 .1h0m-.1 2.5h0m0-2h0m-.2-1.8h0m-.4 1h0m-1-.2h0m-4.1-.1h0m-.2 2.2h0m42.5 6h0m1.8 1.1h0m2.1 .4h0m.2-1.3h0m.7 2.6h0m.1-1.8h0m1.9 .1h0m.7-.9h0m1.2 .9h0m1.4-.2h0m36.9-1.4h0m2-.5h0m.1 3.8h0m.1-5.2h0m0 2.4h0m.1-1.2h0m.3 2.5h0m.1 .3h0m.1-.4h0m0-.6h0m.2-3.8h0m.4 4h0m2.2 .7h0m-4.1 1.5h0m-36 2.8h0m-1.1 1.3h0m-1.5 .3h0m-2.7-3.5h0m-.3-.4h0m-.4-.1h0m0 .2h0m-.3 1.4h0m-.4-1.5h0m-.1 2.7h0m-.4-2.7h0m0-.4h0m-.4-.1h0m-.7 3.1h0m-1.7-2.9h0m-.1 1.1h0" stroke="#d8303a" stroke-width="1.1" stroke-linecap="round" fill="none"/><path d="M490.6 302.8h0m1.9-.3h0m.2 .1h0m0 .2h0m.5-1.7h0m1.1 1.8h0m.2 1.7h0m-1 2.2h0m-.6-3.7h0m-2.3 .3h0m83.4 26.8h0m-.2 6.1h0m1.1-3.3h0m.6 1.4h0m.1 .7h0m.6 1.7h0m0-.3h0m.2 .3h0m1.3-3.2h0m.1 2.6h0m.2-.6h0m.1-.8h0m.4 4.2h0m.3-5.6h0m.3 2.3h0m.1-1.8h0m1.6-.8h0m-4.3 6.8h0m-2.9 4.6h0m-.9-2h0m-76.1 8.1h0m.7 .3h0m1.1-2.3h0m1.8-2.8h0m1 2.7h0m.5 2.4h0m.6-.3h0m1.5-2.7h0m1 1.9h0m4-4.3h0m19.3 9.7h0m-1.1 .2h0m-.1-1.6h0m-.2 1.2h0m-.2-.2h0m-.2 .3h0m-.4-2.7h0m0 3.5h0m-1.7-1.5h0m-20.5 1.3h0m-.3-1h0m-.1-2h0m-.3 2.9h0m-.6-1h0m-.3-2.4h0m-.9-.7h0m0 1h0m-.2-.7h0m-.2 2.3h0m-.7-1.7h0m-2.2-.2h0m-.3 .6h0m56 9.9h0m3.8-.9h0m.3 .3h0m2.6 .2h0m0-.6h0m.3-4.1h0m1.3 4.3h0m1.3-1.8h0m-4.8 3.5h0m-2.1 1h0m-33.9 3.7h0m-3.3-4.3h0m-.8 3h0m-.4-3.3h0m-.4 3.3h0m-.4-1.7h0m-.6 1.5h0m-1.1 2.1h0m1 .1h0m-8.9 10.5h0m-2.7 1h0m-1.1-1.4h0m.2 5.3h0" stroke="#3cc050" stroke-width="1.1" stroke-linecap="round" fill="none"/><path d="M489.8 302.6h0m1.4-1h0m.8-1.2h0m.1 2.6h0m.4-.4h0m.2 .3h0m.5-2.2h0m5.3 1.3h0m-8.2 2.6h0m90.4 28.3h0m-.3-.1h0m-5.9 4.2h0m2.4 .5h0m.1-2.9h0m.9 2h0m3.3-3.5h0m1 5.2h0m1 0h0m-9.1 3.1h0m-.5 1.5h0m-1.3-3.5h0m-77.4 8.8h0m.2 .2h0m4.4 .8h0m.3 .3h0m.4 .1h0m0 .5h0m.5 0h0m.1-1.4h0m.4 1h0m.7 .6h0m2.5-1.5h0m4.4-.7h0m19.7 2.9h0m-.7 4.2h0m-.2 .5h0m-.4-1h0m-.6-.7h0m-.4 1.1h0m-1.4-.2h0m-1.4 1.9h0m-1.8 .1h0m-13.8-1.9h0m-1.5-3.9h0m-.7 4.5h0m-1.6-4h0m-.2-.3h0m-.6 2.7h0m-.3 .2h0m-.4-3.1h0m-.4 .7h0m-.1 1.9h0m-.2-2.2h0m-.2 .3h0m-1.1 2.3h0m-.9-2.8h0m-.7 2.4h0m-.2 .8h0m-1.4-3.3h0m26.5 6.2h0m2.1 .6h0m.4 0h0m30.3-.9h0m.5 4.7h0m.7 .2h0m1.6-4.7h0m.7 4.9h0m.4-1.8h0m3.2 8h0m-6.4-4h0m-2.8 1.7h0m-33.2 .1h0m-1.1-2.2h0m-.6 2.1h0m-.4 1.4h0m-.2 .2h0m-.5-2h0m-.3 2.2h0m0-1.3h0m-.1 .5h0m-.2 0h0m-.7 1.2h0m-.3-1h0m-.2 1.4h0m-.3-1h0m-.6-1.7h0m-.6 1.7h0m-2.1-2h0m3.7 4.6h0m1.4-1.2h0m1.1-.1h0m-14.2 11.8h0m-.4-.9h0m-.2 1.3h0" stroke="#3cc050" stroke-width="1.4" stroke-linecap="round" fill="none"/><path d="M489.4 300.5h0m3 1.7h0m.3 .5h0m.4-.4h0m2.1-.8h0m0-1.7h0m.2 2.4h0m1.9-2h0m-3.8 4.1h0m-1.7-.4h0m84.1 26.8h0m-5.8 4.8h0m2.6 2.1h0m1.3-.5h0m.6-2.8h0m.5 3.1h0m.3-3.1h0m.5 3.9h0m.7-2.7h0m2.1-2.5h0m1.3 4.4h0m.7 1.1h0m-3.3 5.2h0m-1.9-1.7h0m-2.5-1.2h0m-.1-.1h0m-75.9 9.4h0m.9 .5h0m2.4-2.6h0m.9 2.9h0m2.5-5.5h0m.3 .9h0m0 .8h0m23.5 3.4h0m31.2 3.8h0m-30.3 .4h0m-1.7 .3h0m-.3-.2h0m-.7 1.6h0m-.1 .4h0m-.2-3.2h0m-1 1.1h0m-.2 1.1h0m-1.1-2.3h0m-2.8 2h0m-14.7-2.1h0m-2.3-2.3h0m-.6 1.6h0m-.2 1.5h0m-.1-3.1h0m-.5 .2h0m-.4 .2h0m-.1 2.9h0m0-.7h0m-.1-2.5h0m0-.1h0m-.3 3.8h0m-.5-.8h0m-1.7 .5h0m-.8 1.8h0m-1.9-4.5h0m28.8 7h0m2.5-1.7h0m1.4 .2h0m28.4 3.1h0m.7 2.3h0m4.2 .8h0m-9.2 .8h0m-34.2 3.6h0m-.4-.7h0m0-1.3h0m-.1 1.1h0m-.3-.7h0m0 .5h0m-.3-.5h0m-.3 2.3h0m-.9-.5h0m-.1-2.6h0m2.2 5.5h0m-11.8 8.8h0m-1.6 .6h0m-.3 0h0m-.3-.7h0m-.3 .5h0m-.1-.3h0m.8 1.7h0" stroke="#3cc050" stroke-width="1.7" stroke-linecap="round" fill="none"/><path d="M575.7 331.5h0m-1.6 4.2h0m.4-.8h0m0-1h0m.7 1.1h0m.7 2.7h0m.3-1h0m.2-.1h0m0 .2h0m.2-.5h0m.2-.2h0m.1 .7h0m.1 0h0m.4-.7h0m1.1 .1h0m1 2h0m2.3 .5h0m-.3 1.1h0m-6.5 .6h0m-1.5-.4h0m-66.3 12.6h0m-.9-.6h0m-5.1 1.1h0m-.3-.6h0m-3.6 .9h0m-.3 .9h0m-5.6-1.2h0m11.6 5.2h0m15.9 9.1h0m-1.7-1.2h0" stroke="#d8d040" stroke-width="1.7" stroke-linecap="round" fill="none"/><path d="M582.1 331.7h0m-.7-.6h0m-3.2 .7h0m-6.3 .4h0m4 4.4h0m0-.1h0m.3 .2h0m.3-.6h0m.1-2.5h0m.1 2.5h0m.3-2.6h0m.2 2.7h0m.2 1.2h0m.4-.3h0m.3 1.9h0m1.2-1.2h0m.7 1.1h0m3.1-2h0m0-2.2h0m-4.8 4.5h0m-1.3 1.3h0m-3.7 4.2h0m-.3-5.4h0m-1.5 1.4h0m-76.8 7.5h0m.5 .2h0m2.8 1.2h0m4.8-4.3h0m2.2 4.3h0m4.1-4.1h0m-5.3 8.8h0m-1.3-2.5h0m-.7 .6h0m-.2-1.3h0m-1 .3h0m20.9 12h0m-3.7 3.5h0m-.4-.2h0m-.4-2.2h0" stroke="#d8d040" stroke-width="1.4" stroke-linecap="round" fill="none"/><path d="M577.3 332.2h0m-2-1.1h0m-.3 .9h0m-3.3 2.4h0m.6 3h0m1 .7h0m1.5 .1h0m1-1.7h0m.2-.1h0m.3 .6h0m0 0h0m.3 2h0m.1 0h0m1-.1h0m-.3 1.4h0m-5 .7h0m-69.2 2.8h0m.6 10.9h0m-2-2h0m-1.5-.2h0m-.2 3.6h0m-1.9-4h0m19.9 14.9h0m-.6-1.6h0m-2.2 3h0m-.4-2.3h0" stroke="#d8d040" stroke-width="1.1" stroke-linecap="round" fill="none"/><path d="M500.3 346.8h0m.1 4h0m3.4 1.4h0m-1.6-1.1h0m-.6 3.1h0m-.2-3h0m-.1 .9h0m-.1-.2h0m0-.1h0m0-.5h0m-.4-.1h0m-.4 .2h0" stroke="#e07830" stroke-width="1.1" stroke-linecap="round" fill="none"/><path d="M498.2 347.9h0m.6 2.9h0m2-.2h0m.8-2.7h0m.3-2h0m3.9 0h0m.6 1.6h0m4.4 4.8h0m-7.8 .2h0m-1.8-.9h0m-.7 .2h0m-4.6 3.6h0" stroke="#e07830" stroke-width="1.4" stroke-linecap="round" fill="none"/><path d="M503.3 344h0m-8 6.3h0m3-2.6h0m.7 2.6h0m.2-1.8h0m2.7 2.4h0m1-2.5h0m1.6 .2h0m1 4.4h0m-1.4 2.9h0m-2.8-4.5h0m0 1.1h0m-.1-1.4h0m-.1 .7h0m-.2-.3h0m-.6 3.6h0" stroke="#e07830" stroke-width="1.7" stroke-linecap="round" fill="none"/></g>
<ellipse cx="576.4" cy="336.8" rx="5" ry="5" fill="#c8f020" opacity="0.85" filter="url(#bl)"/>
<path d="M531.5 267.6 C560 267 590 277 603 297 C612 312 611 345 598 368 C585 385 555 391 522 390.5 C495 390 470 382 460 366 C452 352 452.5 325 455 310 C458 292 470 281 488 274 C502 269 516 267.8 531.5 267.6 Z" fill="none" stroke="#1e2ad8" stroke-width="1.0"/>
<path d="M489 384 C500 388.5 512 390 522 390.3 C545 390.5 570 388 590 377" fill="none" stroke="#2433ff" stroke-width="2.4"/>
<path d="M455 312 C453 322 453.5 331 455 338" fill="none" stroke="#2433ff" stroke-width="1.8"/>
</g>
<rect x="509.2" y="299.9" width="15.8" height="15.8" fill="none" stroke="#f2d21a" stroke-width="1.2" stroke-dasharray="2.2 1.3"/>
<rect x="549.7" y="354.3" width="15.8" height="15.7" fill="none" stroke="#f2d21a" stroke-width="1.2" stroke-dasharray="2.2 1.3"/>
<text x="509.5" y="297" font-size="9.6" fill="#f7de00">i</text>
<text x="543" y="363.5" font-size="9.6" fill="#f7de00">ii</text>
<rect x="593.4" y="387.7" width="10.9" height="1.6" fill="#fff"/>
<defs><clipPath id="q1"><rect x="167" y="266" width="60" height="61.5"/></clipPath></defs>
<rect x="167" y="266" width="60" height="61.5" fill="#05050b"/>
<g clip-path="url(#q1)"><g filter="url(#bl3)"><path d="M217.5 284.4h0m-5-2.5h0m-3.7 2.7h0m-21.7-1.2h0m-9.1 2.7h0m7.4 3.3h0m2.8-1.8h0m13 .7h0m2.9 .3h0m9.1-2.5h0m1.4 4.1h0m3.8 4.4h0m-14.5 .1h0m-5.5 .3h0m-24.2 .4h0m-3.7-1.7h0m9.5 3.9h0m7.6 2.1h0m2.7 2.4h0m4.2-4.4h0m3 2.8h0m2.4 1.8h0m.5-.6h0m4.9-1.1h0m5.2-3.5h0m1.2-.1h0m.2 1.1h0m3.5 5.1h0m-.9 4h0m-1.8-1.6h0m-3.4-1.6h0m-5.7-.3h0m-7.9 0h0m-4 .2h0m-7 1.6h0m-9.3-2.1h0m-.5 4.7h0m0 5h0m5.8-.8h0m.2-2.9h0m.2 4.7h0m22.8 0h0m1-4h0m2.5 3.8h0m3.1-2.2h0m3.6-1.6h0m-19.4 10.6h0m-7.2-3.9h0" stroke="#ff2a3a" stroke-width="2.0" stroke-linecap="round" fill="none"/><path d="M185.6 282.2h0m-10.3 2.7h0m27.3 1.3h0m16.6 2.2h0m-9.9 5.9h0m-6.5-.3h0m-12.6 1h0m-12 3.5h0m34.8 .9h0m2 1h0m-5.6 6h0m-15.2-2.7h0m16.6 13.8h0" stroke="#ffffff" stroke-width="3.0" stroke-linecap="round" fill="none"/><path d="M216.4 273.4h0m-11.5 11h0m-12.7-1.7h0m-3.8-1.9h0m-3.4-1.2h0m7 7.9h0m11.2 1h0m-7.5 4.8h0m0 0h0m-4.4 1.2h0m-7.6-1.4h0m-6.9 0h0m-1.7-.2h0m-4.3 3.7h0m-3.6-3.7h0m9.4 9.9h0m3.8-2.6h0m2.5-1.2h0m6-.5h0m18.6 1.1h0m.8 .4h0m2.8 3h0m2.8-5.1h0m5 10.6h0m-12.9 .4h0m-12.5-1.7h0m-5.6 .7h0m-7.3-.5h0m-4.9-2.1h0m-6 2.5h0m7.7 7.1h0m7.6-.3h0m1.8-2.8h0m.5 2.7h0m6-4.5h0m6 2.6h0m5.5-2.5h0m.4-.5h0m-7.5 9.9h0m-8-2.5h0m-5.1-.4h0" stroke="#2ee84a" stroke-width="3.0" stroke-linecap="round" fill="none"/><path d="M206 272.6h0m-1.9 3.3h0m11.1 3.3h0m-2.4 2.3h0m-6.5-.9h0m-1.1 0h0m-3.2 3.1h0m-3.1-.7h0m-9.2 .3h0m0 .8h0m-.9-.4h0m-2-.4h0m3 4.7h0m6.3 3h0m7.4-.7h0m15.2-4.3h0m2 4.8h0m2.2-4.3h0m-6.8 9.7h0m-19.4 .6h0m-.9-3.3h0m-.1 2h0m-1.3-2.8h0m-3 1.9h0m-2.4 1.2h0m-3.2-2.2h0m-1.2 0h0m-3.3 2.1h0m-1.1 .2h0m-4.2-1.1h0m-1.7 1.2h0m-1.5-1.1h0m-5.3 5.7h0m7.3 .2h0m1.9 1.9h0m1 0h0m4-.4h0m1-4.8h0m1.7 3.8h0m2 .7h0m1-3.7h0m2.1 1.1h0m6.5-.8h0m1.1-.1h0m.4 0h0m5.3 2.7h0m1.6-4h0m1.4 1.9h0m1.2-2h0m.1 4h0m.9-3.2h0m.1 1.8h0m1-1.4h0m4.9 5.8h0m-1.4 1.4h0m-3.3 .6h0m-1.6-2.2h0m-6.7 1.6h0m-8.8 2.1h0m-5.9-.9h0m-1.1-.2h0m-.4-.2h0m-8.8 4.5h0m.9-1.8h0m2 2.4h0m10.9 3.2h0m.3-5.1h0m14.7 3.1h0m2.2 1.9h0m4.8-3.2h0m-.3 6.6h0m-3.8-2h0m-7.6 3.4h0m-9.5-1.9h0m-6.7-1.9h0m-15.6-.2h0m34.2 5.7h0" stroke="#2a55ff" stroke-width="2.0" stroke-linecap="round" fill="none"/><path d="M204 278.5h0m4.5-.7h0m-3.5 5.4h0m-4-2.8h0m-2.6 1.8h0m-5-.7h0m-1.1-1h0m-8 5.8h0m5.2 2h0m1.7 0h0m4.8 2.3h0m21.1-2.6h0m-1.7 5h0m-16.5 .6h0m-5.5 .6h0m-9.4 1.5h0m-3.9-1.9h0m-4-2.3h0m-6.5 .7h0m.1 6h0m10.8 4.1h0m15.7-1.9h0m3.7 1.2h0m3.1-2.9h0m2.3-.5h0m6.5 9.1h0m-.8 .2h0m-.6 .6h0m-3.2-1.5h0m-37.3 7.3h0m7.5-.3h0m6.5 1.2h0m18.4-4.7h0m1.9 2.3h0m.2-.1h0m2.5-.3h0m5.5-.6h0m-6 5.3h0m-8.1 3.5h0m-17.1-4.5h0m6.9 6.4h0" stroke="#2ee84a" stroke-width="2.0" stroke-linecap="round" fill="none"/><path d="M204.6 279h0m5.8-.7h0m1 3.3h0m-4.6-.9h0m-4.7-.8h0m-1.2 3.1h0m-24.5 5.6h0m6.1 1.7h0m3.2-3.9h0m1.7 1.1h0m2.2-.2h0m4.5-.5h0m1.6 .7h0m15.1 .3h0m3.7 2.5h0m7.3-1.5h0m-11.1 6.8h0m-1.7-2.7h0m-.8-.7h0m-4.3 2.6h0m-7.8 2h0m-1.4-1.1h0m-1.5 .3h0m-2.4-3.7h0m-2.3 3h0m-.6 1.1h0m-4.9-.6h0m-2.2-4.5h0m-9.5 1.2h0m-1 3.9h0m-.1 0h0m-1.1 6.4h0m14-5.8h0m.7 3.2h0m.5-2.5h0m4.9 3.2h0m5-3h0m.8 0h0m5.5 4.9h0m5.4-4.3h0m1.5-.9h0m5.9-.5h0m.7 4.1h0m2.4-3.2h0m.1 2.8h0m4.7-1.8h0m-8.2 9.4h0m-.1-2.1h0m-8.1-.4h0m-5.1 2.4h0m-5 0h0m-.2-3.4h0m-4 3.6h0m-.6-3.6h0m-2.5 3h0m-.4-.8h0m-5.5-.3h0m-.2-3.5h0m-1.2 2.9h0m-7-2.9h0m3.4 6.9h0m1.6 .3h0m2.2 1h0m.3 .1h0m9.8-.5h0m.7 1.6h0m5.5-3h0m13.5 4.7h0m.2-4.9h0m4.6 5h0m-20.2 1.8h0m-7.3-.9h0m-1.5 5.1h0m-2.2-2.5h0m-2.8-2.7h0m-.4 .3h0" stroke="#2a55ff" stroke-width="2.5" stroke-linecap="round" fill="none"/><path d="M209.2 278.5h0m14.1 6.1h0m-34.6-2.8h0m-5.8 2.3h0m-1.7-4.1h0m-3.9 10.1h0m2.6-4.5h0m.8 1.1h0m.7 .6h0m21.9 1.4h0m13.7 2.8h0m-2.2 2.1h0m-.2 .1h0m-.7 .8h0m-7-2.4h0m-3.4 .8h0m-1.6 3.5h0m-11.1-3.5h0m-9.3 1.8h0m-.9-1.4h0m-12.5 9.6h0m4.5-5.1h0m1.7 2.8h0m9.7-.3h0m3.1 1.7h0m9.4-3.4h0m7.3 .5h0m5.9-1.4h0m2.3 3.2h0m7.9-.4h0m-21.2 8h0m-1.3-1.1h0m-8.9-3.7h0m-10.3 0h0m-8.3 9.7h0m5.1-4h0m3.1 2.2h0m.1 1h0m11.7-1.5h0m3.1-1.2h0m5 2.5h0m4 .1h0m5.4 1.5h0m3.8 1.3h0m-5.7 1.7h0m-2.2 2.1h0m-.3-2.7h0m-9.8 1.5h0m-.7 3h0m-7.2-.2h0" stroke="#ff2a3a" stroke-width="3.0" stroke-linecap="round" fill="none"/><path d="M208.4 271.9h0m2.9 3.8h0m-1.4 5.8h0m-14.2 2.2h0m-14.7 1.2h0m-7 5.9h0m.9-5.4h0m7 4.4h0m.8-.1h0m17.1-.5h0m4.2-4.2h0m6.4 2.4h0m.4 8.6h0m-.3 0h0m-15.2-1.2h0m-25.4 1.5h0m-.4-2.6h0m-2.2-.8h0m2.7 8.5h0m30 1.3h0m1.1-.4h0m20.7 6.3h0m-13.9-1h0m-17.3-.1h0m-10.3-.1h0m-.3-3h0m-8.8 6.8h0m3 .6h0m9.3-1.3h0m6.1 1.3h0m3.5-.8h0m3.7-1.1h0m9.6 1h0m1.8 1.1h0m11.6-2.1h0m-10.3 6h0m-3.4 1.6h0m-3.4 1h0m-21.9 .8h0" stroke="#2ee84a" stroke-width="2.5" stroke-linecap="round" fill="none"/><path d="M206.6 282.2h0m5.1 8.9h0m-1.6 1.5h0m-4.1 2.1h0m-22.9-3h0m-13.1 2.5h0m-2.3 8.7h0m47.9-5.8h0m-33.4 12.2h0m11.3 1.4h0" stroke="#f4ee2a" stroke-width="2.0" stroke-linecap="round" fill="none"/><path d="M172.2 283.2h0m38.4 6.8h0m10.3-3.9h0m-10.1 7.9h0m-32.2 2.9h0m-2.8 5.8h0m18.2-3.2h0m12.2 1.5h0m8.4-1.3h0m-11.3 6.9h0m-15.9 1h0m-.9-1.6h0m-6.9-2.6h0m-3.2 7.3h0m1.3-1.1h0m16.6 5.5h0" stroke="#ff4fd0" stroke-width="3.0" stroke-linecap="round" fill="none"/><path d="M213.1 278.2h0m-20.7 2.8h0m-1.1 1.5h0m-7.4-.2h0m-14.4 7h0m10 1.5h0m9.6-3.8h0m1.3 3.2h0m2.1-2.2h0m19.6-2.7h0m1.8 11.4h0m-7.2-4.3h0m-4.1 .2h0m-19.2 2.5h0m-3.2-3.3h0m-7.1 3.8h0m7.4 2.2h0m5.3 2h0m7.3-1.2h0m1.7-.5h0m6.1 .4h0m5.5 .9h0m3.6-1.5h0m2.1 .7h0m2.7 5.4h0m-.7 1.6h0m-5.3 3.1h0m-2.1-5.1h0m-13.6-.1h0m3.8 8h0m3.7 10.7h0" stroke="#38d6ff" stroke-width="2.5" stroke-linecap="round" fill="none"/><path d="M214 284.1h0m-39.6 4.2h0m10.7 1h0m13.4 .7h0m-18 11.3h0m6.9-4.3h0m11.2 2.1h0m.5 3.1h0m6-1.3h0m5 3.6h0m-1.9 2.4h0m-12.3-2.5h0m-9.4-.3h0m-1.7 4.1h0m-3.8 .5h0m-7.5-3.5h0m23 9.8h0" stroke="#38d6ff" stroke-width="2.0" stroke-linecap="round" fill="none"/><path d="M177.7 288.8h0m0-3.5h0m14.4 .8h0m4.5 2.3h0m2.6 8.1h0m-8-4.1h0m-15 4.5h0m-2.6-4.4h0m-1-.4h0m2.6 10.6h0m38.7 .7h0m-13.2 3.2h0m-9-2.5h0m-9.6 8.6h0m31.2 5.2h0m-25.8 6.5h0" stroke="#f4ee2a" stroke-width="3.0" stroke-linecap="round" fill="none"/><path d="M210.2 272.3h0m-7.2 4.4h0m5.4-1.3h0m.8 1.6h0m1.8 4h0m-8-1.9h0m-2.7 1.8h0m-6.9 2.9h0m-12 .5h0m-5.8-1h0m-3.1 6.9h0m2.8-2.7h0m17.4 .1h0m2 1.7h0m5.1-4h0m.2 3.7h0m.7 .8h0m.2-2.1h0m4.7-.7h0m6.7-.7h0m6.3 9h0m-13.8-1.2h0m-.6 2.8h0m-1.8-.1h0m-7.4-2.4h0m-6.5-2.5h0m-1.8-.7h0m-2.4 2.9h0m-10.3-1.6h0m-2.3 9.9h0m3-4.9h0m2.2 2.8h0m4 2.6h0m1.7-.9h0m1.1-3.3h0m2.6 .2h0m8.6-1h0m5.9 3.2h0m4.8-2.2h0m0-.1h0m.3 3.1h0m4.5-3.9h0m5 4h0m-1.7 4.9h0m-.5-3.1h0m-2.1-.2h0m-3 1.7h0m-8.8 0h0m-22.2 .5h0m3.5 6h0m1.9-1.6h0m5.4 1.4h0m8.3 1h0m2-1.5h0m3.8 0h0m.4-.5h0m.1 4.4h0m.1-5.7h0m11.6 4.4h0m-15.3 3.9h0m-12.8-1.4h0m-1.4 1.3h0m-.5-1.6h0m-7.1 .7h0" stroke="#2a55ff" stroke-width="3.0" stroke-linecap="round" fill="none"/><path d="M200.5 280.3h0m-5.4 3.6h0m-9.5 6.5h0m3.6 .5h0m15.5-3.9h0m.5-.3h0m3.3 4.5h0m-2.4 .4h0m-.1 .5h0m-3.3-.9h0m-7 1.9h0m-1.1 3.8h0m-2.7-.3h0m-2.1-4.4h0m-9.7 1.3h0m-2.4-.1h0m-2.6-2h0m-1.8 6.2h0m10.4 .6h0m.4 .3h0m8.8-1.5h0m.4 2.4h0m1.9 1.7h0m3.7-2.6h0m1 4.4h0m14.6-5.5h0m-9.1 5.8h0m-3.1 1.1h0m-5 .6h0m-2.7 4h0m-6.8-3h0m-2.8-2.1h0m-6.4 4.1h0m-3.5-4.6h0m-5 4.6h0m10.1 2.4h0m4.4 3.7h0m4.9-1h0m7.7-1.1h0m5.7 2.7h0m3.7-3.2h0m7.5 4.1h0m-17.5 2.2h0m-4.7-1h0" stroke="#ff2a3a" stroke-width="2.5" stroke-linecap="round" fill="none"/><path d="M200.4 278.8h0m-7 2.3h0m-11.6 2.2h0m16.6 2h0m7.1 11.4h0m-17.6 8.7h0m8.7 13.2h0m-3.7 .7h0m-.4-2.6h0" stroke="#f4ee2a" stroke-width="2.5" stroke-linecap="round" fill="none"/><path d="M217.2 283.6h0m-7.9-2.6h0m-7.2 .5h0m-11.6 1.3h0m-17.5 6.5h0m11.1-4.2h0m8.3 5.4h0m11.7-2.7h0m.5-1.5h0m5.9 4.1h0m-21.8 .8h0m-1.3 1.4h0m-19.9 1.9h0m5.8 7.6h0m6.4-2.6h0m7.1 2.8h0m19.4-3.3h0m4.8 .8h0m2.9 1h0m1.7 2.5h0m-28.7 1.7h0m-16.7 1.6h0m10 3.8h0m13.7 3.5h0m3.8-4.2h0m5.1-.2h0m-.2 8.9h0m-9.5 1.6h0" stroke="#ff4fd0" stroke-width="2.0" stroke-linecap="round" fill="none"/><path d="M216.5 284.9h0m-1-1h0m-17.3-1.4h0m-15.9-2.6h0m-2.6 2.5h0m40.9 7.3h0m-42.5 4.9h0m-10.5 3h0m21.6 4.4h0m5.8-4.5h0m.1 2.7h0m3.9 1.3h0m8.8-1h0m10.9 2.8h0m-7.5 4.9h0m-6.6-.5h0m-3.8-2.1h0m-23.6-1.5h0m37.5 5.9h0m-19.4 10.4h0" stroke="#38d6ff" stroke-width="3.0" stroke-linecap="round" fill="none"/><path d="M191.9 289.2h0m4-3.9h0m23 1.2h0m-43.7 7.9h0m18 3.4h0m2.7 .9h0m21.5-.8h0m-1.1 6.8h0m-10 1.6h0m-2.1 .3h0m-29.9-1.4h0m24.4 8.5h0m1.2-3.9h0m3.1 10.3h0m-5 1.8h0" stroke="#ff4fd0" stroke-width="2.5" stroke-linecap="round" fill="none"/><path d="M207 283.5h0m-11.8 1.4h0m-11.9 5.7h0m17.4-1.6h0m-6.3 3h0m-1.3-.6h0m-1.7 3.3h0m.1 7.2h0m27.2 .9h0m-16 5.5h0m-12.3-3.4h0m-1.4 16.6h0" stroke="#ffffff" stroke-width="2.0" stroke-linecap="round" fill="none"/><path d="M193 286.5h0m-6.3 6.2h0m-1.1 4.1h0m-3.1-1.5h0m16.6 6.4h0m-12.6 6.6h0m-2.2 6.7h0m10.9-4.7h0m11.6-.2h0m.7 4.9h0m.1-3.6h0m1.1 .1h0m-28.1 4.5h0" stroke="#ffffff" stroke-width="2.5" stroke-linecap="round" fill="none"/><path d="M201.7 284.8h0m12.4 10.3h0m-35.1 1.1h0m35.9 2.6h0m-15.1 11.3h0m6 10.3h0m-13 5.2h0" stroke="#2ee84a" stroke-width="1.6" stroke-linecap="round" fill="none"/><path d="M200.8 278.4h0m-29.2 11.6h0m42.4 5.7h0m-31 18.2h0m22.5 .6h0" stroke="#ff2a3a" stroke-width="1.2" stroke-linecap="round" fill="none"/><path d="M218.4 295.7h0m-16.9 5.1h0m-27.8 6.5h0" stroke="#f4ee2a" stroke-width="1.2" stroke-linecap="round" fill="none"/><path d="M201.9 287.1h0m-14.7 19.3h0m-15 5.6h0m31.6 3.2h0" stroke="#ff2a3a" stroke-width="1.6" stroke-linecap="round" fill="none"/><path d="M206.1 266.1h0m12.1 38.8h0m-1.2 19.6h0" stroke="#38d6ff" stroke-width="1.6" stroke-linecap="round" fill="none"/><path d="M206 270h0m19.8 10.6h0m-36.8 6.3h0m36.4 10.3h0m-5.5 12.2h0" stroke="#2a55ff" stroke-width="1.2" stroke-linecap="round" fill="none"/><path d="M201.4 317.5h0" stroke="#f4ee2a" stroke-width="1.6" stroke-linecap="round" fill="none"/><path d="M225 274.9h0m-47.3 47.4h0" stroke="#2a55ff" stroke-width="1.6" stroke-linecap="round" fill="none"/><path d="M194.3 311.7h0m3.4 4.2h0" stroke="#38d6ff" stroke-width="1.2" stroke-linecap="round" fill="none"/><path d="M224.9 308.6h0" stroke="#ff4fd0" stroke-width="1.6" stroke-linecap="round" fill="none"/><path d="M208.2 274h0m-1 52.2h0" stroke="#ffffff" stroke-width="1.2" stroke-linecap="round" fill="none"/></g></g>
<text x="170.6" y="276.9" font-size="9.6" fill="#f7de00">i (0.20)</text>
<rect x="210.2" y="322.5" width="12.6" height="1.6" fill="#fff"/>
<defs><clipPath id="q2"><rect x="167" y="330" width="60" height="62.2"/></clipPath></defs>
<rect x="167" y="330" width="60" height="62.2" fill="#05050b"/>
<g clip-path="url(#q2)"><g filter="url(#bl3)"><path d="M221.8 356.2h0m-15.9-3h0m-2 2.2h0m-19.6-2.4h0m-4.7 5h0m5 1.7h0m9.1 1.3h0m27.1 2.8h0m-44.1 9.7h0m11.6-3h0m4.2 .5h0m33.1 5.8h0m-40.7 .8h0m-4.4 1.8h0m.6 4.8h0m21.6 2.8h0m13.9-2.1h0m9.6-1.3h0m-27.1 4.6h0" stroke="#f4ee2a" stroke-width="2.5" stroke-linecap="round" fill="none"/><path d="M195 348.3h0m11.2-2.1h0m14.5 9.9h0m-39.8-1.7h0m3.3 8.2h0m3.5-1h0m1.4-2.7h0m32.1 .5h0m-30.3 4.8h0m-19.1 5.8h0m43.6 .3h0m-9 6.5h0m-15.6 1.9h0m-11.9 6.3h0m11.8-1.2h0m23.5-1.1h0m-.6 8.4h0m-39.1-3.7h0" stroke="#ffffff" stroke-width="2.5" stroke-linecap="round" fill="none"/><path d="M180.1 345.1h0m4.2 5.4h0m4.2-.3h0m5.8-3.5h0m2.9-1h0m13.1 5.2h0m6-.9h0m8 5.8h0m-5.8-.5h0m-2.5 1h0m-5.1-2.4h0m-2.2 2.4h0m-.5-4.8h0m-5.4 1.1h0m-3.8 .7h0m-.6 3.2h0m-3.4-2h0m-13-.3h0m-.3 1.5h0m-2.3 2.2h0m3.5 3.6h0m1.2-.2h0m14.7 1.5h0m.5-3.5h0m1.3 2.4h0m9.8 1h0m1.2-5h0m.7 2.1h0m2.4 3.1h0m.4-3.9h0m2.6-.5h0m3.9-.6h0m-4 5.9h0m-4.2 4.7h0m-9.4-3.7h0m-5 2h0m-5.2-2.9h0m-6.4-.7h0m-4.1 .1h0m-1.8 3.8h0m-5.8-2.8h0m-8.4 7.9h0m1.4 1.1h0m5.1-3.7h0m7.4 .1h0m4.7-.6h0m6.8 .8h0m8.6 2.8h0m.4-1h0m6.7 1.2h0m12.8 .4h0m4.6-.4h0m-1.5 4.3h0m-9.7 2.2h0m-9.4 1.5h0m-4.5-4h0m-2.6-.8h0m-5 1.5h0m-2.1 2.1h0m-.6-2h0m-.5 2.7h0m-13.4-1.5h0m-5.5 1.2h0m3.6 4h0m7.3-1.7h0m8.6 .8h0m6.1 3h0m2.6 .6h0m.8-4.3h0m1.6 3.6h0m.7-4.1h0m9.5 1.6h0m6.4 4.6h0m-2.2 3.8h0m-.5-4.5h0m-18.9 2.4h0m-1.5-1.5h0m-5.6 2.4h0m-4.9-2h0" stroke="#2a55ff" stroke-width="2.0" stroke-linecap="round" fill="none"/><path d="M213.5 344.3h0m-24.3 6.5h0m18-1h0m-8.6 6.8h0m-7.8-3.8h0m-1.4 3.6h0m18.3 5.3h0m9.3-2.5h0m7.4 8.1h0m-33.6-3.2h0m12.7 5.6h0m9.1 4.8h0m6.9-1.7h0m-16.6 5.6h0m-3.5 1.3h0m-1.5-1.7h0m-7.7-.1h0m-8.5 4.8h0m8.5 .5h0m12 2.6h0m10.1 2.4h0m-5.2 3h0m-13.8-3.3h0" stroke="#f4ee2a" stroke-width="3.0" stroke-linecap="round" fill="none"/><path d="M208.9 346.3h0m12.7 6.9h0m-7.6 2.7h0m-9.6-1.7h0m-1.9 0h0m-15.9 2.4h0m-5.2 2.1h0m2.6-.1h0m13.5 1.1h0m11.1 .3h0m-26 8.2h0m-7.3-2.1h0m-1.7 .8h0m9.6 5.9h0m3.4 1h0m8.6 .6h0m27.9-1.9h0m-7.7 2.8h0m-18.5 3.5h0m-9.7 1.5h0m-9.3-1.8h0m-10.5-.6h0m25.7 7.3h0m29.6 1.1h0" stroke="#38d6ff" stroke-width="2.5" stroke-linecap="round" fill="none"/><path d="M211.2 338.3h0m-31.4 12.5h0m16.6 .1h0m27.1 2.7h0m-9.9-1.3h0m-7.9 2.3h0m-2.2 2.3h0m-4.2-4.5h0m-2.3 3h0m-5.8-1.6h0m-.4 2.3h0m-1.3-4h0m-.4 4.3h0m-5.5-.4h0m-7.4 6.1h0m3.5-4.2h0m8.4 2.7h0m.7-2.8h0m6.6 3.8h0m.5-.6h0m15.1-1.6h0m1.2 2.4h0m5-2.3h0m5.1 2.2h0m.9 3.3h0m0 1.2h0m-.1-1.7h0m-.8-1.1h0m-1.5 2.8h0m-6.9-1.7h0m-1.5 1.9h0m-3.2-.5h0m-6-.3h0m-2.1 2.6h0m-.2-4.8h0m-1.5 2.2h0m-9.1-1h0m-8.9 .1h0m-.8-.3h0m-5.3 4.4h0m.7 .5h0m24.8 1h0m.6 1h0m.3-1.4h0m2.5 1.1h0m.8 2.8h0m1.7 .1h0m8.8-2.4h0m.2-.8h0m.2 3.3h0m3.1 .3h0m.5-2.2h0m.3 2.1h0m1.4-4h0m3.2 1.5h0m-2.1 9h0m-1.6 .1h0m-12.4-1.1h0m-5.2-1.5h0m-.6 .2h0m-14 .4h0m-.9 1.2h0m-8.3-4.9h0m-1.2 3.4h0m-.4 4.5h0m.1-.9h0m6.7 .7h0m1.3-1.1h0m7 3.5h0m21.6 2.5h0m-6.6 1.3h0m-.2 .6h0m-.2 1.9h0m-7.6-2.2h0m-24.8-.8h0" stroke="#ff2a3a" stroke-width="2.5" stroke-linecap="round" fill="none"/><path d="M211.5 344.2h0m-3.1-2.1h0m-15.6 3.9h0m20.9 2.9h0m-2.1 7.3h0m-1.6-3.3h0m-2.8-.4h0m-6 1.2h0m-.9 3.2h0m-5.2-3.5h0m-7.9 2h0m-8.7 1.2h0m10.6 2.5h0m3 1.2h0m4.4-1.2h0m17.3-1.1h0m1 4.8h0m4.3-1h0m2.7-1h0m2.5 .8h0m1.9 4.7h0m-12.4-.9h0m-14.5-1.2h0m-13.2-.8h0m-12.5 6h0m8.6 .2h0m1.5 1.8h0m.4-1.7h0m.4 3.2h0m4.3 .9h0m4-.8h0m5.3-1.8h0m.4-1.9h0m1.5 2.3h0m12.8 1.2h0m9.2 3h0m-9.1-.1h0m-4.6 1.6h0m-1.7-1.1h0m-.4 1.8h0m-3.4 1.8h0m-.2-1.2h0m-12.8 .6h0m-20.1 5.7h0m7.2 .1h0m9.3-3.3h0m17.8 3.8h0m6.7-3.3h0m2.1-.5h0m.9 1.3h0m1.8 3.1h0m8.1 5.2h0m-2-3.6h0m-10.2 1.5h0m-2.8 2.7h0m-7-2.6h0m-1.5 .6h0m-4.1-.8h0m-1.8-.7h0m-3.4 3.5h0" stroke="#2a55ff" stroke-width="3.0" stroke-linecap="round" fill="none"/><path d="M189.5 350.7h0m16.7-4.5h0m.7 2.9h0m8.4-2.5h0m6 4.1h0m-4.2 4.3h0m-13.2-.9h0m-1.5-1.3h0m-6.1-.7h0m-3.2-.8h0m-1 .1h0m-2.2 .7h0m-18 7.5h0m.6 2.1h0m4.3 .4h0m5.6-3.2h0m4.6 .4h0m3.7 .2h0m9.1 2.4h0m1.2-.9h0m1.4-1.2h0m8.2-.6h0m2.8 3.8h0m2-5.9h0m.1 7.8h0m-3.2-1h0m-4 3.2h0m-.7-3.9h0m-1 .8h0m-.3-.5h0m-.3-.1h0m-8.5 3.8h0m-1.8-3.2h0m-7.4 4.5h0m-2-2h0m-1.2-2.4h0m-15 4.8h0m-2.7 4.7h0m10.2-1.4h0m4.4-1.8h0m.8 2.8h0m.1-.6h0m.7 2h0m6.8-.9h0m3.8-.8h0m.3-.5h0m2.3-1.9h0m2.9 4.3h0m4.2-2.7h0m8.9 2.5h0m1-1.2h0m13 3.1h0m-23.3 2.3h0m-.1-.4h0m-13.8-.1h0m-2.2 2.5h0m-2.3-1.6h0m-1.6 .6h0m-14-2.6h0m3.9 6h0m.8-.8h0m1.3 .4h0m6.8 1.9h0m15.7-1.6h0m4.5 1.1h0m3-.6h0m1.6 1.2h0m7.1-.5h0m1.3 1.7h0m3.8-4.1h0m4.7 .3h0m1.3 .6h0m-5.3 4.3h0m-18.9 4.2h0m-7-1.7h0" stroke="#ff2a3a" stroke-width="3.0" stroke-linecap="round" fill="none"/><path d="M186.4 348.9h0m35.7-1.8h0m1.8 2.4h0m-3 6.4h0m-1.4-1.4h0m-4.7 2.1h0m-2.6-1h0m-4.5-1.5h0m-.2-1.7h0m-4.6 2.3h0m-4.7-2.4h0m-8.6-.6h0m-2-.1h0m-3 2.4h0m-3.5 4.5h0m13.4-.7h0m1.2-.3h0m1.8 4.1h0m4.8 1.2h0m2.8-.8h0m6.2 .5h0m3.2-2.2h0m0-1.1h0m3.5 1.8h0m.8-1.8h0m6.9-1.4h0m-4.1 6.9h0m-9.9 3.2h0m-1.5-4.2h0m-3.2 4.2h0m-8.4-1.3h0m-4.7-.7h0m-12-1.6h0m-9 2.2h0m17.3 4.6h0m0 3.4h0m.1 .3h0m6.1-4h0m.1 3.3h0m6.3-3.7h0m1.6 3.7h0m1.7-.4h0m10 1h0m.8-1.5h0m.5-1.2h0m4-1.7h0m.7-.2h0m3.3 4.1h0m-1.6 3.3h0m-5.4-2.3h0m-3.6-.1h0m-10.1 2.9h0m-1-2.3h0m-7 4.2h0m-13.3-2.3h0m-.6 2.6h0m-8.3-2.7h0m-.5-1.2h0m.3 8.4h0m11.6 2h0m1.9-.8h0m5.5-1.4h0m2.1-3.3h0m1.1 5.8h0m.2-2.6h0m8.9-3.4h0m1.1 2.3h0m6.2 .3h0m.6-.9h0m7.4 .9h0m2.2 2.3h0m3.4-1.4h0m-14.8 5.8h0m-12.8-2.3h0m-1.1 .3h0m-.6 .5h0m-2.3 2.8h0m-10.6-1.9h0" stroke="#ff2a3a" stroke-width="2.0" stroke-linecap="round" fill="none"/><path d="M194.4 351.1h0m-12.4 3.8h0m-10.7 4.6h0m7-1.1h0m7.9 4.2h0m32.4-1.5h0m8 3.3h0m-9.2 3.3h0m-1.6-.5h0m-.3-1.5h0m-5.5-1.2h0m-2.9 1.5h0m-14.1 2.7h0m8.4 4.7h0m10.9-3.4h0m5.5 7.5h0m-4.4-.2h0m-39 6.7h0m12 1.6h0m13-3h0m5.2 3.1h0m6.4 5.7h0m-19.2-4.2h0" stroke="#f4ee2a" stroke-width="2.0" stroke-linecap="round" fill="none"/><path d="M205.7 344.1h0m-3.3 .8h0m-10 4.5h0m4-.3h0m17.2-3.9h0m-2.1 11h0m-2-4.6h0m-5 3.1h0m-13.9-3.2h0m-.3 .5h0m-11.9 4.5h0m-4.3 6.3h0m13.1-5.3h0m2.9 2.4h0m.5-2.9h0m2.4 1.3h0m.7 1.4h0m0 2.4h0m.6-3.2h0m1.9-1.6h0m10.9 3.3h0m5.3-3.3h0m3.9 5.4h0m4-.4h0m1.3-3.1h0m4 3.9h0m-3.9 2.8h0m-14.6-2.6h0m-2.1 .7h0m-9.3 .9h0m-14.5 .9h0m-1.5-1.2h0m-4.9 8.5h0m21.1-3.1h0m6.1 .7h0m11.2-1.3h0m2.2 1.8h0m5.2-2.1h0m0 3.8h0m5.8-2.5h0m0 6.7h0m-8.6 2.1h0m-.7-3.5h0m-8.8 4.4h0m-1.2-1.7h0m-5.6 2h0m-15.7 .3h0m5 1.2h0m4.7-.7h0m1.4 4h0m.3-2.7h0m16.6-1.5h0m6 9.4h0m-11.6-.9h0" stroke="#2ee84a" stroke-width="2.5" stroke-linecap="round" fill="none"/><path d="M219.9 351.7h0m-52.7 9.5h0m14.5-.2h0m22-2.3h0m12.6 9.5h0m-6.4-.8h0m-3 7.3h0m2.3-3.3h0m7.3 3.6h0m-16.5 4.9h0m-.5-4.3h0m-4.8 2.1h0m-15.4-1.8h0m19.6 7.6h0m2.6-2h0m3.2 2.2h0m1.2 2.4h0m9 5.7h0m-28.8-2.9h0" stroke="#ff4fd0" stroke-width="2.5" stroke-linecap="round" fill="none"/><path d="M202.3 352.1h0m-30.8 6.1h0m31 3.7h0m2.3-.5h0m10.9-.8h0m-18.6 8.6h0m3.4 5.6h0m25.1-1.4h0m-33.7 6.4h0m-6.3 .2h0m31.2 10.7h0" stroke="#ffffff" stroke-width="2.0" stroke-linecap="round" fill="none"/><path d="M190.7 348.2h0m16.6 .9h0m10.9 7.2h0m-1.9 .3h0m-.6-2.7h0m-1.6 2.8h0m-3.4-.3h0m-1.4-3.9h0m-.4 1.8h0m-13.1-1.2h0m-1.2 3.2h0m-12.7-1h0m-5-1h0m-.6 3.7h0m13.3 4.7h0m5.5-.6h0m3.7-2.8h0m.7 1.5h0m3.1 1.5h0m6.2 .7h0m2.2-1.4h0m6.4-2.4h0m3.9 .9h0m-3.7 4.6h0m-4.5-.7h0m-13.2-.1h0m-5.4-.3h0m-10.6 1h0m-12.5 3.3h0m-1.4 3.7h0m1 2.3h0m13.6-4.2h0m5.1 3.9h0m.9-2.3h0m1.3-2.3h0m5.6 .4h0m9.7 4.7h0m1.5-3.1h0m16.7 .6h0m.6 1h0m-8 3.9h0m-15.8 4h0m-8.4-.7h0m-.3-.1h0m-1.4 .9h0m-1.2-.4h0m-12.2-.1h0m-3.6-3.5h0m-4 8.1h0m33.4-2h0m2 3.3h0m18 4.8h0m-11.9-2h0m-12.7 .6h0m-2.9-1.8h0m-17.3 1.6h0" stroke="#2ee84a" stroke-width="2.0" stroke-linecap="round" fill="none"/><path d="M183.8 349h0m13.5 .1h0m3.2-3.8h0m2.9 4.4h0m9.2 6.2h0m-.9-3.6h0m-24.8-.3h0m-.7 .7h0m-.1 1.8h0m-6.6-1.7h0m-.1 2.8h0m-1.9-1.8h0m3.6 6.3h0m.9-1.5h0m3.4-.5h0m5.1 2.8h0m4.5-3h0m3.9 4.1h0m17.3-3.4h0m4.4 4.3h0m4 4h0m-.5 1.8h0m-8.2-2.9h0m-5.1 1.2h0m-8.6 1.9h0m-1.7-5.3h0m-5 .7h0m-4.6 .5h0m-9-1h0m-.1 4.4h0m-1.9 6h0m9.6-2.7h0m4.8 2.8h0m1.9-3.2h0m5.5 1.2h0m15.5 .8h0m3.2-.1h0m-3 6.4h0m-16.9-2.6h0m-.7 3.3h0m-.6 .4h0m-1.5-2.4h0m-6.4-2.1h0m-4-.2h0m-2.6 7.7h0m2.8 2.4h0m2.8-.7h0m3-.4h0m2.4-.4h0m8-2.5h0m4.1 1.5h0m.4 .7h0m.9-1.5h0m15.7 6h0m-16.2-.8h0m-1.1-.3h0m-2.8-.2h0m-14.9 1.2h0" stroke="#2ee84a" stroke-width="3.0" stroke-linecap="round" fill="none"/><path d="M185.6 348.2h0m5.3 1h0m3.3 1.1h0m4.9 0h0m1.2 .1h0m1.2-.1h0m4.3-5h0m2.1 4.4h0m2 .2h0m12.2 1.1h0m2.5 5.5h0m-6.4-.1h0m-15.8-2.4h0m-2.2-.8h0m-10.7 .9h0m-.9 1.9h0m-6.8-.7h0m-1.1 4.1h0m1.5 1.9h0m16.4-1.3h0m0-.8h0m4.3 2h0m.6-3.2h0m5.5 .6h0m17.7-1h0m-6.8 9.8h0m-3.6-2h0m-.2 1.2h0m-2.2 .3h0m-10.7 0h0m-2.5-2.7h0m-3.5 2.2h0m-7.7-3.1h0m-2.2 4h0m-5.9-.4h0m-1.2 3.8h0m4.7-.2h0m7.7-.3h0m9 2.4h0m.4-1.8h0m2.4 3.7h0m1.2-2.4h0m3 .9h0m6.6-4h0m9.1 .7h0m.1 4.5h0m1.3-4.1h0m-15.6 6.4h0m-9.8 1.4h0m-14.1 1.3h0m-9.1-3.3h0m-.4 4.5h0m-5.9-.4h0m7.9 6.4h0m11.1-2h0m2.1-2.7h0m4.4 4.8h0m5.1-.4h0m5.3-3.1h0m12.2-1.4h0m2.2 1h0m0 2h0m5.8-2.2h0m-3.6 8.2h0m-17-1.2h0m-6.1 .2h0m-2.1-.2h0m-10.6-.8h0" stroke="#2a55ff" stroke-width="2.5" stroke-linecap="round" fill="none"/><path d="M187.3 350.5h0m6.2-3.9h0m2.4 8.6h0m7.7 2.9h0m13.1 2h0m3.6 7.3h0m-47.8-.3h0m41.3 4.5h0m-25.2 3.6h0m13.8 16.3h0" stroke="#ff4fd0" stroke-width="2.0" stroke-linecap="round" fill="none"/><path d="M213.9 362.9h0m11.8-.3h0m-52.6 2.1h0m-3.1 1.4h0m30.1 10.2h0m-23.1 6.8h0m18.5 2.6h0" stroke="#ffffff" stroke-width="3.0" stroke-linecap="round" fill="none"/><path d="M195.1 348.8h0m9 .7h0m12.2 4.2h0m-15.6 1.8h0m-10.4-4.3h0m-20 9.3h0m13.8 2h0m33.6 4.8h0m-19 1.2h0m-3.3 .3h0m-4.1-3.6h0m-1.9 1.2h0m-2.8-1.3h0m-1.7 3.4h0m7 2.7h0m13.4 4.1h0m-14.6 4.8h0m-1.2-4.4h0m-8.8-.3h0m-3.4 .4h0m21.8 6.8h0m8.8 .8h0m3.7-.9h0m4.3 1.2h0m6.1 1.9h0m4 2.2h0m-10.1 1.9h0" stroke="#38d6ff" stroke-width="2.0" stroke-linecap="round" fill="none"/><path d="M199.2 346.5h0m7.9 9h0m-12.6-4.3h0m28.6 10.3h0m-7.2 2.3h0m-18.5 5.9h0m3.2 2.2h0m1.7-1.2h0m24 2.2h0m-.7 4.6h0m-.3 1.5h0m-18.3-3.3h0m8.9 12.5h0m-30.3 3.7h0" stroke="#ff4fd0" stroke-width="3.0" stroke-linecap="round" fill="none"/><path d="M211 350.7h0m2.1 5.5h0m-28.6-2.6h0m-4.5 4.2h0m12.8-.2h0m4.3 3.7h0m8.9 1.7h0m7.6-5.2h0m6.4-.7h0m4.6 3.6h0m.3-.7h0m-8.8 3.3h0m-9.8 4.8h0m-8.9-1.3h0m-13.4-1.2h0m-4.6-.8h0m2.6 4.5h0m12.7 2.3h0m27.6 3.4h0m-17.4 2.3h0m-34.1 3.2h0m19.4 10.4h0" stroke="#38d6ff" stroke-width="3.0" stroke-linecap="round" fill="none"/><path d="M182 377.8h0m-7.5-.1h0" stroke="#f4ee2a" stroke-width="1.6" stroke-linecap="round" fill="none"/><path d="M193.5 351.8h0m0 26.7h0" stroke="#ff2a3a" stroke-width="1.6" stroke-linecap="round" fill="none"/><path d="M226.5 353.9h0m-14.1 20.9h0m-7.2 5.7h0m-38-.3h0m22.1 3.5h0" stroke="#38d6ff" stroke-width="1.6" stroke-linecap="round" fill="none"/><path d="M180.2 374.1h0m-6.2 8.1h0" stroke="#f4ee2a" stroke-width="1.2" stroke-linecap="round" fill="none"/><path d="M193.4 347.6h0" stroke="#ff2a3a" stroke-width="1.2" stroke-linecap="round" fill="none"/><path d="M212.8 388.6h0m-22.3 .3h0" stroke="#38d6ff" stroke-width="1.2" stroke-linecap="round" fill="none"/><path d="M190.9 347.2h0m24.2 2.2h0m10.4 .8h0m-53 7.1h0m17 .3h0" stroke="#2a55ff" stroke-width="1.6" stroke-linecap="round" fill="none"/><path d="M226.9 330.1h0m-43.5 32.9h0m28.6 10.2h0m-15.9 12.9h0" stroke="#2ee84a" stroke-width="1.6" stroke-linecap="round" fill="none"/><path d="M217.4 379.3h0m-8.5 9.2h0" stroke="#2ee84a" stroke-width="1.2" stroke-linecap="round" fill="none"/><path d="M182.8 358.9h0m41.2 1h0m-21.4 18.2h0m-19.9 5.7h0" stroke="#ff4fd0" stroke-width="1.2" stroke-linecap="round" fill="none"/><path d="M167.2 344.7h0m3 3.5h0m33.3 24.7h0" stroke="#2a55ff" stroke-width="1.2" stroke-linecap="round" fill="none"/><path d="M201.7 366.1h0" stroke="#ff4fd0" stroke-width="1.6" stroke-linecap="round" fill="none"/><path d="M218.7 373.8h0" stroke="#ffffff" stroke-width="1.2" stroke-linecap="round" fill="none"/><path d="M201.3 389.1h0" stroke="#ffffff" stroke-width="1.6" stroke-linecap="round" fill="none"/></g></g>
<text x="170.6" y="340.9" font-size="9.6" fill="#f7de00">ii (0.32)</text>
<rect x="210.2" y="387.2" width="12.6" height="1.6" fill="#fff"/>
<defs><clipPath id="q3"><rect x="378" y="266" width="60.5" height="61.5"/></clipPath></defs>
<rect x="378" y="266" width="60.5" height="61.5" fill="#0d0d20"/>
<g clip-path="url(#q3)"><g filter="url(#bl3)"><path d="M409 284h0m-3.6-2.8h0m-13.6 8.2h0m7.1 0h0m.3 1.1h0m.1 .2h0m2.3-3.1h0m6.8 1.6h0m8-2.6h0m10.2 5.3h0m-6.6 4.3h0m-.1-3.3h0m-1-.5h0m-.4 4.5h0m-.8-1.4h0m-5.8-.3h0m-1.2-4h0m-2.5 2.5h0m-2.5 1.2h0m-1.9-1.2h0m-8.6-1.5h0m-4.7 .4h0m-4.9 3h0m-1 4h0m1.1 .9h0m10.2-3.3h0m.5 3.4h0m4.4 2.4h0m4.4-5.1h0m2.8 2.8h0m.1 2.2h0m1.4-3.9h0m.6 1.6h0m.7-1h0m1 2.3h0m.3-3.2h0m1.4-.7h0m4.2 .1h0m4.8-.7h0m3.7 3h0m2.7 1.1h0m1.4 2.2h0m-2.7 3h0m-2.1-.6h0m-3.3 2.4h0m-1.7-3.1h0m-1.4 .2h0m-2.4-1.7h0m-.9 1.1h0m-.3 1.8h0m-1.7 .2h0m-8.7 .9h0m-.2 .4h0m-2.1-.5h0m-4.5-1.8h0m-.9-2.9h0m-4 2.7h0m1.1 3.6h0m2.7 2h0m2.8 .5h0m3.1 2.3h0m1.5 .2h0m5.4-2.3h0m4.7-.7h0m1.1 1h0m1.5 .5h0m7.6-.6h0m3.1-3.2h0m1.4 2.2h0m-2.6 5h0m-3.5 3.1h0m-12.5-3.5h0m-9.8 1h0m-2.8 4.1h0" stroke="#2a55ff" stroke-width="2.0" stroke-linecap="round" fill="none"/><path d="M414.2 281.3h0m-8.5 2.9h0m-.3-3.5h0m-2 3.7h0m-1.2-3.1h0m-12.8 8.6h0m17.1-.2h0m1.2-3.3h0m6.6 2.2h0m1.1 .1h0m4.1 .7h0m5.1 3.7h0m-1.1 3.6h0m-.9-3.9h0m-4.8 3.9h0m-2.5-.5h0m-2.2-4.8h0m-9.3 0h0m-10.2 4.9h0m-6.2-2.7h0m-2.3 2.1h0m-.1-4.2h0m.4 7.5h0m.3 .6h0m7.9 1.8h0m14.4-.5h0m.1-.9h0m.7-.1h0m4.3 2.4h0m1.2-4.4h0m1.9 1.7h0m13.6-1.3h0m-6.5 4.8h0m-.9 5.8h0m-.3-3.8h0m-3 3.6h0m-1.8-5.2h0m-8 3h0m-.2 2.3h0m-2.4-4.7h0m-.6 2.4h0m-15.6-2.6h0m-.6-.1h0m-2.7-.7h0m-.2 5.6h0m-2.6-2.3h0m4 5.7h0m13.8-1.6h0m2-1h0m.1 3.2h0m24.5 0h0m-9.1 4.5h0m0-2.1h0m-10.2 5h0m-5.1-.9h0m-.3-1.4h0m-1.9-2.3h0m-4.2 4.5h0" stroke="#2a55ff" stroke-width="3.0" stroke-linecap="round" fill="none"/><path d="M405.9 284.7h0m-7.9-.8h0m-.9 .8h0m-.6-4.7h0m-1.6-.1h0m-.7 10h0m7.5 0h0m4.5-.9h0m7.5-.1h0m1.2-2.8h0m1.1 2.8h0m7.6 5h0m-1.7-.3h0m-.9 1.2h0m-8.8-3.4h0m-2.4 5h0m-.7-3.9h0m-8.6-.8h0m-1.7 2.9h0m-11-.3h0m3.4 8.7h0m4.4-6h0m.3 2.7h0m5.5-.3h0m7.9 1h0m1.2-.4h0m.9-2.5h0m12.6 .7h0m5.4 .9h0m5.3 9.6h0m-15.9-1.1h0m-4.8-2.6h0m-1.1-.3h0m-2 3.5h0m-6.4 .2h0m-.4-.4h0m-1.2-3.4h0m-4.9-.3h0m-.3 4.6h0m-8.1 0h0m0 .9h0m1.1 .2h0m6.8 3.2h0m4.7-3.1h0m.7 4.9h0m2.2-3.4h0m.1-.9h0m5-.2h0m1.4 3.3h0m.2-4.2h0m3.8 3.6h0m2.2-1.9h0m5.8 1h0m.2 .7h0m4.8-3.3h0m1 3.9h0m-20.6 3.9h0m-2.7-.6h0m-5-.2h0" stroke="#ff2a3a" stroke-width="2.0" stroke-linecap="round" fill="none"/><path d="M413.4 283.9h0m-2.8-4.3h0m-4.7 2.8h0m-17 3.5h0m6.4 3.1h0m.7 1h0m.8 .7h0m3.1-3.6h0m1.8-1.5h0m3.9 4.7h0m5-.8h0m2.9-.9h0m2.3 .9h0m.2-2.4h0m3.1 2h0m7 4h0m0-1.7h0m-5.4 5.1h0m-.3-5.4h0m-.2 4.8h0m-11.3-1.6h0m-2.6 1h0m-14-.4h0m-2.4-3h0m3.5 7.5h0m4.8-1.8h0m.8 1.6h0m2.2-1.1h0m2 .8h0m6-1.1h0m13.3 1.9h0m3.1 .3h0m-.6 4.4h0m-2 .8h0m-2.7 2.5h0m-12.7 .9h0m-1.6-3.1h0m-2.3-.1h0m-7.5 3.2h0m-3.2-4.3h0m-1-.5h0m-4.3 1h0m-.4-1h0m10.7 7h0m7.7 2.5h0m2.2-1.3h0m1 2.5h0m.4-3h0m.6 3.3h0m1.8 .2h0m2.3-1.2h0m1.5-2.9h0m7.8 2h0m.3-1.9h0m-10.4 5.3h0m-5.8 .1h0" stroke="#ff2a3a" stroke-width="2.5" stroke-linecap="round" fill="none"/><path d="M420.7 284.9h0m-4.7-2.9h0m-5.2 1.8h0m-1.7-1.6h0m-11.7 .6h0m-1.8 8h0m2.6-5h0m14.7 .2h0m3.5-.7h0m4.9 9.7h0m-.2 1.6h0m-1-5.1h0m-3.7 5.1h0m0-.5h0m-18.6-1.7h0m-1.8-1.2h0m-1.2 3.3h0m-1.8-.5h0m-.1-3.1h0m-7.9 4.4h0m4.5 1h0m12.3 2.5h0m1.1 1.7h0m3.4-1.9h0m7 1.8h0m1.4-5.2h0m.7 5.5h0m2.4-1.2h0m4.1 .7h0m5.9 .2h0m4.2 1.3h0m-1.3-.1h0m-7 3.1h0m-1.5-1.9h0m-13.8 .2h0m-11.9 2.5h0m-7.1 .2h0m-9.1-1.5h0m4.7 4.6h0m15.8-1.2h0m1 2.8h0m.5-2.8h0m3.1 1.2h0m7.4-.3h0m.9-1.5h0m.9 2.1h0m9.2-.9h0m.2 4.4h0m2-2.1h0m2.8-2.9h0m-5.4 7.9h0m-8.2 2.3h0m-.6-2.5h0m-2.9-1.2h0m-3.9 1.3h0m-.5-.6h0m-5.3 3h0m-6.9-1.9h0" stroke="#2a55ff" stroke-width="2.5" stroke-linecap="round" fill="none"/><path d="M412.3 295.1h0m-6.9 1.2h0m3.2 4h0m18.6 4.6h0m-2.2-1.1h0m-20.8 4h0m-6.3 1.6h0m10.4 3.3h0m6 2.9h0" stroke="#ffffff" stroke-width="2.5" stroke-linecap="round" fill="none"/><path d="M412.8 282.5h0m-16.8 4.7h0m13.2 2.5h0m.6-1.8h0m.3 .9h0m2.4-.7h0m5.4 .1h0m2.5-1.9h0m3.6 .8h0m5.8 7.8h0m-3.4 1.7h0m-4.4-4.3h0m-4.7 2.8h0m-4.7 .5h0m-2.4-.8h0m-3.1-1.7h0m-6.5 1.3h0m-2.9 .7h0m-1.5 1.1h0m-4.9 4.6h0m10.4-3.2h0m6.2 3.4h0m4.1 .5h0m1.4-2.2h0m3 1.6h0m.8-3.6h0m-3.5 8.7h0m-5.7-1.9h0m-3.1 .1h0m-.4 .2h0m-.8 2.2h0m-16.6-1.9h0m8.4 4.6h0m2.4 4.1h0m8.8-2.9h0m2.7-.3h0m.8 2.3h0m15.2-2.4h0m4.8 .1h0m-7.3 9.7h0m-5.7-4.4h0m-20.4 1h0m-.8-.5h0m-2.2-.7h0" stroke="#ff4fd0" stroke-width="3.0" stroke-linecap="round" fill="none"/><path d="M406.7 280.3h0m-15 3.4h0m-3.5 6.9h0m8.7-4.9h0m17.4 5h0m.9-5h0m.3 2.8h0m2.1 1.4h0m17.6 5.4h0m-17.6-3.2h0m-8.4 2.5h0m-10.8-.3h0m-4.8-.3h0m-3.9-.6h0m-4 2h0m5.1 2.4h0m1.4 2.1h0m1.8 2.8h0m12.9-5.4h0m10.1 .3h0m2.3 .6h0m2.7 1.5h0m1.9 .7h0m5 1.4h0m-2.4 6.5h0m-1.8 .4h0m-13.2-4.4h0m-3.9 .7h0m-5-.1h0m-1.8-1.7h0m-8.5 2.5h0m-5.6 1.5h0m5.1 5.8h0m1.2-2.8h0m4 2.3h0m3.6-3.2h0m1.6 .3h0m2.6 4.8h0m6.9-1.1h0m.5-.7h0m3.3 1.1h0m15.9 1.5h0m-18.3 5.5h0m-4-2.4h0m-9.9-.6h0" stroke="#ff2a3a" stroke-width="3.0" stroke-linecap="round" fill="none"/><path d="M403.6 281.1h0m-13.5 5.2h0m5.5 2.7h0m9.9 5.6h0m-3 .1h0m-.2 1.9h0m24.7 5.3h0m-5.5 3.2h0m3.8 4.3h0m-17.9 5.9h0m-11.3 3.4h0" stroke="#2ee84a" stroke-width="3.0" stroke-linecap="round" fill="none"/><path d="M415.9 284.8h0m-1.3-3.1h0m-5.8 1.9h0m-26 4.4h0m13.1 .3h0m2 .9h0m8.3-1.5h0m3.4 .5h0m.2-1.3h0m1.9 .3h0m5.3 2.4h0m3.3-3.1h0m1.1 4.8h0m-6.1 4.6h0m-1.1 .9h0m-2.6-4.7h0m-2 1.9h0m-15.5 1.7h0m-5.6-1.5h0m-.6-1.4h0m18.2 9.6h0m2.5-2.1h0m.1 2.4h0m2.6-.6h0m16.8 4.7h0m-7.1-1.7h0m-.1-1.8h0m-32.1 10h0m18-1h0m.4 1.3h0m9.1-1.5h0m3.1 2.8h0m10.8-1.3h0m-10.5 5.4h0m-8.2 1.9h0m-.8-4.4h0m-4.2 .9h0m-1.2 .9h0m-6.8-.7h0m2.7 5.5h0" stroke="#ff4fd0" stroke-width="2.0" stroke-linecap="round" fill="none"/><path d="M416 278.7h0m2.2 5.4h0m-19.8-1.4h0m-.5-1.3h0m-1.5 8.9h0m1.6-2.8h0m.3 .9h0m1.2-1.5h0m14.7 .9h0m5.1-.3h0m5.5 5.3h0m-5.8 .9h0m-.2-2h0m-7.6 .8h0m-1 1.1h0m-6.1 .4h0m-11.8 .3h0m-1.3-1.9h0m13.5 8.7h0m6.5-2h0m14 2.4h0m-8.1 6.9h0m-9.1-1.9h0m-5.8 .9h0m-5.4-4.2h0m-.7 1.3h0m-2.2 3h0m-5-2.9h0m14.8 10.3h0m.2-.5h0m14.8-3.1h0m-4.5 8.4h0m-13.5-2.3h0" stroke="#ff4fd0" stroke-width="2.5" stroke-linecap="round" fill="none"/><path d="M395.1 290.8h0m9.2-3.5h0m-11.3 12.3h0m5-2.3h0m23.1 11.3h0m-8.4 .2h0m-8.9 4h0" stroke="#2ee84a" stroke-width="2.5" stroke-linecap="round" fill="none"/><path d="M407.3 291.6h0m-8.4 1.9h0m-4.6 3.2h0m-5.2-5.1h0m1.2 8.6h0m17.1-2.6h0m2.7 .8h0m20.7 1.5h0m-31.4 14.2h0m4.5 3.9h0" stroke="#2ee84a" stroke-width="2.0" stroke-linecap="round" fill="none"/><path d="M397.2 289h0m21.6 1.5h0m-24.8 11.7h0m1.8-.6h0m4-.4h0m.6 1.3h0m12.5 5.3h0m-18.5 2.1h0m10.8 5h0" stroke="#ffffff" stroke-width="3.0" stroke-linecap="round" fill="none"/><path d="M402.3 288h0m12.5 4h0m-1.9 8.9h0m16.4-.6h0m.5 7.6h0m-17.3-1.1h0m9.8 7.4h0" stroke="#ffffff" stroke-width="2.0" stroke-linecap="round" fill="none"/><path d="M421.2 278.3h0m-.5 1h0m-22.3 11.2h0m3.3 20.6h0" stroke="#ff2a3a" stroke-width="1.2" stroke-linecap="round" fill="none"/><path d="M419.2 266.2h0m13.3 9h0m-45.7 5.9h0m3.2 7h0m20.5 8.6h0m-5.4-2.2h0m-22.4 2.2h0m4.6 1.3h0m10.3 2.7h0m16.6 1.1h0m19.3 4h0m-18.8 .6h0m-28.1-2.4h0m4.3 5.4h0m47.3 11.4h0m-9.7-1.8h0m-37.6-3.9h0m24.2 6.1h0m6.7 5h0m6.5-3.2h0" stroke="#ffffff" stroke-width="1.8" stroke-linecap="round" fill="none"/><path d="M414.3 314.9h0m-7.9 1.6h0m11.4 7.2h0m14.3-1.4h0m2.5 4.9h0" stroke="#ff2a3a" stroke-width="1.8" stroke-linecap="round" fill="none"/><path d="M411.9 275.4h0m11.5 9.9h0m-29 10.3h0m-12.1-2.7h0m55.3 15.4h0m-19.2 3.9h0m-.5 3.8h0m-20.6 7.2h0" stroke="#2a55ff" stroke-width="1.2" stroke-linecap="round" fill="none"/><path d="M416.8 268.2h0m11.7 12h0m-16.8 22h0m-28.2 19.8h0" stroke="#ffffff" stroke-width="1.2" stroke-linecap="round" fill="none"/><path d="M387.5 279.7h0m46.2 27.5h0m-51.9 6.1h0m.9 10.1h0" stroke="#2a55ff" stroke-width="1.8" stroke-linecap="round" fill="none"/></g></g>
<text x="381.6" y="276.9" font-size="9.6" fill="#f7de00">i (0.12)</text>
<rect x="421.7" y="322.5" width="12.6" height="1.6" fill="#fff"/>
<defs><clipPath id="q4"><rect x="378" y="330.5" width="60.5" height="61.7"/></clipPath></defs>
<rect x="378" y="330.5" width="60.5" height="61.7" fill="#0d0d20"/>
<g clip-path="url(#q4)"><g filter="url(#bl3)"><path d="M416.4 338.6h0m.2-3h0m1.6-.9h0m4.3 .2h0m6.1 3.7h0m7.7 2.7h0m-7.5 .6h0m-1.8 1.2h0m-1.6-.9h0m-.3-.9h0m-1.7 .6h0m-.8-.5h0m-2.6 .4h0m-1.7-1.9h0m-1 2.2h0m-.7-.9h0m-.1-1.3h0m-.1 3.3h0m-1.5-.8h0m-.6-1.2h0m-7.9 3.7h0m-10.2 5.9h0m.7-1.7h0m3.5-1.4h0m.3-2.6h0m.9 4h0m.1-3.3h0m.5 2.4h0m1.5-2.6h0m1.7-.6h0m1.9 2.5h0m.1 2.8h0m.3-2.4h0m.7-.7h0m6-.6h0m.8 .9h0m.7 2.1h0m.7 0h0m.3 .9h0m2.2-1h0m.2-4.4h0m3 3.7h0m.7-3.6h0m.4 3.9h0m.7 .3h0m1.1-3.5h0m0 3.9h0m.4 0h0m0-2.3h0m2.5-2h0m.7 3.4h0m2.4 0h0m5.8 3h0m-2.9 .7h0m-1.5-.5h0m-.1-.7h0m-.5 2.4h0m-.6 3h0m-1.4-3.6h0m-1.4 2.5h0m-.3-3.7h0m-.2 1.9h0m-.2 .6h0m-.2 1.3h0m-1.6-.7h0m-.8-.9h0m-.3 .7h0m-.8-2.3h0m-1.3 3.2h0m-.6-1.9h0m-.7 .6h0m-.8-.2h0m-2-2h0m-.6 3.8h0m0 .7h0m-.2-5h0m-.1 2.1h0m-1.4-2.7h0m-.7 0h0m-2.2 4.3h0m-6.6 .2h0m-.4-1.2h0m-2.8-.7h0m-.3 1.3h0m-2.5-1.9h0m-.4-1.1h0m-4.3-.7h0m-.7 1.4h0m-1.3 6.8h0m1.2-1.3h0m2 3.1h0m1.1-1.6h0m.3 .2h0m.6 2.6h0m.9-.1h0m3.5-2h0m0 2.5h0m.4-2h0m2.1-.3h0m1.2-.7h0m.1 1.9h0m.3-3.3h0m1.6 1.1h0m1.7-2.3h0m.3 3.5h0m.2-3.7h0m.6 4.4h0m1.4-.4h0m.5-.6h0m.8-.3h0m.1-.8h0m.8 2.4h0m.2-2.3h0m.4 .7h0m1 .6h0m1.6 2.1h0m1.5-2.5h0m1.1-1.8h0m.2 .5h0m1.4 .3h0m.4 2.2h0m.4-.2h0m1.6-4.4h0m.9 .8h0m.4 .6h0m1.3-.1h0m2.6 2.2h0m.5-.8h0m1 2h0m.2-3.8h0m1 .6h0m1 4.3h0m.4-1.1h0m3.1-.6h0m-6.1 3.8h0m-1.9 2.7h0m-1.1-2.3h0m-.1 2h0m-.6 .6h0m-1.7-.2h0m-.3-1.7h0m-1-.6h0m-.1-1.2h0m-.7 4.1h0m-.4 .3h0m-.6-.5h0m-.9-2.1h0m-.4-2.5h0m-.9-.5h0m0 1.2h0m-.1-.3h0m-1.5 4.1h0m-.2-1.7h0m-1.2-.7h0m-.9-2.5h0m-5.6 3.6h0m-5.9-2.2h0m-.9 1h0m-.3-1.6h0m-1.8 3.6h0m-1.2-1.7h0m-1.4-1.8h0m-1.5-.9h0m-4.1 0h0m-6.2 2.5h0m6.8 4.7h0m.3 3.4h0m.4-3.7h0m1.5-.4h0m3.2 1.8h0m2.4 .5h0m1.5 .1h0m2.9-.9h0m2 1.1h0m1.1 .8h0m1.9-2.8h0m.7 1.3h0m.2 2.4h0m1.3-1.9h0m1.8-.1h0m.2 .7h0m.5 .2h0m1.7 .9h0m1 1.2h0m1.7-1.8h0m2.8-3.5h0m.4 .3h0m.8 0h0m.3 4.5h0m.3-1.9h0m.3 1.7h0m0-3.4h0m.2 2.6h0m2.1-4h0m.2 .9h0m.3 1.4h0m1.2 0h0m2.3 2.2h0m1.9-3.8h0m0 4.3h0m.8-3.3h0m-10.2 7.4h0m-.7-2.2h0m-.1 1.3h0m-1.4-2.6h0m-5.5 5.6h0m-1.4-2.4h0m-1.3-.6h0m-1.7-2.6h0m-2.2 3.6h0m-1.3-2.6h0m-3.3 3h0m-.4 .3h0m-2.9-3.3h0m-3.9 2.6h0m-.4-2h0m-3.2 3.3h0m2.3 4.5h0m3.2 1.5h0m5.6-3h0m.7-1.3h0m.7 .7h0m3.5 3.5h0m6.9-.4h0m1.3-.2h0m1.2-.5h0m.8-2.2h0m5.6-1h0m-16.7 5.9h0m-4.3 1.8h0m-4.7-1.4h0" stroke="#2ee84a" stroke-width="2.4" stroke-linecap="round" fill="none"/><path d="M414.7 338.1h0m1.2 .7h0m14.6 3.9h0m-.8 1.2h0m-2.3-3.5h0m-2.5-.9h0m-.3 2h0m-.3 2.4h0m-.6-3.8h0m-4 .3h0m-2 2.5h0m-.2-2.1h0m-2.9 .6h0m-15.1 4.5h0m.2 1.1h0m8.5 1.9h0m2.9-1h0m8.3-.3h0m7.4 2h0m3.6-3.4h0m0 .2h0m2.1 0h0m2.9 4.8h0m-4.3 4.7h0m-1 .3h0m-2.5-1.2h0m-.6-.6h0m-6.7-.3h0m-1.1-2.3h0m-12 3.8h0m-3.3 .8h0m-6.2-.7h0m0 .3h0m-1.1 .1h0m3.2 3h0m.8-1.4h0m3.3 .6h0m4.8 .7h0m3.3-1.2h0m1.6 1.3h0m1.4 1.4h0m10.1 1h0m1.4-1.7h0m3.7-1.8h0m6 3.3h0m-.2 3.6h0m-2.7 2.2h0m-4.6-1.5h0m-8.1 1.9h0m-12.4 .7h0m-7.3-.7h0m-7.2 .4h0m3.9 3.4h0m3.1-.6h0m.6-1h0m20.7 1.9h0m.6 2.8h0m4.4-2.7h0m2.6 6h0m-9.2-.1h0m-4.4 1.4h0m-11.7 1.2h0m-5.9-.4h0m15.1 3h0m.9 2.3h0m.4-1.6h0m2.8 2.2h0m.8 3.7h0" stroke="#b8f034" stroke-width="3.5" stroke-linecap="round" fill="none"/><path d="M421.9 335.8h0m.9 1.9h0m4.1 0h0m7-.6h0m1.8 7.1h0m-7.9-2.7h0m-1.6 .9h0m-.9 .7h0m-6.4-.8h0m-4 .9h0m0 .2h0m-.2-.2h0m-11.9 1.2h0m-3.4 .1h0m-5.3 5.4h0m2.4-.9h0m3.3-2.1h0m2.3 0h0m1.9 3.8h0m.4-3.2h0m.7 1.8h0m1.2-3.3h0m.2 1.5h0m3.7-2.5h0m.9 4.1h0m2.1 1.8h0m2-4.2h0m.1 2.8h0m1.6 .4h0m.6 .5h0m1.1-.1h0m1.5-4.7h0m.8 5h0m1.5-4.2h0m2.7 .5h0m1.6-1h0m.9-.2h0m2.5 0h0m.3 .5h0m1.7 3.5h0m.6-2.6h0m3.1 3.1h0m-.4 3h0m-2.5 1.6h0m-.1-2h0m-1.4 2.4h0m-.6-.3h0m-2.4-1.5h0m-1.4 2.1h0m-.8-.7h0m-.7 .3h0m-1.7-1h0m-.6-.7h0m-.4 .1h0m-2.7 2h0m-.1 1.2h0m-.7-.8h0m-2.9-4.5h0m-.8 3.8h0m-.8-4h0m-.3 2.5h0m-3.3 .6h0m-1.6-2.6h0m-.6 .9h0m-6.7-.3h0m-4.2 1.6h0m-.7-2h0m-.7 4.3h0m-1.2-4.2h0m-.1 4.7h0m-1.8 3.9h0m3.5 2.2h0m1-1.1h0m2.1-3.2h0m2.8 .2h0m1.7-.4h0m.2 .4h0m.1 4h0m.7-1.1h0m.7 .6h0m.7-4.7h0m.1 .1h0m.3 4.7h0m3.5-1.1h0m0 .3h0m.1-3.9h0m.7-.4h0m3.1 3.4h0m.3 0h0m0 .1h0m4.7-.8h0m2.7-1.8h0m.2 3.2h0m1.6-.3h0m1.6 .8h0m.7-3.7h0m3.5 3.7h0m1.8 .1h0m3.6 1.6h0m-.7 2.6h0m-.3 2.8h0m-1.7-3.4h0m-.6-2h0m-1.2 1.3h0m-.1 2.3h0m-.1-3.6h0m-1.4 5.4h0m-1.6-.1h0m-.6-5.4h0m-.7 3.8h0m-1.3 .4h0m-.9-2.4h0m-1.1-.5h0m-1.9 .3h0m-3.2 1.8h0m-5 1.1h0m-.8 .6h0m-4.9-3.5h0m-2.2 2h0m-2.2-2.2h0m-1.2 3.4h0m0-.4h0m-.6-3.8h0m-1.6 1h0m-.6 3.3h0m-.8-5.1h0m-.9 3.9h0m-4.5 3.9h0m1.3-.3h0m2.1 1.9h0m.3 .6h0m1.6 1.4h0m2.1-1.9h0m.1-.8h0m.4 2h0m1-3.2h0m3.6 2.3h0m.2 .8h0m.9-3h0m1.1 2.1h0m1.4-3.4h0m1 2.8h0m2.5 2.6h0m4.3-5.4h0m.6 4.4h0m.1-3.5h0m1.7-.3h0m.1 2.9h0m.2-3.5h0m.1 1.8h0m.7 .9h0m2.1 2.6h0m1.3-5.2h0m1.4-.6h0m.7 3.2h0m.4 2.3h0m3.6-4h0m.1-1.3h0m.6 5.3h0m.9-3.3h0m1.9 2.5h0m-3.1 1.4h0m-.2 5h0m-1.9-.3h0m-2.6-2.2h0m-.2-.3h0m-2.9 2.3h0m-1.3-.8h0m-1-2.6h0m-.1-.9h0m-4.8 5.1h0m-1-1.9h0m-.5-.4h0m-.3 2.3h0m-3.2-4.2h0m-1.6 1.7h0m-2.2 1.2h0m-.1 .5h0m-.1-.8h0m-2.1 .2h0m-1.8-2.3h0m-.9-1h0m-2 3h0m-1.2-1.1h0m-1.7 1.6h0m0 4.1h0m12.9 2.1h0m.9-4.3h0m3.4 .3h0m.2 4.9h0m.3-.8h0m6.3-2.2h0m3 3.4h0m1.2-2.5h0m-2.3 5.1h0m-.9-1.4h0m-4.3 1.9h0m-4.6-2.2h0m-2-.1h0m-.4 .6h0" stroke="#2ee84a" stroke-width="3.5" stroke-linecap="round" fill="none"/><path d="M416.3 338.2h0m1.2-1.2h0m.3-1.8h0m3 .5h0m2.9-2h0m1.5 2.7h0m3.7 2.5h0m1.9 1.9h0m-1.7 2.6h0m-.3 .6h0m-4.9-2.2h0m-.8 1h0m-.3 1h0m-.8 .6h0m-1.1-4.8h0m-.6 3.6h0m-.5-.8h0m-4.3 2.2h0m-6.6-.1h0m-11.4 0h0m.8 3.4h0m2-2.5h0m4.1 2.8h0m.6 .2h0m2.2-.8h0m.1 1h0m.7-3.1h0m1.5 3.3h0m2-.6h0m.7 .2h0m.5 1.9h0m0 .2h0m.3-4.3h0m.4 1.8h0m.2 1.4h0m6-1.1h0m.5-2.8h0m1.6 2h0m.9-1.5h0m3.2 1.8h0m1.3 2.7h0m.4-3.6h0m.1-.5h0m.5 .5h0m3.7 .7h0m2.5-.9h0m1.3 2.6h0m2.7 7.4h0m-4.3-2.4h0m-.4-.8h0m-3.8 3.4h0m-1.4-3.6h0m-.4 .5h0m-1.1 .8h0m-.6-.5h0m-.6 2.5h0m-.1-.2h0m0-2.8h0m-.8 2.3h0m0-2.1h0m0 1.1h0m-.1-2.7h0m-.7 .5h0m-.8 1.1h0m-.1 1.4h0m-1.5-1.9h0m-.1 1.7h0m-1.2 1.1h0m-.9-3.5h0m-2.7 2.8h0m-.4-3.1h0m-.3 2.4h0m-.5 .5h0m-4-2.5h0m-1.7-.8h0m-1-.7h0m0 .8h0m-.1 4.5h0m-.3-3.1h0m-.6 1.8h0m-.2-2.7h0m-.3 .7h0m-.1-2h0m-.2 2.6h0m-.6 2.1h0m-.7-4.6h0m-.2 .7h0m-.8 3.3h0m-3.9-3.6h0m-.2 1.6h0m-.1 .9h0m-2.1 .3h0m-.5 1.8h0m-2.3 .3h0m-1.5-2.3h0m1.2 8h0m.4-2.6h0m.1-2.5h0m2.7 1.9h0m.2 2h0m.5 .2h0m.3-2.4h0m2.8-1.4h0m.8 .9h0m.5-.3h0m1.4 2.4h0m.5-3.4h0m.7 3.1h0m1.1 1.7h0m2.6-1.9h0m.9-.3h0m.3-.3h0m2 0h0m0 .2h0m1-1.4h0m3.7 2.8h0m1-3.8h0m.1 5.2h0m.1-5h0m.3 1h0m.4 0h0m.5 .1h0m.1 .4h0m1.4-1.2h0m.4 1.7h0m4.5-.8h0m.3 .5h0m5.2 2.3h0m1-1.8h0m.3-1.9h0m.3 3.1h0m.4 .6h0m1.5-.3h0m-1.3 2.1h0m-.3 .3h0m-.6 0h0m-2.1 2.3h0m-.2 2.9h0m-.5-.2h0m-.4-1.4h0m-2.8-2.7h0m-1.1-.8h0m-3.1-.4h0m-.1 5.5h0m-1.6-4.1h0m-.4 4h0m-1.4-4.4h0m-.7 1h0m-1.5 1.1h0m-.2 2.5h0m-.9-2.1h0m-4.4 .8h0m-.3-2.6h0m-1.6 0h0m-3.5 3.6h0m-.2 .4h0m-.1-4.1h0m-1.6 3.2h0m-.8-.4h0m-.1-4.2h0m-.3 0h0m-1.9 3.9h0m-1.6-3.7h0m-.7 .6h0m-.5 3.8h0m-.1-4.4h0m-4.2 4.7h0m-.2 3.1h0m6.3 1.5h0m2.5-3.2h0m1.3 .3h0m1.3-.5h0m6.6 3.1h0m1.5-1.8h0m.8 2.1h0m.1 1.3h0m1.8-2.8h0m.7-1h0m.6-.5h0m.3 3.8h0m.1-3.3h0m2.3 1.6h0m5.2 2.9h0m0-2.7h0m1.2-1.1h0m1.9 1.6h0m1.6-1.9h0m0 2.9h0m1-3.2h0m1.9 .4h0m1.4 .6h0m.6 3.1h0m-6.1 5.1h0m-3.5 .4h0m-1-1.8h0m-.1-2.1h0m-.2 4.1h0m-3.7 .4h0m-.9-2.1h0m-5.5 1.1h0m-7.6-2.7h0m0 1.6h0m-.2-.6h0m-3 2.8h0m-5.8-2.1h0m-2.4 2h0m-1-4.2h0m-1.5 .7h0m3.9 6.7h0m3.3-1.7h0m1.8 1.1h0m2.8 0h0m3.2 1.1h0m2 1.9h0m.2-1.4h0m2.6 .5h0m1.9-3.3h0m3.1 1.6h0m2.9 1.1h0m.1-1.8h0m3.6-1.7h0m3.5 3.9h0m-3.6 4.9h0m-1.6-2.3h0m-5.7 1.3h0m-2.5 .5h0m-.9-2h0m-2.3 3.1h0m-13.9-1.8h0" stroke="#2ee84a" stroke-width="3.0" stroke-linecap="round" fill="none"/><path d="M416.7 336.5h0m16.4 7.4h0m-1.1-2.3h0m-6 3.1h0m-20.9 .2h0m-12.1 .7h0m1.4 3.2h0m1.2 1h0m.7-.7h0m1.5-2h0m1 1.4h0m1.2-3.4h0m2.8 4.3h0m8.4-.4h0m.8-2.3h0m4.8-1.6h0m2.8 .7h0m.2-.1h0m3.5 2h0m2.1-2.3h0m1 0h0m.9 4.5h0m.3-.2h0m.6 1h0m4.7-3.1h0m2.3 2.5h0m.6 6.2h0m-6.9-2h0m-5 2.4h0m-.3-5h0m-.3 3.5h0m-.1 .8h0m-.3-2.3h0m-.6-1.1h0m-.2-.4h0m-2.9 .7h0m-1.1 3.3h0m-1.6-4.5h0m-.3 1.3h0m-.6 3.9h0m-.1-5.7h0m-1-.1h0m-7.6 3.3h0m-3-1.2h0m-10.6 6.8h0m10.5-1.7h0m2.4 4.7h0m1.5-3.6h0m3.7 2.7h0m1.4-.9h0m.8 .9h0m.9-4.1h0m.3 4.1h0m.3-2.5h0m.5-.7h0m2-.7h0m1.2-.2h0m5.3 4.8h0m2.1-.5h0m.1-4.3h0m1.3 .1h0m0 .4h0m.8 .4h0m.2-.5h0m7 9.2h0m-2.6-.6h0m-5.5-1.5h0m-1.2 .1h0m-1.9 .3h0m-.2-.7h0m-.2 1.6h0m-7.5-1.6h0m-7.2-1.1h0m-3.5 .9h0m-9.2 6.7h0m.5 2.1h0m2.7 1.2h0m3.2-4.2h0m5.8 3.5h0m14.7-4.1h0m2.9-.6h0m2.7 1.4h0m2.8-1.5h0m.3 2.8h0m-9.7 6.5h0m-2.5-2.7h0m-4.5 2.7h0m-9 .4h0m-4.6 .9h0m-2.3-1.5h0m-2.3-.9h0m6.2 5.3h0m1.4 2.6h0m6.7-1.7h0m4.2 4h0m-17.8 1.1h0" stroke="#b8f034" stroke-width="3.0" stroke-linecap="round" fill="none"/><path d="M425.5 344h0m-19.5 4.9h0m4.9 .5h0m8.8-3.3h0m8.8-1.1h0m3.5 2.6h0m.9 .5h0m-39.9 9.8h0m12.1 3.5h0m31.1-3.7h0m-6.8 8.4h0m-19.7 1.3h0m-6.8-3.5h0m-1.9 0h0m17.5 5.2h0m12.4 2.1h0m-7.2 5.3h0" stroke="#38d6ff" stroke-width="3.0" stroke-linecap="round" fill="none"/><path d="M423.1 337h0m-.5 9.1h0m6.7 3.8h0m4.8-.5h0m-24.5 4.6h0m-3.7 5.2h0m18.4 2.1h0m6.7-4.3h0m-22.7 8.4h0m-1.2 .2h0m-2.4 2.9h0m-1.4-3.5h0m-3.1 5.9h0m2.4 3.2h0m10.5-.9h0m16.7-2.3h0m-6.4 9.5h0m-3.5-1h0m-2.3-3.9h0m-9 .2h0m-5.6 3.8h0m-5.1 2.2h0" stroke="#f4ee2a" stroke-width="3.5" stroke-linecap="round" fill="none"/><path d="M415.6 335.8h0m1.8-2.2h0m11.4 4.5h0m2.4 5.6h0m-2.4 1.2h0m-1.3-4.1h0m-2.7 3.7h0m-4.9 .2h0m-15.6-.3h0m.4 6.3h0m.1-3.2h0m7.1 .6h0m2.3 .7h0m.8-3.3h0m.4 3.5h0m.9 1.3h0m.5-5.3h0m5.5 5.6h0m.2-.6h0m.9-5h0m1.6 3.5h0m.2 1.6h0m.2-4h0m.1-.4h0m4.2 1.9h0m1.7 3h0m.6-3.9h0m3 5.1h0m-1 3.1h0m-1.4 1.1h0m-.7-2.2h0m-.7-.6h0m-.8 1.8h0m-.2-3.9h0m-1.8 .2h0m-4 4h0m-1.8-3.7h0m0 5.3h0m-.2-2.7h0m-1.2-.5h0m-.4-.2h0m-1.8 2.9h0m0-1.7h0m-.6 1.3h0m-.1-3.9h0m-3.1 3.9h0m-.3-2h0m-1.7-1.8h0m-1.6 2.5h0m-.7-1.5h0m-.2-1.9h0m-.3 4.7h0m0-4.4h0m-1.4 4.1h0m-.2-1.9h0m-.3 2h0m-1.9-1.3h0m-1.2 2.1h0m-3-4.5h0m-1.5 .8h0m-5.6 3.7h0m2.5 3.9h0m2-3.5h0m.2 2.2h0m6.7-.8h0m4.9 1.4h0m.5-.8h0m3.2-1.9h0m.3 3.1h0m.2 2.7h0m.3-3.7h0m0-1.2h0m6.5 4.8h0m1-1.9h0m.3-1.7h0m1.2 2.7h0m1.9-3.4h0m2.4 3h0m2.8 3.4h0m-4.8 .5h0m-1.2 0h0m-.1 3.4h0m-2.4-5.2h0m-3 1.5h0m-1.7 2h0m-1.1-2.9h0m-3.3-.1h0m-.8-.8h0m-2.4 3.4h0m-.7-.1h0m-6.2-3.5h0m-2.3 2.6h0m-2.2 3h0m-1.7-4.7h0m-2.9 3.6h0m.3 1.6h0m4.7 2.2h0m3.7 2.4h0m1.4 .3h0m9.4-.4h0m7.8-1.8h0m7.8-1.8h0m-2.9 8.7h0m-2 1.9h0m-4.5-4.1h0m-9 .7h0m-2.2-1.8h0m-1.1 4.7h0m-.2-3h0m-1.3 1.6h0m-10.5 1h0m-1.3 .7h0m-1.8-5h0m9 6.1h0m10.5 4.3h0m3.3-3.3h0m5.6 2h0m-9.7 2.5h0m-7.9 0h0" stroke="#b8f034" stroke-width="2.4" stroke-linecap="round" fill="none"/><path d="M415.1 344.2h0m-15.1 4.3h0m12.4 .9h0m1.7 .5h0m1.4-2.4h0m1.8 1.8h0m13.5-2.3h0m.6 4.3h0m-3.9 3.3h0m-5.2 .3h0m-1.5-2.3h0m-.5 2.1h0m-17.3-3h0m-4 11.2h0m3.5-2.2h0m17.1 1h0m5-4.2h0m.3 7.2h0m-1.3-.8h0m-2.2 2.4h0m-4.7-1.7h0m-.4 4h0m-7.2 4.8h0m1.8-1.8h0m3.9 5.5h0m-1.7 2.4h0m-2.7 1.4h0m-13.4-3.1h0" stroke="#f4ee2a" stroke-width="3.0" stroke-linecap="round" fill="none"/><path d="M407.4 361.1h0m-3.1 2.2h0m-8 7.5h0m28.3 6.1h0m-1.9 10.2h0" stroke="#ffffff" stroke-width="3.0" stroke-linecap="round" fill="none"/><path d="M425.3 344.3h0m-18.9 5.5h0m-6.2 4.4h0m29.7 11.6h0m-14.9 2.3h0m-2-4.1h0m-8 6.3h0m16.8 .3h0m3.4 4.6h0m-25.7 9.6h0m15 1.1h0m13.5 2.5h0" stroke="#38d6ff" stroke-width="3.5" stroke-linecap="round" fill="none"/><path d="M422.1 338.5h0m-18.4 9.6h0m12-2h0m8.2 4h0m3.5-1.9h0m1.9 1.4h0m2-2.8h0m3.8 7.6h0m-4-2.9h0m-.3 5.1h0m-2.8-.6h0m-2.2 .8h0m-.6-.9h0m-.8-3.4h0m-.5 .5h0m-2.5 1.1h0m-1.4 1.5h0m-.8 .7h0m-3.1-1.6h0m-9.3-3.1h0m-9.5 11.3h0m15.2-4.6h0m3.9 3.2h0m9.8-2.5h0m2-1.5h0m5.4 .1h0m4.7 7.9h0m-9.7 1.8h0m-20.3 4h0m26.8 1.5h0m-24.5 12.1h0m8.5 .9h0" stroke="#f4ee2a" stroke-width="2.4" stroke-linecap="round" fill="none"/><path d="M403.9 354.8h0m-5.6-.7h0m30.7 3.9h0m-9.2 6.3h0m-2 .9h0m-20.3 4.7h0m32.4 4.7h0m-32.3 2.2h0" stroke="#ffffff" stroke-width="2.4" stroke-linecap="round" fill="none"/><path d="M421.4 340.8h0m-20.3 4.1h0m-5.4 5.1h0m33.6-1.6h0m-6 3h0m-26.1 2.7h0m14 8.3h0m20.5 3.7h0m-25.5 14.5h0m3.6 6.9h0m-5.9 3.6h0" stroke="#38d6ff" stroke-width="2.4" stroke-linecap="round" fill="none"/><path d="M397.4 354.5h0m32.3 22.5h0" stroke="#ffffff" stroke-width="3.5" stroke-linecap="round" fill="none"/><path d="M394.1 355.6h0m-6 6h0m2.1-2.6h0m5.3 1h0m-8.3 12.3h0m1 .7h0m2.3-.1h0m2.6-3.5h0m3 2.1h0m3.6 1.9h0m-2.6 5.8h0m-.8 .4h0m-1.5-.3h0m-.2 4.2h0" stroke="#ffffff" stroke-width="2.6" stroke-linecap="round" fill="none"/><path d="M389.8 361.9h0m8.9 5.7h0m-12.1 6.3h0m6.9-2.4h0m.4 .1h0m2.8 1.3h0m3.8-3.1h0m-15.4 5.6h0" stroke="#38d6ff" stroke-width="2.6" stroke-linecap="round" fill="none"/><path d="M386.9 359.8h0m.9 .9h0m2.6-.8h0m4.1-1.1h0m.3 2.2h0m8.2 2h0m-1.3 .8h0m-3.2 3.4h0m-1-.3h0m-.8-2.3h0m-2 1.9h0m-1.9-2.4h0m-2.9 2.1h0m-.5-1.1h0m-1 1.1h0m-3.1-1.5h0m-.4-.1h0m-1.5 9h0m1-3.9h0m4.9 3.1h0m.8-1.3h0m2.3 2.8h0m.3-2.8h0m1.5-1.5h0m.6-.3h0m.6 .5h0m1.1 1.5h0m.8-.2h0m.2 1.6h0m2.8 1.7h0m.2-4.1h0m-.5 6.7h0m-1.6 .2h0m-.1 .9h0m-2-3.3h0m-2 2.7h0m-.8 1.2h0m-1.7-.5h0m-2.9-.5h0m-.2 1.4h0m3.2 5.5h0m4.6-1.7h0" stroke="#2ee84a" stroke-width="2.6" stroke-linecap="round" fill="none"/><path d="M390.8 360.5h0m.1 0h0m1.1 1.9h0m.6-1.6h0m1.4-.3h0m.6 1h0m.6-1.4h0m.7 2.1h0m1.6-1.3h0m2.4-.6h0m.5 2h0m1.2 .3h0m-1.1 5.4h0m0-2.1h0m-.1 2h0m-1.9 .8h0m-.1-4.9h0m-.5 4.7h0m-1.2-3.9h0m-1.3 2.9h0m-2.2-4.2h0m-.2 .2h0m-4.6 .9h0m-4.4 4.4h0m0 2.5h0m3.7-.1h0m.8-1.3h0m.6 4.6h0m2.4-.5h0m2.6-.9h0m2.7-.9h0m.5 1.5h0m2.6 2.7h0m-3.3 2.8h0m-2.6 0h0m-4.3-1.6h0m-1.5 4h0m5.2 1.9h0" stroke="#2ee84a" stroke-width="2.0" stroke-linecap="round" fill="none"/><path d="M387.5 360h0m2 1.9h0m5.3 .2h0m4.5 6.1h0m-9.6-5.1h0m-4.1 9.6h0m8.6-1.5h0m1.3 3.4h0m1.1-2.2h0m.4-2.3h0m1.2-.6h0m.1 3h0m1.7 2.8h0m-2.9 1.8h0m-.3-1.2h0m-4.5 4.5h0m-6.5-3h0m7.1 6.2h0" stroke="#ffffff" stroke-width="2.0" stroke-linecap="round" fill="none"/><path d="M397.1 364h0m-2.5 4.7h0m-5.9-1.2h0m-.9-2.5h0m-6.1 5.1h0m3.8-.9h0m12 3.7h0m3.9 .1h0m-2 2.7h0m-7.9 8.5h0" stroke="#38d6ff" stroke-width="2.0" stroke-linecap="round" fill="none"/><path d="M380.3 349.1h0m44.9-3.3h0m-35.8 14.7h0m10 4.2h0m-10.5 1.8h0" stroke="#2ee84a" stroke-width="1.8" stroke-linecap="round" fill="none"/><path d="M419.8 342.9h0m-18.4 3.3h0m13.8 4.7h0m-23.7 3h0m-12.5 6.1h0m44.9 2.1h0m-40.2 6.5h0m4.7 3.6h0m24.1 1.3h0m7.7 .9h0m-2.6 .7h0m-37.8 8.5h0m2.3 0h0m18.4 3.8h0" stroke="#ffffff" stroke-width="1.2" stroke-linecap="round" fill="none"/><path d="M425.2 344.6h0m1.4 7.7h0m-27.4 20.6h0m-16.3 6.9h0m46.1 9h0m-37.4 2.1h0" stroke="#2a55ff" stroke-width="1.2" stroke-linecap="round" fill="none"/><path d="M397.3 348.3h0m33.7 2.9h0m-18.6 12.3h0m23.3 8h0m-.6 18.6h0" stroke="#ffffff" stroke-width="1.8" stroke-linecap="round" fill="none"/><path d="M389.9 371.2h0m29.3 1.3h0m-10.1 3.1h0m-.5 .6h0m-7.4 2.9h0m3.9 6.2h0" stroke="#2ee84a" stroke-width="1.2" stroke-linecap="round" fill="none"/><path d="M436.7 351.2h0m-26.7 11.3h0m6.8 11h0m7.5 5.6h0" stroke="#2a55ff" stroke-width="1.8" stroke-linecap="round" fill="none"/></g></g>
<text x="381.6" y="341.4" font-size="9.6" fill="#f7de00">ii (0.76)</text>
<rect x="421.7" y="387.2" width="12.6" height="1.6" fill="#fff"/>
<defs><clipPath id="q5"><rect x="615" y="266" width="60" height="61.5"/></clipPath></defs>
<rect x="615" y="266" width="60" height="61.5" fill="#030306"/>
<g clip-path="url(#q5)"><g filter="url(#bl3)"><path d="M654.6 283.7h0m-.1-.5h0m-6 1.6h0m-4.5-2.3h0m-1.4 .1h0m-1.1 .9h0m-.8 .5h0m-1-3.4h0m-.9 4.1h0m-8.1-4.4h0m-1 3.5h0m-.3-1.5h0m-4.9-.1h0m5.5 7.4h0m.2-1.7h0m.9 1h0m5.5 .6h0m1.5-1.9h0m2.9 3h0m.4-2.4h0m0 1.3h0m1.5-.4h0m1.4-3.1h0m.2 1.4h0m.2-.7h0m.4 .2h0m.4 3.9h0m.2-5.6h0m.4 .6h0m1.9 .3h0m1.8 1.4h0m.4 2.5h0m3.2-.5h0m1.4-4h0m3.9 4.8h0m1.3-1.9h0m.7 1.5h0m7 3.1h0m-4.5 3.6h0m-3.4-4.8h0m-6.1 .3h0m-3 4.3h0m-.2-1.8h0m-3.9-1.4h0m-.6 .3h0m-1.2 .4h0m-.2 2.5h0m-.2 .2h0m-.7-4.3h0m-.8 1.9h0m-.7 .1h0m-2.8-.1h0m-2.8-2.4h0m-1.7 .5h0m-3 3.9h0m-2.4-4.8h0m-2.2 3.2h0m-.8 0h0m-1.3-3.4h0m-.7 2.7h0m-3.7 1.3h0m2.2 3.4h0m.7-.4h0m1 2.1h0m1.8-.9h0m3.3-1.2h0m1.6 1.8h0m2.7 1.5h0m.5-4.3h0m.4 2.8h0m2.1 .4h0m2.8 .1h0m2.8-.7h0m.4 .9h0m2.2 .6h0m2.4-2.7h0m4.1 3.3h0m2.3-2.9h0m3.4-1.2h0m1.6 1.9h0m8.4 .4h0m3.3-.3h0m-3.7 5.2h0m-1.9 .4h0m-2.6 .4h0m-1.9 1.1h0m-2.4-2.8h0m-.2 3.6h0m-1.8-.8h0m-.1 0h0m-1.1 1.6h0m-6.6-3.7h0m-2.3-1h0m-3.1 2.2h0m-2.4 2.1h0m-.3-1.9h0m-.8-2.5h0m-2.2 5.2h0m-1-.8h0m-.4-3.1h0m-.5-.5h0m-2.1-1.2h0m-2.3 .4h0m-2-.5h0m-.7 0h0m-.5 4.7h0m-.7-1.9h0m-1-2h0m-4.8 1.6h0m-1.3 2.3h0m4.6 1.6h0m5.3 .4h0m0 3.9h0m1.5-4.2h0m.9 .8h0m3 .9h0m.1-1h0m2.5 .2h0m.2-1h0m.6 3.8h0m1.1-.6h0m2.6 2h0m1.3-4.9h0m1 .9h0m2.3 .1h0m6.7 .2h0m.4 2.4h0m1.5-2h0m.5 1.4h0m10.1-2.6h0m-14.2 5.5h0m-1.2 1.7h0m-2-1.8h0m-10.1 3.8h0m-3.9-2h0m-4 .9h0m2.6 4.7h0" stroke="#1e6bff" stroke-width="2.5" stroke-linecap="round" fill="none"/><path d="M654.3 283.4h0m-1.8 .2h0m-6.1 .5h0m-.2-4h0m-.8 3h0m-.7-.1h0m-2.6 1.6h0m-2.2-1.2h0m-1-3.7h0m-13.1 4.9h0m-2.8 .3h0m1.4 4.4h0m1.8 1.3h0m5.7-3.6h0m2.7 2.2h0m2.6 .5h0m1.3-4.1h0m9.4 1.5h0m.4 .7h0m1.1 .7h0m1.9 .4h0m2.3 1h0m2.8 .8h0m1-.2h0m5.6-1.9h0m3.3 3.1h0m-10.7 4.6h0m-1 .2h0m-5.3-2h0m-1.2-3h0m-3 .2h0m-1.6 1.7h0m-3.6 .1h0m-.4 1.2h0m0-2.5h0m-.8 4.4h0m-.4-1h0m-1.4-1.6h0m-.8-2.2h0m-1.3-.3h0m-4.9 1h0m-3.3 1.9h0m-7.4 2.3h0m9.4 .9h0m4.3 .8h0m2.2 2.8h0m.4 1.6h0m.9-1.2h0m1.7 .4h0m4.3-3.3h0m.5 .1h0m.4-1.8h0m.2 .9h0m0 5h0m1.6-4.8h0m1.1 2.6h0m1.7 1.2h0m2.4-4.6h0m1.6 .7h0m12.6 1.8h0m1-1.4h0m.9 8.4h0m-1.5-1.3h0m-4.6 .3h0m-4.2 2.7h0m-1.8-.5h0m-2.1-2.9h0m-1 3.6h0m-.1-4.7h0m-1.2-.5h0m-1.8 4.7h0m-6.9-.3h0m-.5-2.1h0m-.5 0h0m-6.1-1.5h0m-4.2 3.7h0m-5.5-3.1h0m-2.6 5.4h0m3.2-.1h0m2.1 .7h0m3.7 2.2h0m.3-1h0m8-.4h0m9.9 1.4h0m1.1-.9h0m1.6-3h0m2.5 3.9h0m4.3-1.7h0m1.5-1.2h0m-11.2 8.5h0m-4.4-3.2h0m-1.1 4.7h0m-14.4-5.1h0" stroke="#2a55ff" stroke-width="2.5" stroke-linecap="round" fill="none"/><path d="M654.3 283.7h0m-2.2 0h0m-.8-1.6h0m-3 2h0m-2.7-4.1h0m-5.6 1.9h0m-3.4 1.9h0m-1.2-2.8h0m-9.8 3.5h0m-2.4 1.8h0m5.3-.2h0m6-.2h0m.9 .9h0m4.1-1.7h0m4.3 3.7h0m1.3 1.3h0m0-.4h0m5-2.8h0m1.7 3.8h0m.7-2.1h0m2.1-.5h0m1 2.1h0m1.3-.2h0m0-3.7h0m2.6 3.3h0m1.5 .4h0m5.9 5.2h0m-5-2.6h0m-.7 2.3h0m-3.3-1.6h0m-1.3-.2h0m-3.6-1.1h0m-2.3 4.4h0m-.3-.5h0m-4.7 .1h0m-2.4-.3h0m-1.8 .6h0m-5-1.5h0m-1.4-3h0m-.7 1.3h0m-.1-1.4h0m-2.2-.5h0m-.1 3.4h0m-4.1-1.9h0m-4.6 2h0m-5.6-3.3h0m.8 9.1h0m6.6-1.5h0m2.1 1.5h0m1.3 1.4h0m1.9-4.8h0m2.6 1.3h0m7.5 2.4h0m1.3 .6h0m.4-3.6h0m0 1.3h0m.4 2.1h0m.4-1.9h0m.1-.4h0m.2 .4h0m3 1.2h0m7.1-1.2h0m.1 1.8h0m2.3-1.8h0m.3 .6h0m2.7 2.9h0m1.6-4.6h0m.5 4.8h0m3.7-1.2h0m.8 6.3h0m-.3-1.4h0m-5.2-3.1h0m-.2 3.1h0m-7 1.3h0m-5.1-3.6h0m-2.9 2.2h0m-2.3-.2h0m-1.2-3h0m-2.8-.3h0m-3.7 1.4h0m-4.4 .7h0m-2.8-.7h0m-5.1 5.1h0m.8 3.5h0m2.4-3h0m2.2 1.5h0m3 1.8h0m2.3-1h0m2.8 .9h0m1.6-1.7h0m6.5-.1h0m2.4 3.1h0m5.1-3.3h0m.6 .7h0m.1-.4h0m1 2.9h0m4.4-1.3h0m1.6-3.6h0m7.2 4.1h0m2.4-.4h0m-13.9 6.3h0m-18.1-3.1h0m-2.2 .9h0m-6.5 2.5h0m-1.8-1.1h0m11.3 2.5h0" stroke="#2a55ff" stroke-width="3.0" stroke-linecap="round" fill="none"/><path d="M653.9 284h0m-7.5-4h0m-.5-.2h0m-3.9 2.6h0m-1.2 1h0m-1.6-1.9h0m-.2 2.5h0m-3.5-.9h0m-4.1 .7h0m-6.9-1.2h0m9.9 2.5h0m5.7 4.5h0m1.4-4.3h0m7.8 2.4h0m3.5 2.4h0m6.3-4.4h0m5.1 7.1h0m-.4 2.3h0m-5.5-3.9h0m-3 4h0m-.4-1.2h0m-.8 2.1h0m-1.4-3.1h0m-11.5 3.9h0m-2.6-2.3h0m-.6-3.1h0m-.6 1.5h0m-5.3-.7h0m-2.8-.5h0m-2.3 3.5h0m-.6-1h0m-1.5-.2h0m-.1-2h0m-4.7 1.4h0m-.5 8.9h0m2-3.5h0m1.5 1h0m2.5 1.3h0m.2-4.1h0m1.4 4.6h0m.7 1.3h0m2.2-.8h0m4.1-1.6h0m2.8 .5h0m2.4 .7h0m.4 .7h0m.4-4.5h0m2.8-1h0m.2 2.3h0m0-.4h0m2.1 1.1h0m2.2 .2h0m2.3 2.5h0m5.6-4.9h0m0 2.8h0m.8-3h0m.2 2.9h0m2.2-1.7h0m4.8 2.3h0m2.4 2.4h0m-1-.4h0m-4.9 3.5h0m-.1 .6h0m-5.7-1h0m-5-1.4h0m-2.2 3.5h0m-.4-1.3h0m-1.2 1.8h0m-.8-3.7h0m-1.6-.7h0m-.9-.3h0m-.9 .3h0m0 4.1h0m-7-3.3h0m-3.5 2.4h0m-2.2-1h0m-3.9-.4h0m-2.5-2.2h0m5.3 6.9h0m2.7-1.4h0m6.8 2h0m2.7 1.6h0m1.4 .4h0m.2-1h0m.3-.7h0m.8-1.5h0m1 .4h0m2.4 .9h0m0-1.9h0m1.5 2.8h0m3.2 2.2h0m.2-.5h0m.6 .7h0m2.2-4.6h0m10.5 5.5h0m-23.1 .3h0m-.9-.3h0m-.5 1.9h0m-3.6-1.9h0m-1.1 0h0m-2.3 4.4h0" stroke="#2a55ff" stroke-width="2.0" stroke-linecap="round" fill="none"/><path d="M660.3 284h0m-3.7-1.6h0m-5.1 1.4h0m-.1-1.3h0m-.3 2.4h0m-.6-4h0m-.1-1h0m-.3 3.3h0m-1-1h0m-.9 .1h0m-2.4-.2h0m-1.7-1.3h0m-.9 .3h0m-.7-1.4h0m-2.7 .5h0m-1.5 4.5h0m-2.3-5h0m-.7 2.5h0m-.7-.7h0m-3.7 2.1h0m-1.1-1.4h0m0 1.5h0m-1.8 2.3h0m1.3 2.3h0m.5-3.1h0m.3 .4h0m1.8 2.1h0m.1-1.8h0m.6 1.4h0m.5-1.7h0m.5 5.1h0m2.7-2.3h0m3 1.4h0m.9-1.5h0m2.1 1.2h0m3.3-1.7h0m.5-.2h0m.2-2.2h0m.1 5.6h0m.9-.8h0m.6-4.5h0m7.7-.2h0m10.5 4.7h0m-4 4.3h0m-1.2-2.4h0m-1.5 3.1h0m-2.9-2.4h0m-4.8 3.2h0m-.2 .6h0m-4.8-5.4h0m-1.1 2.1h0m-3.1-1.7h0m-.5 2.3h0m-.8-1.2h0m-.6 3.8h0m-2.7-.8h0m-1.6-1.9h0m-.6-.2h0m-2.2 3.3h0m-3.7-2.9h0m-1.3 2h0m-4-1.6h0m-.3 1.2h0m-5.4 4.1h0m1.2 1h0m2.6 .6h0m3.6-1.5h0m2 2h0m1.3-.4h0m3.4-4.1h0m4.6 3.7h0m.3 .2h0m0-1.7h0m2.7 2.8h0m.1-5.2h0m.6 2.1h0m.4 2.2h0m.7-2.1h0m.8-1.4h0m2 5.1h0m.8-2.9h0m.7-2.7h0m1.3 2h0m2.5 2.3h0m1.2 .4h0m.5-1.3h0m.4-3.2h0m1.5 4.7h0m.6-1.8h0m1.4 .2h0m2.7 .3h0m2.1-3.8h0m1.5 5.4h0m1-1.1h0m2.6-1.5h0m1.7 3.2h0m-4.6 3.7h0m-.7-2.3h0m-1.7 4.3h0m-2.2-5h0m-.6 .5h0m-.4 1.4h0m-1 2.2h0m-.7 .7h0m-.7-.5h0m-.1-2h0m-.6-.5h0m-1 .9h0m-1.5 1.9h0m-.6 .1h0m-2.3-3.1h0m-.3 3.2h0m-.3 .2h0m-.2-4.2h0m-1 .8h0m-.3 .6h0m-.8 .6h0m-3.4-2.9h0m-3.8 4.9h0m-.4-2.4h0m-.3-1.4h0m-1.6-1.4h0m-.3 4.3h0m-1.8-1.8h0m-.5-.6h0m-.3 2.3h0m-.5-1.9h0m-.7-2.2h0m-3.5 3.1h0m-.4-.4h0m-2-2.2h0m-1.9 .6h0m-1.7 .8h0m-.7-2.3h0m-5.3 2.9h0m6.9 6.4h0m5.1 1.7h0m1.4-4.7h0m.4 1.6h0m.8 1.6h0m.9-1.5h0m2-2.2h0m2.8 3.9h0m6.3 .2h0m1.8 .6h0m0 .5h0m1.8 .4h0m.3-4.3h0m2.2-.5h0m.3 3.6h0m1.8-2h0m.4-.8h0m.5 .8h0m1-.4h0m3.4 3.8h0m1.6-3.6h0m.9-2.1h0m.6 .6h0m2.5 1.3h0m1.8 3.2h0m-1.2 1.1h0m-7.1 2.2h0m-1.4-2.2h0m-3.2 1.6h0m-3.1-1.8h0m-1.8 .7h0m-1 .3h0m-2.5 2h0m-3.1-2h0m-8.6 1.9h0" stroke="#1e6bff" stroke-width="3.0" stroke-linecap="round" fill="none"/><path d="M644.7 283.5h0m-4.3 .7h0m-9.9 2.4h0m13.8 2h0m10.5-1.9h0m.4 2.2h0m1.4 .3h0m4.8 6.2h0m-4.3-1.5h0m-9.8-1.5h0m-21 .9h0m13.7 5.1h0m16 8.4h0m-14.3-3.3h0m2.5 11.5h0m-6.9 1h0m-5.4-.2h0" stroke="#38d6ff" stroke-width="2.5" stroke-linecap="round" fill="none"/><path d="M651.1 277.6h0m3.2 2.7h0m-10.4 3.9h0m-.9-2.3h0m-.3 2.5h0m-1.2-2h0m-.8-2.2h0m-1.6 4.2h0m-1.1-1.1h0m0-2.8h0m-.1 1h0m-4.9-1.9h0m-5.1 3h0m-7.3 4.6h0m1.6 1h0m2.7 2.8h0m4.8-1.6h0m3.3-2h0m1.3 3.4h0m1.7-2h0m2-3.4h0m1.8 3.4h0m0-1.8h0m.7-.6h0m.1 4.1h0m2.2-2.7h0m2.1-2.8h0m1.5 3.7h0m.1-2h0m.1 3.7h0m.5-3.1h0m.1-.8h0m4.2 3.8h0m.3-4.8h0m4.6 4.2h0m.1 .2h0m2.8 .6h0m6.2 .3h0m0-.8h0m2.4 5.7h0m-3.8-2.7h0m0 3.3h0m-.9-3.9h0m-.6-.3h0m-2.1-.7h0m-3.5 1.8h0m-.6-.3h0m-.7 1.4h0m-.3-2.1h0m-.5 3.8h0m-.1 .7h0m-3.4-1.5h0m-2.2-3.7h0m-1.3 2.7h0m-.1-2.5h0m-.2 2.5h0m-1.5 2.4h0m-2.2-.6h0m-.4-1.2h0m-4.1-.2h0m-1.5 .9h0m-1.5-2.7h0m-3.3 .7h0m-.5 3.2h0m-.2-5.1h0m-1 3.2h0m-1.2 1.4h0m-2.2-5h0m-.9 4.1h0m-.1-.2h0m-5-2h0m-.9 4.1h0m5.1 5.3h0m4.4-4.1h0m1.7 2.2h0m2.8 1.3h0m.2-3.9h0m2.5 3.7h0m2.5-2.6h0m1.3-2.1h0m.8 .6h0m12 2.5h0m.1-1.6h0m1.4-.1h0m3.5 3.9h0m.5-3.8h0m1.1 2.2h0m2.2-2h0m1.5 2.5h0m3.3-.6h0m2.4-2.6h0m-2.2 8.3h0m-3-2.3h0m-3 2.8h0m-1-3.4h0m-2.4 1.3h0m-1.4-1.4h0m-.7 .1h0m-.2 1.4h0m-1.1-.5h0m-2.6 3.6h0m-2-1.3h0m-3-1.1h0m-.3 0h0m-1.5 2.7h0m-1-.9h0m-3.2-1.8h0m-.9 1.2h0m-1.1-1.1h0m-2.4-.5h0m-.7 3.1h0m-.6-4h0m-1.5 4.3h0m-2.2-1.3h0m-3-.2h0m-2.8 1.7h0m-1.1-2.3h0m-.8-.9h0m-.7 2.5h0m-.3 .9h0m-.5-1h0m-2-.9h0m1.7 3.2h0m1.5-.6h0m6.5 1.9h0m3.3 3.1h0m0 .3h0m.6-2.3h0m3.1-3h0m.2 2.2h0m2 .6h0m1-.3h0m.3 1.9h0m3-3.9h0m.1-.5h0m.7 .1h0m1.1 .4h0m.6-.4h0m.8 .7h0m.8 1.2h0m1.7-.9h0m.1 .1h0m1.2-1.1h0m.1 2.4h0m.1 0h0m.9-1.6h0m.9 .2h0m.5 1.4h0m3.6-.9h0m1.3-.8h0m3.2-.3h0m-10.2 5.6h0m-2 1.6h0m-8-.2h0m-1 1.1h0m-.3 2.2h0m0-1.5h0m-3.5-1.7h0m-2.9-1.3h0m-2.7 1.5h0m-.2-2.2h0" stroke="#1e6bff" stroke-width="2.0" stroke-linecap="round" fill="none"/><path d="M642.2 282.6h0m-13.1 5.2h0m38.4 4.9h0m-.6 3.7h0m-8.7-.8h0m-.1 1.1h0m-8.4-3.1h0m-25.6 8.8h0m12.2-4.5h0m10.1 .7h0m.3-.9h0m8.7 4.7h0m5.9 4.4h0m-39.1 .6h0m12.1 7.1h0" stroke="#38d6ff" stroke-width="3.0" stroke-linecap="round" fill="none"/><path d="M651.2 280.9h0m-21-.5h0m-6.9 2.1h0m37.1 14.3h0m0-5.5h0m-7.6 .6h0m-10.6 .9h0m-6 3h0m-6.1-.3h0m-7 .1h0m7.1 4.8h0m10.1 2.1h0m4.7-5.2h0m20.4 3.1h0m1.4 6.5h0m-8.9-2h0m-9.5 1h0m-11.6-2.5h0m-11 .5h0m-.8 2.5h0m5.9 5.7h0m21.8 4h0m-20.6 1h0m-.9 .2h0" stroke="#38d6ff" stroke-width="2.0" stroke-linecap="round" fill="none"/><path d="M637.1 288.5h0m16.7 2.2h0m6.3 3.9h0m-31.7 2h0m-3.7-1.2h0m3.1 13.8h0" stroke="#ffffff" stroke-width="2.0" stroke-linecap="round" fill="none"/><path d="M626.7 286h0m25.8 .3h0m6.9 3.8h0m6 4.8h0m-16.4-2.6h0m-24.2 2.2h0m6.6 7.3h0m.1 .8h0m8.1-3.3h0m.3 .4h0m15.7 8.6h0" stroke="#ffffff" stroke-width="2.5" stroke-linecap="round" fill="none"/><path d="M645.1 284.5h0m-.3 5.8h0m20.2 4.1h0m-21.8-2.5h0m-6.6 14.5h0m-19.1-1.8h0m21.8 5.5h0m4.2 .6h0m3-1.4h0" stroke="#ffffff" stroke-width="3.0" stroke-linecap="round" fill="none"/><path d="M659.2 272.5h0m10.6 6.1h0m-7.7 27.3h0m-29.5-2.3h0m4.9 9.5h0" stroke="#ff2a3a" stroke-width="1.6" stroke-linecap="round" fill="none"/><path d="M623.3 302.2h0m3.1 9.9h0" stroke="#ffffff" stroke-width="1.6" stroke-linecap="round" fill="none"/><path d="M624.5 289.3h0m30-3.1h0m-15.6 12.6h0m-23.2 11h0m41.6 .1h0" stroke="#2ee84a" stroke-width="1.6" stroke-linecap="round" fill="none"/><path d="M643 282.3h0m-7.7 .8h0m34.8 8.5h0m-40.1 20.9h0m17.4 8.5h0m6.7 2.4h0" stroke="#ffffff" stroke-width="1.2" stroke-linecap="round" fill="none"/><path d="M656.3 281.7h0m14.1 7.7h0m-21.5 34.6h0m11.6 1.7h0m6.2-.3h0" stroke="#2ee84a" stroke-width="1.2" stroke-linecap="round" fill="none"/><path d="M672.6 282.2h0m-49.7 16.4h0" stroke="#ff2a3a" stroke-width="1.2" stroke-linecap="round" fill="none"/></g></g>
<text x="618.6" y="276.9" font-size="9.6" fill="#f7de00">i (0.73)</text>
<rect x="658.2" y="322.5" width="12.6" height="1.6" fill="#fff"/>
<defs><clipPath id="q6"><rect x="615" y="330.5" width="60" height="61.7"/></clipPath></defs>
<rect x="615" y="330.5" width="60" height="61.7" fill="#030306"/>
<g clip-path="url(#q6)"><g filter="url(#bl3)"><path d="M665.8 343h0m-10-.4h0m-28 8.4h0m6.6-3.2h0m19 .2h0m.8-.7h0m12.7-.6h0m3.5 5.8h0m-3.9 1.7h0m-1.8-.1h0m-14.3 2.7h0m-11.9-1.5h0m-2-2.5h0m-.5 2.6h0m-.3-1.9h0m-6.4 2.9h0m-5.2-4h0m14.5 7.1h0m13.4 1h0m4.7 .5h0m-17.5 2.4h0m-3.2 3.2h0m-6.2 1.5h0m4.6 1.6h0m5.6 5.3h0m3.4-4.7h0m17.6 0h0m1.6 4.1h0m-1.4 1h0m-5.4-.3h0m-9.2 3.3h0m8.1 4.4h0m10 .8h0m8.6 .5h0m-9.9 3.7h0" stroke="#38d6ff" stroke-width="2.5" stroke-linecap="round" fill="none"/><path d="M645.8 349.1h0m1.5-2.5h0m9.7 .5h0m11.9 .7h0m-14.8 3.9h0m-20.2 5.2h0m17.1 4.3h0m8 3.7h0m-20.3-.5h0" stroke="#ff4fd0" stroke-width="3.0" stroke-linecap="round" fill="none"/><path d="M665.6 344.8h0m-4.2-1.4h0m-32.8 7.1h0m5.8-5.2h0m14.8 2.8h0m4.6 2.9h0m.4-4.8h0m4.5 0h0m5.3 .8h0m4.3 3.2h0m0 4.5h0m-3.1-.9h0m-2.7 .7h0m-.6-.5h0m-21.2-1.1h0m-3.2-1h0m-6.1 4.9h0m-2.1-.5h0m-4.1 2.7h0m18.6 3h0m4.9 .1h0m6.5-3.3h0m4.8-1h0m3.9 3.2h0m2.9 3.4h0m-7 2.3h0m-2.8-3.1h0m-7.1 1h0m-12.3 3.6h0m-3.5-3.7h0m-2.5 3.6h0m-2.6-1.3h0m-2.1-3.7h0m13.9 11.4h0m6.9-2.8h0m2.1-1.1h0m4.8 1.2h0m2.6 2.2h0m4.5-2.4h0m4 6.8h0m-1.4-1.4h0m-3.3 3.6h0m-21-3.5h0m-16 6h0m3.4 .6h0m21.7-1.9h0m4.2-.8h0m1.4 4.3h0m1.6 .6h0m3.6-1.4h0m1.3 1.2h0m10.3-3.6h0m-9.3 7.6h0m-34-1.4h0m-.7-.5h0m-.5 .2h0m-.7 .5h0" stroke="#ff2a3a" stroke-width="2.0" stroke-linecap="round" fill="none"/><path d="M625.1 350.5h0m4.6-1.9h0m12.5 .6h0m2.5-.7h0m4.2-.7h0m.4 1.6h0m4.5 5.7h0m-4.9-1h0m-1.3-2.9h0m-16.5 6.1h0m1.9 4.8h0m5.8-3.4h0m10.6-.8h0m4.3 1.5h0m4.8 .9h0m1 2h0m3.6-.4h0m1.1-1.2h0m.9-2.4h0m3.5 6.4h0m-10 0h0m-4.5 .2h0m-10.1 2.6h0m-5.9-.5h0m-2-.6h0m-3.3 4.8h0m11.8 1.5h0m4.3-3h0m2.9 1h0m9.9 3.5h0m11.1 4.3h0m-9.3-2.6h0m-2.4 1.5h0m-9.2-1h0m0 10.3h0m3.5-.9h0m2.9 .6h0" stroke="#2ee84a" stroke-width="2.5" stroke-linecap="round" fill="none"/><path d="M636.6 349.2h0m3.6 1.6h0m12.9-.4h0m12.8-.5h0m4-4.5h0m-.8 10.3h0m-.1-4.4h0m-3 2.2h0m-8.3 3.3h0m-.1-.3h0m-3.9-.4h0m-3.5-1h0m-.3-3.4h0m-1.7 .7h0m-5.7 3.9h0m-2.9-4.6h0m-4.9 1.8h0m-7.9 3.2h0m-2.9-1.4h0m6.5 2.3h0m.1 2h0m7.6 2.8h0m2.2-3.5h0m12.3-1h0m4.2 2.6h0m9.8-1.1h0m-1.5 4h0m-7 1.8h0m-.9-1.9h0m-9.8 5.3h0m-10.8-.7h0m-5.1-3.1h0m-.1 2.1h0m13.7 2.4h0m4.1 1.6h0m6.6 8.2h0" stroke="#2a55ff" stroke-width="3.0" stroke-linecap="round" fill="none"/><path d="M651.4 343.9h0m-8.8 5.6h0m12.7-2.2h0m7.7 7.5h0m-5.4 1h0m-4.1 .3h0m-17 2.3h0m23.4 3.5h0m6.1 1.4h0m-3.9 .4h0m-5.8-.5h0m-16.4 .7h0m-2.9 9.4h0m1.6-2.1h0m4.1-1.6h0m9.1 1.7h0" stroke="#38d6ff" stroke-width="3.0" stroke-linecap="round" fill="none"/><path d="M669.9 343.7h0m-1.3 .8h0m-2.6-3.4h0m-1.4 2.3h0m-10.4-2h0m-26 6.4h0m4.4 .2h0m31-2.1h0m-8.8 7.5h0m-1.3 .3h0m-3 1.4h0m-18.6-3.8h0m-3.8 5.4h0m-2 5.1h0m7.6 1h0m14.5-4.6h0m3.2 .6h0m13.2 2.1h0m5.2 .3h0m.2-3.6h0m-3.8 6.6h0m-.5 2.8h0m-19.2-3.9h0m-1.1 .7h0m-8.6 1.6h0m8.6 6.5h0m14.1-1.7h0" stroke="#ff2a3a" stroke-width="3.0" stroke-linecap="round" fill="none"/><path d="M653.5 348.4h0m8.9 .8h0m1.3 7.7h0m-34-1.7h0m-3.9 7.8h0m.4-3.5h0m6.1 .6h0m3.9 1h0m.8 .1h0m1.5-1.3h0m8.5 1.6h0m1.5-3.8h0m14.6-.2h0m-11.2 7.7h0m-2.2-.2h0m-7.5-1.4h0m-8.8 .7h0m-5.5 3.9h0m23.8 6.2h0m7.6 4.9h0m-4.7 1.9h0" stroke="#f4ee2a" stroke-width="2.5" stroke-linecap="round" fill="none"/><path d="M667.3 344.7h0m-13.6-1.3h0m-3.3 1h0m-8.9 0h0m-4.4 .5h0m-14.5 5.5h0m20.5 .2h0m22.1-2.3h0m1.8-1.4h0m-6 8.2h0m-9.4 1.5h0m-3.8-.3h0m0-2h0m-1.8 1h0m-2.7 .5h0m-7.2-2.6h0m-1.9 1.8h0m-3.7 1.6h0m6 4h0m11.7-3h0m1.7 3.3h0m4.6-1.9h0m10.9 7h0m-7-2h0m-17.6-.4h0m-.2 4.1h0m-5.3-1.9h0m11.5 5.1h0m1.4-.2h0m1.6 3.1h0m5.8-1.2h0m1.5 .9h0m2.2-1.7h0m10.3 6.7h0m-13-3.4h0m-5.9 2.4h0m-3.9 .3h0m-9-2.7h0m15.9 9.1h0m3.8 2.1h0m1.8-4.6h0m2.3 4.9h0m8.5-3.5h0" stroke="#2a55ff" stroke-width="2.0" stroke-linecap="round" fill="none"/><path d="M634.5 348.1h0m23.1-1.6h0m14 5.7h0m-14-.5h0m-35.7 7.4h0m8.8-1.4h0m1.3 1h0m13.3-1h0m5.5-.5h0m14.8 5.3h0m-10.2 3.7h0" stroke="#ffffff" stroke-width="3.0" stroke-linecap="round" fill="none"/><path d="M629 349.5h0m7.3-1.9h0m2 2.6h0m9.4-2.1h0m15.8 2h0m8.1 6.2h0m-3.7-2.2h0m-21.1-2.5h0m-5.3 4.8h0m-3.5-3.8h0m-9.5 5.2h0m2.5 2.7h0m4.7 2h0m13.7-1.7h0m3.6-1.2h0m5.5 3.3h0m5.4-3.5h0m-7.9 5.4h0m-23.8 4h0m30.7 7.5h0m-20 .3h0" stroke="#f4ee2a" stroke-width="2.0" stroke-linecap="round" fill="none"/><path d="M641.1 344.6h0m.2 .8h0m25.3 3.2h0m-6.2 4.9h0m-5.2-2.1h0m-4.8 4.4h0m-3.2-3.8h0m-10.4 .7h0m-10.2 1.6h0m.6 3.9h0m8.2 1.3h0m1.4-1.6h0m15.9 3.9h0m2.1 .5h0m2.9-3h0m8.1 3.1h0m-4.2 2.7h0m-6.3 .4h0m-2.1 .3h0m-7.6 2.1h0m-1.8-3.9h0m-3.7 4.1h0m3.1 3.9h0m.1-1.9h0m.2 1.8h0" stroke="#2ee84a" stroke-width="3.0" stroke-linecap="round" fill="none"/><path d="M667.5 341.9h0m-9.6 6.4h0m.3-1.5h0m7 8.3h0m-13.1 .1h0m-13.6 .7h0m-1-.7h0m-2.1-3.8h0m-.8 .1h0m-6.4 3.3h0m-3.2 2.2h0m11.8 2.3h0m7.1 1.9h0m4-3.7h0m11.8-.2h0m8.1 5.8h0m-4 3.5h0m-2.3-2.4h0m-2.8 1.9h0m-2.7 .8h0m-1-2.7h0m-3.4 3.9h0m-7.4-2.9h0m-2.6 2.5h0m-.2 3.6h0m16 3.3h0m8.4 1.5h0m-.8-.5h0m-14.3 1.3h0m-.2 3.5h0m4.8 2h0m14.7 4.1h0" stroke="#2a55ff" stroke-width="2.5" stroke-linecap="round" fill="none"/><path d="M665.9 344.4h0m-16.3 4h0m9.5 1.6h0m8.9-4.3h0m-2.6 9.6h0m-.5 1.4h0m-10.3-2.3h0m-13.3 0h0m-6.7 1.1h0m-2.5-3.4h0m-5.4-.3h0m2.6 7.5h0m.4-1.6h0m2 2.7h0m13.2 1.1h0m1.7-1.3h0m1.4-2.6h0m.1 3.5h0m8.5-1.7h0m1.2-2.4h0m.1 1.8h0m-15.1 8h0m-5-.6h0m-15.5-1.8h0m17.2 6.5h0m5.6 .5h0m.9 .1h0m4.4-1.7h0m7.2 2.1h0m5.2 2.4h0m-1.2 3h0m-16.1-1.9h0m20.6 11.4h0" stroke="#38d6ff" stroke-width="2.0" stroke-linecap="round" fill="none"/><path d="M658.2 341.7h0m-4.9 2.1h0m-1.2-2.5h0m-8.7 4.6h0m2.7-.6h0m3.6 5.2h0m1.2-4.5h0m8.2 .2h0m15.8-1.1h0m-5.7 8.4h0m-18.8-1.8h0m-6.9 4.4h0m-1.3-1.4h0m-4.4-1.3h0m-12.3 1.5h0m.5 6.9h0m3.4-1.8h0m1 2.8h0m34.9-.1h0m3.5-3.6h0m-4.2 7.4h0m-2.5 2.2h0m-5.6-2.8h0m-10.4 .6h0m-3.2-1.2h0m-2 1.1h0m-9.8-1.6h0m-1.8 8.3h0m2.1-3.7h0m9.5 1.2h0m6.6 .1h0m2.3 4.3h0m5.7-1.5h0m6.6-.5h0m12.2 5.4h0m-13.6 2.1h0m-15-4.3h0m11.6 9.6h0m13.6-4.2h0" stroke="#ff2a3a" stroke-width="2.5" stroke-linecap="round" fill="none"/><path d="M652.9 343.8h0m-17.5 2.2h0m29.3 6.3h0m-38.8 5h0m19.2 3.9h0m-11.8 2.8h0m29 16.2h0m-1.1 1h0m6.9 4.8h0m2.2-1.1h0" stroke="#ffffff" stroke-width="2.5" stroke-linecap="round" fill="none"/><path d="M641.1 344.6h0m-6 3.6h0m2-.1h0m1.8 2.6h0m17.8-1h0m.1-.2h0m.5-3.6h0m13.8 10.7h0m-.3 .1h0m-.2-3.6h0m-5.5 1.2h0m-7.1 .2h0m-9.6 2.2h0m-3.2-.1h0m-4.8-3.1h0m-19.2 2.6h0m15.4 1.8h0m6.8 2.4h0m.4-1.7h0m.2 1.3h0m17.6 2.5h0m.5-1.1h0m1.7-3.9h0m.5-.2h0m1.5 1.3h0m5.3 4.5h0m-5.6 2.9h0m-6.2-.4h0m-2.2 0h0m-7.9-2.1h0m-8 1.9h0m-2.8-.7h0m-.1 1.6h0m-6.5 1h0m-4.8-3.7h0m0 1.9h0m31.8 4.6h0m14.6 4.1h0m-6.4 1.7h0m-4 3.9h0m-34.3-.3h0m-3.5-3.8h0m-1.6 2.7h0m-.5 1.1h0m-.1 4h0m2 .9h0m3.8-1.6h0m29.4 1.9h0m2.9-2.4h0m5 2.2h0" stroke="#2ee84a" stroke-width="2.0" stroke-linecap="round" fill="none"/><path d="M661.4 348.5h0m-1.5 3.9h0m-34 2.2h0m5.5 7.1h0m25.2-1.8h0m7-.1h0m-22.4 7.7h0m11.8 4.2h0m3.8 .7h0m-8.6 3.9h0" stroke="#f4ee2a" stroke-width="3.0" stroke-linecap="round" fill="none"/><path d="M633.9 345.8h0m26.8 10.3h0m-36.9 4.3h0m31.9-1.6h0m7.7 8.9h0m-5.8-3.8h0m-15.2-.2h0m19 9.7h0m9.3 7.1h0m-21.3-3.1h0m-14-.8h0" stroke="#ffffff" stroke-width="2.0" stroke-linecap="round" fill="none"/><path d="M658.7 342.2h0m-9.9 8.8h0m3 4h0m-6.6 2.1h0m12.7 10.3h0m-3.4-.9h0m-8.5-1.2h0" stroke="#ff4fd0" stroke-width="2.0" stroke-linecap="round" fill="none"/><path d="M668.8 344.8h0m-6 7.5h0m-35.4 2.3h0m-1.3-2.2h0m11.9 10.1h0m23.9-2.9h0m.5-1.1h0m3.7 3.1h0m-41 3.1h0m.9 4.4h0m31.9 6.3h0m-7.8 .6h0m6.8 9.3h0" stroke="#ff4fd0" stroke-width="2.5" stroke-linecap="round" fill="none"/><path d="M672 337.5h0m1.5 2.4h0m-20.4 9.4h0m-20 10h0m-14.4 8h0m9.7 12.8h0m-1.3-1h0m-2-2.9h0m-4.7 3.4h0m-1.3 3h0m4.5 1.9h0m4.6-1.2h0m2.6 1.2h0m-6 4.5h0" stroke="#2ee84a" stroke-width="1.6" stroke-linecap="round" fill="none"/><path d="M642.9 358.8h0m-17.1 19.7h0m-4.8 4.5h0m7.6-.8h0" stroke="#ff2a3a" stroke-width="1.6" stroke-linecap="round" fill="none"/><path d="M625.2 370.6h0m9.4 18.7h0m-2.2-1.4h0" stroke="#2a55ff" stroke-width="1.2" stroke-linecap="round" fill="none"/><path d="M663 332.1h0m-11.8 41.9h0" stroke="#2ee84a" stroke-width="1.2" stroke-linecap="round" fill="none"/><path d="M616.3 379.2h0m4.8 4.2h0m51.7 5.6h0m-3.5 .5h0" stroke="#ff4fd0" stroke-width="1.6" stroke-linecap="round" fill="none"/><path d="M627.6 379.1h0" stroke="#ffffff" stroke-width="1.6" stroke-linecap="round" fill="none"/><path d="M618.6 362.5h0m5.9 19.8h0" stroke="#f4ee2a" stroke-width="1.6" stroke-linecap="round" fill="none"/><path d="M669.5 377.5h0m-16.8 7.9h0" stroke="#38d6ff" stroke-width="1.6" stroke-linecap="round" fill="none"/><path d="M671.4 342.4h0m-39.2 13h0m15.7 6.9h0" stroke="#ff2a3a" stroke-width="1.2" stroke-linecap="round" fill="none"/><path d="M671.1 365.8h0m-11.7 2.6h0m12.3 9.6h0m-17.4 12.4h0" stroke="#2a55ff" stroke-width="1.6" stroke-linecap="round" fill="none"/><path d="M632.4 349.5h0m-13.2 5.1h0" stroke="#ff4fd0" stroke-width="1.2" stroke-linecap="round" fill="none"/><path d="M642.1 370.3h0" stroke="#ffffff" stroke-width="1.2" stroke-linecap="round" fill="none"/></g></g>
<text x="618.6" y="341.4" font-size="9.6" fill="#f7de00">ii (0.18)</text>
<rect x="658.2" y="387.2" width="12.6" height="1.6" fill="#fff"/>
<text x="-0.6" y="407.2" font-size="10" fill="#000" font-weight="bold">g</text>
<line x1="33.2" y1="465.6" x2="143.1" y2="465.6" stroke="#555" stroke-width="0.7" stroke-dasharray="1 1.3"/>
<circle cx="41" cy="455.1" r="1.9" fill="none" stroke="#e2564c" stroke-width="0.8"/>
<circle cx="41" cy="467.2" r="1.9" fill="none" stroke="#e2564c" stroke-width="0.8"/>
<circle cx="41" cy="472.1" r="1.9" fill="none" stroke="#e2564c" stroke-width="0.8"/>
<circle cx="41" cy="441.6" r="1.9" fill="none" stroke="#e2564c" stroke-width="0.8"/>
<circle cx="41" cy="448" r="1.9" fill="none" stroke="#e2564c" stroke-width="0.8"/>
<circle cx="43" cy="451.8" r="1.9" fill="none" stroke="#e2564c" stroke-width="0.8"/>
<circle cx="41" cy="461.3" r="1.9" fill="none" stroke="#e2564c" stroke-width="0.8"/>
<circle cx="44.5" cy="442.7" r="1.9" fill="none" stroke="#e2564c" stroke-width="0.8"/>
<circle cx="39" cy="451.7" r="1.9" fill="none" stroke="#e2564c" stroke-width="0.8"/>
<circle cx="36.5" cy="452.6" r="1.9" fill="none" stroke="#e2564c" stroke-width="0.8"/>
<circle cx="45.5" cy="451.2" r="1.9" fill="none" stroke="#e2564c" stroke-width="0.8"/>
<circle cx="45.5" cy="454.4" r="1.9" fill="none" stroke="#e2564c" stroke-width="0.8"/>
<circle cx="37.5" cy="455.4" r="1.9" fill="none" stroke="#e2564c" stroke-width="0.8"/>
<circle cx="38" cy="445.5" r="1.9" fill="none" stroke="#e2564c" stroke-width="0.8"/>
<circle cx="44" cy="463.7" r="1.9" fill="none" stroke="#e2564c" stroke-width="0.8"/>
<circle cx="41" cy="429.3" r="1.9" fill="none" stroke="#e2564c" stroke-width="0.8"/>
<circle cx="42" cy="454" r="1.9" fill="none" stroke="#e2564c" stroke-width="0.8"/>
<circle cx="38" cy="464.9" r="1.9" fill="none" stroke="#e2564c" stroke-width="0.8"/>
<circle cx="45" cy="471.9" r="1.9" fill="none" stroke="#e2564c" stroke-width="0.8"/>
<circle cx="37" cy="461" r="1.9" fill="none" stroke="#e2564c" stroke-width="0.8"/>
<circle cx="45.5" cy="461.4" r="1.9" fill="none" stroke="#e2564c" stroke-width="0.8"/>
<circle cx="45.5" cy="453.5" r="1.9" fill="none" stroke="#e2564c" stroke-width="0.8"/>
<circle cx="40.5" cy="462.1" r="1.9" fill="none" stroke="#e2564c" stroke-width="0.8"/>
<circle cx="36.5" cy="450" r="1.9" fill="none" stroke="#e2564c" stroke-width="0.8"/>
<circle cx="41.5" cy="444.1" r="1.9" fill="none" stroke="#e2564c" stroke-width="0.8"/>
<circle cx="45" cy="448.8" r="1.9" fill="none" stroke="#e2564c" stroke-width="0.8"/>
<circle cx="44.5" cy="446.8" r="1.9" fill="none" stroke="#e2564c" stroke-width="0.8"/>
<circle cx="36.5" cy="444.1" r="1.9" fill="none" stroke="#e2564c" stroke-width="0.8"/>
<circle cx="44.5" cy="456.6" r="1.9" fill="none" stroke="#e2564c" stroke-width="0.8"/>
<circle cx="41" cy="437.7" r="1.9" fill="none" stroke="#e2564c" stroke-width="0.8"/>
<circle cx="56" cy="462.3" r="1.9" fill="none" stroke="#e2564c" stroke-width="0.8"/>
<circle cx="59" cy="460.1" r="1.9" fill="none" stroke="#e2564c" stroke-width="0.8"/>
<circle cx="56" cy="442" r="1.9" fill="none" stroke="#e2564c" stroke-width="0.8"/>
<circle cx="56" cy="457.6" r="1.9" fill="none" stroke="#e2564c" stroke-width="0.8"/>
<circle cx="56" cy="453.3" r="1.9" fill="none" stroke="#e2564c" stroke-width="0.8"/>
<circle cx="59.5" cy="443.6" r="1.9" fill="none" stroke="#e2564c" stroke-width="0.8"/>
<circle cx="58.5" cy="450.7" r="1.9" fill="none" stroke="#e2564c" stroke-width="0.8"/>
<circle cx="56" cy="466.2" r="1.9" fill="none" stroke="#e2564c" stroke-width="0.8"/>
<circle cx="56" cy="447.3" r="1.9" fill="none" stroke="#e2564c" stroke-width="0.8"/>
<circle cx="59.5" cy="464.3" r="1.9" fill="none" stroke="#e2564c" stroke-width="0.8"/>
<circle cx="52.5" cy="465.1" r="1.9" fill="none" stroke="#e2564c" stroke-width="0.8"/>
<circle cx="53" cy="459.7" r="1.9" fill="none" stroke="#e2564c" stroke-width="0.8"/>
<circle cx="56" cy="437.8" r="1.9" fill="none" stroke="#e2564c" stroke-width="0.8"/>
<circle cx="52" cy="441.9" r="1.9" fill="none" stroke="#e2564c" stroke-width="0.8"/>
<circle cx="51.5" cy="462.8" r="1.9" fill="none" stroke="#e2564c" stroke-width="0.8"/>
<circle cx="56" cy="427.9" r="1.9" fill="none" stroke="#e2564c" stroke-width="0.8"/>
<circle cx="52.5" cy="445.8" r="1.9" fill="none" stroke="#e2564c" stroke-width="0.8"/>
<circle cx="59.5" cy="455.2" r="1.9" fill="none" stroke="#e2564c" stroke-width="0.8"/>
<circle cx="59.5" cy="439.1" r="1.9" fill="none" stroke="#e2564c" stroke-width="0.8"/>
<circle cx="56" cy="474.9" r="1.9" fill="none" stroke="#e2564c" stroke-width="0.8"/>
<circle cx="52.5" cy="452.3" r="1.9" fill="none" stroke="#e2564c" stroke-width="0.8"/>
<circle cx="60.5" cy="450.7" r="1.9" fill="none" stroke="#e2564c" stroke-width="0.8"/>
<circle cx="56" cy="480.1" r="1.9" fill="none" stroke="#e2564c" stroke-width="0.8"/>
<circle cx="60.5" cy="465.7" r="1.9" fill="none" stroke="#e2564c" stroke-width="0.8"/>
<circle cx="60.5" cy="445" r="1.9" fill="none" stroke="#e2564c" stroke-width="0.8"/>
<circle cx="56.5" cy="445.4" r="1.9" fill="none" stroke="#e2564c" stroke-width="0.8"/>
<circle cx="56" cy="486.6" r="1.9" fill="none" stroke="#e2564c" stroke-width="0.8"/>
<circle cx="53.5" cy="449.9" r="1.9" fill="none" stroke="#e2564c" stroke-width="0.8"/>
<circle cx="51.5" cy="453.3" r="1.9" fill="none" stroke="#e2564c" stroke-width="0.8"/>
<circle cx="60.5" cy="454.9" r="1.9" fill="none" stroke="#e2564c" stroke-width="0.8"/>
<circle cx="60.5" cy="448.1" r="1.9" fill="none" stroke="#e2564c" stroke-width="0.8"/>
<circle cx="52.5" cy="436.3" r="1.9" fill="none" stroke="#e2564c" stroke-width="0.8"/>
<circle cx="53" cy="455.9" r="1.9" fill="none" stroke="#e2564c" stroke-width="0.8"/>
<circle cx="57" cy="450.1" r="1.9" fill="none" stroke="#e2564c" stroke-width="0.8"/>
<circle cx="51.5" cy="449.9" r="1.9" fill="none" stroke="#e2564c" stroke-width="0.8"/>
<circle cx="56" cy="454.3" r="1.9" fill="none" stroke="#e2564c" stroke-width="0.8"/>
<circle cx="56" cy="453.4" r="1.9" fill="none" stroke="#e2564c" stroke-width="0.8"/>
<circle cx="60.5" cy="437" r="1.9" fill="none" stroke="#e2564c" stroke-width="0.8"/>
<circle cx="53" cy="468.8" r="1.9" fill="none" stroke="#e2564c" stroke-width="0.8"/>
<circle cx="51.5" cy="443.9" r="1.9" fill="none" stroke="#e2564c" stroke-width="0.8"/>
<circle cx="59" cy="477.8" r="1.9" fill="none" stroke="#e2564c" stroke-width="0.8"/>
<circle cx="57" cy="436.2" r="1.9" fill="none" stroke="#e2564c" stroke-width="0.8"/>
<circle cx="57.5" cy="467.6" r="1.9" fill="none" stroke="#e2564c" stroke-width="0.8"/>
<circle cx="60.5" cy="454.8" r="1.9" fill="none" stroke="#e2564c" stroke-width="0.8"/>
<circle cx="60.5" cy="468.8" r="1.9" fill="none" stroke="#e2564c" stroke-width="0.8"/>
<circle cx="51.5" cy="438.2" r="1.9" fill="none" stroke="#e2564c" stroke-width="0.8"/>
<circle cx="60.5" cy="458.8" r="1.9" fill="none" stroke="#e2564c" stroke-width="0.8"/>
<circle cx="59" cy="440" r="1.9" fill="none" stroke="#e2564c" stroke-width="0.8"/>
<circle cx="52" cy="475.7" r="1.9" fill="none" stroke="#e2564c" stroke-width="0.8"/>
<circle cx="56" cy="457.9" r="1.9" fill="none" stroke="#e2564c" stroke-width="0.8"/>
<circle cx="51.5" cy="465.3" r="1.9" fill="none" stroke="#e2564c" stroke-width="0.8"/>
<circle cx="56" cy="465.7" r="1.9" fill="none" stroke="#e2564c" stroke-width="0.8"/>
<circle cx="55.5" cy="441.4" r="1.9" fill="none" stroke="#e2564c" stroke-width="0.8"/>
<circle cx="59.5" cy="426.9" r="1.9" fill="none" stroke="#e2564c" stroke-width="0.8"/>
<circle cx="51.5" cy="447.7" r="1.9" fill="none" stroke="#e2564c" stroke-width="0.8"/>
<circle cx="71" cy="454.7" r="1.9" fill="none" stroke="#e2564c" stroke-width="0.8"/>
<circle cx="71" cy="441.7" r="1.9" fill="none" stroke="#e2564c" stroke-width="0.8"/>
<circle cx="71" cy="463.4" r="2" fill="#e2564c"/>
<circle cx="73.5" cy="451.8" r="1.9" fill="none" stroke="#e2564c" stroke-width="0.8"/>
<circle cx="71" cy="434.7" r="1.9" fill="none" stroke="#e2564c" stroke-width="0.8"/>
<circle cx="73.5" cy="460.5" r="2" fill="#e2564c"/>
<circle cx="68.5" cy="452.1" r="1.9" fill="none" stroke="#e2564c" stroke-width="0.8"/>
<circle cx="71" cy="423.7" r="1.9" fill="none" stroke="#e2564c" stroke-width="0.8"/>
<circle cx="74" cy="432.1" r="1.9" fill="none" stroke="#e2564c" stroke-width="0.8"/>
<circle cx="74.5" cy="455.8" r="2" fill="#e2564c"/>
<circle cx="71" cy="471.6" r="2" fill="#e2564c"/>
<circle cx="71" cy="446.1" r="1.9" fill="none" stroke="#e2564c" stroke-width="0.8"/>
<circle cx="71" cy="483.3" r="2" fill="#e2564c"/>
<circle cx="75.5" cy="452.4" r="2" fill="#e2564c"/>
<circle cx="75" cy="442.1" r="1.9" fill="none" stroke="#e2564c" stroke-width="0.8"/>
<circle cx="69" cy="460.2" r="2" fill="#e2564c"/>
<circle cx="71" cy="494.7" r="2" fill="#e2564c"/>
<circle cx="66.5" cy="451.4" r="2" fill="#e2564c"/>
<circle cx="66.5" cy="457.3" r="2" fill="#e2564c"/>
<circle cx="74" cy="437.2" r="1.9" fill="none" stroke="#e2564c" stroke-width="0.8"/>
<circle cx="67" cy="442.1" r="1.9" fill="none" stroke="#e2564c" stroke-width="0.8"/>
<circle cx="68" cy="437.2" r="1.9" fill="none" stroke="#e2564c" stroke-width="0.8"/>
<circle cx="71" cy="476.4" r="1.9" fill="none" stroke="#e2564c" stroke-width="0.8"/>
<circle cx="70" cy="452.8" r="2" fill="#e2564c"/>
<circle cx="74.5" cy="477.3" r="2" fill="#e2564c"/>
<circle cx="71" cy="490.3" r="2" fill="#e2564c"/>
<circle cx="66.5" cy="461.2" r="2" fill="#e2564c"/>
<circle cx="70.5" cy="430.9" r="1.9" fill="none" stroke="#e2564c" stroke-width="0.8"/>
<circle cx="71.5" cy="467" r="2" fill="#e2564c"/>
<circle cx="66.5" cy="434.1" r="1.9" fill="none" stroke="#e2564c" stroke-width="0.8"/>
<circle cx="74.5" cy="444.3" r="2" fill="#e2564c"/>
<circle cx="67" cy="477.2" r="1.9" fill="none" stroke="#e2564c" stroke-width="0.8"/>
<circle cx="75" cy="423.7" r="1.9" fill="none" stroke="#e2564c" stroke-width="0.8"/>
<circle cx="67.5" cy="428.7" r="1.9" fill="none" stroke="#e2564c" stroke-width="0.8"/>
<circle cx="66.5" cy="452.3" r="2" fill="#e2564c"/>
<circle cx="75.5" cy="462.6" r="2" fill="#e2564c"/>
<circle cx="75" cy="482.8" r="1.9" fill="none" stroke="#e2564c" stroke-width="0.8"/>
<circle cx="67.5" cy="467.1" r="1.9" fill="none" stroke="#e2564c" stroke-width="0.8"/>
<circle cx="71" cy="438.7" r="1.9" fill="none" stroke="#e2564c" stroke-width="0.8"/>
<circle cx="75.5" cy="452.6" r="2" fill="#e2564c"/>
<circle cx="75.5" cy="431" r="1.9" fill="none" stroke="#e2564c" stroke-width="0.8"/>
<circle cx="72.5" cy="450.1" r="1.9" fill="none" stroke="#e2564c" stroke-width="0.8"/>
<circle cx="75.5" cy="476" r="1.9" fill="none" stroke="#e2564c" stroke-width="0.8"/>
<circle cx="74.5" cy="469.2" r="2" fill="#e2564c"/>
<circle cx="67.5" cy="447.4" r="2" fill="#e2564c"/>
<circle cx="67.5" cy="475.2" r="2" fill="#e2564c"/>
<circle cx="75.5" cy="446.8" r="2" fill="#e2564c"/>
<circle cx="66.5" cy="461.4" r="2" fill="#e2564c"/>
<circle cx="75.5" cy="465.7" r="2" fill="#e2564c"/>
<circle cx="67" cy="482.4" r="2" fill="#e2564c"/>
<circle cx="66.5" cy="466.8" r="2" fill="#e2564c"/>
<circle cx="68.5" cy="469.1" r="2" fill="#e2564c"/>
<circle cx="66.5" cy="470.5" r="2" fill="#e2564c"/>
<circle cx="74.5" cy="469.2" r="2" fill="#e2564c"/>
<circle cx="71" cy="463.1" r="1.9" fill="none" stroke="#e2564c" stroke-width="0.8"/>
<circle cx="66.5" cy="454" r="2" fill="#e2564c"/>
<circle cx="67.5" cy="443.4" r="2" fill="#e2564c"/>
<circle cx="72" cy="458.3" r="2" fill="#e2564c"/>
<circle cx="75.5" cy="437.9" r="1.9" fill="none" stroke="#e2564c" stroke-width="0.8"/>
<circle cx="66.5" cy="483.4" r="2" fill="#e2564c"/>
<circle cx="75.5" cy="457.8" r="2" fill="#e2564c"/>
<circle cx="66.5" cy="447.4" r="2" fill="#e2564c"/>
<circle cx="69" cy="456.4" r="1.9" fill="none" stroke="#e2564c" stroke-width="0.8"/>
<circle cx="66.5" cy="439.1" r="1.9" fill="none" stroke="#e2564c" stroke-width="0.8"/>
<circle cx="75.5" cy="456.2" r="1.9" fill="none" stroke="#e2564c" stroke-width="0.8"/>
<circle cx="71" cy="468.7" r="2" fill="#e2564c"/>
<circle cx="72" cy="453.2" r="1.9" fill="none" stroke="#e2564c" stroke-width="0.8"/>
<circle cx="75.5" cy="448.8" r="2" fill="#e2564c"/>
<circle cx="74.5" cy="488.7" r="2" fill="#e2564c"/>
<circle cx="75.5" cy="469.6" r="2" fill="#e2564c"/>
<circle cx="75.5" cy="462.5" r="2" fill="#e2564c"/>
<circle cx="68.5" cy="487.7" r="2" fill="#e2564c"/>
<circle cx="66.5" cy="456.4" r="2" fill="#e2564c"/>
<circle cx="67.5" cy="464.6" r="2" fill="#e2564c"/>
<circle cx="70" cy="460.2" r="2" fill="#e2564c"/>
<circle cx="73.5" cy="474.1" r="1.9" fill="none" stroke="#e2564c" stroke-width="0.8"/>
<circle cx="71" cy="442.2" r="1.9" fill="none" stroke="#e2564c" stroke-width="0.8"/>
<circle cx="71.5" cy="454.1" r="1.9" fill="none" stroke="#e2564c" stroke-width="0.8"/>
<circle cx="75.5" cy="483.2" r="2" fill="#e2564c"/>
<circle cx="71" cy="448.4" r="2" fill="#e2564c"/>
<circle cx="69" cy="450.7" r="2" fill="#e2564c"/>
<circle cx="71.5" cy="483.8" r="1.9" fill="none" stroke="#e2564c" stroke-width="0.8"/>
<circle cx="75.5" cy="435.6" r="1.9" fill="none" stroke="#e2564c" stroke-width="0.8"/>
<circle cx="72" cy="464.1" r="2" fill="#e2564c"/>
<circle cx="66.5" cy="470.5" r="2" fill="#e2564c"/>
<circle cx="75" cy="455.5" r="1.9" fill="none" stroke="#e2564c" stroke-width="0.8"/>
<circle cx="66.5" cy="443.3" r="2" fill="#e2564c"/>
<circle cx="75.5" cy="452.8" r="2" fill="#e2564c"/>
<circle cx="70" cy="472.4" r="1.9" fill="none" stroke="#e2564c" stroke-width="0.8"/>
<circle cx="75.5" cy="473.1" r="2" fill="#e2564c"/>
<circle cx="73" cy="460.4" r="1.9" fill="none" stroke="#e2564c" stroke-width="0.8"/>
<circle cx="71.5" cy="471.1" r="2" fill="#e2564c"/>
<circle cx="75.5" cy="440.1" r="1.9" fill="none" stroke="#e2564c" stroke-width="0.8"/>
<circle cx="75" cy="494.4" r="1.9" fill="none" stroke="#e2564c" stroke-width="0.8"/>
<circle cx="66.5" cy="461.5" r="1.9" fill="none" stroke="#e2564c" stroke-width="0.8"/>
<circle cx="66.5" cy="454" r="2" fill="#e2564c"/>
<circle cx="71" cy="444.8" r="2" fill="#e2564c"/>
<circle cx="75.5" cy="447.7" r="2" fill="#e2564c"/>
<circle cx="72" cy="448.7" r="2" fill="#e2564c"/>
<circle cx="71.5" cy="457.3" r="2" fill="#e2564c"/>
<circle cx="86.2" cy="443.1" r="1.9" fill="none" stroke="#e2564c" stroke-width="0.8"/>
<circle cx="86.2" cy="433.3" r="1.9" fill="none" stroke="#e2564c" stroke-width="0.8"/>
<circle cx="86.2" cy="472.8" r="1.9" fill="none" stroke="#e2564c" stroke-width="0.8"/>
<circle cx="86.2" cy="448.1" r="1.9" fill="none" stroke="#e2564c" stroke-width="0.8"/>
<circle cx="89.7" cy="446.3" r="1.9" fill="none" stroke="#e2564c" stroke-width="0.8"/>
<circle cx="86.2" cy="465.8" r="1.9" fill="none" stroke="#e2564c" stroke-width="0.8"/>
<circle cx="88.7" cy="470" r="1.9" fill="none" stroke="#e2564c" stroke-width="0.8"/>
<circle cx="86.2" cy="452.7" r="1.9" fill="none" stroke="#e2564c" stroke-width="0.8"/>
<circle cx="86.2" cy="460.8" r="1.9" fill="none" stroke="#e2564c" stroke-width="0.8"/>
<circle cx="90.2" cy="452.8" r="1.9" fill="none" stroke="#e2564c" stroke-width="0.8"/>
<circle cx="86.2" cy="456.5" r="1.9" fill="none" stroke="#e2564c" stroke-width="0.8"/>
<circle cx="86.2" cy="438.7" r="1.9" fill="none" stroke="#e2564c" stroke-width="0.8"/>
<circle cx="86.2" cy="477.4" r="1.9" fill="none" stroke="#e2564c" stroke-width="0.8"/>
<circle cx="86.2" cy="482.6" r="1.9" fill="none" stroke="#e2564c" stroke-width="0.8"/>
<circle cx="89.7" cy="464" r="1.9" fill="none" stroke="#e2564c" stroke-width="0.8"/>
<circle cx="82.2" cy="466.3" r="1.9" fill="none" stroke="#e2564c" stroke-width="0.8"/>
<circle cx="83.2" cy="470.4" r="1.9" fill="none" stroke="#e2564c" stroke-width="0.8"/>
<circle cx="90.7" cy="465.3" r="1.9" fill="none" stroke="#e2564c" stroke-width="0.8"/>
<circle cx="90.7" cy="470.3" r="1.9" fill="none" stroke="#e2564c" stroke-width="0.8"/>
<circle cx="81.7" cy="465.7" r="1.9" fill="none" stroke="#e2564c" stroke-width="0.8"/>
<circle cx="82.7" cy="449.8" r="1.9" fill="none" stroke="#e2564c" stroke-width="0.8"/>
<circle cx="82.7" cy="444" r="1.9" fill="none" stroke="#e2564c" stroke-width="0.8"/>
<circle cx="90.2" cy="460" r="1.9" fill="none" stroke="#e2564c" stroke-width="0.8"/>
<circle cx="82.7" cy="459.4" r="1.9" fill="none" stroke="#e2564c" stroke-width="0.8"/>
<circle cx="89.7" cy="457.5" r="1.9" fill="none" stroke="#e2564c" stroke-width="0.8"/>
<circle cx="86.7" cy="466.3" r="1.9" fill="none" stroke="#e2564c" stroke-width="0.8"/>
<circle cx="90.7" cy="466.2" r="1.9" fill="none" stroke="#e2564c" stroke-width="0.8"/>
<circle cx="85.7" cy="465.1" r="1.9" fill="none" stroke="#e2564c" stroke-width="0.8"/>
<circle cx="81.7" cy="456.7" r="1.9" fill="none" stroke="#e2564c" stroke-width="0.8"/>
<circle cx="81.7" cy="451.2" r="1.9" fill="none" stroke="#e2564c" stroke-width="0.8"/>
<circle cx="81.7" cy="447.3" r="1.9" fill="none" stroke="#e2564c" stroke-width="0.8"/>
<circle cx="83.2" cy="462.7" r="1.9" fill="none" stroke="#e2564c" stroke-width="0.8"/>
<circle cx="86.7" cy="462.1" r="1.9" fill="none" stroke="#e2564c" stroke-width="0.8"/>
<circle cx="82.7" cy="455.4" r="1.9" fill="none" stroke="#e2564c" stroke-width="0.8"/>
<circle cx="81.7" cy="465" r="1.9" fill="none" stroke="#e2564c" stroke-width="0.8"/>
<circle cx="90.2" cy="442.5" r="1.9" fill="none" stroke="#e2564c" stroke-width="0.8"/>
<circle cx="85.7" cy="467.6" r="1.9" fill="none" stroke="#e2564c" stroke-width="0.8"/>
<circle cx="89.7" cy="453.7" r="1.9" fill="none" stroke="#e2564c" stroke-width="0.8"/>
<circle cx="90.7" cy="467.6" r="1.9" fill="none" stroke="#e2564c" stroke-width="0.8"/>
<circle cx="90.2" cy="438.3" r="1.9" fill="none" stroke="#e2564c" stroke-width="0.8"/>
<circle cx="86.7" cy="451.3" r="1.9" fill="none" stroke="#e2564c" stroke-width="0.8"/>
<circle cx="81.7" cy="469.2" r="1.9" fill="none" stroke="#e2564c" stroke-width="0.8"/>
<circle cx="89.7" cy="464.5" r="1.9" fill="none" stroke="#e2564c" stroke-width="0.8"/>
<circle cx="86.7" cy="455.7" r="1.9" fill="none" stroke="#e2564c" stroke-width="0.8"/>
<circle cx="82.2" cy="466.9" r="1.9" fill="none" stroke="#e2564c" stroke-width="0.8"/>
<circle cx="90.2" cy="477.5" r="1.9" fill="none" stroke="#e2564c" stroke-width="0.8"/>
<circle cx="81.7" cy="441.6" r="1.9" fill="none" stroke="#e2564c" stroke-width="0.8"/>
<circle cx="86.7" cy="466.2" r="1.9" fill="none" stroke="#e2564c" stroke-width="0.8"/>
<circle cx="90.7" cy="467.9" r="1.9" fill="none" stroke="#e2564c" stroke-width="0.8"/>
<circle cx="88.7" cy="485.2" r="1.9" fill="none" stroke="#e2564c" stroke-width="0.8"/>
<circle cx="81.7" cy="464.6" r="1.9" fill="none" stroke="#e2564c" stroke-width="0.8"/>
<circle cx="85.7" cy="465.6" r="1.9" fill="none" stroke="#e2564c" stroke-width="0.8"/>
<circle cx="86.2" cy="492.3" r="1.9" fill="none" stroke="#e2564c" stroke-width="0.8"/>
<circle cx="86.7" cy="444" r="1.9" fill="none" stroke="#e2564c" stroke-width="0.8"/>
<circle cx="90.7" cy="455.4" r="1.9" fill="none" stroke="#e2564c" stroke-width="0.8"/>
<circle cx="90.7" cy="466.7" r="1.9" fill="none" stroke="#e2564c" stroke-width="0.8"/>
<circle cx="89.7" cy="491.3" r="1.9" fill="none" stroke="#e2564c" stroke-width="0.8"/>
<circle cx="81.7" cy="472.1" r="1.9" fill="none" stroke="#e2564c" stroke-width="0.8"/>
<circle cx="90.7" cy="449.8" r="1.9" fill="none" stroke="#e2564c" stroke-width="0.8"/>
<circle cx="89.7" cy="464.4" r="1.9" fill="none" stroke="#e2564c" stroke-width="0.8"/>
<circle cx="101.4" cy="435.8" r="1.9" fill="none" stroke="#e2564c" stroke-width="0.8"/>
<circle cx="104.9" cy="437.4" r="1.9" fill="none" stroke="#e2564c" stroke-width="0.8"/>
<circle cx="101.4" cy="442.2" r="1.9" fill="none" stroke="#e2564c" stroke-width="0.8"/>
<circle cx="101.4" cy="455.1" r="1.9" fill="none" stroke="#e2564c" stroke-width="0.8"/>
<circle cx="101.4" cy="465.6" r="1.9" fill="none" stroke="#e2564c" stroke-width="0.8"/>
<circle cx="103.4" cy="468.8" r="1.9" fill="none" stroke="#e2564c" stroke-width="0.8"/>
<circle cx="100.4" cy="471.3" r="1.9" fill="none" stroke="#e2564c" stroke-width="0.8"/>
<circle cx="103.4" cy="473.7" r="1.9" fill="none" stroke="#e2564c" stroke-width="0.8"/>
<circle cx="99.9" cy="475.3" r="1.9" fill="none" stroke="#e2564c" stroke-width="0.8"/>
<circle cx="101.4" cy="480.1" r="1.9" fill="none" stroke="#e2564c" stroke-width="0.8"/>
<circle cx="104.9" cy="481.8" r="1.9" fill="none" stroke="#e2564c" stroke-width="0.8"/>
<circle cx="98.4" cy="482.6" r="1.9" fill="none" stroke="#e2564c" stroke-width="0.8"/>
<circle cx="116.5" cy="429.3" r="1.9" fill="none" stroke="#e2564c" stroke-width="0.8"/>
<circle cx="116.5" cy="439.8" r="1.9" fill="none" stroke="#e2564c" stroke-width="0.8"/>
<circle cx="116.5" cy="450.3" r="1.9" fill="none" stroke="#e2564c" stroke-width="0.8"/>
<circle cx="116.5" cy="455.1" r="1.9" fill="none" stroke="#e2564c" stroke-width="0.8"/>
<circle cx="116.5" cy="460" r="1.9" fill="none" stroke="#e2564c" stroke-width="0.8"/>
<circle cx="119.5" cy="462.4" r="1.9" fill="none" stroke="#e2564c" stroke-width="0.8"/>
<circle cx="116" cy="464" r="1.9" fill="none" stroke="#e2564c" stroke-width="0.8"/>
<circle cx="119" cy="466.4" r="1.9" fill="none" stroke="#e2564c" stroke-width="0.8"/>
<circle cx="115.5" cy="468" r="1.9" fill="none" stroke="#e2564c" stroke-width="0.8"/>
<circle cx="121" cy="469.7" r="1.9" fill="none" stroke="#e2564c" stroke-width="0.8"/>
<circle cx="117.5" cy="471.3" r="1.9" fill="none" stroke="#e2564c" stroke-width="0.8"/>
<circle cx="116.5" cy="475.3" r="1.9" fill="none" stroke="#e2564c" stroke-width="0.8"/>
<circle cx="120" cy="476.9" r="1.9" fill="none" stroke="#e2564c" stroke-width="0.8"/>
<circle cx="116.5" cy="479.3" r="1.9" fill="none" stroke="#e2564c" stroke-width="0.8"/>
<circle cx="116.5" cy="483.4" r="1.9" fill="none" stroke="#e2564c" stroke-width="0.8"/>
<circle cx="119.5" cy="485.8" r="1.9" fill="none" stroke="#e2564c" stroke-width="0.8"/>
<circle cx="116.5" cy="488.2" r="1.9" fill="none" stroke="#e2564c" stroke-width="0.8"/>
<circle cx="131.8" cy="451.9" r="1.9" fill="none" stroke="#e2564c" stroke-width="0.8"/>
<circle cx="131.8" cy="460" r="1.9" fill="none" stroke="#e2564c" stroke-width="0.8"/>
<circle cx="131.8" cy="470.5" r="1.9" fill="none" stroke="#e2564c" stroke-width="0.8"/>
<circle cx="135.3" cy="472.1" r="1.9" fill="none" stroke="#e2564c" stroke-width="0.8"/>
<circle cx="129.8" cy="473.7" r="1.9" fill="none" stroke="#e2564c" stroke-width="0.8"/>
<circle cx="131.8" cy="478.5" r="1.9" fill="none" stroke="#e2564c" stroke-width="0.8"/>
<circle cx="133.8" cy="481.8" r="1.9" fill="none" stroke="#e2564c" stroke-width="0.8"/>
<line x1="35.8" y1="455.1" x2="46.2" y2="455.1" stroke="#111" stroke-width="1.6"/>
<line x1="50.8" y1="454.7" x2="61.2" y2="454.7" stroke="#111" stroke-width="1.6"/>
<line x1="65.8" y1="455.9" x2="76.2" y2="455.9" stroke="#111" stroke-width="1.6"/>
<line x1="81" y1="461.2" x2="91.4" y2="461.2" stroke="#111" stroke-width="1.6"/>
<line x1="96.2" y1="469.7" x2="106.6" y2="469.7" stroke="#111" stroke-width="1.6"/>
<line x1="111.3" y1="468" x2="121.7" y2="468" stroke="#111" stroke-width="1.6"/>
<line x1="126.6" y1="472.9" x2="137" y2="472.9" stroke="#111" stroke-width="1.6"/>
<rect x="33.2" y="414.4" width="109.9" height="83.5" fill="none" stroke="#231f20" stroke-width="0.8"/>
<line x1="31.4" y1="497.9" x2="33.2" y2="497.9" stroke="#231f20" stroke-width="0.8"/>
<text x="30.6" y="501.5" font-size="9.6" text-anchor="end">0.0</text>
<line x1="31.4" y1="481.8" x2="33.2" y2="481.8" stroke="#231f20" stroke-width="0.8"/>
<text x="30.6" y="485.4" font-size="9.6" text-anchor="end">0.2</text>
<line x1="31.4" y1="465.6" x2="33.2" y2="465.6" stroke="#231f20" stroke-width="0.8"/>
<text x="30.6" y="469.2" font-size="9.6" text-anchor="end">0.4</text>
<line x1="31.4" y1="449.5" x2="33.2" y2="449.5" stroke="#231f20" stroke-width="0.8"/>
<text x="30.6" y="453.1" font-size="9.6" text-anchor="end">0.6</text>
<line x1="31.4" y1="433.3" x2="33.2" y2="433.3" stroke="#231f20" stroke-width="0.8"/>
<text x="30.6" y="436.9" font-size="9.6" text-anchor="end">0.8</text>
<line x1="31.4" y1="417.2" x2="33.2" y2="417.2" stroke="#231f20" stroke-width="0.8"/>
<text x="30.6" y="420.8" font-size="9.6" text-anchor="end">1.0</text>
<line x1="41" y1="497.9" x2="41" y2="499.7" stroke="#231f20" stroke-width="0.8"/>
<text x="46.6" y="505.7" font-size="9.2" text-anchor="end" transform="rotate(-45 46.6 505.7)">7</text>
<line x1="56" y1="497.9" x2="56" y2="499.7" stroke="#231f20" stroke-width="0.8"/>
<text x="61.6" y="505.7" font-size="9.2" text-anchor="end" transform="rotate(-45 61.6 505.7)">14–15</text>
<line x1="71" y1="497.9" x2="71" y2="499.7" stroke="#231f20" stroke-width="0.8"/>
<text x="76.6" y="505.7" font-size="9.2" text-anchor="end" transform="rotate(-45 76.6 505.7)">21–23</text>
<line x1="86.2" y1="497.9" x2="86.2" y2="499.7" stroke="#231f20" stroke-width="0.8"/>
<text x="91.8" y="505.7" font-size="9.2" text-anchor="end" transform="rotate(-45 91.8 505.7)">35</text>
<line x1="101.4" y1="497.9" x2="101.4" y2="499.7" stroke="#231f20" stroke-width="0.8"/>
<text x="107" y="505.7" font-size="9.2" text-anchor="end" transform="rotate(-45 107 505.7)">42</text>
<line x1="116.5" y1="497.9" x2="116.5" y2="499.7" stroke="#231f20" stroke-width="0.8"/>
<text x="122.1" y="505.7" font-size="9.2" text-anchor="end" transform="rotate(-45 122.1 505.7)">49</text>
<line x1="131.8" y1="497.9" x2="131.8" y2="499.7" stroke="#231f20" stroke-width="0.8"/>
<text x="137.4" y="505.7" font-size="9.2" text-anchor="end" transform="rotate(-45 137.4 505.7)">56</text>
<text x="88.2" y="533.2" font-size="9.7" text-anchor="middle">Days post-tamoxifen</text>
<text x="40.6" y="408.6" font-size="9.7">Coloured cell density</text>
<text x="8.8" y="457.4" font-size="9.4" text-anchor="middle" transform="rotate(-90 8.8 457.4)">Cells per 100 µm<tspan font-size="6.2" dy="-3.4">2</tspan></text>
<circle cx="202" cy="469.2" r="1.9" fill="none" stroke="#23957a" stroke-width="0.8"/>
<circle cx="202" cy="479.5" r="1.9" fill="none" stroke="#23957a" stroke-width="0.8"/>
<circle cx="205.5" cy="470.5" r="1.9" fill="none" stroke="#23957a" stroke-width="0.8"/>
<circle cx="199" cy="467" r="1.9" fill="none" stroke="#23957a" stroke-width="0.8"/>
<circle cx="198" cy="470.5" r="1.9" fill="none" stroke="#23957a" stroke-width="0.8"/>
<circle cx="206.5" cy="467.3" r="1.9" fill="none" stroke="#23957a" stroke-width="0.8"/>
<circle cx="202" cy="475.4" r="1.9" fill="none" stroke="#23957a" stroke-width="0.8"/>
<circle cx="202" cy="456" r="1.9" fill="none" stroke="#23957a" stroke-width="0.8"/>
<circle cx="202" cy="449.4" r="1.9" fill="none" stroke="#23957a" stroke-width="0.8"/>
<circle cx="206" cy="474.8" r="1.9" fill="none" stroke="#23957a" stroke-width="0.8"/>
<circle cx="202" cy="461.7" r="1.9" fill="none" stroke="#23957a" stroke-width="0.8"/>
<circle cx="198.5" cy="476.9" r="1.9" fill="none" stroke="#23957a" stroke-width="0.8"/>
<circle cx="197.5" cy="474.9" r="1.9" fill="none" stroke="#23957a" stroke-width="0.8"/>
<circle cx="202" cy="445.2" r="1.9" fill="none" stroke="#23957a" stroke-width="0.8"/>
<circle cx="202.5" cy="468" r="1.9" fill="none" stroke="#23957a" stroke-width="0.8"/>
<circle cx="206" cy="479.2" r="1.9" fill="none" stroke="#23957a" stroke-width="0.8"/>
<circle cx="197.5" cy="466.4" r="1.9" fill="none" stroke="#23957a" stroke-width="0.8"/>
<circle cx="204" cy="464.7" r="1.9" fill="none" stroke="#23957a" stroke-width="0.8"/>
<circle cx="205" cy="477.8" r="1.9" fill="none" stroke="#23957a" stroke-width="0.8"/>
<circle cx="200.5" cy="465" r="1.9" fill="none" stroke="#23957a" stroke-width="0.8"/>
<circle cx="201.5" cy="476.9" r="1.9" fill="none" stroke="#23957a" stroke-width="0.8"/>
<circle cx="198.5" cy="470.8" r="1.9" fill="none" stroke="#23957a" stroke-width="0.8"/>
<circle cx="202" cy="471.8" r="1.9" fill="none" stroke="#23957a" stroke-width="0.8"/>
<circle cx="205.5" cy="457.7" r="1.9" fill="none" stroke="#23957a" stroke-width="0.8"/>
<circle cx="206.5" cy="475.1" r="1.9" fill="none" stroke="#23957a" stroke-width="0.8"/>
<circle cx="206.5" cy="466.3" r="1.9" fill="none" stroke="#23957a" stroke-width="0.8"/>
<circle cx="205.5" cy="470.8" r="1.9" fill="none" stroke="#23957a" stroke-width="0.8"/>
<circle cx="197.5" cy="469.9" r="1.9" fill="none" stroke="#23957a" stroke-width="0.8"/>
<circle cx="206" cy="461.6" r="1.9" fill="none" stroke="#23957a" stroke-width="0.8"/>
<circle cx="202" cy="469.3" r="1.9" fill="none" stroke="#23957a" stroke-width="0.8"/>
<circle cx="206.5" cy="471.4" r="1.9" fill="none" stroke="#23957a" stroke-width="0.8"/>
<circle cx="197.5" cy="477" r="1.9" fill="none" stroke="#23957a" stroke-width="0.8"/>
<circle cx="202" cy="475.8" r="1.9" fill="none" stroke="#23957a" stroke-width="0.8"/>
<circle cx="204" cy="464.8" r="1.9" fill="none" stroke="#23957a" stroke-width="0.8"/>
<circle cx="206" cy="450.2" r="1.9" fill="none" stroke="#23957a" stroke-width="0.8"/>
<circle cx="197.5" cy="470.2" r="1.9" fill="none" stroke="#23957a" stroke-width="0.8"/>
<circle cx="205.5" cy="470.5" r="1.9" fill="none" stroke="#23957a" stroke-width="0.8"/>
<circle cx="202" cy="471.9" r="1.9" fill="none" stroke="#23957a" stroke-width="0.8"/>
<circle cx="202" cy="469" r="1.9" fill="none" stroke="#23957a" stroke-width="0.8"/>
<circle cx="200.5" cy="472.7" r="1.9" fill="none" stroke="#23957a" stroke-width="0.8"/>
<circle cx="206" cy="446" r="1.9" fill="none" stroke="#23957a" stroke-width="0.8"/>
<circle cx="206.5" cy="466.9" r="1.9" fill="none" stroke="#23957a" stroke-width="0.8"/>
<circle cx="217.4" cy="458.8" r="1.9" fill="none" stroke="#23957a" stroke-width="0.8"/>
<circle cx="217.4" cy="467.8" r="1.9" fill="none" stroke="#23957a" stroke-width="0.8"/>
<circle cx="221.4" cy="458.4" r="1.9" fill="none" stroke="#23957a" stroke-width="0.8"/>
<circle cx="221.4" cy="467.8" r="1.9" fill="none" stroke="#23957a" stroke-width="0.8"/>
<circle cx="217.4" cy="463.7" r="1.9" fill="none" stroke="#23957a" stroke-width="0.8"/>
<circle cx="217.4" cy="434.3" r="1.9" fill="none" stroke="#23957a" stroke-width="0.8"/>
<circle cx="213.9" cy="465.4" r="1.9" fill="none" stroke="#23957a" stroke-width="0.8"/>
<circle cx="213.9" cy="457.8" r="1.9" fill="none" stroke="#23957a" stroke-width="0.8"/>
<circle cx="217.4" cy="475.2" r="1.9" fill="none" stroke="#23957a" stroke-width="0.8"/>
<circle cx="212.9" cy="461.1" r="1.9" fill="none" stroke="#23957a" stroke-width="0.8"/>
<circle cx="213.9" cy="469.4" r="1.9" fill="none" stroke="#23957a" stroke-width="0.8"/>
<circle cx="220.9" cy="464.9" r="1.9" fill="none" stroke="#23957a" stroke-width="0.8"/>
<circle cx="217.4" cy="468.3" r="1.9" fill="none" stroke="#23957a" stroke-width="0.8"/>
<circle cx="221.9" cy="462.7" r="1.9" fill="none" stroke="#23957a" stroke-width="0.8"/>
<circle cx="217.4" cy="451.3" r="1.9" fill="none" stroke="#23957a" stroke-width="0.8"/>
<circle cx="212.9" cy="467.3" r="1.9" fill="none" stroke="#23957a" stroke-width="0.8"/>
<circle cx="220.9" cy="473.4" r="1.9" fill="none" stroke="#23957a" stroke-width="0.8"/>
<circle cx="219.4" cy="470.8" r="1.9" fill="none" stroke="#23957a" stroke-width="0.8"/>
<circle cx="217.4" cy="418.4" r="1.9" fill="none" stroke="#23957a" stroke-width="0.8"/>
<circle cx="214.4" cy="465.7" r="1.9" fill="none" stroke="#23957a" stroke-width="0.8"/>
<circle cx="218.9" cy="455.9" r="1.9" fill="none" stroke="#23957a" stroke-width="0.8"/>
<circle cx="217.4" cy="464.2" r="1.9" fill="none" stroke="#23957a" stroke-width="0.8"/>
<circle cx="212.9" cy="457.4" r="1.9" fill="none" stroke="#23957a" stroke-width="0.8"/>
<circle cx="217.9" cy="459.5" r="1.9" fill="none" stroke="#23957a" stroke-width="0.8"/>
<circle cx="221.9" cy="467.3" r="1.9" fill="none" stroke="#23957a" stroke-width="0.8"/>
<circle cx="221.9" cy="468.3" r="1.9" fill="none" stroke="#23957a" stroke-width="0.8"/>
<circle cx="214.9" cy="454.2" r="1.9" fill="none" stroke="#23957a" stroke-width="0.8"/>
<circle cx="212.9" cy="464.3" r="1.9" fill="none" stroke="#23957a" stroke-width="0.8"/>
<circle cx="212.9" cy="468.7" r="1.9" fill="none" stroke="#23957a" stroke-width="0.8"/>
<circle cx="217.9" cy="466.3" r="1.9" fill="none" stroke="#23957a" stroke-width="0.8"/>
<circle cx="213.9" cy="477" r="1.9" fill="none" stroke="#23957a" stroke-width="0.8"/>
<circle cx="217.4" cy="427.6" r="1.9" fill="none" stroke="#23957a" stroke-width="0.8"/>
<circle cx="217.4" cy="447" r="1.9" fill="none" stroke="#23957a" stroke-width="0.8"/>
<circle cx="220.9" cy="462.1" r="1.9" fill="none" stroke="#23957a" stroke-width="0.8"/>
<circle cx="214.4" cy="460.7" r="1.9" fill="none" stroke="#23957a" stroke-width="0.8"/>
<circle cx="221.4" cy="447.7" r="1.9" fill="none" stroke="#23957a" stroke-width="0.8"/>
<circle cx="215.9" cy="470.7" r="1.9" fill="none" stroke="#23957a" stroke-width="0.8"/>
<circle cx="220.9" cy="429.3" r="1.9" fill="none" stroke="#23957a" stroke-width="0.8"/>
<circle cx="217.4" cy="462.5" r="1.9" fill="none" stroke="#23957a" stroke-width="0.8"/>
<circle cx="221.9" cy="457.8" r="1.9" fill="none" stroke="#23957a" stroke-width="0.8"/>
<circle cx="212.9" cy="461.1" r="1.9" fill="none" stroke="#23957a" stroke-width="0.8"/>
<circle cx="220.9" cy="436" r="1.9" fill="none" stroke="#23957a" stroke-width="0.8"/>
<circle cx="221.9" cy="469.6" r="1.9" fill="none" stroke="#23957a" stroke-width="0.8"/>
<circle cx="212.9" cy="472" r="1.9" fill="none" stroke="#23957a" stroke-width="0.8"/>
<circle cx="221.4" cy="453.1" r="1.9" fill="none" stroke="#23957a" stroke-width="0.8"/>
<circle cx="217.4" cy="456.7" r="1.9" fill="none" stroke="#23957a" stroke-width="0.8"/>
<circle cx="221.9" cy="464" r="1.9" fill="none" stroke="#23957a" stroke-width="0.8"/>
<circle cx="212.9" cy="465.2" r="1.9" fill="none" stroke="#23957a" stroke-width="0.8"/>
<circle cx="221.9" cy="458.7" r="1.9" fill="none" stroke="#23957a" stroke-width="0.8"/>
<circle cx="219.4" cy="470.7" r="1.9" fill="none" stroke="#23957a" stroke-width="0.8"/>
<circle cx="221.9" cy="474.6" r="1.9" fill="none" stroke="#23957a" stroke-width="0.8"/>
<circle cx="217.4" cy="439.3" r="1.9" fill="none" stroke="#23957a" stroke-width="0.8"/>
<circle cx="215.9" cy="430.9" r="1.9" fill="none" stroke="#23957a" stroke-width="0.8"/>
<circle cx="212.9" cy="455.2" r="1.9" fill="none" stroke="#23957a" stroke-width="0.8"/>
<circle cx="221.9" cy="455" r="1.9" fill="none" stroke="#23957a" stroke-width="0.8"/>
<circle cx="212.9" cy="451.7" r="1.9" fill="none" stroke="#23957a" stroke-width="0.8"/>
<circle cx="232.6" cy="450.7" r="1.9" fill="none" stroke="#23957a" stroke-width="0.8"/>
<circle cx="232.6" cy="443" r="2" fill="#23957a"/>
<circle cx="236.1" cy="449" r="2" fill="#23957a"/>
<circle cx="233.1" cy="454.3" r="1.9" fill="none" stroke="#23957a" stroke-width="0.8"/>
<circle cx="232.6" cy="426" r="1.9" fill="none" stroke="#23957a" stroke-width="0.8"/>
<circle cx="232.6" cy="414.2" r="1.9" fill="none" stroke="#23957a" stroke-width="0.8"/>
<circle cx="232.6" cy="438.5" r="2" fill="#23957a"/>
<circle cx="232.6" cy="476.1" r="2" fill="#23957a"/>
<circle cx="232.6" cy="432.9" r="1.9" fill="none" stroke="#23957a" stroke-width="0.8"/>
<circle cx="234.1" cy="429.6" r="1.9" fill="none" stroke="#23957a" stroke-width="0.8"/>
<circle cx="236.6" cy="439" r="1.9" fill="none" stroke="#23957a" stroke-width="0.8"/>
<circle cx="229.6" cy="453" r="2" fill="#23957a"/>
<circle cx="237.1" cy="452.6" r="2" fill="#23957a"/>
<circle cx="235.6" cy="435.5" r="2" fill="#23957a"/>
<circle cx="229.1" cy="434.3" r="1.9" fill="none" stroke="#23957a" stroke-width="0.8"/>
<circle cx="230.1" cy="445.6" r="2" fill="#23957a"/>
<circle cx="237.1" cy="432.5" r="2" fill="#23957a"/>
<circle cx="233.1" cy="446.9" r="1.9" fill="none" stroke="#23957a" stroke-width="0.8"/>
<circle cx="232.6" cy="419.7" r="2" fill="#23957a"/>
<circle cx="228.1" cy="431.8" r="1.9" fill="none" stroke="#23957a" stroke-width="0.8"/>
<circle cx="236.1" cy="421.4" r="1.9" fill="none" stroke="#23957a" stroke-width="0.8"/>
<circle cx="229.1" cy="440" r="2" fill="#23957a"/>
<circle cx="236.6" cy="443.2" r="1.9" fill="none" stroke="#23957a" stroke-width="0.8"/>
<circle cx="228.1" cy="439.6" r="1.9" fill="none" stroke="#23957a" stroke-width="0.8"/>
<circle cx="235.6" cy="416.8" r="2" fill="#23957a"/>
<circle cx="232.6" cy="459.8" r="2" fill="#23957a"/>
<circle cx="232.1" cy="436.4" r="1.9" fill="none" stroke="#23957a" stroke-width="0.8"/>
<circle cx="229.1" cy="418.2" r="1.9" fill="none" stroke="#23957a" stroke-width="0.8"/>
<circle cx="230.6" cy="430.1" r="2" fill="#23957a"/>
<circle cx="228.1" cy="437.6" r="1.9" fill="none" stroke="#23957a" stroke-width="0.8"/>
<circle cx="228.1" cy="451.2" r="1.9" fill="none" stroke="#23957a" stroke-width="0.8"/>
<circle cx="237.1" cy="436.3" r="1.9" fill="none" stroke="#23957a" stroke-width="0.8"/>
<circle cx="237.1" cy="428.9" r="1.9" fill="none" stroke="#23957a" stroke-width="0.8"/>
<circle cx="236.6" cy="452.7" r="1.9" fill="none" stroke="#23957a" stroke-width="0.8"/>
<circle cx="229.1" cy="424.7" r="1.9" fill="none" stroke="#23957a" stroke-width="0.8"/>
<circle cx="228.1" cy="448.2" r="1.9" fill="none" stroke="#23957a" stroke-width="0.8"/>
<circle cx="228.1" cy="415.6" r="1.9" fill="none" stroke="#23957a" stroke-width="0.8"/>
<circle cx="228.1" cy="428.2" r="1.9" fill="none" stroke="#23957a" stroke-width="0.8"/>
<circle cx="228.1" cy="435.8" r="2" fill="#23957a"/>
<circle cx="236.1" cy="425.5" r="1.9" fill="none" stroke="#23957a" stroke-width="0.8"/>
<circle cx="232.6" cy="424.6" r="1.9" fill="none" stroke="#23957a" stroke-width="0.8"/>
<circle cx="232.1" cy="416.3" r="1.9" fill="none" stroke="#23957a" stroke-width="0.8"/>
<circle cx="228.1" cy="454.5" r="1.9" fill="none" stroke="#23957a" stroke-width="0.8"/>
<circle cx="237.1" cy="425.8" r="1.9" fill="none" stroke="#23957a" stroke-width="0.8"/>
<circle cx="228.1" cy="420.7" r="1.9" fill="none" stroke="#23957a" stroke-width="0.8"/>
<circle cx="237.1" cy="446.3" r="1.9" fill="none" stroke="#23957a" stroke-width="0.8"/>
<circle cx="232.6" cy="437.8" r="1.9" fill="none" stroke="#23957a" stroke-width="0.8"/>
<circle cx="237.1" cy="417" r="1.9" fill="none" stroke="#23957a" stroke-width="0.8"/>
<circle cx="237.1" cy="436.9" r="1.9" fill="none" stroke="#23957a" stroke-width="0.8"/>
<circle cx="237.1" cy="420.4" r="2" fill="#23957a"/>
<circle cx="236.1" cy="439.2" r="1.9" fill="none" stroke="#23957a" stroke-width="0.8"/>
<circle cx="232.1" cy="435.1" r="1.9" fill="none" stroke="#23957a" stroke-width="0.8"/>
<circle cx="230.6" cy="428.9" r="1.9" fill="none" stroke="#23957a" stroke-width="0.8"/>
<circle cx="232.1" cy="450.3" r="1.9" fill="none" stroke="#23957a" stroke-width="0.8"/>
<circle cx="228.1" cy="414.7" r="1.9" fill="none" stroke="#23957a" stroke-width="0.8"/>
<circle cx="228.1" cy="444.6" r="2" fill="#23957a"/>
<circle cx="236.1" cy="449.8" r="1.9" fill="none" stroke="#23957a" stroke-width="0.8"/>
<circle cx="228.1" cy="448.8" r="1.9" fill="none" stroke="#23957a" stroke-width="0.8"/>
<circle cx="234.1" cy="430.6" r="2" fill="#23957a"/>
<circle cx="237.1" cy="432.3" r="1.9" fill="none" stroke="#23957a" stroke-width="0.8"/>
<circle cx="228.1" cy="436.7" r="1.9" fill="none" stroke="#23957a" stroke-width="0.8"/>
<circle cx="228.1" cy="426.2" r="2" fill="#23957a"/>
<circle cx="232.6" cy="419.8" r="1.9" fill="none" stroke="#23957a" stroke-width="0.8"/>
<circle cx="237.1" cy="415.8" r="1.9" fill="none" stroke="#23957a" stroke-width="0.8"/>
<circle cx="228.1" cy="432.5" r="1.9" fill="none" stroke="#23957a" stroke-width="0.8"/>
<circle cx="232.6" cy="440.7" r="1.9" fill="none" stroke="#23957a" stroke-width="0.8"/>
<circle cx="237.1" cy="436.2" r="2" fill="#23957a"/>
<circle cx="232.6" cy="423.7" r="1.9" fill="none" stroke="#23957a" stroke-width="0.8"/>
<circle cx="233.6" cy="444.3" r="1.9" fill="none" stroke="#23957a" stroke-width="0.8"/>
<circle cx="236.6" cy="460.1" r="2" fill="#23957a"/>
<circle cx="229.1" cy="420.8" r="2" fill="#23957a"/>
<circle cx="237.1" cy="425" r="1.9" fill="none" stroke="#23957a" stroke-width="0.8"/>
<circle cx="229.6" cy="417.6" r="2" fill="#23957a"/>
<circle cx="231.6" cy="437.7" r="1.9" fill="none" stroke="#23957a" stroke-width="0.8"/>
<circle cx="236.1" cy="439.5" r="1.9" fill="none" stroke="#23957a" stroke-width="0.8"/>
<circle cx="236.6" cy="456.1" r="2" fill="#23957a"/>
<circle cx="230.6" cy="462.9" r="2" fill="#23957a"/>
<circle cx="228.1" cy="423.1" r="2" fill="#23957a"/>
<circle cx="234.1" cy="429.6" r="2" fill="#23957a"/>
<circle cx="230.6" cy="430.9" r="1.9" fill="none" stroke="#23957a" stroke-width="0.8"/>
<circle cx="233.1" cy="453.5" r="2" fill="#23957a"/>
<circle cx="231.6" cy="426.9" r="1.9" fill="none" stroke="#23957a" stroke-width="0.8"/>
<circle cx="229.6" cy="454.5" r="1.9" fill="none" stroke="#23957a" stroke-width="0.8"/>
<circle cx="237.1" cy="431.9" r="1.9" fill="none" stroke="#23957a" stroke-width="0.8"/>
<circle cx="232.6" cy="419.8" r="2" fill="#23957a"/>
<circle cx="235.6" cy="435.5" r="2" fill="#23957a"/>
<circle cx="237.1" cy="429.4" r="1.9" fill="none" stroke="#23957a" stroke-width="0.8"/>
<circle cx="237.1" cy="445.6" r="2" fill="#23957a"/>
<circle cx="228.1" cy="437.9" r="1.9" fill="none" stroke="#23957a" stroke-width="0.8"/>
<circle cx="228.1" cy="427.7" r="2" fill="#23957a"/>
<circle cx="237.1" cy="420.1" r="2" fill="#23957a"/>
<circle cx="231.6" cy="437.3" r="2" fill="#23957a"/>
<circle cx="231.6" cy="449.8" r="2" fill="#23957a"/>
<circle cx="230.1" cy="445.4" r="1.9" fill="none" stroke="#23957a" stroke-width="0.8"/>
<circle cx="235.1" cy="417.1" r="1.9" fill="none" stroke="#23957a" stroke-width="0.8"/>
<circle cx="232.1" cy="415.8" r="2" fill="#23957a"/>
<circle cx="234.1" cy="429.3" r="1.9" fill="none" stroke="#23957a" stroke-width="0.8"/>
<circle cx="236.1" cy="439.7" r="1.9" fill="none" stroke="#23957a" stroke-width="0.8"/>
<circle cx="230.6" cy="430.5" r="1.9" fill="none" stroke="#23957a" stroke-width="0.8"/>
<circle cx="232.6" cy="433.7" r="2" fill="#23957a"/>
<circle cx="247.6" cy="430.7" r="1.9" fill="none" stroke="#23957a" stroke-width="0.8"/>
<circle cx="247.6" cy="419.3" r="1.9" fill="none" stroke="#23957a" stroke-width="0.8"/>
<circle cx="247.6" cy="426.7" r="1.9" fill="none" stroke="#23957a" stroke-width="0.8"/>
<circle cx="247.6" cy="414.2" r="1.9" fill="none" stroke="#23957a" stroke-width="0.8"/>
<circle cx="251.1" cy="420.8" r="1.9" fill="none" stroke="#23957a" stroke-width="0.8"/>
<circle cx="244.6" cy="424.2" r="1.9" fill="none" stroke="#23957a" stroke-width="0.8"/>
<circle cx="251.6" cy="430.1" r="1.9" fill="none" stroke="#23957a" stroke-width="0.8"/>
<circle cx="251.1" cy="424.8" r="1.9" fill="none" stroke="#23957a" stroke-width="0.8"/>
<circle cx="250.6" cy="416.4" r="1.9" fill="none" stroke="#23957a" stroke-width="0.8"/>
<circle cx="247.6" cy="422.2" r="1.9" fill="none" stroke="#23957a" stroke-width="0.8"/>
<circle cx="247.6" cy="456" r="1.9" fill="none" stroke="#23957a" stroke-width="0.8"/>
<circle cx="247.6" cy="451.9" r="1.9" fill="none" stroke="#23957a" stroke-width="0.8"/>
<circle cx="243.1" cy="423.1" r="1.9" fill="none" stroke="#23957a" stroke-width="0.8"/>
<circle cx="244.1" cy="420.7" r="1.9" fill="none" stroke="#23957a" stroke-width="0.8"/>
<circle cx="243.6" cy="431.4" r="1.9" fill="none" stroke="#23957a" stroke-width="0.8"/>
<circle cx="243.1" cy="430.5" r="1.9" fill="none" stroke="#23957a" stroke-width="0.8"/>
<circle cx="244.6" cy="416.7" r="1.9" fill="none" stroke="#23957a" stroke-width="0.8"/>
<circle cx="247.6" cy="462.7" r="1.9" fill="none" stroke="#23957a" stroke-width="0.8"/>
<circle cx="250.6" cy="460.2" r="1.9" fill="none" stroke="#23957a" stroke-width="0.8"/>
<circle cx="247.6" cy="447.7" r="1.9" fill="none" stroke="#23957a" stroke-width="0.8"/>
<circle cx="252.1" cy="424.1" r="1.9" fill="none" stroke="#23957a" stroke-width="0.8"/>
<circle cx="251.1" cy="453.5" r="1.9" fill="none" stroke="#23957a" stroke-width="0.8"/>
<circle cx="243.1" cy="425.5" r="1.9" fill="none" stroke="#23957a" stroke-width="0.8"/>
<circle cx="252.1" cy="431.2" r="1.9" fill="none" stroke="#23957a" stroke-width="0.8"/>
<circle cx="252.1" cy="419.3" r="1.9" fill="none" stroke="#23957a" stroke-width="0.8"/>
<circle cx="247.6" cy="437" r="1.9" fill="none" stroke="#23957a" stroke-width="0.8"/>
<circle cx="243.1" cy="416.4" r="1.9" fill="none" stroke="#23957a" stroke-width="0.8"/>
<circle cx="250.1" cy="417" r="1.9" fill="none" stroke="#23957a" stroke-width="0.8"/>
<circle cx="244.1" cy="457.7" r="1.9" fill="none" stroke="#23957a" stroke-width="0.8"/>
<circle cx="245.6" cy="427.9" r="1.9" fill="none" stroke="#23957a" stroke-width="0.8"/>
<circle cx="250.6" cy="428.8" r="1.9" fill="none" stroke="#23957a" stroke-width="0.8"/>
<circle cx="251.1" cy="449.4" r="1.9" fill="none" stroke="#23957a" stroke-width="0.8"/>
<circle cx="243.1" cy="454.4" r="1.9" fill="none" stroke="#23957a" stroke-width="0.8"/>
<circle cx="248.6" cy="432.1" r="1.9" fill="none" stroke="#23957a" stroke-width="0.8"/>
<circle cx="248.1" cy="426" r="1.9" fill="none" stroke="#23957a" stroke-width="0.8"/>
<circle cx="252.1" cy="414.8" r="1.9" fill="none" stroke="#23957a" stroke-width="0.8"/>
<circle cx="247.1" cy="431" r="1.9" fill="none" stroke="#23957a" stroke-width="0.8"/>
<circle cx="245.1" cy="434.5" r="1.9" fill="none" stroke="#23957a" stroke-width="0.8"/>
<circle cx="248.1" cy="423.8" r="1.9" fill="none" stroke="#23957a" stroke-width="0.8"/>
<circle cx="252.1" cy="433.4" r="1.9" fill="none" stroke="#23957a" stroke-width="0.8"/>
<circle cx="252.1" cy="426.2" r="1.9" fill="none" stroke="#23957a" stroke-width="0.8"/>
<circle cx="243.1" cy="426" r="1.9" fill="none" stroke="#23957a" stroke-width="0.8"/>
<circle cx="252.1" cy="423.9" r="1.9" fill="none" stroke="#23957a" stroke-width="0.8"/>
<circle cx="247.1" cy="414.8" r="1.9" fill="none" stroke="#23957a" stroke-width="0.8"/>
<circle cx="243.1" cy="429.5" r="1.9" fill="none" stroke="#23957a" stroke-width="0.8"/>
<circle cx="243.1" cy="417.2" r="1.9" fill="none" stroke="#23957a" stroke-width="0.8"/>
<circle cx="248.1" cy="423.3" r="1.9" fill="none" stroke="#23957a" stroke-width="0.8"/>
<circle cx="251.1" cy="438.5" r="1.9" fill="none" stroke="#23957a" stroke-width="0.8"/>
<circle cx="244.1" cy="423.3" r="1.9" fill="none" stroke="#23957a" stroke-width="0.8"/>
<circle cx="250.6" cy="428.8" r="1.9" fill="none" stroke="#23957a" stroke-width="0.8"/>
<circle cx="262.6" cy="414.2" r="1.9" fill="none" stroke="#23957a" stroke-width="0.8"/>
<circle cx="266.6" cy="415" r="1.9" fill="none" stroke="#23957a" stroke-width="0.8"/>
<circle cx="259.6" cy="416.7" r="1.9" fill="none" stroke="#23957a" stroke-width="0.8"/>
<circle cx="264.1" cy="417.5" r="1.9" fill="none" stroke="#23957a" stroke-width="0.8"/>
<circle cx="267.1" cy="418.4" r="1.9" fill="none" stroke="#23957a" stroke-width="0.8"/>
<circle cx="261.1" cy="420.1" r="1.9" fill="none" stroke="#23957a" stroke-width="0.8"/>
<circle cx="264.6" cy="420.9" r="1.9" fill="none" stroke="#23957a" stroke-width="0.8"/>
<circle cx="258.1" cy="422.6" r="1.9" fill="none" stroke="#23957a" stroke-width="0.8"/>
<circle cx="262.6" cy="424.2" r="1.9" fill="none" stroke="#23957a" stroke-width="0.8"/>
<circle cx="262.6" cy="446" r="1.9" fill="none" stroke="#23957a" stroke-width="0.8"/>
<circle cx="262.6" cy="451" r="1.9" fill="none" stroke="#23957a" stroke-width="0.8"/>
<circle cx="265.6" cy="453.5" r="1.9" fill="none" stroke="#23957a" stroke-width="0.8"/>
<circle cx="262.6" cy="456.9" r="1.9" fill="none" stroke="#23957a" stroke-width="0.8"/>
<circle cx="277.6" cy="414.2" r="1.9" fill="none" stroke="#23957a" stroke-width="0.8"/>
<circle cx="281.6" cy="414.2" r="1.9" fill="none" stroke="#23957a" stroke-width="0.8"/>
<circle cx="273.6" cy="414.2" r="1.9" fill="none" stroke="#23957a" stroke-width="0.8"/>
<circle cx="282.1" cy="415" r="1.9" fill="none" stroke="#23957a" stroke-width="0.8"/>
<circle cx="276.1" cy="416.7" r="1.9" fill="none" stroke="#23957a" stroke-width="0.8"/>
<circle cx="279.6" cy="418.4" r="1.9" fill="none" stroke="#23957a" stroke-width="0.8"/>
<circle cx="277.6" cy="422.6" r="1.9" fill="none" stroke="#23957a" stroke-width="0.8"/>
<circle cx="281.1" cy="424.2" r="1.9" fill="none" stroke="#23957a" stroke-width="0.8"/>
<circle cx="276.1" cy="425.9" r="1.9" fill="none" stroke="#23957a" stroke-width="0.8"/>
<circle cx="277.6" cy="431.8" r="1.9" fill="none" stroke="#23957a" stroke-width="0.8"/>
<circle cx="277.6" cy="441.8" r="1.9" fill="none" stroke="#23957a" stroke-width="0.8"/>
<circle cx="280.6" cy="444.3" r="1.9" fill="none" stroke="#23957a" stroke-width="0.8"/>
<circle cx="277.6" cy="446.8" r="1.9" fill="none" stroke="#23957a" stroke-width="0.8"/>
<circle cx="273.6" cy="447.7" r="1.9" fill="none" stroke="#23957a" stroke-width="0.8"/>
<circle cx="279.1" cy="450.2" r="1.9" fill="none" stroke="#23957a" stroke-width="0.8"/>
<circle cx="277.6" cy="453.5" r="1.9" fill="none" stroke="#23957a" stroke-width="0.8"/>
<circle cx="280.6" cy="456" r="1.9" fill="none" stroke="#23957a" stroke-width="0.8"/>
<circle cx="277.6" cy="464.4" r="1.9" fill="none" stroke="#23957a" stroke-width="0.8"/>
<circle cx="292.6" cy="414.2" r="1.9" fill="none" stroke="#23957a" stroke-width="0.8"/>
<circle cx="295.6" cy="416.7" r="1.9" fill="none" stroke="#23957a" stroke-width="0.8"/>
<circle cx="291.1" cy="417.5" r="1.9" fill="none" stroke="#23957a" stroke-width="0.8"/>
<circle cx="288.1" cy="418.4" r="1.9" fill="none" stroke="#23957a" stroke-width="0.8"/>
<circle cx="292.6" cy="427.6" r="1.9" fill="none" stroke="#23957a" stroke-width="0.8"/>
<circle cx="292.6" cy="434.3" r="1.9" fill="none" stroke="#23957a" stroke-width="0.8"/>
<circle cx="292.6" cy="439.3" r="1.9" fill="none" stroke="#23957a" stroke-width="0.8"/>
<line x1="196.8" y1="470.3" x2="207.2" y2="470.3" stroke="#111" stroke-width="1.6"/>
<line x1="212.2" y1="463.6" x2="222.6" y2="463.6" stroke="#111" stroke-width="1.6"/>
<line x1="227.4" y1="437.6" x2="237.8" y2="437.6" stroke="#111" stroke-width="1.6"/>
<line x1="242.4" y1="424.2" x2="252.8" y2="424.2" stroke="#111" stroke-width="1.6"/>
<line x1="257.4" y1="421.7" x2="267.8" y2="421.7" stroke="#111" stroke-width="1.6"/>
<line x1="272.4" y1="425.1" x2="282.8" y2="425.1" stroke="#111" stroke-width="1.6"/>
<line x1="287.4" y1="417.5" x2="297.8" y2="417.5" stroke="#111" stroke-width="1.6"/>
<rect x="194.5" y="414.2" width="109.3" height="83.7" fill="none" stroke="#231f20" stroke-width="0.8"/>
<line x1="192.7" y1="497.9" x2="194.5" y2="497.9" stroke="#231f20" stroke-width="0.8"/>
<text x="191.9" y="501.5" font-size="9.6" text-anchor="end">0</text>
<line x1="192.7" y1="481.2" x2="194.5" y2="481.2" stroke="#231f20" stroke-width="0.8"/>
<text x="191.9" y="484.8" font-size="9.6" text-anchor="end">20</text>
<line x1="192.7" y1="464.4" x2="194.5" y2="464.4" stroke="#231f20" stroke-width="0.8"/>
<text x="191.9" y="468" font-size="9.6" text-anchor="end">40</text>
<line x1="192.7" y1="447.7" x2="194.5" y2="447.7" stroke="#231f20" stroke-width="0.8"/>
<text x="191.9" y="451.3" font-size="9.6" text-anchor="end">60</text>
<line x1="192.7" y1="430.9" x2="194.5" y2="430.9" stroke="#231f20" stroke-width="0.8"/>
<text x="191.9" y="434.5" font-size="9.6" text-anchor="end">80</text>
<line x1="192.7" y1="414.2" x2="194.5" y2="414.2" stroke="#231f20" stroke-width="0.8"/>
<text x="191.9" y="417.8" font-size="9.6" text-anchor="end">100</text>
<line x1="202" y1="497.9" x2="202" y2="499.7" stroke="#231f20" stroke-width="0.8"/>
<text x="207.6" y="505.7" font-size="9.2" text-anchor="end" transform="rotate(-45 207.6 505.7)">7</text>
<line x1="217.4" y1="497.9" x2="217.4" y2="499.7" stroke="#231f20" stroke-width="0.8"/>
<text x="223" y="505.7" font-size="9.2" text-anchor="end" transform="rotate(-45 223 505.7)">14–15</text>
<line x1="232.6" y1="497.9" x2="232.6" y2="499.7" stroke="#231f20" stroke-width="0.8"/>
<text x="238.2" y="505.7" font-size="9.2" text-anchor="end" transform="rotate(-45 238.2 505.7)">21–23</text>
<line x1="247.6" y1="497.9" x2="247.6" y2="499.7" stroke="#231f20" stroke-width="0.8"/>
<text x="253.2" y="505.7" font-size="9.2" text-anchor="end" transform="rotate(-45 253.2 505.7)">35</text>
<line x1="262.6" y1="497.9" x2="262.6" y2="499.7" stroke="#231f20" stroke-width="0.8"/>
<text x="268.2" y="505.7" font-size="9.2" text-anchor="end" transform="rotate(-45 268.2 505.7)">42</text>
<line x1="277.6" y1="497.9" x2="277.6" y2="499.7" stroke="#231f20" stroke-width="0.8"/>
<text x="283.2" y="505.7" font-size="9.2" text-anchor="end" transform="rotate(-45 283.2 505.7)">49</text>
<line x1="292.6" y1="497.9" x2="292.6" y2="499.7" stroke="#231f20" stroke-width="0.8"/>
<text x="298.2" y="505.7" font-size="9.2" text-anchor="end" transform="rotate(-45 298.2 505.7)">56</text>
<text x="249.2" y="533.2" font-size="9.7" text-anchor="middle">Days post-tamoxifen</text>
<text x="208.8" y="408.6" font-size="9.7">Colour dominance</text>
<text x="160.9" y="457.2" font-size="9.6" text-anchor="middle" transform="rotate(-90 160.9 457.2)">Fluorescent</text>
<text x="172" y="457.2" font-size="9.6" text-anchor="middle" transform="rotate(-90 172 457.2)">B cells (%)</text>
<line x1="357.5" y1="457.5" x2="468.5" y2="457.5" stroke="#555" stroke-width="0.7" stroke-dasharray="1 1.3"/>
<line x1="357.5" y1="437.4" x2="468.5" y2="437.4" stroke="#555" stroke-width="0.7" stroke-dasharray="1 1.3"/>
<circle cx="365.6" cy="486.1" r="1.9" fill="none" stroke="#3d8cb0" stroke-width="0.8"/>
<circle cx="369.6" cy="485.7" r="1.9" fill="none" stroke="#3d8cb0" stroke-width="0.8"/>
<circle cx="365.6" cy="480.5" r="1.9" fill="none" stroke="#3d8cb0" stroke-width="0.8"/>
<circle cx="362.1" cy="484.8" r="1.9" fill="none" stroke="#3d8cb0" stroke-width="0.8"/>
<circle cx="368.1" cy="483.4" r="1.9" fill="none" stroke="#3d8cb0" stroke-width="0.8"/>
<circle cx="361.1" cy="486.4" r="1.9" fill="none" stroke="#3d8cb0" stroke-width="0.8"/>
<circle cx="365.6" cy="485.2" r="1.9" fill="none" stroke="#3d8cb0" stroke-width="0.8"/>
<circle cx="369.1" cy="487.2" r="1.9" fill="none" stroke="#3d8cb0" stroke-width="0.8"/>
<circle cx="363.6" cy="488.7" r="1.9" fill="none" stroke="#3d8cb0" stroke-width="0.8"/>
<circle cx="367.6" cy="477.3" r="1.9" fill="none" stroke="#3d8cb0" stroke-width="0.8"/>
<circle cx="367.6" cy="488.9" r="1.9" fill="none" stroke="#3d8cb0" stroke-width="0.8"/>
<circle cx="361.1" cy="485.9" r="1.9" fill="none" stroke="#3d8cb0" stroke-width="0.8"/>
<circle cx="370.1" cy="485.6" r="1.9" fill="none" stroke="#3d8cb0" stroke-width="0.8"/>
<circle cx="363.6" cy="476.8" r="1.9" fill="none" stroke="#3d8cb0" stroke-width="0.8"/>
<circle cx="361.1" cy="479.4" r="1.9" fill="none" stroke="#3d8cb0" stroke-width="0.8"/>
<circle cx="370.1" cy="479.4" r="1.9" fill="none" stroke="#3d8cb0" stroke-width="0.8"/>
<circle cx="361.6" cy="480.4" r="1.9" fill="none" stroke="#3d8cb0" stroke-width="0.8"/>
<circle cx="365.6" cy="480.8" r="1.9" fill="none" stroke="#3d8cb0" stroke-width="0.8"/>
<circle cx="364.6" cy="484.6" r="1.9" fill="none" stroke="#3d8cb0" stroke-width="0.8"/>
<circle cx="370.1" cy="476.1" r="1.9" fill="none" stroke="#3d8cb0" stroke-width="0.8"/>
<circle cx="361.1" cy="484.6" r="1.9" fill="none" stroke="#3d8cb0" stroke-width="0.8"/>
<circle cx="370.1" cy="479.2" r="1.9" fill="none" stroke="#3d8cb0" stroke-width="0.8"/>
<circle cx="361.1" cy="476.1" r="1.9" fill="none" stroke="#3d8cb0" stroke-width="0.8"/>
<circle cx="364.1" cy="488.3" r="1.9" fill="none" stroke="#3d8cb0" stroke-width="0.8"/>
<circle cx="361.6" cy="480.9" r="1.9" fill="none" stroke="#3d8cb0" stroke-width="0.8"/>
<circle cx="370.1" cy="484.6" r="1.9" fill="none" stroke="#3d8cb0" stroke-width="0.8"/>
<circle cx="368.1" cy="483.5" r="1.9" fill="none" stroke="#3d8cb0" stroke-width="0.8"/>
<circle cx="366.1" cy="474.3" r="1.9" fill="none" stroke="#3d8cb0" stroke-width="0.8"/>
<circle cx="361.1" cy="476.1" r="1.9" fill="none" stroke="#3d8cb0" stroke-width="0.8"/>
<circle cx="370.1" cy="474.8" r="1.9" fill="none" stroke="#3d8cb0" stroke-width="0.8"/>
<circle cx="370.1" cy="481" r="1.9" fill="none" stroke="#3d8cb0" stroke-width="0.8"/>
<circle cx="365.6" cy="468.8" r="1.9" fill="none" stroke="#3d8cb0" stroke-width="0.8"/>
<circle cx="364.1" cy="477.3" r="1.9" fill="none" stroke="#3d8cb0" stroke-width="0.8"/>
<circle cx="366.6" cy="478.5" r="1.9" fill="none" stroke="#3d8cb0" stroke-width="0.8"/>
<circle cx="367.1" cy="477.2" r="1.9" fill="none" stroke="#3d8cb0" stroke-width="0.8"/>
<circle cx="364.1" cy="483.2" r="1.9" fill="none" stroke="#3d8cb0" stroke-width="0.8"/>
<circle cx="361.1" cy="481.2" r="1.9" fill="none" stroke="#3d8cb0" stroke-width="0.8"/>
<circle cx="361.1" cy="488.6" r="1.9" fill="none" stroke="#3d8cb0" stroke-width="0.8"/>
<circle cx="370.1" cy="480.6" r="1.9" fill="none" stroke="#3d8cb0" stroke-width="0.8"/>
<circle cx="364.6" cy="479.1" r="1.9" fill="none" stroke="#3d8cb0" stroke-width="0.8"/>
<circle cx="381.4" cy="475.2" r="1.9" fill="none" stroke="#3d8cb0" stroke-width="0.8"/>
<circle cx="385.4" cy="474.6" r="1.9" fill="none" stroke="#3d8cb0" stroke-width="0.8"/>
<circle cx="377.9" cy="476.1" r="1.9" fill="none" stroke="#3d8cb0" stroke-width="0.8"/>
<circle cx="381.4" cy="466.4" r="1.9" fill="none" stroke="#3d8cb0" stroke-width="0.8"/>
<circle cx="381.4" cy="459.6" r="1.9" fill="none" stroke="#3d8cb0" stroke-width="0.8"/>
<circle cx="383.4" cy="463.2" r="1.9" fill="none" stroke="#3d8cb0" stroke-width="0.8"/>
<circle cx="381.4" cy="485.9" r="1.9" fill="none" stroke="#3d8cb0" stroke-width="0.8"/>
<circle cx="384.9" cy="485" r="1.9" fill="none" stroke="#3d8cb0" stroke-width="0.8"/>
<circle cx="381.4" cy="480.5" r="1.9" fill="none" stroke="#3d8cb0" stroke-width="0.8"/>
<circle cx="378.4" cy="483.7" r="1.9" fill="none" stroke="#3d8cb0" stroke-width="0.8"/>
<circle cx="385.4" cy="479.9" r="1.9" fill="none" stroke="#3d8cb0" stroke-width="0.8"/>
<circle cx="381.4" cy="447.8" r="1.9" fill="none" stroke="#3d8cb0" stroke-width="0.8"/>
<circle cx="376.9" cy="481.7" r="1.9" fill="none" stroke="#3d8cb0" stroke-width="0.8"/>
<circle cx="384.9" cy="468" r="1.9" fill="none" stroke="#3d8cb0" stroke-width="0.8"/>
<circle cx="377.9" cy="461.3" r="1.9" fill="none" stroke="#3d8cb0" stroke-width="0.8"/>
<circle cx="382.4" cy="482.2" r="1.9" fill="none" stroke="#3d8cb0" stroke-width="0.8"/>
<circle cx="376.9" cy="472.7" r="1.9" fill="none" stroke="#3d8cb0" stroke-width="0.8"/>
<circle cx="377.9" cy="479.2" r="1.9" fill="none" stroke="#3d8cb0" stroke-width="0.8"/>
<circle cx="385.9" cy="483.2" r="1.9" fill="none" stroke="#3d8cb0" stroke-width="0.8"/>
<circle cx="376.9" cy="486.6" r="1.9" fill="none" stroke="#3d8cb0" stroke-width="0.8"/>
<circle cx="380.9" cy="473.8" r="1.9" fill="none" stroke="#3d8cb0" stroke-width="0.8"/>
<circle cx="379.9" cy="469.9" r="1.9" fill="none" stroke="#3d8cb0" stroke-width="0.8"/>
<circle cx="382.9" cy="477.3" r="1.9" fill="none" stroke="#3d8cb0" stroke-width="0.8"/>
<circle cx="385.9" cy="487.3" r="1.9" fill="none" stroke="#3d8cb0" stroke-width="0.8"/>
<circle cx="385.9" cy="480.5" r="1.9" fill="none" stroke="#3d8cb0" stroke-width="0.8"/>
<circle cx="378.4" cy="478.5" r="1.9" fill="none" stroke="#3d8cb0" stroke-width="0.8"/>
<circle cx="381.9" cy="478.7" r="1.9" fill="none" stroke="#3d8cb0" stroke-width="0.8"/>
<circle cx="385.9" cy="477.3" r="1.9" fill="none" stroke="#3d8cb0" stroke-width="0.8"/>
<circle cx="378.9" cy="483.4" r="1.9" fill="none" stroke="#3d8cb0" stroke-width="0.8"/>
<circle cx="376.9" cy="480.4" r="1.9" fill="none" stroke="#3d8cb0" stroke-width="0.8"/>
<circle cx="385.9" cy="478.8" r="1.9" fill="none" stroke="#3d8cb0" stroke-width="0.8"/>
<circle cx="383.4" cy="470.2" r="1.9" fill="none" stroke="#3d8cb0" stroke-width="0.8"/>
<circle cx="382.4" cy="483.8" r="1.9" fill="none" stroke="#3d8cb0" stroke-width="0.8"/>
<circle cx="376.9" cy="477.1" r="1.9" fill="none" stroke="#3d8cb0" stroke-width="0.8"/>
<circle cx="376.9" cy="468.9" r="1.9" fill="none" stroke="#3d8cb0" stroke-width="0.8"/>
<circle cx="381.9" cy="478.7" r="1.9" fill="none" stroke="#3d8cb0" stroke-width="0.8"/>
<circle cx="385.9" cy="483" r="1.9" fill="none" stroke="#3d8cb0" stroke-width="0.8"/>
<circle cx="382.4" cy="481.7" r="1.9" fill="none" stroke="#3d8cb0" stroke-width="0.8"/>
<circle cx="381.4" cy="485.9" r="1.9" fill="none" stroke="#3d8cb0" stroke-width="0.8"/>
<circle cx="385.9" cy="471.1" r="1.9" fill="none" stroke="#3d8cb0" stroke-width="0.8"/>
<circle cx="376.9" cy="467.8" r="1.9" fill="none" stroke="#3d8cb0" stroke-width="0.8"/>
<circle cx="384.9" cy="474" r="1.9" fill="none" stroke="#3d8cb0" stroke-width="0.8"/>
<circle cx="376.9" cy="475.4" r="1.9" fill="none" stroke="#3d8cb0" stroke-width="0.8"/>
<circle cx="376.9" cy="485.5" r="1.9" fill="none" stroke="#3d8cb0" stroke-width="0.8"/>
<circle cx="385.9" cy="479" r="1.9" fill="none" stroke="#3d8cb0" stroke-width="0.8"/>
<circle cx="379.9" cy="471.1" r="1.9" fill="none" stroke="#3d8cb0" stroke-width="0.8"/>
<circle cx="379.9" cy="479.4" r="1.9" fill="none" stroke="#3d8cb0" stroke-width="0.8"/>
<circle cx="385.9" cy="468.2" r="1.9" fill="none" stroke="#3d8cb0" stroke-width="0.8"/>
<circle cx="385.4" cy="486" r="1.9" fill="none" stroke="#3d8cb0" stroke-width="0.8"/>
<circle cx="376.9" cy="485.9" r="1.9" fill="none" stroke="#3d8cb0" stroke-width="0.8"/>
<circle cx="397.2" cy="445.1" r="1.9" fill="none" stroke="#3d8cb0" stroke-width="0.8"/>
<circle cx="397.2" cy="484" r="1.9" fill="none" stroke="#3d8cb0" stroke-width="0.8"/>
<circle cx="397.2" cy="476.7" r="2" fill="#3d8cb0"/>
<circle cx="397.2" cy="453.3" r="2" fill="#3d8cb0"/>
<circle cx="401.2" cy="453.3" r="1.9" fill="none" stroke="#3d8cb0" stroke-width="0.8"/>
<circle cx="397.2" cy="461.2" r="1.9" fill="none" stroke="#3d8cb0" stroke-width="0.8"/>
<circle cx="400.7" cy="446.5" r="1.9" fill="none" stroke="#3d8cb0" stroke-width="0.8"/>
<circle cx="401.2" cy="484.1" r="2" fill="#3d8cb0"/>
<circle cx="400.7" cy="459.3" r="1.9" fill="none" stroke="#3d8cb0" stroke-width="0.8"/>
<circle cx="393.7" cy="460.1" r="1.9" fill="none" stroke="#3d8cb0" stroke-width="0.8"/>
<circle cx="393.7" cy="443.5" r="1.9" fill="none" stroke="#3d8cb0" stroke-width="0.8"/>
<circle cx="401.7" cy="443.9" r="1.9" fill="none" stroke="#3d8cb0" stroke-width="0.8"/>
<circle cx="401.7" cy="461.4" r="1.9" fill="none" stroke="#3d8cb0" stroke-width="0.8"/>
<circle cx="393.7" cy="454.6" r="1.9" fill="none" stroke="#3d8cb0" stroke-width="0.8"/>
<circle cx="400.7" cy="475.4" r="2" fill="#3d8cb0"/>
<circle cx="398.2" cy="456.5" r="1.9" fill="none" stroke="#3d8cb0" stroke-width="0.8"/>
<circle cx="399.2" cy="464.2" r="1.9" fill="none" stroke="#3d8cb0" stroke-width="0.8"/>
<circle cx="392.7" cy="453.9" r="1.9" fill="none" stroke="#3d8cb0" stroke-width="0.8"/>
<circle cx="401.7" cy="454.5" r="1.9" fill="none" stroke="#3d8cb0" stroke-width="0.8"/>
<circle cx="394.7" cy="464.1" r="2" fill="#3d8cb0"/>
<circle cx="398.7" cy="442.2" r="1.9" fill="none" stroke="#3d8cb0" stroke-width="0.8"/>
<circle cx="394.2" cy="478.9" r="1.9" fill="none" stroke="#3d8cb0" stroke-width="0.8"/>
<circle cx="392.7" cy="460.3" r="1.9" fill="none" stroke="#3d8cb0" stroke-width="0.8"/>
<circle cx="394.2" cy="447.6" r="1.9" fill="none" stroke="#3d8cb0" stroke-width="0.8"/>
<circle cx="397.7" cy="449.5" r="1.9" fill="none" stroke="#3d8cb0" stroke-width="0.8"/>
<circle cx="397.2" cy="461.7" r="1.9" fill="none" stroke="#3d8cb0" stroke-width="0.8"/>
<circle cx="394.7" cy="456.8" r="1.9" fill="none" stroke="#3d8cb0" stroke-width="0.8"/>
<circle cx="401.7" cy="457.5" r="1.9" fill="none" stroke="#3d8cb0" stroke-width="0.8"/>
<circle cx="397.2" cy="471.2" r="1.9" fill="none" stroke="#3d8cb0" stroke-width="0.8"/>
<circle cx="401.7" cy="462.1" r="1.9" fill="none" stroke="#3d8cb0" stroke-width="0.8"/>
<circle cx="398.2" cy="456.7" r="1.9" fill="none" stroke="#3d8cb0" stroke-width="0.8"/>
<circle cx="396.7" cy="452.7" r="1.9" fill="none" stroke="#3d8cb0" stroke-width="0.8"/>
<circle cx="397.2" cy="467.4" r="1.9" fill="none" stroke="#3d8cb0" stroke-width="0.8"/>
<circle cx="401.7" cy="466.8" r="1.9" fill="none" stroke="#3d8cb0" stroke-width="0.8"/>
<circle cx="397.2" cy="428.3" r="1.9" fill="none" stroke="#3d8cb0" stroke-width="0.8"/>
<circle cx="393.7" cy="470" r="1.9" fill="none" stroke="#3d8cb0" stroke-width="0.8"/>
<circle cx="401.7" cy="449.6" r="2" fill="#3d8cb0"/>
<circle cx="392.7" cy="448.3" r="1.9" fill="none" stroke="#3d8cb0" stroke-width="0.8"/>
<circle cx="401.2" cy="471.2" r="1.9" fill="none" stroke="#3d8cb0" stroke-width="0.8"/>
<circle cx="396.7" cy="445.2" r="1.9" fill="none" stroke="#3d8cb0" stroke-width="0.8"/>
<circle cx="392.7" cy="453.1" r="1.9" fill="none" stroke="#3d8cb0" stroke-width="0.8"/>
<circle cx="392.7" cy="459.4" r="1.9" fill="none" stroke="#3d8cb0" stroke-width="0.8"/>
<circle cx="397.7" cy="461.9" r="1.9" fill="none" stroke="#3d8cb0" stroke-width="0.8"/>
<circle cx="394.7" cy="457.2" r="1.9" fill="none" stroke="#3d8cb0" stroke-width="0.8"/>
<circle cx="398.2" cy="448.2" r="1.9" fill="none" stroke="#3d8cb0" stroke-width="0.8"/>
<circle cx="401.7" cy="446.7" r="1.9" fill="none" stroke="#3d8cb0" stroke-width="0.8"/>
<circle cx="392.7" cy="469.1" r="2" fill="#3d8cb0"/>
<circle cx="392.7" cy="464.7" r="1.9" fill="none" stroke="#3d8cb0" stroke-width="0.8"/>
<circle cx="401.2" cy="450.4" r="1.9" fill="none" stroke="#3d8cb0" stroke-width="0.8"/>
<circle cx="400.7" cy="453.9" r="1.9" fill="none" stroke="#3d8cb0" stroke-width="0.8"/>
<circle cx="397.2" cy="454.3" r="1.9" fill="none" stroke="#3d8cb0" stroke-width="0.8"/>
<circle cx="399.7" cy="464.8" r="1.9" fill="none" stroke="#3d8cb0" stroke-width="0.8"/>
<circle cx="392.7" cy="463" r="1.9" fill="none" stroke="#3d8cb0" stroke-width="0.8"/>
<circle cx="392.7" cy="473.1" r="1.9" fill="none" stroke="#3d8cb0" stroke-width="0.8"/>
<circle cx="401.7" cy="461.5" r="1.9" fill="none" stroke="#3d8cb0" stroke-width="0.8"/>
<circle cx="397.2" cy="460.7" r="2" fill="#3d8cb0"/>
<circle cx="394.2" cy="463.2" r="2" fill="#3d8cb0"/>
<circle cx="398.2" cy="480.3" r="2" fill="#3d8cb0"/>
<circle cx="392.7" cy="445.7" r="1.9" fill="none" stroke="#3d8cb0" stroke-width="0.8"/>
<circle cx="401.7" cy="456.3" r="1.9" fill="none" stroke="#3d8cb0" stroke-width="0.8"/>
<circle cx="396.2" cy="465.3" r="2" fill="#3d8cb0"/>
<circle cx="392.7" cy="454.6" r="1.9" fill="none" stroke="#3d8cb0" stroke-width="0.8"/>
<circle cx="401.7" cy="465.1" r="1.9" fill="none" stroke="#3d8cb0" stroke-width="0.8"/>
<circle cx="394.7" cy="442.1" r="1.9" fill="none" stroke="#3d8cb0" stroke-width="0.8"/>
<circle cx="392.7" cy="446.9" r="1.9" fill="none" stroke="#3d8cb0" stroke-width="0.8"/>
<circle cx="397.2" cy="436.6" r="1.9" fill="none" stroke="#3d8cb0" stroke-width="0.8"/>
<circle cx="398.2" cy="456.6" r="2" fill="#3d8cb0"/>
<circle cx="394.7" cy="474.1" r="1.9" fill="none" stroke="#3d8cb0" stroke-width="0.8"/>
<circle cx="400.2" cy="468.8" r="1.9" fill="none" stroke="#3d8cb0" stroke-width="0.8"/>
<circle cx="401.7" cy="455.5" r="2" fill="#3d8cb0"/>
<circle cx="392.7" cy="458.6" r="1.9" fill="none" stroke="#3d8cb0" stroke-width="0.8"/>
<circle cx="397.2" cy="460.3" r="1.9" fill="none" stroke="#3d8cb0" stroke-width="0.8"/>
<circle cx="400.7" cy="429.5" r="1.9" fill="none" stroke="#3d8cb0" stroke-width="0.8"/>
<circle cx="401.2" cy="437.3" r="2" fill="#3d8cb0"/>
<circle cx="399.2" cy="425.3" r="1.9" fill="none" stroke="#3d8cb0" stroke-width="0.8"/>
<circle cx="392.7" cy="455.5" r="1.9" fill="none" stroke="#3d8cb0" stroke-width="0.8"/>
<circle cx="398.2" cy="473" r="1.9" fill="none" stroke="#3d8cb0" stroke-width="0.8"/>
<circle cx="398.2" cy="456.2" r="1.9" fill="none" stroke="#3d8cb0" stroke-width="0.8"/>
<circle cx="401.7" cy="471.6" r="1.9" fill="none" stroke="#3d8cb0" stroke-width="0.8"/>
<circle cx="394.7" cy="451.8" r="1.9" fill="none" stroke="#3d8cb0" stroke-width="0.8"/>
<circle cx="398.2" cy="452.4" r="1.9" fill="none" stroke="#3d8cb0" stroke-width="0.8"/>
<circle cx="401.7" cy="453.1" r="1.9" fill="none" stroke="#3d8cb0" stroke-width="0.8"/>
<circle cx="392.7" cy="463.7" r="1.9" fill="none" stroke="#3d8cb0" stroke-width="0.8"/>
<circle cx="392.7" cy="466.6" r="2" fill="#3d8cb0"/>
<circle cx="397.7" cy="448.7" r="1.9" fill="none" stroke="#3d8cb0" stroke-width="0.8"/>
<circle cx="401.7" cy="456.9" r="1.9" fill="none" stroke="#3d8cb0" stroke-width="0.8"/>
<circle cx="401.7" cy="474.6" r="1.9" fill="none" stroke="#3d8cb0" stroke-width="0.8"/>
<circle cx="401.7" cy="447.6" r="2" fill="#3d8cb0"/>
<circle cx="401.2" cy="460.4" r="2" fill="#3d8cb0"/>
<circle cx="392.7" cy="476.6" r="2" fill="#3d8cb0"/>
<circle cx="412.9" cy="461.4" r="1.9" fill="none" stroke="#3d8cb0" stroke-width="0.8"/>
<circle cx="412.9" cy="438.9" r="1.9" fill="none" stroke="#3d8cb0" stroke-width="0.8"/>
<circle cx="416.4" cy="437.4" r="1.9" fill="none" stroke="#3d8cb0" stroke-width="0.8"/>
<circle cx="412.9" cy="445.8" r="1.9" fill="none" stroke="#3d8cb0" stroke-width="0.8"/>
<circle cx="412.9" cy="449.7" r="1.9" fill="none" stroke="#3d8cb0" stroke-width="0.8"/>
<circle cx="412.9" cy="468.1" r="1.9" fill="none" stroke="#3d8cb0" stroke-width="0.8"/>
<circle cx="415.9" cy="459" r="1.9" fill="none" stroke="#3d8cb0" stroke-width="0.8"/>
<circle cx="416.4" cy="469.5" r="1.9" fill="none" stroke="#3d8cb0" stroke-width="0.8"/>
<circle cx="412.9" cy="454.2" r="1.9" fill="none" stroke="#3d8cb0" stroke-width="0.8"/>
<circle cx="409.4" cy="455.5" r="1.9" fill="none" stroke="#3d8cb0" stroke-width="0.8"/>
<circle cx="409.4" cy="466.4" r="1.9" fill="none" stroke="#3d8cb0" stroke-width="0.8"/>
<circle cx="417.4" cy="467.6" r="1.9" fill="none" stroke="#3d8cb0" stroke-width="0.8"/>
<circle cx="416.4" cy="448.7" r="1.9" fill="none" stroke="#3d8cb0" stroke-width="0.8"/>
<circle cx="414.4" cy="442.4" r="1.9" fill="none" stroke="#3d8cb0" stroke-width="0.8"/>
<circle cx="417.4" cy="456.8" r="1.9" fill="none" stroke="#3d8cb0" stroke-width="0.8"/>
<circle cx="414.4" cy="465.5" r="1.9" fill="none" stroke="#3d8cb0" stroke-width="0.8"/>
<circle cx="410.4" cy="465.5" r="1.9" fill="none" stroke="#3d8cb0" stroke-width="0.8"/>
<circle cx="412.9" cy="473.1" r="1.9" fill="none" stroke="#3d8cb0" stroke-width="0.8"/>
<circle cx="416.9" cy="462.8" r="1.9" fill="none" stroke="#3d8cb0" stroke-width="0.8"/>
<circle cx="416.4" cy="474.2" r="1.9" fill="none" stroke="#3d8cb0" stroke-width="0.8"/>
<circle cx="416.4" cy="454.8" r="1.9" fill="none" stroke="#3d8cb0" stroke-width="0.8"/>
<circle cx="417.4" cy="466.8" r="1.9" fill="none" stroke="#3d8cb0" stroke-width="0.8"/>
<circle cx="408.4" cy="452.7" r="1.9" fill="none" stroke="#3d8cb0" stroke-width="0.8"/>
<circle cx="408.4" cy="464.2" r="1.9" fill="none" stroke="#3d8cb0" stroke-width="0.8"/>
<circle cx="412.9" cy="481.7" r="1.9" fill="none" stroke="#3d8cb0" stroke-width="0.8"/>
<circle cx="412.9" cy="456.4" r="1.9" fill="none" stroke="#3d8cb0" stroke-width="0.8"/>
<circle cx="409.4" cy="446.8" r="1.9" fill="none" stroke="#3d8cb0" stroke-width="0.8"/>
<circle cx="408.4" cy="467.9" r="1.9" fill="none" stroke="#3d8cb0" stroke-width="0.8"/>
<circle cx="417.4" cy="453.5" r="1.9" fill="none" stroke="#3d8cb0" stroke-width="0.8"/>
<circle cx="408.4" cy="448.2" r="1.9" fill="none" stroke="#3d8cb0" stroke-width="0.8"/>
<circle cx="428.4" cy="459.9" r="1.9" fill="none" stroke="#3d8cb0" stroke-width="0.8"/>
<circle cx="432.4" cy="459.9" r="1.9" fill="none" stroke="#3d8cb0" stroke-width="0.8"/>
<circle cx="428.4" cy="463.9" r="1.9" fill="none" stroke="#3d8cb0" stroke-width="0.8"/>
<circle cx="428.4" cy="470.4" r="1.9" fill="none" stroke="#3d8cb0" stroke-width="0.8"/>
<circle cx="428.4" cy="476.8" r="1.9" fill="none" stroke="#3d8cb0" stroke-width="0.8"/>
<circle cx="432.4" cy="463.9" r="1.9" fill="none" stroke="#3d8cb0" stroke-width="0.8"/>
<circle cx="444.1" cy="430.1" r="1.9" fill="none" stroke="#3d8cb0" stroke-width="0.8"/>
<circle cx="444.1" cy="439.8" r="1.9" fill="none" stroke="#3d8cb0" stroke-width="0.8"/>
<circle cx="444.1" cy="450.2" r="1.9" fill="none" stroke="#3d8cb0" stroke-width="0.8"/>
<circle cx="444.1" cy="458.3" r="1.9" fill="none" stroke="#3d8cb0" stroke-width="0.8"/>
<circle cx="448.1" cy="459.1" r="1.9" fill="none" stroke="#3d8cb0" stroke-width="0.8"/>
<circle cx="444.1" cy="469.6" r="1.9" fill="none" stroke="#3d8cb0" stroke-width="0.8"/>
<circle cx="444.1" cy="477.6" r="1.9" fill="none" stroke="#3d8cb0" stroke-width="0.8"/>
<circle cx="440.1" cy="459.1" r="1.9" fill="none" stroke="#3d8cb0" stroke-width="0.8"/>
<circle cx="460" cy="460.7" r="1.9" fill="none" stroke="#3d8cb0" stroke-width="0.8"/>
<circle cx="460" cy="465.6" r="1.9" fill="none" stroke="#3d8cb0" stroke-width="0.8"/>
<circle cx="463.5" cy="462.3" r="1.9" fill="none" stroke="#3d8cb0" stroke-width="0.8"/>
<line x1="360.4" y1="482.5" x2="370.8" y2="482.5" stroke="#111" stroke-width="1.6"/>
<line x1="376.2" y1="477.6" x2="386.6" y2="477.6" stroke="#111" stroke-width="1.6"/>
<line x1="392" y1="463.9" x2="402.4" y2="463.9" stroke="#111" stroke-width="1.6"/>
<line x1="407.7" y1="457.1" x2="418.1" y2="457.1" stroke="#111" stroke-width="1.6"/>
<line x1="423.2" y1="463.5" x2="433.6" y2="463.5" stroke="#111" stroke-width="1.6"/>
<line x1="438.9" y1="458.7" x2="449.3" y2="458.7" stroke="#111" stroke-width="1.6"/>
<line x1="454.8" y1="463.1" x2="465.2" y2="463.1" stroke="#111" stroke-width="1.6"/>
<rect x="357.5" y="414.4" width="111" height="83.4" fill="none" stroke="#231f20" stroke-width="0.8"/>
<line x1="355.7" y1="497.8" x2="357.5" y2="497.8" stroke="#231f20" stroke-width="0.8"/>
<text x="354.9" y="501.4" font-size="9.6" text-anchor="end">0.0</text>
<line x1="355.7" y1="481.7" x2="357.5" y2="481.7" stroke="#231f20" stroke-width="0.8"/>
<text x="354.9" y="485.3" font-size="9.6" text-anchor="end">0.2</text>
<line x1="355.7" y1="465.6" x2="357.5" y2="465.6" stroke="#231f20" stroke-width="0.8"/>
<text x="354.9" y="469.2" font-size="9.6" text-anchor="end">0.4</text>
<line x1="355.7" y1="449.4" x2="357.5" y2="449.4" stroke="#231f20" stroke-width="0.8"/>
<text x="354.9" y="453" font-size="9.6" text-anchor="end">0.6</text>
<line x1="355.7" y1="433.3" x2="357.5" y2="433.3" stroke="#231f20" stroke-width="0.8"/>
<text x="354.9" y="436.9" font-size="9.6" text-anchor="end">0.8</text>
<line x1="355.7" y1="417.2" x2="357.5" y2="417.2" stroke="#231f20" stroke-width="0.8"/>
<text x="354.9" y="420.8" font-size="9.6" text-anchor="end">1.0</text>
<line x1="365.6" y1="497.8" x2="365.6" y2="499.6" stroke="#231f20" stroke-width="0.8"/>
<text x="371.2" y="505.6" font-size="9.2" text-anchor="end" transform="rotate(-45 371.2 505.6)">7</text>
<line x1="381.4" y1="497.8" x2="381.4" y2="499.6" stroke="#231f20" stroke-width="0.8"/>
<text x="387" y="505.6" font-size="9.2" text-anchor="end" transform="rotate(-45 387 505.6)">14–15</text>
<line x1="397.2" y1="497.8" x2="397.2" y2="499.6" stroke="#231f20" stroke-width="0.8"/>
<text x="402.8" y="505.6" font-size="9.2" text-anchor="end" transform="rotate(-45 402.8 505.6)">21–23</text>
<line x1="412.9" y1="497.8" x2="412.9" y2="499.6" stroke="#231f20" stroke-width="0.8"/>
<text x="418.5" y="505.6" font-size="9.2" text-anchor="end" transform="rotate(-45 418.5 505.6)">35</text>
<line x1="428.4" y1="497.8" x2="428.4" y2="499.6" stroke="#231f20" stroke-width="0.8"/>
<text x="434" y="505.6" font-size="9.2" text-anchor="end" transform="rotate(-45 434 505.6)">42</text>
<line x1="444.1" y1="497.8" x2="444.1" y2="499.6" stroke="#231f20" stroke-width="0.8"/>
<text x="449.7" y="505.6" font-size="9.2" text-anchor="end" transform="rotate(-45 449.7 505.6)">49</text>
<line x1="460" y1="497.8" x2="460" y2="499.6" stroke="#231f20" stroke-width="0.8"/>
<text x="465.6" y="505.6" font-size="9.2" text-anchor="end" transform="rotate(-45 465.6 505.6)">56</text>
<text x="413" y="533.2" font-size="9.7" text-anchor="middle">Days post-tamoxifen</text>
<text x="365.6" y="408.6" font-size="9.7">Dominance × density</text>
<text x="333.2" y="456.2" font-size="9.4" text-anchor="middle" transform="rotate(-90 333.2 456.2)">NDS</text>
<text x="488.8" y="411.2" font-size="10" fill="#000" font-weight="bold">h</text>
<circle cx="551.5" cy="422.8" r="2.3" fill="none" stroke="#d9484e" stroke-width="0.85"/>
<circle cx="557.5" cy="422" r="2.3" fill="none" stroke="#d9484e" stroke-width="0.85"/>
<circle cx="550.9" cy="428.9" r="2.3" fill="none" stroke="#d9484e" stroke-width="0.85"/>
<circle cx="557.5" cy="442.9" r="2.3" fill="none" stroke="#d9484e" stroke-width="0.85"/>
<circle cx="557.5" cy="456.4" r="2.3" fill="none" stroke="#d9484e" stroke-width="0.85"/>
<circle cx="557.5" cy="463.1" r="2.3" fill="none" stroke="#d9484e" stroke-width="0.85"/>
<circle cx="563.4" cy="463.1" r="2.3" fill="none" stroke="#d9484e" stroke-width="0.85"/>
<circle cx="563.4" cy="467.6" r="2.3" fill="none" stroke="#d9484e" stroke-width="0.85"/>
<circle cx="563.4" cy="470" r="2.3" fill="none" stroke="#d9484e" stroke-width="0.85"/>
<circle cx="569.6" cy="454.2" r="2.3" fill="none" stroke="#d9484e" stroke-width="0.85"/>
<circle cx="569.6" cy="456.4" r="2.3" fill="none" stroke="#d9484e" stroke-width="0.85"/>
<circle cx="569.6" cy="458.9" r="2.3" fill="none" stroke="#d9484e" stroke-width="0.85"/>
<circle cx="569.6" cy="462.9" r="2.3" fill="none" stroke="#d9484e" stroke-width="0.85"/>
<circle cx="569.6" cy="467.2" r="2.3" fill="none" stroke="#d9484e" stroke-width="0.85"/>
<circle cx="569.6" cy="479.1" r="2.3" fill="none" stroke="#d9484e" stroke-width="0.85"/>
<circle cx="569.6" cy="481.7" r="2.3" fill="none" stroke="#d9484e" stroke-width="0.85"/>
<circle cx="575.9" cy="466.5" r="2.3" fill="none" stroke="#d9484e" stroke-width="0.85"/>
<circle cx="575.9" cy="470.5" r="2.3" fill="none" stroke="#d9484e" stroke-width="0.85"/>
<circle cx="575.9" cy="474" r="2.3" fill="none" stroke="#d9484e" stroke-width="0.85"/>
<circle cx="575.9" cy="478.1" r="2.3" fill="none" stroke="#d9484e" stroke-width="0.85"/>
<circle cx="594.7" cy="463.2" r="2.3" fill="none" stroke="#d9484e" stroke-width="0.85"/>
<circle cx="594.7" cy="473.6" r="2.3" fill="none" stroke="#d9484e" stroke-width="0.85"/>
<circle cx="594.7" cy="475.3" r="2.3" fill="none" stroke="#d9484e" stroke-width="0.85"/>
<circle cx="594.7" cy="477.4" r="2.3" fill="none" stroke="#d9484e" stroke-width="0.85"/>
<circle cx="594.7" cy="479.9" r="2.3" fill="none" stroke="#d9484e" stroke-width="0.85"/>
<circle cx="594.7" cy="482.4" r="2.3" fill="none" stroke="#d9484e" stroke-width="0.85"/>
<circle cx="594.7" cy="485.5" r="2.3" fill="none" stroke="#d9484e" stroke-width="0.85"/>
<circle cx="607.4" cy="471" r="2.3" fill="none" stroke="#d9484e" stroke-width="0.85"/>
<circle cx="607.4" cy="473.6" r="2.3" fill="none" stroke="#d9484e" stroke-width="0.85"/>
<circle cx="607.4" cy="490.6" r="2.3" fill="none" stroke="#d9484e" stroke-width="0.85"/>
<circle cx="607.4" cy="493.9" r="2.3" fill="none" stroke="#d9484e" stroke-width="0.85"/>
<circle cx="669.3" cy="484.2" r="2.3" fill="none" stroke="#d9484e" stroke-width="0.85"/>
<circle cx="669.3" cy="491.3" r="2.3" fill="none" stroke="#d9484e" stroke-width="0.85"/>
<circle cx="669.3" cy="495.1" r="2.3" fill="none" stroke="#d9484e" stroke-width="0.85"/>
<path d="M546.9 414.2L548.2 419.2L549.4 423.8L550.7 428.1L551.9 432L553.2 435.7L554.4 439.2L555.7 442.4L556.9 445.3L558.2 448.1L559.4 450.7L560.7 453L562 455.3L563.2 457.3L564.5 459.2L565.7 461L567 462.7L568.2 464.2L569.5 465.6L570.7 467L572 468.2L573.2 469.3L574.5 470.4L575.8 471.4L577 472.3L578.3 473.2L579.5 474L580.8 474.7L582 475.4L583.3 476.1L584.5 476.7L585.8 477.2L587 477.7L588.3 478.2L589.5 478.6L590.8 479.1L592.1 479.4L593.3 479.8L594.6 480.1L595.8 480.4L597.1 480.7L598.3 481L599.6 481.2L600.8 481.5L602.1 481.7L603.3 481.9L604.6 482.1L605.8 482.2L607.1 482.4L608.4 482.6L609.6 482.7L610.9 482.8L612.1 482.9L613.4 483L614.6 483.2L615.9 483.2L617.1 483.3L618.4 483.4L619.6 483.5L620.9 483.6L622.1 483.6L623.4 483.7L624.7 483.8L625.9 483.8L627.2 483.9L628.4 483.9L629.7 483.9L630.9 484L632.2 484L633.4 484.1L634.7 484.1L635.9 484.1L637.2 484.1L638.4 484.2L639.7 484.2L641 484.2L642.2 484.2L643.5 484.3L644.7 484.3L646 484.3L647.2 484.3L648.5 484.3L649.7 484.3L651 484.4L652.2 484.4L653.5 484.4L654.8 484.4L656 484.4L657.3 484.4L658.5 484.4L659.8 484.4L661 484.4L662.3 484.4L663.5 484.4L664.8 484.4L666 484.4L667.3 484.5L668.5 484.5L669.8 484.5" fill="none" stroke="#231f20" stroke-width="0.9"/>
<rect x="544.4" y="414.2" width="130.4" height="83.7" fill="none" stroke="#231f20" stroke-width="0.8"/>
<line x1="542.8" y1="497.9" x2="544.4" y2="497.9" stroke="#231f20" stroke-width="0.8"/>
<text x="541.7" y="501.4" font-size="9.6" text-anchor="end">0</text>
<line x1="542.8" y1="481.2" x2="544.4" y2="481.2" stroke="#231f20" stroke-width="0.8"/>
<text x="541.7" y="484.7" font-size="9.6" text-anchor="end">20</text>
<line x1="542.8" y1="464.4" x2="544.4" y2="464.4" stroke="#231f20" stroke-width="0.8"/>
<text x="541.7" y="467.9" font-size="9.6" text-anchor="end">40</text>
<line x1="542.8" y1="447.7" x2="544.4" y2="447.7" stroke="#231f20" stroke-width="0.8"/>
<text x="541.7" y="451.2" font-size="9.6" text-anchor="end">60</text>
<line x1="542.8" y1="431" x2="544.4" y2="431" stroke="#231f20" stroke-width="0.8"/>
<text x="541.7" y="434.5" font-size="9.6" text-anchor="end">80</text>
<line x1="542.8" y1="414.2" x2="544.4" y2="414.2" stroke="#231f20" stroke-width="0.8"/>
<text x="541.7" y="417.8" font-size="9.6" text-anchor="end">100</text>
<line x1="544.4" y1="497.9" x2="544.4" y2="500.5" stroke="#231f20" stroke-width="0.8"/>
<text x="544.4" y="508.2" font-size="9.6" text-anchor="middle">0</text>
<line x1="575.8" y1="497.9" x2="575.8" y2="500.5" stroke="#231f20" stroke-width="0.8"/>
<text x="575.8" y="508.2" font-size="9.6" text-anchor="middle">5</text>
<line x1="607.1" y1="497.9" x2="607.1" y2="500.5" stroke="#231f20" stroke-width="0.8"/>
<text x="607.1" y="508.2" font-size="9.6" text-anchor="middle">10</text>
<line x1="638.4" y1="497.9" x2="638.4" y2="500.5" stroke="#231f20" stroke-width="0.8"/>
<text x="638.4" y="508.2" font-size="9.6" text-anchor="middle">15</text>
<line x1="669.8" y1="497.9" x2="669.8" y2="500.5" stroke="#231f20" stroke-width="0.8"/>
<text x="669.8" y="508.2" font-size="9.6" text-anchor="middle">20</text>
<text x="669.4" y="425.4" font-size="9.4" text-anchor="end">Half-life 1.9 weeks</text>
<text x="669.6" y="436.8" font-size="9.4" text-anchor="end">(95% CI 1.1–3.8 weeks)</text>
<text x="609" y="526.1" font-size="9.4" text-anchor="middle">Weeks post-tamoxifen</text>
<text x="511.3" y="457.6" font-size="9.7" text-anchor="middle" transform="rotate(-90 511.3 457.6)">Fate-mapped</text>
<text x="522.4" y="457.6" font-size="9.7" text-anchor="middle" transform="rotate(-90 522.4 457.6)">germinal-centre B cells (%)</text>
</svg>
</body></html>
